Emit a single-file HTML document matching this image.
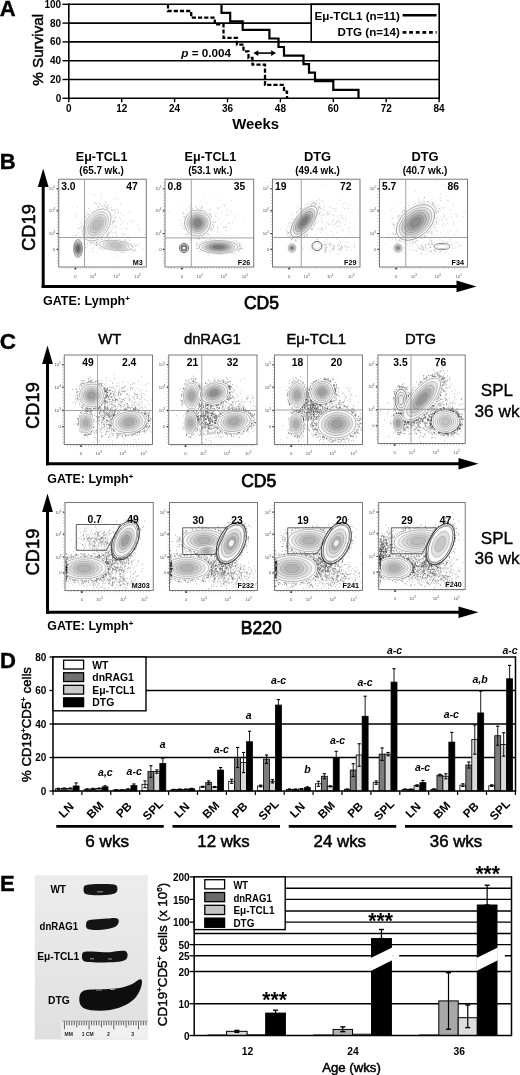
<!DOCTYPE html>
<html><head><meta charset="utf-8"><style>
html,body{margin:0;padding:0;background:#fff;}
body{width:520px;height:1075px;overflow:hidden;}
svg{display:block;font-family:"Liberation Sans", sans-serif;will-change:transform;}
</style></head><body>
<svg width="520" height="1075" viewBox="0 0 520 1075">
<rect width="520" height="1075" fill="#fff"/>
<text x="-0.3" y="16.3" font-size="22" font-weight="bold" text-anchor="start" stroke="#000" stroke-width="0.4">A</text>
<line x1="68.80" y1="98.30" x2="439.20" y2="98.30" stroke="#000" stroke-width="1.6" />
<line x1="62.50" y1="98.30" x2="68.80" y2="98.30" stroke="#000" stroke-width="1.4" />
<text x="61.2" y="101.8" font-size="10" font-weight="bold" text-anchor="end" >0</text>
<line x1="68.80" y1="79.50" x2="439.20" y2="79.50" stroke="#000" stroke-width="1.6" />
<line x1="62.50" y1="79.50" x2="68.80" y2="79.50" stroke="#000" stroke-width="1.4" />
<text x="61.2" y="83.0" font-size="10" font-weight="bold" text-anchor="end" >20</text>
<line x1="68.80" y1="60.70" x2="439.20" y2="60.70" stroke="#000" stroke-width="1.6" />
<line x1="62.50" y1="60.70" x2="68.80" y2="60.70" stroke="#000" stroke-width="1.4" />
<text x="61.2" y="64.2" font-size="10" font-weight="bold" text-anchor="end" >40</text>
<line x1="68.80" y1="41.90" x2="439.20" y2="41.90" stroke="#000" stroke-width="1.6" />
<line x1="62.50" y1="41.90" x2="68.80" y2="41.90" stroke="#000" stroke-width="1.4" />
<text x="61.2" y="45.4" font-size="10" font-weight="bold" text-anchor="end" >60</text>
<line x1="68.80" y1="23.10" x2="439.20" y2="23.10" stroke="#000" stroke-width="1.6" />
<line x1="62.50" y1="23.10" x2="68.80" y2="23.10" stroke="#000" stroke-width="1.4" />
<text x="61.2" y="26.6" font-size="10" font-weight="bold" text-anchor="end" >80</text>
<line x1="68.80" y1="4.30" x2="439.20" y2="4.30" stroke="#000" stroke-width="1.6" />
<line x1="62.50" y1="4.30" x2="68.80" y2="4.30" stroke="#000" stroke-width="1.4" />
<text x="61.2" y="7.8" font-size="10" font-weight="bold" text-anchor="end" >100</text>
<line x1="68.80" y1="3.50" x2="68.80" y2="99.10" stroke="#000" stroke-width="1.6" />
<line x1="439.20" y1="3.50" x2="439.20" y2="99.10" stroke="#000" stroke-width="1.6" />
<line x1="68.80" y1="98.30" x2="68.80" y2="102.30" stroke="#000" stroke-width="1.4" />
<text x="68.8" y="111.8" font-size="10" font-weight="bold" text-anchor="middle" >0</text>
<line x1="121.70" y1="98.30" x2="121.70" y2="102.30" stroke="#000" stroke-width="1.4" />
<text x="121.7" y="111.8" font-size="10" font-weight="bold" text-anchor="middle" >12</text>
<line x1="174.60" y1="98.30" x2="174.60" y2="102.30" stroke="#000" stroke-width="1.4" />
<text x="174.6" y="111.8" font-size="10" font-weight="bold" text-anchor="middle" >24</text>
<line x1="227.50" y1="98.30" x2="227.50" y2="102.30" stroke="#000" stroke-width="1.4" />
<text x="227.5" y="111.8" font-size="10" font-weight="bold" text-anchor="middle" >36</text>
<line x1="280.40" y1="98.30" x2="280.40" y2="102.30" stroke="#000" stroke-width="1.4" />
<text x="280.4" y="111.8" font-size="10" font-weight="bold" text-anchor="middle" >48</text>
<line x1="333.30" y1="98.30" x2="333.30" y2="102.30" stroke="#000" stroke-width="1.4" />
<text x="333.3" y="111.8" font-size="10" font-weight="bold" text-anchor="middle" >60</text>
<line x1="386.20" y1="98.30" x2="386.20" y2="102.30" stroke="#000" stroke-width="1.4" />
<text x="386.2" y="111.8" font-size="10" font-weight="bold" text-anchor="middle" >72</text>
<line x1="439.10" y1="98.30" x2="439.10" y2="102.30" stroke="#000" stroke-width="1.4" />
<text x="439.1" y="111.8" font-size="10" font-weight="bold" text-anchor="middle" >84</text>
<text x="255.7" y="128.8" font-size="15" font-weight="bold" text-anchor="middle" textLength="46.9" lengthAdjust="spacingAndGlyphs" >Weeks</text>
<text transform="translate(42.8,49.8) rotate(-90)" font-size="15.5" text-anchor="middle" textLength="72" lengthAdjust="spacingAndGlyphs" stroke="#000" stroke-width="0.45">% Survival</text>
<rect x="311.2" y="4.3" width="128" height="37.60" fill="#fff" stroke="#000" stroke-width="1.6"/>
<text x="399.8" y="20.0" font-size="11.6" font-weight="bold" text-anchor="end" textLength="85.3" lengthAdjust="spacingAndGlyphs" >E&#956;-TCL1 (n=11)</text>
<text x="399.8" y="36.3" font-size="11.6" font-weight="bold" text-anchor="end" textLength="62.2" lengthAdjust="spacingAndGlyphs" >DTG (n=14)</text>
<line x1="402.60" y1="15.20" x2="436.60" y2="15.20" stroke="#000" stroke-width="2.6" />
<line x1="402.60" y1="32.40" x2="436.60" y2="32.40" stroke="#000" stroke-width="2.6" stroke-dasharray="3.8 2.8"/>
<path d="M221.5,4.3 L221.5,12.8 L230.2,12.8 L230.2,21.4 L242.7,21.4 L242.7,29.9 L269.4,29.9 L269.4,38.5 L278.5,38.5 L278.5,47.0 L284.0,47.0 L284.0,55.6 L303.5,55.6 L303.5,64.1 L309.0,64.1 L309.0,72.7 L315.0,72.7 L315.0,81.2 L333.3,81.2 L333.3,89.8 L358.5,89.8 L358.5,98.3" fill="none" stroke="#000" stroke-width="2.2"/>
<path d="M168.0,4.3 L168.0,11.0 L191.2,11.0 L191.2,17.7 L214.8,17.7 L214.8,24.4 L223.5,24.4 L223.5,37.9 L237.0,37.9 L237.0,44.6 L243.5,44.6 L243.5,51.3 L248.5,51.3 L248.5,58.0 L252.5,58.0 L252.5,64.7 L265.0,64.7 L265.0,84.9 L284.0,84.9 L284.0,91.6 L287.0,91.6 L287.0,98.3" fill="none" stroke="#000" stroke-width="2.3" stroke-dasharray="4.2 2"/>
<text x="181.3" y="57" font-size="11.8" font-weight="bold" textLength="49.7" lengthAdjust="spacingAndGlyphs"><tspan font-style="italic">p</tspan> = 0.004</text>
<line x1="256.00" y1="53.10" x2="273.50" y2="53.10" stroke="#000" stroke-width="1.6" />
<path d="M253.3,53.1 l5,-2.8 v5.6z M276.1,53.1 l-5,-2.8 v5.6z" fill="#000"/>
<text x="-0.3" y="168.6" font-size="22" font-weight="bold" text-anchor="start" stroke="#000" stroke-width="0.4">B</text>
<line x1="43.20" y1="287.90" x2="43.20" y2="182.50" stroke="#000" stroke-width="3" />
<line x1="41.70" y1="286.40" x2="460.50" y2="286.40" stroke="#000" stroke-width="3" />
<path d="M43.2,168.5 L37.8,187.0 L48.6,187.0z" fill="#000"/>
<path d="M476.5,286.4 L456.5,280.6 L456.5,292.2z" fill="#000"/>
<text transform="translate(34.6,227.5) rotate(-90)" font-size="18.3" text-anchor="middle" stroke="#000" stroke-width="0.55">CD19</text>
<text x="261.5" y="309.3" font-size="17.5" font-weight="normal" text-anchor="middle" stroke="#000" stroke-width="0.75">CD5</text>
<text x="42.9" y="305.3" font-size="12.6" font-weight="bold" text-anchor="start" textLength="87" lengthAdjust="spacingAndGlyphs" >GATE: Lymph<tspan dy="-4.5" font-size="8">+</tspan></text>
<text x="101.6" y="161.2" font-size="12.9" font-weight="bold" text-anchor="middle" textLength="51.6" lengthAdjust="spacingAndGlyphs" >E&#956;-TCL1</text>
<text x="101.6" y="173.6" font-size="10.3" font-weight="bold" text-anchor="middle" textLength="44.5" lengthAdjust="spacingAndGlyphs" >(65.7 wk.)</text>
<text x="210.4" y="161.2" font-size="12.9" font-weight="bold" text-anchor="middle" textLength="51.6" lengthAdjust="spacingAndGlyphs" >E&#956;-TCL1</text>
<text x="210.4" y="173.6" font-size="10.3" font-weight="bold" text-anchor="middle" textLength="44.5" lengthAdjust="spacingAndGlyphs" >(53.1 wk.)</text>
<text x="317.5" y="161.2" font-size="12.9" font-weight="bold" text-anchor="middle" >DTG</text>
<text x="317.5" y="173.6" font-size="10.3" font-weight="bold" text-anchor="middle" textLength="44.5" lengthAdjust="spacingAndGlyphs" >(49.4 wk.)</text>
<text x="425.0" y="161.2" font-size="12.9" font-weight="bold" text-anchor="middle" >DTG</text>
<text x="425.0" y="173.6" font-size="10.3" font-weight="bold" text-anchor="middle" textLength="44.5" lengthAdjust="spacingAndGlyphs" >(40.7 wk.)</text>
<rect x="58.75" y="179.20" width="87.50" height="87.80" fill="none" stroke="#6a6a6a" stroke-width="0.9"/>
<line x1="57.55" y1="182.20" x2="57.55" y2="265.00" stroke="#999" stroke-width="1.2" stroke-dasharray="0.6 2.4"/>
<line x1="61.75" y1="268.20" x2="144.25" y2="268.20" stroke="#999" stroke-width="1.2" stroke-dasharray="0.6 2.4"/>
<text x="55.2" y="190.4" font-size="4.2" fill="#555" text-anchor="end">10<tspan dy="-2" font-size="3">5</tspan></text>
<rect x="56.5" y="188.3" width="1.6" height="1.2" fill="#333"/>
<text x="55.2" y="212.3" font-size="4.2" fill="#555" text-anchor="end">10<tspan dy="-2" font-size="3">4</tspan></text>
<rect x="56.5" y="210.2" width="1.6" height="1.2" fill="#333"/>
<text x="55.2" y="235.1" font-size="4.2" fill="#555" text-anchor="end">10<tspan dy="-2" font-size="3">3</tspan></text>
<rect x="56.5" y="233.0" width="1.6" height="1.2" fill="#333"/>
<text x="55.2" y="250.9" font-size="4.2" fill="#555" text-anchor="end">0</text>
<rect x="56.5" y="248.8" width="1.6" height="1.2" fill="#333"/>
<text x="75.4" y="277.5" font-size="4.2" fill="#555" text-anchor="middle">0</text>
<text x="92.9" y="277.5" font-size="4.2" fill="#555" text-anchor="middle">10<tspan dy="-2" font-size="3">3</tspan></text>
<text x="116.5" y="277.5" font-size="4.2" fill="#555" text-anchor="middle">10<tspan dy="-2" font-size="3">4</tspan></text>
<text x="137.5" y="277.5" font-size="4.2" fill="#555" text-anchor="middle">10<tspan dy="-2" font-size="3">5</tspan></text>
<rect x="74.6" y="267.8" width="1.6" height="1.6" fill="#222"/>
<clipPath id="cp1"><rect x="59.25" y="179.70" width="86.50" height="86.80"/></clipPath><g clip-path="url(#cp1)">
<path d="M84.4 230.9h0.8M119.9 219.3h0.8M82.7 225.1h0.8M111.6 240.3h0.8M84.5 209.2h0.8M115.3 232.2h0.8M128.5 238.8h0.8M102.4 222.4h0.8M91.4 211.2h0.8M105.5 227.9h0.8M98.5 225.2h0.8M108.4 235.0h0.8M121.5 228.7h0.8M75.4 235.1h0.8M81.3 223.8h0.8M80.4 226.0h0.8M91.5 228.8h0.8M117.5 208.8h0.8M99.4 234.6h0.8M102.5 230.8h0.8M105.7 212.9h0.8M113.0 215.4h0.8M133.9 219.4h0.8M115.0 226.0h0.8M119.2 218.2h0.8M120.0 224.4h0.8M124.2 234.1h0.8M106.3 215.9h0.8M116.3 232.1h0.8M130.3 221.1h0.8M112.9 232.6h0.8M108.5 228.7h0.8M106.9 218.2h0.8M87.8 220.8h0.8M113.5 245.6h0.8M119.6 239.7h0.8M116.4 235.1h0.8M106.9 236.0h0.8M132.4 221.7h0.8M92.9 251.5h0.8M107.9 238.6h0.8M118.0 211.2h0.8M142.9 249.1h0.8M106.8 235.8h0.8M106.0 214.5h0.8M102.2 230.9h0.8M121.9 235.2h0.8M105.0 243.6h0.8M91.8 236.3h0.8M121.8 222.2h0.8M75.4 214.2h0.8M107.8 232.9h0.8M128.8 212.9h0.8M104.0 234.4h0.8M101.5 195.2h0.8M116.9 256.1h0.8M120.1 214.1h0.8M97.4 228.9h0.8M143.8 234.0h0.8M105.8 246.2h0.8M102.7 250.2h0.8M93.0 219.8h0.8M115.5 244.5h0.8M114.5 229.9h0.8M74.9 216.7h0.8M94.2 219.1h0.8M113.4 221.6h0.8M116.6 227.1h0.8M98.7 227.5h0.8M110.9 237.2h0.8M96.4 223.0h0.8M82.2 246.8h0.8M127.2 223.7h0.8M96.3 209.9h0.8M106.7 228.7h0.8M138.9 229.2h0.8M91.6 194.2h0.8M126.6 228.5h0.8M78.3 228.3h0.8M121.9 233.4h0.8M101.2 198.2h0.8M102.0 205.8h0.8M113.5 198.2h0.8M89.5 241.9h0.8M130.3 210.6h0.8M79.5 237.4h0.8M117.6 213.2h0.8M92.9 217.0h0.8M85.0 217.2h0.8M124.0 235.0h0.8M136.9 224.9h0.8M101.8 213.2h0.8M102.0 208.9h0.8M75.6 235.1h0.8M127.0 236.9h0.8M125.3 229.3h0.8M92.5 227.1h0.8M98.0 211.6h0.8M76.9 206.7h0.8M103.9 228.0h0.8M96.4 244.6h0.8M106.9 233.6h0.8M123.5 215.3h0.8M72.5 235.8h0.8M93.0 243.0h0.8M109.4 239.1h0.8M116.2 199.0h0.8M115.5 217.2h0.8M91.9 220.3h0.8M116.3 237.5h0.8M120.2 204.4h0.8M94.6 195.1h0.8M102.4 233.8h0.8M91.8 229.2h0.8M107.7 239.1h0.8M90.9 215.2h0.8M91.8 248.8h0.8" stroke="#888" stroke-opacity="0.6" stroke-width="0.8" fill="none"/>
<path d="M108.3 230.3h0.7M104.4 234.6h0.7M115.2 217.2h0.7M92.6 211.7h0.7M83.8 236.5h0.7M95.3 241.0h0.7M80.6 222.0h0.7M86.9 241.1h0.7M94.4 244.8h0.7M83.7 223.5h0.7M98.3 206.6h0.7M112.3 228.3h0.7M103.1 207.7h0.7M90.6 244.6h0.7M108.4 234.9h0.7M91.5 242.0h0.7M83.4 241.1h0.7M86.9 214.4h0.7M96.7 210.2h0.7M111.9 210.0h0.7M115.9 221.2h0.7M107.6 205.5h0.7M95.6 244.4h0.7M111.6 222.5h0.7M77.8 232.7h0.7M111.8 210.7h0.7M112.9 226.5h0.7M89.2 242.1h0.7M106.5 207.5h0.7M107.4 205.1h0.7M85.5 248.1h0.7M111.3 230.9h0.7M89.9 214.8h0.7M112.8 222.3h0.7M111.6 217.1h0.7M83.6 224.1h0.7M91.1 213.9h0.7M106.1 236.2h0.7M114.3 209.9h0.7M91.6 243.4h0.7M83.0 234.6h0.7M94.0 242.5h0.7M88.2 216.4h0.7M105.4 202.8h0.7M115.3 226.9h0.7M99.8 238.5h0.7M87.1 243.2h0.7M106.2 209.1h0.7M99.6 203.5h0.7M91.8 212.8h0.7M80.2 239.3h0.7M114.3 220.9h0.7M87.1 245.9h0.7M86.0 212.5h0.7M92.8 211.6h0.7M85.6 216.5h0.7M95.3 203.3h0.7M87.9 216.2h0.7M82.2 228.5h0.7M84.6 217.8h0.7M104.6 205.2h0.7M82.3 227.1h0.7M110.5 227.7h0.7M85.2 220.7h0.7M95.9 245.3h0.7M112.7 221.2h0.7M85.6 220.4h0.7M97.0 208.4h0.7M113.2 224.0h0.7M106.8 235.8h0.7M90.3 241.8h0.7M79.5 238.5h0.7M82.1 233.1h0.7M106.7 208.6h0.7M96.5 242.3h0.7M90.2 241.2h0.7M88.4 214.1h0.7M82.6 227.1h0.7M89.1 215.1h0.7M98.3 207.9h0.7M99.5 203.5h0.7M96.4 209.4h0.7M111.4 217.3h0.7M114.4 210.1h0.7M111.6 221.7h0.7M112.2 223.8h0.7M85.3 247.4h0.7M95.6 240.5h0.7M87.1 240.5h0.7M99.1 241.0h0.7M114.9 212.5h0.7M96.2 242.7h0.7M83.2 228.1h0.7M89.8 241.6h0.7M105.0 201.6h0.7M97.3 243.8h0.7M87.8 217.8h0.7M104.2 205.0h0.7M90.4 242.5h0.7M104.0 235.3h0.7M89.9 211.2h0.7M94.4 241.1h0.7M90.7 242.9h0.7M110.7 232.8h0.7M110.8 224.3h0.7M109.6 226.9h0.7M85.2 222.0h0.7M83.6 221.0h0.7M86.6 215.1h0.7M106.5 233.7h0.7M104.5 207.8h0.7M83.8 222.7h0.7M107.7 208.2h0.7M92.6 242.2h0.7M84.8 214.0h0.7M110.3 212.6h0.7M105.6 206.1h0.7M80.5 228.5h0.7M94.5 203.1h0.7M110.1 213.2h0.7M83.2 243.4h0.7M110.9 209.3h0.7M114.9 210.2h0.7M114.3 218.4h0.7M103.7 208.3h0.7M78.8 228.7h0.7M107.0 206.8h0.7M84.9 221.1h0.7M107.2 233.9h0.7M97.7 206.6h0.7M85.2 244.7h0.7M81.9 235.0h0.7M101.5 205.4h0.7M81.7 229.8h0.7M108.3 232.9h0.7M110.7 207.3h0.7M110.5 231.0h0.7M107.0 209.2h0.7M85.7 240.2h0.7M90.2 241.7h0.7M81.3 231.4h0.7M111.8 222.0h0.7M88.2 208.5h0.7M92.6 212.6h0.7M109.0 232.6h0.7M101.6 241.2h0.7M95.2 211.1h0.7M110.7 224.7h0.7M92.9 242.9h0.7M87.1 218.7h0.7M96.2 203.9h0.7M81.5 226.5h0.7M88.3 214.6h0.7M83.5 239.3h0.7M100.7 206.7h0.7M105.6 208.2h0.7M82.5 239.1h0.7M103.4 235.4h0.7M93.6 241.0h0.7M113.5 220.7h0.7" stroke="#777" stroke-opacity="0.7" stroke-width="0.7" fill="none"/>
<path d="M116.6 237.0h0.7M135.8 245.5h0.7M134.2 250.1h0.7M96.7 244.3h0.7M133.0 246.4h0.7M136.6 245.1h0.7M112.0 236.8h0.7M124.4 241.2h0.7M99.4 239.9h0.7M95.8 245.1h0.7M121.6 252.3h0.7M128.8 250.7h0.7M97.8 245.6h0.7M113.8 251.5h0.7M96.1 240.0h0.7M96.0 242.2h0.7M139.5 247.9h0.7M116.8 251.2h0.7M132.7 251.7h0.7M101.2 239.4h0.7M104.3 248.4h0.7M94.9 240.5h0.7M98.2 240.1h0.7M123.5 252.4h0.7M115.4 253.2h0.7M129.5 243.2h0.7M135.3 249.0h0.7M99.6 246.2h0.7M101.4 239.6h0.7M133.8 250.0h0.7M132.2 250.2h0.7M101.8 239.3h0.7M101.7 248.2h0.7M105.9 248.7h0.7M116.0 240.2h0.7M129.0 250.6h0.7M124.7 240.3h0.7M120.4 252.3h0.7M100.4 246.2h0.7M98.7 249.0h0.7M104.8 239.3h0.7M99.8 242.3h0.7M116.1 239.3h0.7M102.6 248.2h0.7M130.5 250.1h0.7M131.4 249.8h0.7M94.8 240.6h0.7M110.2 249.9h0.7M119.7 240.2h0.7M106.9 239.9h0.7M132.4 250.0h0.7M108.6 238.2h0.7M111.4 250.7h0.7M113.6 239.4h0.7M100.9 248.7h0.7M96.9 240.8h0.7M138.7 244.2h0.7M96.9 245.8h0.7M122.5 241.1h0.7M99.2 247.3h0.7M134.1 245.1h0.7M103.4 248.5h0.7M102.5 248.5h0.7M100.3 247.7h0.7M123.4 253.0h0.7M96.9 242.0h0.7M126.5 241.7h0.7M117.6 240.3h0.7M128.9 243.4h0.7M98.4 243.1h0.7M90.3 240.6h0.7M104.1 239.1h0.7M123.9 240.2h0.7M121.1 240.5h0.7M135.4 251.0h0.7M132.7 243.7h0.7M131.6 249.9h0.7M116.1 240.0h0.7M106.3 240.4h0.7M118.5 239.9h0.7M98.9 243.0h0.7M104.4 249.6h0.7M135.0 246.4h0.7M95.5 241.9h0.7M113.1 239.5h0.7M93.6 247.3h0.7M126.3 241.0h0.7M125.0 239.7h0.7M129.3 240.5h0.7M101.5 238.5h0.7" stroke="#777" stroke-opacity="0.7" stroke-width="0.7" fill="none"/>
<ellipse cx="116.0" cy="245.5" rx="17.60" ry="5.60" transform="rotate(6 116.0 245.5)" fill="#fff" stroke="#fff" stroke-width="1.4"/>
<ellipse cx="116.0" cy="245.5" rx="17.00" ry="5.00" transform="rotate(6 116.0 245.5)" fill="#fafafa" stroke="#999" stroke-width="0.65"/>
<ellipse cx="116.0" cy="245.5" rx="13.39" ry="3.94" transform="rotate(6 116.0 245.5)" fill="#e9e9e9" stroke="#999" stroke-width="0.42"/>
<ellipse cx="116.0" cy="245.5" rx="9.77" ry="2.88" transform="rotate(6 116.0 245.5)" fill="#d7d7d7" stroke="#999" stroke-width="0.42"/>
<ellipse cx="116.0" cy="245.5" rx="6.16" ry="1.81" transform="rotate(6 116.0 245.5)" fill="#c6c6c6" stroke="#999" stroke-width="0.42"/>
<ellipse cx="97.0" cy="225.0" rx="12.10" ry="18.60" transform="rotate(35 97.0 225.0)" fill="#fff" stroke="#fff" stroke-width="1.4"/>
<ellipse cx="97.0" cy="225.0" rx="11.50" ry="18.00" transform="rotate(35 97.0 225.0)" fill="#fafafa" stroke="#999" stroke-width="0.65"/>
<ellipse cx="97.0" cy="225.0" rx="9.54" ry="14.94" transform="rotate(35 97.0 225.0)" fill="#ebebeb" stroke="#999" stroke-width="0.42"/>
<ellipse cx="97.0" cy="225.0" rx="7.59" ry="11.88" transform="rotate(35 97.0 225.0)" fill="#dbdbdb" stroke="#999" stroke-width="0.42"/>
<ellipse cx="97.0" cy="225.0" rx="5.63" ry="8.82" transform="rotate(35 97.0 225.0)" fill="#cccccc" stroke="#999" stroke-width="0.42"/>
<ellipse cx="97.0" cy="225.0" rx="3.68" ry="5.76" transform="rotate(35 97.0 225.0)" fill="#bcbcbc" stroke="#999" stroke-width="0.42"/>
<ellipse cx="78.0" cy="248.5" rx="5.00" ry="9.60" transform="rotate(0 78.0 248.5)" fill="#fff" stroke="#fff" stroke-width="1.4"/>
<ellipse cx="78.0" cy="248.5" rx="4.40" ry="9.00" transform="rotate(0 78.0 248.5)" fill="#fafafa" stroke="#555" stroke-width="0.65"/>
<ellipse cx="78.0" cy="248.5" rx="3.65" ry="7.47" transform="rotate(0 78.0 248.5)" fill="#d5d5d5" stroke="#555" stroke-width="0.42"/>
<ellipse cx="78.0" cy="248.5" rx="2.90" ry="5.94" transform="rotate(0 78.0 248.5)" fill="#b0b0b0" stroke="#555" stroke-width="0.42"/>
<ellipse cx="78.0" cy="248.5" rx="2.16" ry="4.41" transform="rotate(0 78.0 248.5)" fill="#8b8b8b" stroke="#555" stroke-width="0.42"/>
<ellipse cx="78.0" cy="248.5" rx="1.41" ry="2.88" transform="rotate(0 78.0 248.5)" fill="#666666" stroke="#555" stroke-width="0.42"/>
</g>
<line x1="84.50" y1="179.20" x2="84.50" y2="267.00" stroke="#8a8a8a" stroke-width="0.8" />
<line x1="58.75" y1="237.50" x2="146.25" y2="237.50" stroke="#8a8a8a" stroke-width="0.8" />
<text x="61.2" y="189.5" font-size="10.3" font-weight="bold" text-anchor="start" >3.0</text>
<text x="137.8" y="189.5" font-size="10.3" font-weight="bold" text-anchor="end" >47</text>
<text x="142.8" y="264.5" font-size="7.2" font-weight="bold" text-anchor="end" >M3</text>
<rect x="165.00" y="179.20" width="88.75" height="87.80" fill="none" stroke="#6a6a6a" stroke-width="0.9"/>
<line x1="163.80" y1="182.20" x2="163.80" y2="265.00" stroke="#999" stroke-width="1.2" stroke-dasharray="0.6 2.4"/>
<line x1="168.00" y1="268.20" x2="251.75" y2="268.20" stroke="#999" stroke-width="1.2" stroke-dasharray="0.6 2.4"/>
<text x="161.5" y="190.4" font-size="4.2" fill="#555" text-anchor="end">10<tspan dy="-2" font-size="3">5</tspan></text>
<rect x="162.8" y="188.3" width="1.6" height="1.2" fill="#333"/>
<text x="161.5" y="212.3" font-size="4.2" fill="#555" text-anchor="end">10<tspan dy="-2" font-size="3">4</tspan></text>
<rect x="162.8" y="210.2" width="1.6" height="1.2" fill="#333"/>
<text x="161.5" y="235.1" font-size="4.2" fill="#555" text-anchor="end">10<tspan dy="-2" font-size="3">3</tspan></text>
<rect x="162.8" y="233.0" width="1.6" height="1.2" fill="#333"/>
<text x="161.5" y="250.9" font-size="4.2" fill="#555" text-anchor="end">0</text>
<rect x="162.8" y="248.8" width="1.6" height="1.2" fill="#333"/>
<text x="181.9" y="277.5" font-size="4.2" fill="#555" text-anchor="middle">0</text>
<text x="199.6" y="277.5" font-size="4.2" fill="#555" text-anchor="middle">10<tspan dy="-2" font-size="3">3</tspan></text>
<text x="223.6" y="277.5" font-size="4.2" fill="#555" text-anchor="middle">10<tspan dy="-2" font-size="3">4</tspan></text>
<text x="244.9" y="277.5" font-size="4.2" fill="#555" text-anchor="middle">10<tspan dy="-2" font-size="3">5</tspan></text>
<rect x="181.1" y="267.8" width="1.6" height="1.6" fill="#222"/>
<clipPath id="cp2"><rect x="165.50" y="179.70" width="87.75" height="86.80"/></clipPath><g clip-path="url(#cp2)">
<path d="M184.0 218.7h0.8M218.1 208.1h0.8M203.1 225.8h0.8M204.3 228.0h0.8M217.4 236.1h0.8M199.6 257.7h0.8M226.4 226.4h0.8M231.5 235.4h0.8M213.8 213.3h0.8M230.4 227.9h0.8M177.9 206.5h0.8M220.4 223.5h0.8M217.0 231.0h0.8M214.6 244.2h0.8M201.4 216.4h0.8M217.8 232.4h0.8M226.2 242.8h0.8M203.4 238.3h0.8M220.4 207.4h0.8M209.5 251.2h0.8M226.1 215.4h0.8M168.8 211.7h0.8M199.4 223.1h0.8M217.6 208.9h0.8M190.6 219.1h0.8M203.6 264.1h0.8M204.7 213.4h0.8M232.3 223.1h0.8M189.8 240.1h0.8M206.4 203.4h0.8M217.8 228.8h0.8M205.9 231.8h0.8M226.8 209.6h0.8M175.0 188.5h0.8M209.7 239.2h0.8M230.0 241.5h0.8M245.4 222.2h0.8M231.0 200.6h0.8M224.4 227.5h0.8M210.3 215.8h0.8M191.9 224.0h0.8M235.0 216.9h0.8M221.6 212.7h0.8M216.6 207.9h0.8M218.8 218.9h0.8M217.7 213.5h0.8M190.8 217.4h0.8M230.7 244.1h0.8M206.2 233.2h0.8M225.7 227.5h0.8M184.1 226.5h0.8M194.5 238.5h0.8M226.2 230.6h0.8M166.4 230.7h0.8M224.6 204.1h0.8M229.5 223.1h0.8M208.7 212.0h0.8M193.7 215.9h0.8M215.7 212.9h0.8M200.9 214.3h0.8M196.0 234.3h0.8M207.1 234.1h0.8M191.2 235.0h0.8M211.5 231.3h0.8M210.1 209.6h0.8M233.8 215.9h0.8M209.4 209.6h0.8M215.7 216.5h0.8M217.1 226.8h0.8M199.6 202.3h0.8M219.8 234.8h0.8M224.5 206.0h0.8M222.9 227.4h0.8M217.1 228.0h0.8M206.2 225.0h0.8M228.7 214.9h0.8M186.1 220.5h0.8M215.5 196.2h0.8M199.8 230.3h0.8M209.3 223.3h0.8M189.3 234.7h0.8M243.6 219.2h0.8M198.8 205.8h0.8M228.0 223.5h0.8M197.7 239.0h0.8M225.8 230.4h0.8M180.3 220.5h0.8M223.3 204.9h0.8M228.7 242.0h0.8M230.6 211.9h0.8M199.3 235.2h0.8M229.9 239.2h0.8M233.6 220.6h0.8M204.6 196.0h0.8M226.1 253.9h0.8M203.7 215.3h0.8M223.7 227.2h0.8" stroke="#999" stroke-opacity="0.6" stroke-width="0.8" fill="none"/>
<path d="M185.4 216.7h0.7M211.0 216.5h0.7M188.4 233.9h0.7M210.6 220.8h0.7M207.6 234.6h0.7M183.9 217.5h0.7M185.0 218.0h0.7M215.6 222.1h0.7M203.2 210.3h0.7M203.7 210.8h0.7M194.0 237.0h0.7M184.9 216.7h0.7M204.4 210.6h0.7M211.4 230.2h0.7M213.1 226.2h0.7M215.4 215.9h0.7M189.7 211.1h0.7M196.2 206.8h0.7M185.3 234.2h0.7M212.7 224.6h0.7M202.0 236.6h0.7M187.5 231.7h0.7M184.5 216.9h0.7M196.2 238.5h0.7M184.2 216.9h0.7M213.0 226.8h0.7M189.6 208.4h0.7M183.2 212.6h0.7M182.0 226.0h0.7M192.0 209.3h0.7M198.2 210.0h0.7M213.2 222.5h0.7M205.1 210.7h0.7M183.9 229.0h0.7M183.4 216.8h0.7M183.1 220.7h0.7M184.1 229.1h0.7M210.8 227.8h0.7M195.0 207.1h0.7M185.0 214.2h0.7M197.7 208.9h0.7M211.9 229.8h0.7M208.6 234.0h0.7M186.4 231.4h0.7M210.7 227.5h0.7M198.6 238.7h0.7M192.5 236.5h0.7M210.3 228.9h0.7M211.4 214.3h0.7M206.7 212.8h0.7M185.6 229.4h0.7M197.2 208.4h0.7M184.8 217.3h0.7M201.1 209.9h0.7M210.7 236.0h0.7M211.8 223.1h0.7M198.0 236.6h0.7M211.3 228.7h0.7M208.5 214.5h0.7M188.1 234.9h0.7M185.8 216.1h0.7M208.1 215.2h0.7M190.9 240.2h0.7M210.4 221.1h0.7M184.2 225.3h0.7M210.7 216.0h0.7M209.1 214.2h0.7M187.0 236.7h0.7M182.5 225.6h0.7M214.7 222.5h0.7M201.7 236.4h0.7M207.8 213.3h0.7M212.7 227.9h0.7M191.6 237.1h0.7M210.1 213.9h0.7M207.9 234.8h0.7M192.4 208.5h0.7M209.8 229.7h0.7M199.9 237.1h0.7M202.9 238.5h0.7M203.1 235.1h0.7M201.6 207.1h0.7M186.7 234.2h0.7M183.0 213.8h0.7M199.4 237.6h0.7M188.5 207.3h0.7M195.2 236.5h0.7M211.2 221.5h0.7M182.8 228.8h0.7M210.5 226.8h0.7M186.7 215.2h0.7M202.3 209.1h0.7M209.3 230.2h0.7M197.9 239.8h0.7M194.9 237.2h0.7M208.2 214.9h0.7M213.0 221.8h0.7M197.6 209.5h0.7M185.9 233.3h0.7M203.5 235.8h0.7M184.0 218.1h0.7M189.5 210.6h0.7M200.7 207.6h0.7M205.0 212.0h0.7M190.0 205.9h0.7M203.8 235.2h0.7M200.2 208.6h0.7M198.9 238.7h0.7M184.8 228.0h0.7M201.9 206.5h0.7M198.8 237.6h0.7M186.0 216.7h0.7M181.4 223.1h0.7M194.5 209.6h0.7M184.9 216.8h0.7M205.6 234.5h0.7M212.9 224.7h0.7M185.3 227.7h0.7M196.4 236.2h0.7M209.1 215.4h0.7" stroke="#777" stroke-opacity="0.7" stroke-width="0.7" fill="none"/>
<path d="M196.3 243.6h0.7M220.1 253.9h0.7M230.5 252.3h0.7M210.5 253.2h0.7M202.7 242.0h0.7M201.6 243.5h0.7M235.7 250.6h0.7M217.9 254.0h0.7M230.0 253.0h0.7M224.1 239.0h0.7M238.8 249.7h0.7M222.9 253.8h0.7M240.9 245.6h0.7M219.9 240.2h0.7M239.9 246.4h0.7M217.8 239.7h0.7M237.8 248.6h0.7M234.6 253.6h0.7M202.5 251.2h0.7M238.4 250.5h0.7M242.4 248.7h0.7M216.5 240.5h0.7M221.0 253.5h0.7M219.7 254.7h0.7M197.1 248.8h0.7M207.8 252.9h0.7M238.5 246.2h0.7M202.1 250.8h0.7M205.5 241.1h0.7M211.5 240.6h0.7M234.7 240.8h0.7M196.3 248.8h0.7M202.0 251.4h0.7M222.8 239.8h0.7M222.9 253.7h0.7M198.5 244.9h0.7M228.8 252.7h0.7M197.5 248.4h0.7M208.3 255.8h0.7M208.8 240.2h0.7M231.7 241.9h0.7M238.5 250.3h0.7M210.9 240.5h0.7M239.6 247.8h0.7M226.7 253.0h0.7M238.4 243.5h0.7M214.2 240.5h0.7M231.2 253.1h0.7M239.4 244.1h0.7M214.6 239.3h0.7M236.9 242.9h0.7M203.7 251.4h0.7M237.1 250.6h0.7M221.3 240.0h0.7M196.4 246.1h0.7M220.0 253.8h0.7M239.6 248.8h0.7M240.7 248.5h0.7M209.8 254.0h0.7M232.4 252.3h0.7M213.2 240.6h0.7M206.3 240.0h0.7M230.6 252.4h0.7M213.5 239.9h0.7M198.7 251.5h0.7M222.0 254.7h0.7M213.1 253.6h0.7M239.0 248.8h0.7M240.3 248.1h0.7M226.5 240.1h0.7M239.1 245.9h0.7M239.2 243.2h0.7M223.0 253.9h0.7M241.1 244.8h0.7M232.0 242.1h0.7M238.5 251.2h0.7M200.3 250.0h0.7M203.5 251.5h0.7M208.2 253.4h0.7M229.1 252.5h0.7M201.1 251.1h0.7M208.5 241.3h0.7M219.9 254.2h0.7M200.0 250.3h0.7M232.2 253.3h0.7M197.9 244.6h0.7M211.6 239.9h0.7M205.4 252.0h0.7M237.2 249.6h0.7M198.5 247.2h0.7M199.6 243.2h0.7M218.1 253.7h0.7M241.3 248.1h0.7M196.0 243.7h0.7M217.0 253.8h0.7M197.8 248.4h0.7M201.9 242.1h0.7M200.5 243.9h0.7M237.3 244.6h0.7M201.4 241.6h0.7M200.3 250.8h0.7M228.4 240.9h0.7M236.1 241.5h0.7M241.7 248.9h0.7M233.0 252.5h0.7M206.0 252.0h0.7M238.9 246.0h0.7M221.3 254.0h0.7M210.2 241.1h0.7M199.6 245.2h0.7M203.0 251.1h0.7M205.1 240.8h0.7M197.3 244.8h0.7M229.3 240.6h0.7M239.0 245.6h0.7M235.0 242.2h0.7M210.6 253.3h0.7M209.2 239.7h0.7M238.3 245.5h0.7M203.3 242.1h0.7" stroke="#777" stroke-opacity="0.7" stroke-width="0.7" fill="none"/>
<ellipse cx="218.5" cy="247.0" rx="20.10" ry="7.10" transform="rotate(0 218.5 247.0)" fill="#fff" stroke="#fff" stroke-width="1.4"/>
<ellipse cx="218.5" cy="247.0" rx="19.50" ry="6.50" transform="rotate(0 218.5 247.0)" fill="#fafafa" stroke="#888" stroke-width="0.65"/>
<ellipse cx="218.5" cy="247.0" rx="16.18" ry="5.39" transform="rotate(0 218.5 247.0)" fill="#dadada" stroke="#888" stroke-width="0.42"/>
<ellipse cx="218.5" cy="247.0" rx="12.87" ry="4.29" transform="rotate(0 218.5 247.0)" fill="#bababa" stroke="#888" stroke-width="0.42"/>
<ellipse cx="218.5" cy="247.0" rx="9.55" ry="3.19" transform="rotate(0 218.5 247.0)" fill="#999999" stroke="#888" stroke-width="0.42"/>
<ellipse cx="218.5" cy="247.0" rx="6.24" ry="2.08" transform="rotate(0 218.5 247.0)" fill="#797979" stroke="#888" stroke-width="0.42"/>
<ellipse cx="197.5" cy="223.0" rx="13.60" ry="13.60" transform="rotate(0 197.5 223.0)" fill="#fff" stroke="#fff" stroke-width="1.4"/>
<ellipse cx="197.5" cy="223.0" rx="13.00" ry="13.00" transform="rotate(0 197.5 223.0)" fill="#fafafa" stroke="#888" stroke-width="0.65"/>
<ellipse cx="197.5" cy="223.0" rx="10.79" ry="10.79" transform="rotate(0 197.5 223.0)" fill="#dcdcdc" stroke="#888" stroke-width="0.42"/>
<ellipse cx="197.5" cy="223.0" rx="8.58" ry="8.58" transform="rotate(0 197.5 223.0)" fill="#bebebe" stroke="#888" stroke-width="0.42"/>
<ellipse cx="197.5" cy="223.0" rx="6.37" ry="6.37" transform="rotate(0 197.5 223.0)" fill="#a1a1a1" stroke="#888" stroke-width="0.42"/>
<ellipse cx="197.5" cy="223.0" rx="4.16" ry="4.16" transform="rotate(0 197.5 223.0)" fill="#838383" stroke="#888" stroke-width="0.42"/>
<ellipse cx="184.0" cy="248.0" rx="5.20" ry="5.20" transform="rotate(0 184.0 248.0)" fill="#fff" stroke="#fff" stroke-width="1.4"/>
<ellipse cx="184.0" cy="248.0" rx="4.60" ry="4.60" transform="rotate(0 184.0 248.0)" fill="#fafafa" stroke="#222" stroke-width="0.65"/>
<ellipse cx="184.0" cy="248.0" rx="3.30" ry="3.30" transform="rotate(0 184.0 248.0)" fill="#a2a2a2" stroke="#222" stroke-width="0.42"/>
<ellipse cx="184.0" cy="248.0" rx="1.99" ry="1.99" transform="rotate(0 184.0 248.0)" fill="#494949" stroke="#222" stroke-width="0.42"/>
<ellipse cx="184.0" cy="248.0" rx="1.60" ry="1.60" transform="rotate(0 184.0 248.0)" fill="#fff"/>
</g>
<line x1="191.30" y1="179.20" x2="191.30" y2="267.00" stroke="#8a8a8a" stroke-width="0.8" />
<line x1="165.00" y1="237.90" x2="253.75" y2="237.90" stroke="#8a8a8a" stroke-width="0.8" />
<text x="167.5" y="189.5" font-size="10.3" font-weight="bold" text-anchor="start" >0.8</text>
<text x="245.2" y="189.5" font-size="10.3" font-weight="bold" text-anchor="end" >35</text>
<text x="250.2" y="264.5" font-size="7.2" font-weight="bold" text-anchor="end" >F26</text>
<rect x="272.50" y="179.20" width="87.50" height="87.80" fill="none" stroke="#6a6a6a" stroke-width="0.9"/>
<line x1="271.30" y1="182.20" x2="271.30" y2="265.00" stroke="#999" stroke-width="1.2" stroke-dasharray="0.6 2.4"/>
<line x1="275.50" y1="268.20" x2="358.00" y2="268.20" stroke="#999" stroke-width="1.2" stroke-dasharray="0.6 2.4"/>
<text x="269.0" y="190.4" font-size="4.2" fill="#555" text-anchor="end">10<tspan dy="-2" font-size="3">5</tspan></text>
<rect x="270.3" y="188.3" width="1.6" height="1.2" fill="#333"/>
<text x="269.0" y="212.3" font-size="4.2" fill="#555" text-anchor="end">10<tspan dy="-2" font-size="3">4</tspan></text>
<rect x="270.3" y="210.2" width="1.6" height="1.2" fill="#333"/>
<text x="269.0" y="235.1" font-size="4.2" fill="#555" text-anchor="end">10<tspan dy="-2" font-size="3">3</tspan></text>
<rect x="270.3" y="233.0" width="1.6" height="1.2" fill="#333"/>
<text x="269.0" y="250.9" font-size="4.2" fill="#555" text-anchor="end">0</text>
<rect x="270.3" y="248.8" width="1.6" height="1.2" fill="#333"/>
<text x="289.1" y="277.5" font-size="4.2" fill="#555" text-anchor="middle">0</text>
<text x="306.6" y="277.5" font-size="4.2" fill="#555" text-anchor="middle">10<tspan dy="-2" font-size="3">3</tspan></text>
<text x="330.2" y="277.5" font-size="4.2" fill="#555" text-anchor="middle">10<tspan dy="-2" font-size="3">4</tspan></text>
<text x="351.2" y="277.5" font-size="4.2" fill="#555" text-anchor="middle">10<tspan dy="-2" font-size="3">5</tspan></text>
<rect x="288.3" y="267.8" width="1.6" height="1.6" fill="#222"/>
<clipPath id="cp3"><rect x="273.00" y="179.70" width="86.50" height="86.80"/></clipPath><g clip-path="url(#cp3)">
<path d="M309.4 222.9h0.8M321.0 229.2h0.8M329.9 207.2h0.8M331.0 231.1h0.8M325.5 228.7h0.8M321.7 221.5h0.8M335.6 223.8h0.8M350.0 233.2h0.8M343.3 230.6h0.8M332.5 208.4h0.8M346.8 242.5h0.8M333.6 219.1h0.8M329.5 236.3h0.8M334.6 210.5h0.8M327.4 213.1h0.8M327.0 211.6h0.8M316.4 239.5h0.8M346.5 203.2h0.8M314.8 216.8h0.8M324.0 205.8h0.8M344.0 203.2h0.8M341.0 230.3h0.8M324.4 214.4h0.8M331.1 223.8h0.8M297.3 207.4h0.8M338.4 220.8h0.8M323.6 210.4h0.8M319.1 213.1h0.8M354.1 227.7h0.8M333.5 224.4h0.8M324.2 241.0h0.8M338.1 221.8h0.8M328.2 224.4h0.8M312.3 218.4h0.8M320.4 229.4h0.8M339.5 200.2h0.8M326.6 233.7h0.8M309.9 208.2h0.8M345.8 220.6h0.8M323.1 207.8h0.8M332.8 215.6h0.8M333.5 227.1h0.8M341.1 218.3h0.8M321.9 222.4h0.8M328.6 224.1h0.8M321.8 219.3h0.8M321.0 215.2h0.8M332.6 235.6h0.8M321.7 228.9h0.8M335.5 223.4h0.8M340.8 215.6h0.8M338.9 225.6h0.8M275.5 226.3h0.8M339.5 245.0h0.8M313.5 223.2h0.8M335.6 210.7h0.8M348.9 227.4h0.8M317.7 208.0h0.8M323.6 250.0h0.8M301.6 229.9h0.8M328.4 214.6h0.8M339.6 223.2h0.8M334.6 225.2h0.8M313.1 237.6h0.8M322.9 235.4h0.8M341.0 222.5h0.8M332.3 221.5h0.8M301.3 218.3h0.8M336.9 203.1h0.8M306.7 234.8h0.8M342.8 203.9h0.8M337.3 221.5h0.8M345.4 218.3h0.8M326.6 213.2h0.8M332.9 220.6h0.8M319.8 218.0h0.8M318.3 229.4h0.8M313.9 203.7h0.8M314.9 234.9h0.8M322.1 229.7h0.8M341.7 216.1h0.8M342.0 228.0h0.8M329.4 213.7h0.8M329.1 206.9h0.8M325.8 215.2h0.8M337.0 226.1h0.8M320.0 232.3h0.8M348.9 222.8h0.8M318.4 228.0h0.8M291.6 215.2h0.8M339.3 245.7h0.8M318.5 240.1h0.8M292.9 235.1h0.8M333.1 234.1h0.8M327.3 214.8h0.8M326.5 239.9h0.8M343.4 218.6h0.8M336.1 232.3h0.8M339.0 221.6h0.8M319.7 213.2h0.8M323.2 215.5h0.8M305.1 205.3h0.8M344.0 208.7h0.8M309.3 221.5h0.8M353.0 237.0h0.8M323.5 209.7h0.8M321.5 211.2h0.8M321.3 227.8h0.8M313.2 212.7h0.8M325.9 221.7h0.8M317.9 212.6h0.8M312.1 213.1h0.8M338.4 219.1h0.8M280.7 229.4h0.8M329.0 211.6h0.8M326.0 185.9h0.8M303.7 235.9h0.8M318.3 222.5h0.8M342.4 207.3h0.8M357.8 213.4h0.8M335.7 208.3h0.8M335.9 221.8h0.8M347.3 208.2h0.8M329.9 243.8h0.8M311.0 226.2h0.8M337.0 216.1h0.8M325.7 238.9h0.8M348.2 228.8h0.8M334.3 208.4h0.8M331.5 243.5h0.8M346.8 205.7h0.8M296.9 214.1h0.8M332.7 215.4h0.8M325.1 226.1h0.8M344.3 224.5h0.8M350.0 204.9h0.8M337.5 227.1h0.8M306.2 237.0h0.8M304.4 204.7h0.8M336.1 238.3h0.8M348.4 208.4h0.8M337.8 238.9h0.8M327.4 222.9h0.8M322.6 230.8h0.8M321.1 214.9h0.8" stroke="#999" stroke-opacity="0.6" stroke-width="0.8" fill="none"/>
<path d="M315.3 244.7h0.8M332.7 248.2h0.8M325.3 244.4h0.8M334.1 247.9h0.8M345.4 245.8h0.8M325.0 248.3h0.8M348.4 246.9h0.8M329.0 244.6h0.8M325.5 249.4h0.8M340.3 249.8h0.8M310.2 249.1h0.8M318.9 248.5h0.8M301.4 246.8h0.8M319.3 250.2h0.8M331.5 250.3h0.8M324.7 252.0h0.8M324.6 251.8h0.8M324.1 244.5h0.8M340.9 246.0h0.8M329.3 243.6h0.8M325.9 247.3h0.8M321.5 248.0h0.8M302.2 249.3h0.8M325.1 250.7h0.8M325.8 245.3h0.8M324.6 247.7h0.8M337.2 245.8h0.8M320.4 248.1h0.8M340.0 242.6h0.8M317.3 245.3h0.8M350.7 250.1h0.8M339.7 248.3h0.8M316.4 249.8h0.8M324.6 245.0h0.8M353.5 243.3h0.8M346.8 247.5h0.8M318.8 247.5h0.8M319.8 247.5h0.8M322.2 244.0h0.8M342.0 246.9h0.8M338.2 243.8h0.8M317.4 238.7h0.8M342.2 248.1h0.8M315.7 249.1h0.8M337.2 254.4h0.8M332.9 249.3h0.8M337.5 249.0h0.8M329.7 246.0h0.8M338.7 250.1h0.8M315.9 244.1h0.8M329.5 251.6h0.8M327.5 242.7h0.8M339.9 248.9h0.8M353.7 247.5h0.8M354.0 245.2h0.8M341.0 247.4h0.8M315.6 246.3h0.8M346.2 249.8h0.8M325.5 249.8h0.8M341.0 249.3h0.8M333.5 247.8h0.8M320.0 246.8h0.8M331.6 245.1h0.8M326.6 247.4h0.8M332.7 249.7h0.8M317.6 246.0h0.8M333.3 246.1h0.8M334.1 245.8h0.8M344.4 246.4h0.8" stroke="#777" stroke-opacity="0.7" stroke-width="0.8" fill="none"/>
<path d="M296.5 241.1h0.7M316.1 202.1h0.7M297.0 238.4h0.7M302.6 210.6h0.7M296.0 217.6h0.7M290.1 236.3h0.7M318.0 206.3h0.7M314.8 204.5h0.7M291.2 226.7h0.7M297.2 237.5h0.7M317.3 211.1h0.7M311.3 204.7h0.7M304.6 236.4h0.7M308.3 206.8h0.7M314.4 202.7h0.7M310.1 205.1h0.7M298.7 237.7h0.7M312.0 229.4h0.7M300.7 238.0h0.7M301.8 236.0h0.7M296.1 237.9h0.7M304.1 209.3h0.7M320.3 207.1h0.7M298.5 237.0h0.7M313.9 224.6h0.7M305.9 233.2h0.7M292.9 237.1h0.7M289.6 241.4h0.7M320.8 201.1h0.7M319.0 203.0h0.7M288.4 232.5h0.7M290.2 230.8h0.7M300.9 236.4h0.7M287.4 233.5h0.7M306.0 234.7h0.7M297.6 215.9h0.7M318.6 207.9h0.7M309.6 229.1h0.7M299.7 209.1h0.7M297.6 239.1h0.7M308.1 230.2h0.7M315.5 205.3h0.7M303.7 208.8h0.7M302.5 208.9h0.7M300.0 212.6h0.7M298.0 214.7h0.7M319.2 206.9h0.7M312.6 203.4h0.7M285.8 229.4h0.7M297.1 215.7h0.7M286.5 235.1h0.7M297.3 236.9h0.7M288.2 223.7h0.7M317.8 210.4h0.7M298.3 211.0h0.7M300.0 237.3h0.7M294.6 238.4h0.7M305.3 232.9h0.7M295.5 217.4h0.7M303.9 209.1h0.7M291.4 224.6h0.7M317.3 214.1h0.7M306.5 234.3h0.7M311.4 205.0h0.7M315.2 223.4h0.7M304.4 207.8h0.7M318.9 213.7h0.7M318.5 206.1h0.7M294.8 240.3h0.7M312.9 202.9h0.7M292.1 237.4h0.7M298.6 212.3h0.7M317.2 213.2h0.7M289.2 232.5h0.7M314.4 222.2h0.7M302.6 235.5h0.7M288.2 232.7h0.7M290.5 232.4h0.7M304.7 207.1h0.7M291.4 239.7h0.7M316.0 204.2h0.7M314.0 226.2h0.7M310.1 228.0h0.7M311.8 228.9h0.7M318.3 209.1h0.7M293.5 219.1h0.7M294.9 239.9h0.7M316.0 203.7h0.7M311.3 203.0h0.7M312.5 225.2h0.7M296.6 215.2h0.7M305.2 207.5h0.7M317.6 207.3h0.7M287.9 236.6h0.7M304.2 236.7h0.7M296.1 212.3h0.7M300.9 208.7h0.7M314.6 224.2h0.7M316.6 222.0h0.7M317.6 214.1h0.7M296.3 212.5h0.7M312.5 202.9h0.7M290.2 222.3h0.7M291.9 218.4h0.7M308.3 232.0h0.7M311.0 229.7h0.7M312.4 227.9h0.7M310.6 227.2h0.7M307.4 230.5h0.7M292.2 238.1h0.7M309.2 229.0h0.7M290.4 238.0h0.7M307.9 204.6h0.7M306.2 204.1h0.7M286.9 231.9h0.7M290.3 235.8h0.7M288.7 225.9h0.7M311.0 228.7h0.7M319.2 207.4h0.7M299.8 212.4h0.7M313.3 225.9h0.7M295.4 218.0h0.7M314.5 202.0h0.7M302.8 234.4h0.7M312.7 225.4h0.7M312.4 205.6h0.7M287.5 226.6h0.7M319.6 211.3h0.7M285.1 237.7h0.7M306.9 235.9h0.7M307.9 203.8h0.7M318.6 209.2h0.7M322.8 201.3h0.7M290.7 222.7h0.7M305.8 207.7h0.7M320.3 208.6h0.7M290.4 236.3h0.7M302.0 237.5h0.7M291.5 237.6h0.7M295.5 241.3h0.7M291.1 239.5h0.7M289.5 234.6h0.7M315.1 204.7h0.7M306.9 231.4h0.7M303.9 235.1h0.7M318.9 199.4h0.7M315.8 200.6h0.7M313.2 203.3h0.7M319.4 204.0h0.7M293.2 222.4h0.7M286.4 231.9h0.7M321.2 208.8h0.7M291.3 236.0h0.7M317.2 213.6h0.7M307.0 207.2h0.7M316.6 208.1h0.7M303.6 208.8h0.7M287.8 234.0h0.7M297.8 215.6h0.7M317.2 210.3h0.7M299.4 209.1h0.7M297.8 237.4h0.7M303.9 233.7h0.7M298.6 214.3h0.7M311.0 229.2h0.7M303.9 234.9h0.7M291.3 223.7h0.7M308.0 206.6h0.7M316.1 219.4h0.7M292.3 238.5h0.7" stroke="#777" stroke-opacity="0.7" stroke-width="0.7" fill="none"/>
<ellipse cx="304.0" cy="221.5" rx="19.10" ry="9.10" transform="rotate(-52 304.0 221.5)" fill="#fff" stroke="#fff" stroke-width="1.4"/>
<ellipse cx="304.0" cy="221.5" rx="18.50" ry="8.50" transform="rotate(-52 304.0 221.5)" fill="#fafafa" stroke="#777" stroke-width="0.65"/>
<ellipse cx="304.0" cy="221.5" rx="15.35" ry="7.05" transform="rotate(-52 304.0 221.5)" fill="#dadada" stroke="#777" stroke-width="0.42"/>
<ellipse cx="304.0" cy="221.5" rx="12.21" ry="5.61" transform="rotate(-52 304.0 221.5)" fill="#bababa" stroke="#777" stroke-width="0.42"/>
<ellipse cx="304.0" cy="221.5" rx="9.06" ry="4.17" transform="rotate(-52 304.0 221.5)" fill="#999999" stroke="#777" stroke-width="0.42"/>
<ellipse cx="304.0" cy="221.5" rx="5.92" ry="2.72" transform="rotate(-52 304.0 221.5)" fill="#797979" stroke="#777" stroke-width="0.42"/>
<ellipse cx="292.0" cy="248.0" rx="4.40" ry="4.80" transform="rotate(0 292.0 248.0)" fill="#fff" stroke="#fff" stroke-width="1.4"/>
<ellipse cx="292.0" cy="248.0" rx="3.80" ry="4.20" transform="rotate(0 292.0 248.0)" fill="#fafafa" stroke="#888" stroke-width="0.65"/>
<ellipse cx="292.0" cy="248.0" rx="2.72" ry="3.01" transform="rotate(0 292.0 248.0)" fill="#bababa" stroke="#888" stroke-width="0.42"/>
<ellipse cx="292.0" cy="248.0" rx="1.65" ry="1.82" transform="rotate(0 292.0 248.0)" fill="#797979" stroke="#888" stroke-width="0.42"/>
<ellipse cx="317.0" cy="246.0" rx="5.60" ry="5.20" transform="rotate(0 317.0 246.0)" fill="#fff" stroke="#fff" stroke-width="1.4"/>
<ellipse cx="317.0" cy="246.0" rx="5.00" ry="4.60" transform="rotate(0 317.0 246.0)" fill="#fafafa" stroke="#222" stroke-width="0.65"/>
<ellipse cx="317.0" cy="246.0" rx="2.88" ry="2.64" transform="rotate(0 317.0 246.0)" fill="#535353" stroke="#222" stroke-width="0.42"/>
<ellipse cx="317.0" cy="246.0" rx="3.20" ry="3.00" transform="rotate(0 317.0 246.0)" fill="#fff"/>
</g>
<line x1="301.25" y1="179.20" x2="301.25" y2="267.00" stroke="#8a8a8a" stroke-width="0.8" />
<line x1="272.50" y1="237.50" x2="360.00" y2="237.50" stroke="#8a8a8a" stroke-width="0.8" />
<text x="275.0" y="189.5" font-size="10.3" font-weight="bold" text-anchor="start" >19</text>
<text x="351.5" y="189.5" font-size="10.3" font-weight="bold" text-anchor="end" >72</text>
<text x="356.5" y="264.5" font-size="7.2" font-weight="bold" text-anchor="end" >F29</text>
<rect x="379.50" y="179.20" width="88.00" height="87.80" fill="none" stroke="#6a6a6a" stroke-width="0.9"/>
<line x1="378.30" y1="182.20" x2="378.30" y2="265.00" stroke="#999" stroke-width="1.2" stroke-dasharray="0.6 2.4"/>
<line x1="382.50" y1="268.20" x2="465.50" y2="268.20" stroke="#999" stroke-width="1.2" stroke-dasharray="0.6 2.4"/>
<text x="376.0" y="190.4" font-size="4.2" fill="#555" text-anchor="end">10<tspan dy="-2" font-size="3">5</tspan></text>
<rect x="377.3" y="188.3" width="1.6" height="1.2" fill="#333"/>
<text x="376.0" y="212.3" font-size="4.2" fill="#555" text-anchor="end">10<tspan dy="-2" font-size="3">4</tspan></text>
<rect x="377.3" y="210.2" width="1.6" height="1.2" fill="#333"/>
<text x="376.0" y="235.1" font-size="4.2" fill="#555" text-anchor="end">10<tspan dy="-2" font-size="3">3</tspan></text>
<rect x="377.3" y="233.0" width="1.6" height="1.2" fill="#333"/>
<text x="376.0" y="250.9" font-size="4.2" fill="#555" text-anchor="end">0</text>
<rect x="377.3" y="248.8" width="1.6" height="1.2" fill="#333"/>
<text x="396.2" y="277.5" font-size="4.2" fill="#555" text-anchor="middle">0</text>
<text x="413.8" y="277.5" font-size="4.2" fill="#555" text-anchor="middle">10<tspan dy="-2" font-size="3">3</tspan></text>
<text x="437.6" y="277.5" font-size="4.2" fill="#555" text-anchor="middle">10<tspan dy="-2" font-size="3">4</tspan></text>
<text x="458.7" y="277.5" font-size="4.2" fill="#555" text-anchor="middle">10<tspan dy="-2" font-size="3">5</tspan></text>
<rect x="395.4" y="267.8" width="1.6" height="1.6" fill="#222"/>
<clipPath id="cp4"><rect x="380.00" y="179.70" width="87.00" height="86.80"/></clipPath><g clip-path="url(#cp4)">
<path d="M435.4 209.7h0.8M433.9 242.4h0.8M430.6 239.0h0.8M430.9 250.6h0.8M437.2 231.3h0.8M426.9 233.9h0.8M428.0 201.3h0.8M437.6 205.1h0.8M458.9 233.3h0.8M432.4 231.8h0.8M385.2 243.7h0.8M420.4 231.5h0.8M424.6 226.9h0.8M439.7 198.3h0.8M415.3 243.0h0.8M421.2 229.9h0.8M407.3 209.3h0.8M399.1 225.9h0.8M453.1 223.4h0.8M427.2 225.5h0.8M440.6 218.0h0.8M442.2 249.6h0.8M409.3 249.1h0.8M449.9 239.2h0.8M443.1 218.9h0.8M449.8 237.9h0.8M453.4 206.8h0.8M450.8 217.2h0.8M425.7 227.1h0.8M425.9 254.8h0.8M442.4 225.9h0.8M428.7 225.6h0.8M428.0 230.3h0.8M447.8 233.9h0.8M409.4 217.5h0.8M433.7 204.9h0.8M439.0 220.1h0.8M433.2 227.5h0.8M420.9 244.0h0.8M450.9 214.4h0.8M440.6 232.6h0.8M418.3 217.1h0.8M444.8 185.8h0.8M408.3 226.8h0.8M443.4 209.1h0.8M447.7 253.3h0.8M436.0 221.6h0.8M433.5 207.9h0.8M442.2 224.7h0.8M445.7 242.2h0.8M432.9 224.7h0.8M438.1 246.6h0.8M405.8 222.1h0.8M420.8 223.9h0.8M447.3 223.1h0.8M445.5 224.8h0.8M419.3 212.9h0.8M407.2 225.3h0.8M425.1 234.0h0.8M449.7 209.7h0.8M412.5 230.7h0.8M416.3 225.1h0.8M443.2 216.7h0.8M464.4 211.2h0.8M439.9 216.4h0.8M429.3 230.3h0.8M429.8 211.9h0.8M422.9 217.9h0.8M445.9 218.3h0.8M454.5 234.2h0.8M418.8 236.7h0.8M391.3 222.6h0.8M414.5 220.8h0.8M453.1 222.2h0.8M429.2 240.2h0.8M418.4 210.5h0.8M449.8 230.8h0.8M406.4 224.3h0.8M446.3 219.9h0.8M424.9 224.1h0.8M436.1 212.3h0.8M447.3 200.0h0.8M430.9 252.2h0.8M413.0 221.6h0.8M391.1 210.5h0.8M411.4 223.0h0.8M423.3 248.0h0.8M415.5 221.8h0.8M436.1 231.2h0.8M448.4 200.2h0.8M419.2 199.0h0.8M424.2 197.2h0.8M435.5 213.7h0.8M438.1 211.1h0.8M433.5 253.4h0.8M453.3 224.4h0.8M414.4 242.7h0.8M401.6 202.3h0.8M455.6 213.7h0.8M456.5 230.2h0.8M442.7 213.3h0.8M442.9 241.8h0.8M434.7 181.5h0.8M425.3 216.9h0.8M431.1 217.2h0.8M452.8 204.3h0.8M440.1 194.2h0.8M392.9 207.9h0.8M418.6 209.5h0.8M419.4 230.7h0.8M442.6 223.2h0.8M435.7 212.3h0.8M414.3 202.1h0.8M424.6 206.2h0.8M426.2 232.2h0.8M442.0 240.7h0.8M415.2 191.2h0.8M412.0 250.0h0.8M444.7 215.9h0.8M455.9 216.2h0.8M462.2 216.4h0.8M424.7 231.8h0.8M411.4 219.7h0.8M412.1 218.5h0.8M431.5 211.4h0.8M439.4 239.5h0.8M432.9 234.5h0.8M437.3 224.0h0.8M418.5 235.5h0.8M456.4 215.7h0.8M416.2 229.3h0.8M433.9 237.8h0.8M440.9 220.2h0.8M407.0 230.7h0.8M433.8 204.2h0.8M405.2 196.4h0.8M443.2 215.9h0.8M420.5 220.4h0.8M432.6 217.2h0.8M445.4 236.4h0.8M427.9 244.1h0.8M429.7 209.9h0.8M434.8 201.9h0.8" stroke="#999" stroke-opacity="0.6" stroke-width="0.8" fill="none"/>
<path d="M432.1 244.3h0.8M430.4 247.5h0.8M404.1 248.0h0.8M439.4 246.5h0.8M445.3 247.9h0.8M431.2 244.5h0.8M445.5 248.9h0.8M416.8 245.2h0.8M420.6 249.1h0.8M428.5 243.9h0.8M455.6 248.1h0.8M439.0 247.6h0.8M433.6 247.1h0.8M447.6 248.1h0.8M430.0 247.2h0.8M460.3 245.6h0.8M418.8 247.3h0.8M421.1 253.6h0.8M444.1 248.5h0.8M440.7 251.9h0.8M422.7 246.9h0.8M414.2 250.1h0.8M434.9 251.4h0.8M432.3 244.4h0.8M426.7 249.0h0.8M425.2 247.6h0.8M426.5 245.2h0.8M428.6 251.1h0.8M421.9 247.8h0.8M446.4 245.1h0.8M416.2 250.8h0.8M458.6 246.4h0.8M420.2 249.2h0.8M435.4 244.9h0.8M430.8 241.0h0.8M425.2 243.9h0.8M418.6 248.4h0.8M439.4 251.2h0.8M400.7 245.3h0.8M424.8 250.3h0.8M449.4 247.3h0.8M437.0 245.1h0.8M429.1 245.8h0.8M402.8 251.7h0.8M445.4 252.2h0.8M452.0 248.2h0.8M446.7 242.7h0.8M422.5 249.1h0.8M430.8 242.9h0.8M435.6 243.7h0.8M435.8 250.9h0.8M420.9 245.8h0.8M443.0 246.9h0.8M438.2 244.8h0.8M431.3 240.9h0.8M433.4 250.2h0.8M421.0 246.5h0.8M445.1 250.0h0.8M451.0 244.7h0.8M430.3 251.4h0.8M429.6 247.7h0.8M424.6 245.3h0.8M396.7 245.6h0.8M406.8 244.4h0.8M422.8 250.4h0.8M445.8 248.0h0.8M428.9 243.4h0.8M442.0 244.8h0.8M434.2 249.3h0.8M433.2 246.9h0.8M422.6 249.6h0.8M442.7 248.7h0.8M457.1 242.8h0.8M436.0 248.6h0.8M440.1 247.7h0.8M441.8 243.1h0.8M434.6 249.9h0.8M435.0 246.4h0.8M446.8 242.5h0.8M440.9 250.8h0.8" stroke="#777" stroke-opacity="0.7" stroke-width="0.8" fill="none"/>
<path d="M399.0 215.6h0.7M431.5 232.7h0.7M399.2 239.4h0.7M413.3 204.5h0.7M388.6 234.1h0.7M431.1 233.5h0.7M428.1 231.3h0.7M430.9 205.2h0.7M413.6 242.1h0.7M415.4 205.3h0.7M425.9 204.0h0.7M411.9 241.3h0.7M401.2 215.5h0.7M422.6 198.6h0.7M427.9 231.8h0.7M402.2 214.0h0.7M434.7 211.9h0.7M417.2 204.8h0.7M395.5 234.0h0.7M434.9 211.4h0.7M411.8 243.7h0.7M419.7 204.8h0.7M435.1 213.3h0.7M401.2 216.9h0.7M431.7 225.9h0.7M397.6 215.7h0.7M416.3 240.7h0.7M395.9 231.8h0.7M411.9 241.2h0.7M420.2 238.0h0.7M424.5 236.0h0.7M396.2 228.6h0.7M424.3 238.1h0.7M397.3 242.1h0.7M395.5 237.7h0.7M404.0 207.6h0.7M394.4 225.6h0.7M394.7 239.9h0.7M404.2 243.1h0.7M398.7 240.6h0.7M391.6 238.2h0.7M423.5 203.6h0.7M428.9 232.0h0.7M434.2 210.5h0.7M411.3 206.6h0.7M431.4 227.9h0.7M421.0 202.6h0.7M397.7 216.4h0.7M404.3 210.5h0.7M395.7 232.9h0.7M424.2 197.8h0.7M416.4 205.7h0.7M434.8 214.6h0.7M387.9 238.4h0.7M395.6 237.3h0.7M391.9 239.7h0.7M440.0 200.3h0.7M437.6 205.9h0.7M436.2 222.7h0.7M437.3 217.9h0.7M393.1 233.1h0.7M407.3 209.9h0.7M394.6 229.1h0.7M400.3 239.6h0.7M424.4 203.7h0.7M401.1 241.3h0.7M394.6 234.5h0.7M393.8 224.5h0.7M434.1 209.0h0.7M431.3 231.7h0.7M434.8 214.5h0.7M431.7 203.4h0.7M392.6 233.7h0.7M424.3 236.1h0.7M413.8 206.3h0.7M440.1 210.2h0.7M434.4 210.6h0.7M430.4 229.1h0.7M435.7 209.4h0.7M431.9 203.2h0.7M416.3 238.6h0.7M435.5 228.1h0.7M392.0 224.2h0.7M439.4 208.8h0.7M391.8 233.6h0.7M426.2 235.9h0.7M402.0 214.5h0.7M433.1 203.4h0.7M426.3 233.0h0.7M393.6 218.2h0.7M435.5 213.4h0.7M420.6 238.1h0.7M417.8 203.1h0.7M391.8 218.7h0.7M393.5 225.0h0.7M395.9 239.9h0.7M437.8 211.5h0.7M397.1 234.4h0.7M443.8 207.1h0.7M409.9 241.6h0.7M415.2 241.0h0.7M427.3 201.5h0.7M434.0 227.0h0.7M408.2 210.4h0.7M396.3 231.3h0.7M402.6 213.2h0.7M435.2 214.9h0.7M430.6 227.4h0.7M398.8 240.7h0.7M404.1 210.0h0.7M407.6 210.7h0.7M415.1 205.6h0.7M433.3 222.6h0.7M434.5 210.0h0.7M421.6 203.9h0.7M435.2 211.5h0.7M418.4 200.2h0.7M438.4 208.6h0.7M434.7 218.6h0.7M436.3 218.2h0.7M430.2 228.8h0.7M433.0 225.1h0.7M395.7 234.7h0.7M395.1 231.5h0.7M395.5 238.2h0.7M436.5 210.0h0.7M395.9 226.2h0.7M435.5 206.9h0.7M423.6 202.1h0.7M395.1 234.4h0.7M429.3 203.4h0.7M400.7 215.0h0.7M409.7 241.9h0.7M441.1 207.4h0.7M421.1 237.1h0.7M408.8 205.1h0.7M400.3 216.1h0.7M407.5 241.2h0.7M418.5 205.3h0.7M432.4 205.8h0.7M404.4 211.5h0.7M394.3 227.6h0.7M432.1 203.0h0.7M423.8 202.3h0.7M434.6 206.3h0.7M432.8 202.5h0.7M436.3 222.1h0.7M435.9 220.6h0.7M408.6 206.2h0.7M421.8 236.9h0.7M416.2 239.8h0.7M401.5 240.6h0.7M419.5 202.9h0.7M411.0 240.1h0.7M399.4 216.7h0.7M433.9 230.0h0.7M396.5 232.1h0.7M432.5 208.3h0.7M433.6 207.5h0.7M433.9 205.9h0.7M393.1 223.8h0.7M427.5 232.6h0.7M398.8 238.7h0.7M431.6 199.2h0.7M404.2 241.4h0.7M417.6 240.4h0.7M403.0 209.9h0.7M433.7 223.1h0.7M409.5 207.5h0.7M396.5 225.9h0.7M435.0 224.5h0.7M431.2 226.7h0.7M401.9 211.4h0.7M432.0 204.6h0.7M435.2 212.8h0.7M401.1 239.4h0.7M415.0 205.1h0.7M419.6 201.8h0.7M409.3 243.5h0.7M436.6 208.2h0.7M427.8 232.2h0.7M434.9 213.5h0.7M394.1 236.2h0.7M415.0 203.8h0.7M413.2 242.6h0.7M402.3 212.2h0.7M423.6 200.8h0.7M420.0 203.8h0.7M397.7 218.6h0.7M409.0 209.4h0.7M397.0 224.1h0.7M400.1 238.2h0.7M424.4 236.4h0.7M395.9 237.6h0.7M437.6 211.6h0.7M397.6 217.9h0.7M432.4 207.2h0.7M399.8 241.4h0.7M397.3 237.1h0.7M427.8 202.0h0.7" stroke="#777" stroke-opacity="0.7" stroke-width="0.7" fill="none"/>
<ellipse cx="415.5" cy="222.5" rx="22.60" ry="14.60" transform="rotate(-40 415.5 222.5)" fill="#fff" stroke="#fff" stroke-width="1.4"/>
<ellipse cx="415.5" cy="222.5" rx="22.00" ry="14.00" transform="rotate(-40 415.5 222.5)" fill="#fafafa" stroke="#777" stroke-width="0.65"/>
<ellipse cx="415.5" cy="222.5" rx="18.88" ry="12.02" transform="rotate(-40 415.5 222.5)" fill="#e4e4e4" stroke="#777" stroke-width="0.42"/>
<ellipse cx="415.5" cy="222.5" rx="15.77" ry="10.03" transform="rotate(-40 415.5 222.5)" fill="#cecece" stroke="#777" stroke-width="0.42"/>
<ellipse cx="415.5" cy="222.5" rx="12.65" ry="8.05" transform="rotate(-40 415.5 222.5)" fill="#b8b8b8" stroke="#777" stroke-width="0.42"/>
<ellipse cx="415.5" cy="222.5" rx="9.53" ry="6.07" transform="rotate(-40 415.5 222.5)" fill="#a2a2a2" stroke="#777" stroke-width="0.42"/>
<ellipse cx="415.5" cy="222.5" rx="6.42" ry="4.08" transform="rotate(-40 415.5 222.5)" fill="#8c8c8c" stroke="#777" stroke-width="0.42"/>
<ellipse cx="398.0" cy="248.0" rx="4.80" ry="4.80" transform="rotate(0 398.0 248.0)" fill="#fff" stroke="#fff" stroke-width="1.4"/>
<ellipse cx="398.0" cy="248.0" rx="4.20" ry="4.20" transform="rotate(0 398.0 248.0)" fill="#fafafa" stroke="#888" stroke-width="0.65"/>
<ellipse cx="398.0" cy="248.0" rx="3.01" ry="3.01" transform="rotate(0 398.0 248.0)" fill="#bebebe" stroke="#888" stroke-width="0.42"/>
<ellipse cx="398.0" cy="248.0" rx="1.82" ry="1.82" transform="rotate(0 398.0 248.0)" fill="#838383" stroke="#888" stroke-width="0.42"/>
<ellipse cx="442.0" cy="246.5" rx="8.60" ry="3.80" transform="rotate(0 442.0 246.5)" fill="#fff" stroke="#fff" stroke-width="1.4"/>
<ellipse cx="442.0" cy="246.5" rx="8.00" ry="3.20" transform="rotate(0 442.0 246.5)" fill="#fafafa" stroke="#555" stroke-width="0.65"/>
<ellipse cx="442.0" cy="246.5" rx="4.60" ry="1.84" transform="rotate(0 442.0 246.5)" fill="#9f9f9f" stroke="#555" stroke-width="0.42"/>
<ellipse cx="442.0" cy="246.5" rx="5.00" ry="1.80" transform="rotate(0 442.0 246.5)" fill="#fff"/>
</g>
<line x1="405.75" y1="179.20" x2="405.75" y2="267.00" stroke="#8a8a8a" stroke-width="0.8" />
<line x1="379.50" y1="237.50" x2="467.50" y2="237.50" stroke="#8a8a8a" stroke-width="0.8" />
<text x="382.0" y="189.5" font-size="10.3" font-weight="bold" text-anchor="start" >5.7</text>
<text x="459.0" y="189.5" font-size="10.3" font-weight="bold" text-anchor="end" >86</text>
<text x="464.0" y="264.5" font-size="7.2" font-weight="bold" text-anchor="end" >F34</text>
<text x="-0.2" y="349.0" font-size="22.5" font-weight="bold" text-anchor="start" stroke="#000" stroke-width="0.4">C</text>
<line x1="47.50" y1="465.30" x2="47.50" y2="359.50" stroke="#000" stroke-width="3" />
<line x1="46.00" y1="463.80" x2="462.50" y2="463.80" stroke="#000" stroke-width="3" />
<path d="M47.5,345.5 L42.1,364.0 L52.9,364.0z" fill="#000"/>
<path d="M478.5,463.8 L458.5,458.0 L458.5,469.6z" fill="#000"/>
<line x1="47.50" y1="613.70" x2="47.50" y2="507.50" stroke="#000" stroke-width="3" />
<line x1="46.00" y1="612.20" x2="462.50" y2="612.20" stroke="#000" stroke-width="3" />
<path d="M47.5,493.5 L42.1,512.0 L52.9,512.0z" fill="#000"/>
<path d="M478.5,612.2 L458.5,606.4 L458.5,618.0z" fill="#000"/>
<text transform="translate(38.6,405.5) rotate(-90)" font-size="18.3" text-anchor="middle" stroke="#000" stroke-width="0.55">CD19</text>
<text transform="translate(38.6,552) rotate(-90)" font-size="18.3" text-anchor="middle" stroke="#000" stroke-width="0.55">CD19</text>
<text x="258.7" y="487.3" font-size="17.5" font-weight="normal" text-anchor="middle" stroke="#000" stroke-width="0.75">CD5</text>
<text x="261.2" y="634.3" font-size="17.5" font-weight="normal" text-anchor="middle" stroke="#000" stroke-width="0.75">B220</text>
<text x="47.3" y="483.4" font-size="12.6" font-weight="bold" text-anchor="start" textLength="86" lengthAdjust="spacingAndGlyphs" >GATE: Lymph<tspan dy="-4.5" font-size="8">+</tspan></text>
<text x="47.3" y="630.3" font-size="12.6" font-weight="bold" text-anchor="start" textLength="86" lengthAdjust="spacingAndGlyphs" >GATE: Lymph<tspan dy="-4.5" font-size="8">+</tspan></text>
<text x="480.8" y="395.8" font-size="17" font-weight="normal" text-anchor="start" textLength="32.2" lengthAdjust="spacingAndGlyphs" stroke="#000" stroke-width="0.35">SPL</text>
<text x="474.4" y="416.5" font-size="17.3" font-weight="normal" text-anchor="start" stroke="#000" stroke-width="0.35">36 wk</text>
<text x="480.8" y="543.6" font-size="17" font-weight="normal" text-anchor="start" textLength="32.2" lengthAdjust="spacingAndGlyphs" stroke="#000" stroke-width="0.35">SPL</text>
<text x="474.4" y="564.3" font-size="17.3" font-weight="normal" text-anchor="start" stroke="#000" stroke-width="0.35">36 wk</text>
<text x="109.7" y="344.0" font-size="14.8" font-weight="normal" text-anchor="middle" stroke="#000" stroke-width="0.45">WT</text>
<text x="212.3" y="344.0" font-size="14.8" font-weight="normal" text-anchor="middle" stroke="#000" stroke-width="0.45">dnRAG1</text>
<text x="316.2" y="344.0" font-size="14.8" font-weight="normal" text-anchor="middle" stroke="#000" stroke-width="0.45">E&#956;-TCL1</text>
<text x="420.5" y="344.0" font-size="14.8" font-weight="normal" text-anchor="middle" stroke="#000" stroke-width="0.45">DTG</text>
<rect x="64.25" y="355.00" width="88.25" height="89.50" fill="none" stroke="#6a6a6a" stroke-width="0.9"/>
<line x1="63.05" y1="358.00" x2="63.05" y2="442.50" stroke="#999" stroke-width="1.2" stroke-dasharray="0.6 2.4"/>
<line x1="67.25" y1="445.70" x2="150.50" y2="445.70" stroke="#999" stroke-width="1.2" stroke-dasharray="0.6 2.4"/>
<text x="60.8" y="366.3" font-size="4.2" fill="#555" text-anchor="end">10<tspan dy="-2" font-size="3">5</tspan></text>
<rect x="62.0" y="364.2" width="1.6" height="1.2" fill="#333"/>
<text x="60.8" y="388.7" font-size="4.2" fill="#555" text-anchor="end">10<tspan dy="-2" font-size="3">4</tspan></text>
<rect x="62.0" y="386.6" width="1.6" height="1.2" fill="#333"/>
<text x="60.8" y="412.0" font-size="4.2" fill="#555" text-anchor="end">10<tspan dy="-2" font-size="3">3</tspan></text>
<rect x="62.0" y="409.9" width="1.6" height="1.2" fill="#333"/>
<text x="60.8" y="428.1" font-size="4.2" fill="#555" text-anchor="end">0</text>
<rect x="62.0" y="426.0" width="1.6" height="1.2" fill="#333"/>
<text x="81.0" y="455.0" font-size="4.2" fill="#555" text-anchor="middle">0</text>
<text x="98.7" y="455.0" font-size="4.2" fill="#555" text-anchor="middle">10<tspan dy="-2" font-size="3">3</tspan></text>
<text x="122.5" y="455.0" font-size="4.2" fill="#555" text-anchor="middle">10<tspan dy="-2" font-size="3">4</tspan></text>
<text x="143.7" y="455.0" font-size="4.2" fill="#555" text-anchor="middle">10<tspan dy="-2" font-size="3">5</tspan></text>
<rect x="80.2" y="445.3" width="1.6" height="1.6" fill="#222"/>
<clipPath id="cp5"><rect x="64.75" y="355.50" width="87.25" height="88.50"/></clipPath><g clip-path="url(#cp5)">
<path d="M99.0 413.2h0.7M99.5 413.4h0.7M108.2 412.0h0.7M103.7 414.9h0.7M104.2 405.8h0.7M110.3 422.1h0.7M96.5 399.8h0.7M100.5 415.4h0.7M96.1 430.5h0.7M106.2 413.8h0.7M112.1 402.9h0.7M108.6 416.8h0.7M115.0 399.3h0.7M115.6 419.1h0.7M107.7 424.7h0.7M104.2 409.6h0.7M111.8 407.7h0.7M113.5 428.4h0.7M107.5 414.1h0.7M101.4 401.0h0.7M116.0 399.6h0.7M106.6 415.5h0.7M99.7 403.8h0.7M101.1 437.4h0.7M108.6 428.6h0.7M120.2 424.1h0.7M115.2 406.7h0.7M101.2 429.4h0.7M116.2 399.8h0.7M114.0 415.6h0.7M111.6 423.6h0.7M119.3 404.6h0.7M106.1 427.2h0.7M104.3 418.6h0.7M105.5 391.8h0.7M102.2 422.7h0.7M102.3 393.7h0.7M102.6 413.4h0.7M109.5 416.1h0.7M109.8 399.5h0.7M101.9 403.0h0.7M103.0 417.5h0.7M115.4 409.4h0.7M113.5 425.5h0.7M98.1 402.5h0.7M107.2 395.7h0.7M119.2 389.8h0.7M97.6 421.6h0.7M100.9 420.8h0.7M99.3 424.9h0.7M102.1 420.9h0.7M113.2 394.3h0.7M100.0 391.3h0.7M98.4 423.3h0.7M106.0 422.4h0.7M116.1 424.7h0.7M111.2 407.2h0.7M103.5 416.1h0.7M112.3 425.3h0.7M108.3 408.8h0.7M105.7 432.2h0.7M108.2 436.3h0.7M101.2 422.9h0.7M107.7 421.5h0.7M101.0 416.4h0.7M105.8 409.1h0.7M97.9 395.5h0.7M103.9 418.9h0.7M108.0 415.3h0.7M108.5 396.3h0.7M113.7 413.3h0.7M101.0 405.9h0.7M113.1 414.7h0.7M94.6 437.6h0.7M95.9 432.9h0.7M112.2 400.4h0.7M114.9 427.5h0.7M113.5 420.2h0.7M108.5 415.0h0.7M102.5 415.7h0.7M115.2 411.2h0.7M120.0 393.9h0.7M106.5 394.7h0.7M94.0 415.5h0.7M104.0 405.8h0.7M98.9 409.7h0.7M95.0 410.2h0.7M102.6 397.5h0.7M109.2 390.3h0.7M109.3 415.7h0.7M110.0 414.1h0.7M111.8 409.4h0.7M98.7 417.0h0.7M100.8 408.2h0.7M107.1 401.4h0.7M113.1 394.1h0.7M114.8 412.1h0.7M118.1 425.8h0.7M111.0 416.0h0.7M107.1 396.1h0.7M102.4 401.3h0.7M101.3 411.0h0.7M100.8 414.2h0.7M104.5 406.9h0.7M109.0 418.1h0.7M97.0 408.7h0.7M126.7 412.7h0.7M109.5 401.9h0.7M113.1 430.9h0.7M110.3 410.9h0.7M106.5 389.9h0.7M110.4 408.8h0.7M109.1 416.9h0.7M107.8 437.6h0.7M112.7 404.7h0.7M110.5 420.0h0.7M106.6 429.3h0.7M103.7 391.6h0.7M98.9 417.1h0.7M99.4 414.3h0.7M95.8 417.1h0.7M104.5 401.6h0.7M102.4 409.3h0.7M112.6 415.3h0.7M104.9 414.4h0.7M112.5 418.1h0.7M118.5 403.9h0.7M112.0 414.0h0.7M101.9 419.6h0.7M112.1 424.2h0.7M109.6 402.0h0.7M107.5 417.1h0.7M117.9 413.9h0.7M107.4 431.1h0.7M106.7 407.2h0.7M108.3 421.7h0.7M107.4 392.5h0.7M103.5 424.4h0.7M101.1 422.7h0.7M107.5 403.0h0.7M111.8 387.0h0.7M91.7 394.0h0.7M110.0 409.2h0.7M110.7 411.6h0.7M107.2 406.3h0.7M103.5 424.3h0.7M111.6 396.6h0.7M110.3 436.6h0.7M111.5 401.3h0.7M111.5 415.1h0.7M104.1 424.1h0.7M114.8 406.3h0.7M107.1 407.8h0.7M106.3 431.4h0.7M103.3 419.3h0.7M108.1 413.5h0.7M98.5 419.9h0.7M98.7 421.1h0.7M105.7 414.1h0.7M103.1 402.3h0.7M99.2 412.6h0.7M105.7 415.9h0.7M104.3 421.7h0.7M107.3 413.9h0.7M104.6 412.3h0.7M110.8 404.2h0.7M98.0 417.1h0.7M109.2 412.8h0.7M108.0 397.1h0.7M99.6 412.5h0.7M106.1 397.8h0.7M109.5 390.0h0.7M114.8 400.1h0.7M102.4 400.1h0.7M97.0 408.7h0.7M93.2 408.5h0.7M107.4 408.9h0.7M106.1 395.4h0.7M93.5 396.8h0.7M113.6 416.2h0.7M93.9 432.6h0.7M110.6 425.3h0.7M113.2 427.8h0.7M94.6 413.3h0.7M100.9 435.3h0.7M111.0 412.4h0.7M104.5 387.5h0.7M107.0 402.5h0.7M115.6 421.2h0.7M105.7 407.8h0.7M113.9 406.1h0.7M113.8 414.9h0.7M104.3 416.8h0.7M118.3 393.5h0.7M111.4 421.2h0.7M104.5 429.7h0.7M110.9 418.9h0.7M99.3 419.3h0.7M97.3 418.4h0.7M121.1 401.8h0.7M117.0 399.6h0.7M106.7 420.9h0.7M96.3 416.3h0.7M100.9 405.1h0.7M112.0 411.5h0.7M109.0 412.6h0.7M108.9 430.8h0.7M107.1 409.1h0.7M106.4 420.9h0.7M109.4 387.1h0.7M105.7 417.6h0.7M124.3 405.4h0.7M104.4 398.7h0.7M105.8 391.5h0.7M100.4 411.4h0.7M95.8 409.2h0.7M101.5 427.3h0.7M117.2 437.4h0.7M107.2 420.3h0.7M122.6 404.7h0.7M118.0 401.6h0.7M113.5 393.9h0.7M103.5 410.1h0.7M104.5 389.3h0.7M107.1 409.0h0.7M116.5 419.3h0.7M91.2 413.9h0.7M113.6 411.2h0.7M101.3 396.2h0.7M103.7 401.2h0.7M104.3 408.5h0.7M115.1 400.7h0.7M108.5 399.4h0.7M108.1 424.6h0.7M102.3 398.3h0.7M106.5 412.7h0.7M101.8 417.4h0.7M106.7 420.4h0.7M96.7 421.3h0.7M115.0 402.6h0.7M120.0 415.1h0.7M97.2 399.7h0.7M101.1 404.6h0.7M104.6 415.9h0.7M104.8 408.6h0.7M99.5 388.0h0.7M101.3 397.7h0.7M112.3 383.6h0.7M114.1 378.3h0.7M104.8 412.5h0.7M98.5 400.7h0.7M112.3 399.5h0.7M105.6 412.9h0.7M110.8 397.3h0.7M115.4 410.5h0.7M113.2 395.5h0.7M113.8 411.2h0.7M111.6 404.7h0.7M112.2 412.8h0.7M93.0 442.1h0.7M101.6 417.9h0.7M104.8 406.9h0.7M103.6 423.3h0.7M112.7 423.4h0.7M94.8 422.1h0.7M95.7 439.9h0.7M108.9 425.9h0.7M106.2 414.0h0.7M101.3 436.2h0.7M103.9 425.4h0.7M100.6 410.6h0.7M103.5 411.0h0.7M102.7 420.0h0.7M110.8 393.1h0.7M103.1 396.6h0.7M113.7 397.3h0.7M109.5 414.2h0.7M105.8 389.0h0.7M118.1 410.6h0.7M111.0 425.0h0.7M99.2 400.5h0.7M118.2 435.6h0.7M100.5 411.4h0.7M112.9 410.6h0.7M115.4 419.6h0.7M105.7 420.4h0.7M102.9 427.5h0.7M101.6 428.1h0.7M123.8 391.4h0.7M118.1 394.6h0.7M105.7 434.4h0.7M113.8 420.5h0.7M108.8 414.5h0.7M109.5 410.0h0.7M104.2 397.6h0.7M118.4 412.2h0.7M119.6 421.3h0.7M109.4 399.2h0.7M104.4 412.9h0.7M105.4 408.8h0.7M90.3 407.5h0.7M104.5 406.6h0.7M104.0 393.6h0.7M100.3 430.1h0.7M99.6 406.1h0.7M100.5 410.4h0.7M102.6 436.5h0.7M99.0 428.7h0.7M103.0 417.8h0.7M124.0 412.3h0.7M106.2 378.0h0.7M103.9 409.7h0.7M107.2 415.3h0.7M98.6 401.1h0.7M111.6 409.2h0.7M106.5 420.4h0.7M107.0 414.3h0.7M98.7 412.5h0.7M94.4 433.7h0.7M100.9 432.7h0.7M102.8 410.9h0.7M115.4 415.0h0.7M107.6 409.3h0.7M104.5 403.7h0.7M100.9 391.0h0.7M105.3 403.1h0.7M116.2 438.1h0.7M119.7 398.3h0.7M103.8 411.0h0.7M95.6 431.3h0.7M111.3 416.1h0.7M119.9 418.5h0.7M104.2 416.0h0.7M103.1 418.4h0.7M97.2 418.8h0.7M104.3 407.5h0.7M103.7 411.1h0.7M94.1 419.8h0.7M105.0 434.2h0.7M106.3 424.0h0.7M106.2 411.0h0.7M97.8 407.0h0.7M102.3 383.5h0.7M104.3 404.0h0.7M108.5 425.1h0.7M104.3 426.9h0.7M115.1 421.9h0.7M104.1 413.9h0.7M117.9 431.3h0.7M114.4 391.9h0.7M90.5 434.1h0.7M111.4 428.9h0.7M110.5 409.1h0.7M109.6 412.2h0.7M116.9 422.9h0.7M99.7 403.6h0.7M113.6 423.3h0.7M108.4 416.9h0.7M97.6 402.4h0.7M110.1 390.7h0.7M109.9 419.8h0.7M111.0 423.0h0.7M119.9 416.3h0.7M100.7 392.2h0.7" stroke="#1a1a1a" stroke-opacity="0.68" stroke-width="0.7" fill="none"/>
<path d="M87.0 399.4h0.7M134.3 383.4h0.7M123.6 392.1h0.7M117.1 400.5h0.7M121.5 387.8h0.7M132.4 397.4h0.7M92.7 405.6h0.7M144.7 395.1h0.7M145.2 384.3h0.7M117.2 410.3h0.7M140.8 403.3h0.7M137.0 394.9h0.7M131.9 407.3h0.7M135.3 402.0h0.7M133.7 402.5h0.7M130.2 384.6h0.7M130.0 390.1h0.7M115.3 399.1h0.7M124.7 386.7h0.7M113.0 400.8h0.7M114.8 398.8h0.7M124.4 400.5h0.7M112.7 400.2h0.7M129.6 387.1h0.7M132.8 389.5h0.7M126.5 404.1h0.7M130.6 387.9h0.7M107.1 387.9h0.7M129.6 399.8h0.7M93.7 405.2h0.7M138.8 393.8h0.7M119.7 400.8h0.7M105.7 394.7h0.7M129.3 395.4h0.7M120.8 399.5h0.7M146.8 400.9h0.7M126.0 394.2h0.7M139.6 399.1h0.7M120.5 410.4h0.7M141.2 390.1h0.7M116.2 410.1h0.7M113.8 412.7h0.7M118.5 416.1h0.7M106.2 380.9h0.7M98.9 416.4h0.7M109.9 394.6h0.7M112.2 391.8h0.7M123.2 399.7h0.7M111.4 393.7h0.7M141.0 407.2h0.7M135.8 409.7h0.7M117.9 406.5h0.7M145.7 391.0h0.7M141.3 376.3h0.7M92.1 385.2h0.7M105.8 389.7h0.7M113.4 405.9h0.7M109.8 395.1h0.7M101.2 384.0h0.7M118.0 391.7h0.7M134.1 399.5h0.7M93.4 405.0h0.7M102.7 394.8h0.7M105.0 391.0h0.7M111.6 387.7h0.7M109.6 395.9h0.7M131.5 404.8h0.7M147.5 383.7h0.7M114.7 409.3h0.7M103.6 396.9h0.7M131.5 412.3h0.7M129.3 401.3h0.7M118.2 404.0h0.7M122.1 401.4h0.7M110.9 397.2h0.7M107.3 388.5h0.7M107.8 390.7h0.7M110.4 393.1h0.7M97.7 401.1h0.7M125.3 412.3h0.7M85.0 385.5h0.7M105.9 390.4h0.7M121.4 390.6h0.7M108.9 404.9h0.7M117.7 383.7h0.7M134.7 418.5h0.7M137.4 396.8h0.7M140.9 397.6h0.7M115.2 400.5h0.7M139.9 399.3h0.7M115.9 385.8h0.7M123.3 388.6h0.7M119.0 385.8h0.7M107.4 389.5h0.7M110.4 388.0h0.7M138.9 405.3h0.7M115.4 388.9h0.7M136.9 396.1h0.7M129.0 407.3h0.7M114.3 402.2h0.7M127.2 394.4h0.7M117.8 392.7h0.7M69.5 394.7h0.7M145.2 407.4h0.7M133.7 392.7h0.7M109.2 390.4h0.7M127.3 405.2h0.7M91.8 404.6h0.7M134.1 405.4h0.7M101.3 400.0h0.7M125.3 386.3h0.7M103.4 418.1h0.7M110.3 393.8h0.7M91.2 392.7h0.7M140.8 401.7h0.7M107.7 398.6h0.7M125.9 403.5h0.7M105.5 401.6h0.7M110.4 393.7h0.7M107.6 391.0h0.7M127.7 382.4h0.7M123.3 422.6h0.7M107.0 395.7h0.7M119.3 412.2h0.7M99.0 403.3h0.7M118.9 415.8h0.7M117.3 416.1h0.7M105.9 401.4h0.7M103.9 392.9h0.7M101.6 394.6h0.7M143.5 393.4h0.7M124.9 398.3h0.7M125.0 391.4h0.7M129.2 399.0h0.7M91.1 398.5h0.7M128.9 398.7h0.7M125.0 398.2h0.7M113.1 407.6h0.7M141.3 395.5h0.7M132.3 388.5h0.7M139.0 390.8h0.7M120.9 406.7h0.7M112.8 398.6h0.7M135.3 393.3h0.7M125.4 408.0h0.7M124.1 391.2h0.7M114.4 395.9h0.7M120.5 403.8h0.7M97.1 397.5h0.7M123.3 411.6h0.7M98.6 390.3h0.7M133.5 397.8h0.7M136.5 397.8h0.7M110.6 397.7h0.7M138.6 404.6h0.7M123.2 399.4h0.7M136.2 403.7h0.7M123.9 404.6h0.7M121.7 388.3h0.7M133.6 408.8h0.7M140.9 397.6h0.7M102.5 401.8h0.7M111.6 381.6h0.7M122.5 391.4h0.7M121.3 393.9h0.7M132.4 405.7h0.7M127.7 408.6h0.7M112.4 419.1h0.7M94.8 404.7h0.7M135.5 394.6h0.7M122.0 387.6h0.7M113.8 400.7h0.7M101.6 380.9h0.7M115.0 390.7h0.7M106.1 396.7h0.7M100.0 407.8h0.7M137.2 398.4h0.7M111.6 397.6h0.7M118.7 391.2h0.7M110.7 401.9h0.7M107.0 392.5h0.7M113.6 389.3h0.7M124.0 386.9h0.7M133.8 404.4h0.7M119.8 405.6h0.7M136.2 394.7h0.7M119.4 392.8h0.7M114.8 394.7h0.7M121.4 402.6h0.7M134.0 396.1h0.7M144.3 399.2h0.7M117.6 395.7h0.7M120.6 394.7h0.7M122.8 413.5h0.7M121.2 391.5h0.7M93.1 397.2h0.7M105.4 391.3h0.7M122.2 401.1h0.7M127.0 408.1h0.7M106.3 392.3h0.7M107.3 389.3h0.7M110.6 390.7h0.7M130.1 388.7h0.7M132.1 384.3h0.7M113.0 387.4h0.7M120.1 402.2h0.7M114.0 392.2h0.7M105.6 390.6h0.7M107.6 392.1h0.7M120.8 405.6h0.7M109.8 380.3h0.7M114.5 405.1h0.7M105.0 401.1h0.7M103.0 386.8h0.7M123.0 381.7h0.7M113.8 374.2h0.7M104.5 401.1h0.7M112.4 391.6h0.7M127.5 389.8h0.7M103.0 394.2h0.7M118.6 399.0h0.7M117.0 408.1h0.7M127.8 396.5h0.7M123.1 391.0h0.7M150.7 400.2h0.7M131.5 401.2h0.7M140.8 393.0h0.7M132.7 382.8h0.7M127.7 407.6h0.7M132.1 402.9h0.7M92.4 398.4h0.7M114.6 410.9h0.7M127.3 403.4h0.7M138.5 402.3h0.7M99.7 390.7h0.7M89.1 408.2h0.7M116.7 386.5h0.7M126.6 394.0h0.7M115.0 409.0h0.7M89.6 384.9h0.7M118.0 395.5h0.7M135.8 394.5h0.7M127.0 412.7h0.7M99.6 385.3h0.7M109.1 395.8h0.7M103.5 399.9h0.7M108.2 407.5h0.7M126.8 403.5h0.7M122.6 399.4h0.7M95.8 395.7h0.7M93.5 409.1h0.7M102.9 389.7h0.7M112.8 416.8h0.7M103.3 412.2h0.7M121.4 420.2h0.7M116.2 392.8h0.7M119.0 392.8h0.7M109.0 403.8h0.7M112.8 405.3h0.7M128.1 405.7h0.7M142.3 406.9h0.7M105.6 409.3h0.7M83.4 408.7h0.7M137.1 388.3h0.7M138.0 381.2h0.7M134.0 394.1h0.7M115.3 396.1h0.7M111.2 404.0h0.7M118.7 397.2h0.7M120.2 394.5h0.7M104.7 402.8h0.7M131.6 387.3h0.7M133.3 408.7h0.7M121.9 410.4h0.7M87.9 409.6h0.7" stroke="#1a1a1a" stroke-opacity="0.5599999999999999" stroke-width="0.7" fill="none"/>
<path d="M112.9 428.3h0.7M119.4 432.9h0.7M98.9 420.8h0.7M135.6 423.1h0.7M112.7 443.3h0.7M97.4 425.6h0.7M124.0 419.9h0.7M139.9 427.5h0.7M123.8 432.8h0.7M125.7 431.2h0.7M128.6 417.3h0.7M137.6 428.4h0.7M111.2 425.6h0.7M133.2 409.9h0.7M108.8 423.2h0.7M99.2 440.6h0.7M144.7 433.5h0.7M116.8 423.1h0.7M96.8 419.2h0.7M109.7 416.2h0.7M141.5 441.4h0.7M99.8 431.8h0.7M144.1 427.8h0.7M111.7 426.4h0.7M132.8 409.5h0.7M123.0 437.6h0.7M135.1 425.1h0.7M146.1 413.7h0.7M151.2 419.1h0.7M124.1 419.4h0.7M102.7 432.0h0.7M103.5 435.2h0.7M111.9 440.8h0.7M134.0 439.6h0.7M106.0 431.9h0.7M142.0 428.3h0.7M125.4 417.3h0.7M102.9 411.5h0.7M134.9 391.1h0.7M112.7 433.5h0.7M128.1 422.0h0.7M112.4 427.0h0.7M97.6 417.6h0.7M143.3 413.2h0.7M125.1 420.1h0.7M103.2 399.7h0.7M110.6 415.0h0.7M107.4 424.1h0.7M133.7 432.8h0.7M134.7 410.0h0.7M142.1 408.5h0.7M137.9 439.1h0.7M116.3 426.9h0.7M126.6 433.3h0.7M130.9 428.3h0.7M109.9 409.7h0.7M108.4 431.7h0.7M95.6 429.6h0.7M127.0 413.9h0.7M127.7 407.4h0.7M107.5 412.2h0.7M145.0 430.6h0.7M127.0 418.7h0.7M148.1 428.2h0.7M144.9 410.4h0.7M129.0 430.3h0.7M148.0 403.6h0.7M123.9 416.6h0.7M128.0 423.2h0.7M136.2 435.1h0.7M133.2 424.1h0.7M145.3 442.9h0.7M129.2 414.8h0.7M120.3 422.8h0.7M126.2 406.2h0.7M144.5 405.9h0.7M73.2 424.4h0.7M106.9 428.4h0.7M105.1 407.6h0.7M87.5 408.8h0.7M141.3 416.7h0.7M91.0 402.5h0.7M98.0 417.5h0.7M128.7 417.1h0.7M117.3 412.9h0.7M131.4 435.2h0.7M106.8 441.1h0.7M111.3 421.3h0.7M128.9 400.3h0.7M129.6 420.4h0.7M123.7 439.2h0.7M129.0 427.1h0.7M121.9 426.3h0.7M108.2 415.1h0.7M151.2 432.1h0.7M111.1 423.4h0.7M130.0 432.5h0.7M109.0 426.3h0.7M102.3 415.0h0.7M123.5 442.5h0.7M135.6 441.7h0.7" stroke="#1a1a1a" stroke-opacity="0.48" stroke-width="0.7" fill="none"/>
<path d="M125.9 411.0h0.7M145.5 412.7h0.7M146.0 418.6h0.7M128.7 434.7h0.7M115.3 415.6h0.7M144.8 426.3h0.7M114.2 412.2h0.7M134.7 408.0h0.7M111.0 422.2h0.7M147.5 423.4h0.7M144.2 427.5h0.7M147.6 420.0h0.7M149.5 417.4h0.7M109.8 428.6h0.7M148.2 416.8h0.7M116.7 414.2h0.7M148.2 421.2h0.7M119.7 412.8h0.7M145.3 425.2h0.7M131.6 410.9h0.7M147.2 414.8h0.7M145.5 426.2h0.7M130.9 407.3h0.7M116.8 415.7h0.7M112.6 419.8h0.7M145.6 425.4h0.7M112.8 429.2h0.7M128.4 410.7h0.7M143.7 414.6h0.7M134.6 434.1h0.7M114.7 431.3h0.7M118.8 433.9h0.7M116.0 433.5h0.7M114.5 417.5h0.7M114.1 429.4h0.7M117.9 434.4h0.7M136.6 432.2h0.7M109.5 428.2h0.7M144.8 424.4h0.7M143.9 430.2h0.7M134.3 431.7h0.7M112.2 418.4h0.7M150.0 423.6h0.7M137.6 410.7h0.7M126.1 433.1h0.7M111.6 413.7h0.7M134.6 434.5h0.7M113.1 431.1h0.7M146.2 416.8h0.7M137.6 431.8h0.7M114.6 413.8h0.7M141.0 429.1h0.7M132.3 435.2h0.7M147.8 421.5h0.7M135.1 407.1h0.7M138.3 412.0h0.7M112.3 417.0h0.7M113.2 415.8h0.7M132.7 434.1h0.7M131.8 432.9h0.7M113.5 418.8h0.7M149.6 426.7h0.7M144.4 431.6h0.7M144.9 417.5h0.7M117.7 430.8h0.7M119.3 431.7h0.7M131.3 433.1h0.7M149.3 420.6h0.7M132.6 432.9h0.7M145.6 413.9h0.7M133.5 409.6h0.7M120.2 431.7h0.7M117.1 435.4h0.7M126.3 410.9h0.7M114.0 429.8h0.7M142.7 427.2h0.7M110.0 424.9h0.7M135.3 407.3h0.7M124.0 409.3h0.7M121.7 412.9h0.7M147.1 412.5h0.7M112.5 417.5h0.7M108.9 422.1h0.7M144.4 415.8h0.7M110.4 424.5h0.7M123.8 433.2h0.7M150.3 419.2h0.7M135.5 433.0h0.7M119.5 412.3h0.7M109.2 427.3h0.7M148.3 417.1h0.7M146.8 426.6h0.7M112.9 416.0h0.7M101.8 425.2h0.7M139.6 412.7h0.7M112.8 429.0h0.7M134.4 408.3h0.7M147.6 419.2h0.7M132.5 432.7h0.7M135.3 410.1h0.7M111.7 425.5h0.7M141.2 413.2h0.7M144.3 411.4h0.7M149.5 411.9h0.7M125.4 435.9h0.7M115.7 416.9h0.7M123.9 434.5h0.7M143.7 413.1h0.7M116.1 416.0h0.7M122.9 406.6h0.7M127.2 433.8h0.7M129.6 433.4h0.7M112.8 419.5h0.7M145.4 425.8h0.7M120.9 413.0h0.7M110.9 423.5h0.7M147.8 417.8h0.7M134.7 409.3h0.7M149.7 421.1h0.7M125.4 409.1h0.7M117.1 437.1h0.7M145.1 423.8h0.7M149.1 426.2h0.7M144.4 432.0h0.7M139.3 434.1h0.7M111.9 419.9h0.7M117.6 413.4h0.7M113.5 418.5h0.7M124.6 411.3h0.7M123.6 433.0h0.7M114.8 429.8h0.7M146.0 424.9h0.7M114.5 413.1h0.7M143.8 414.3h0.7M143.4 428.7h0.7M138.3 410.8h0.7M109.6 416.3h0.7M149.2 415.3h0.7M141.7 429.0h0.7M112.7 420.2h0.7M133.4 432.5h0.7M148.6 419.9h0.7M141.9 412.5h0.7M110.6 423.1h0.7M145.6 423.6h0.7M146.6 429.1h0.7M113.7 415.5h0.7M146.2 426.6h0.7M126.7 435.4h0.7M117.6 414.1h0.7M144.5 414.6h0.7M135.5 433.1h0.7M126.0 410.8h0.7M137.0 431.9h0.7M113.7 429.8h0.7M135.0 409.4h0.7M110.9 426.7h0.7M115.0 430.2h0.7M124.1 410.0h0.7M130.3 433.7h0.7M126.1 433.5h0.7M111.9 418.9h0.7M145.4 422.4h0.7M138.6 431.9h0.7M137.3 410.1h0.7M146.2 430.8h0.7M137.3 431.6h0.7M137.6 409.4h0.7M136.2 411.6h0.7M145.9 421.5h0.7M121.6 432.3h0.7M120.5 431.9h0.7M142.7 428.5h0.7M122.9 433.5h0.7M138.3 430.7h0.7M113.1 428.5h0.7M133.5 432.0h0.7M120.3 405.5h0.7M125.1 408.1h0.7M117.0 415.6h0.7M111.8 421.3h0.7M104.6 426.8h0.7M137.5 405.3h0.7M131.9 435.4h0.7M145.7 422.2h0.7M136.8 435.0h0.7M126.3 410.7h0.7M114.1 410.4h0.7M125.3 433.4h0.7M130.0 408.8h0.7M111.6 422.6h0.7M144.1 414.1h0.7M139.3 410.5h0.7M138.7 431.2h0.7M147.6 423.0h0.7M109.4 434.5h0.7M134.4 411.5h0.7M110.4 426.2h0.7M129.9 410.7h0.7M125.4 434.7h0.7M111.9 418.7h0.7M144.0 429.0h0.7M126.6 409.7h0.7M114.0 430.9h0.7M127.5 411.5h0.7M147.6 425.7h0.7M139.1 431.3h0.7M134.6 410.6h0.7M141.0 412.6h0.7M148.1 416.0h0.7M123.2 409.2h0.7M111.2 419.5h0.7M134.9 410.3h0.7M131.0 410.5h0.7M113.2 419.6h0.7M123.0 412.5h0.7M141.4 413.4h0.7M130.8 410.9h0.7M111.6 429.2h0.7M135.3 408.4h0.7M122.1 410.7h0.7M108.8 428.0h0.7M141.2 412.6h0.7M137.0 432.4h0.7M111.0 424.6h0.7M127.5 406.5h0.7M137.9 412.1h0.7M145.5 418.0h0.7M148.7 427.0h0.7M114.8 430.4h0.7M141.6 414.0h0.7M118.6 431.1h0.7M111.3 421.8h0.7M119.7 435.1h0.7M113.4 429.2h0.7M142.5 431.8h0.7M114.2 416.5h0.7M109.0 425.2h0.7M141.9 414.3h0.7M145.6 423.5h0.7M121.8 436.5h0.7M121.1 433.9h0.7M128.5 410.7h0.7M148.0 427.3h0.7M120.2 433.1h0.7M124.8 410.1h0.7M146.3 427.5h0.7M122.1 435.3h0.7M111.7 427.1h0.7M128.1 433.8h0.7M135.3 432.5h0.7M144.5 426.9h0.7M149.2 425.5h0.7M130.0 408.0h0.7M110.0 417.3h0.7M128.4 435.8h0.7M112.3 435.3h0.7M116.5 414.8h0.7M116.1 415.7h0.7M121.9 433.1h0.7M133.2 434.2h0.7M113.8 414.6h0.7M144.0 413.4h0.7M143.1 426.2h0.7M116.8 433.1h0.7M133.0 410.0h0.7M138.9 432.6h0.7M125.1 436.0h0.7M124.6 409.3h0.7M148.4 421.6h0.7M117.7 433.5h0.7M127.5 432.9h0.7M150.0 419.0h0.7M110.0 426.0h0.7M114.6 415.6h0.7M125.9 433.8h0.7M132.9 432.3h0.7M143.3 427.7h0.7M106.3 424.5h0.7M119.5 413.9h0.7M126.5 411.0h0.7M149.6 420.6h0.7M110.9 423.1h0.7M142.1 427.6h0.7M119.8 433.4h0.7M144.5 424.9h0.7M149.6 430.9h0.7M144.9 413.2h0.7M142.4 429.2h0.7M143.5 431.4h0.7M149.3 412.2h0.7M138.1 410.6h0.7M148.2 413.8h0.7M145.9 411.1h0.7M131.5 410.6h0.7M121.2 410.4h0.7M145.0 414.6h0.7M110.0 418.9h0.7M139.6 412.5h0.7M120.6 407.7h0.7M128.1 410.9h0.7M133.6 433.2h0.7M149.2 413.5h0.7M148.3 420.3h0.7M123.1 432.9h0.7M117.3 413.5h0.7M133.2 408.4h0.7M147.5 429.1h0.7M125.9 436.0h0.7M125.7 409.5h0.7M148.3 418.6h0.7M126.0 409.8h0.7M136.3 408.2h0.7M138.1 411.9h0.7M136.0 411.5h0.7M123.0 412.2h0.7M135.1 409.9h0.7M127.9 407.3h0.7M140.4 431.2h0.7M112.9 414.9h0.7M140.3 430.5h0.7M136.5 411.0h0.7M147.6 415.0h0.7M109.2 420.8h0.7M145.2 413.2h0.7M132.4 432.9h0.7M138.8 410.1h0.7M144.6 410.6h0.7M144.7 416.4h0.7M122.1 434.3h0.7M146.5 424.3h0.7M139.4 408.0h0.7M145.5 422.1h0.7M139.2 430.1h0.7M147.9 421.1h0.7M138.3 410.7h0.7M138.4 412.3h0.7M116.7 435.0h0.7M129.2 410.9h0.7M112.1 426.5h0.7M111.4 430.7h0.7M121.2 412.5h0.7M111.4 433.1h0.7M120.4 413.1h0.7M136.9 432.0h0.7M146.2 416.0h0.7M112.8 434.0h0.7M119.9 409.3h0.7M118.9 431.3h0.7M148.1 415.4h0.7M109.1 424.7h0.7M113.6 414.5h0.7M139.2 432.1h0.7M119.9 412.7h0.7M130.1 410.8h0.7M130.0 434.6h0.7" stroke="#1a1a1a" stroke-opacity="0.7" stroke-width="0.7" fill="none"/>
<path d="M93.2 420.0h0.7M91.9 420.8h0.7M87.4 411.6h0.7M91.0 431.6h0.7M81.0 431.6h0.7M79.6 426.4h0.7M78.4 424.6h0.7M89.1 432.0h0.7M88.9 433.0h0.7M79.7 429.7h0.7M78.3 423.5h0.7M80.1 416.5h0.7M92.7 426.5h0.7M80.8 418.0h0.7M79.9 425.4h0.7M85.5 407.3h0.7M81.1 415.5h0.7M85.3 413.0h0.7M88.4 434.5h0.7M85.3 434.9h0.7M92.1 411.1h0.7M92.9 424.6h0.7M79.4 425.5h0.7M81.5 412.9h0.7M79.8 416.4h0.7M81.5 430.9h0.7M86.0 411.4h0.7M91.6 418.0h0.7M87.1 435.3h0.7M91.7 417.0h0.7M90.1 414.1h0.7M78.4 422.1h0.7M84.3 433.8h0.7M89.6 412.6h0.7M78.1 418.4h0.7M80.0 420.2h0.7M78.9 415.3h0.7M89.7 412.3h0.7M89.3 434.4h0.7M81.4 432.2h0.7M85.7 410.0h0.7M79.0 422.7h0.7M80.3 412.7h0.7M78.7 424.5h0.7M81.1 430.0h0.7M92.5 430.4h0.7M79.7 422.4h0.7M89.9 434.4h0.7M84.2 432.6h0.7M79.5 418.3h0.7M90.7 413.9h0.7M86.5 410.6h0.7M80.0 431.2h0.7M87.8 434.0h0.7M86.2 409.0h0.7M92.7 427.8h0.7M91.3 417.8h0.7M81.0 415.5h0.7M82.1 432.3h0.7M78.6 420.1h0.7M78.4 420.0h0.7M87.1 412.9h0.7M84.8 412.1h0.7M77.8 425.6h0.7M81.9 414.8h0.7M79.9 426.1h0.7M83.3 413.4h0.7M83.7 438.1h0.7M76.6 423.9h0.7M89.8 432.2h0.7M85.9 434.4h0.7M82.2 432.6h0.7M90.9 431.9h0.7M80.1 417.7h0.7M86.2 434.0h0.7M84.0 413.2h0.7M92.5 427.8h0.7M91.9 419.8h0.7M80.3 426.8h0.7M86.6 433.4h0.7M92.2 422.1h0.7M85.6 433.4h0.7M81.3 432.2h0.7M83.9 432.8h0.7M79.3 424.8h0.7M79.9 421.8h0.7M79.0 416.9h0.7M79.3 426.4h0.7M87.5 433.7h0.7M83.9 432.8h0.7M80.1 428.6h0.7M90.2 414.7h0.7M83.5 435.2h0.7M90.5 431.0h0.7M79.5 428.0h0.7M85.1 411.1h0.7M90.0 414.3h0.7M80.0 425.7h0.7M81.9 411.1h0.7M77.7 423.5h0.7M90.9 414.2h0.7M83.8 412.7h0.7M90.5 410.8h0.7M86.4 412.9h0.7M80.5 428.5h0.7M91.7 431.2h0.7M92.1 415.6h0.7M86.8 436.8h0.7M87.3 410.7h0.7M83.9 433.0h0.7M78.8 422.6h0.7M79.5 427.8h0.7M86.4 412.0h0.7M88.2 433.9h0.7M86.5 434.0h0.7M78.8 422.7h0.7M86.7 411.4h0.7M84.3 432.8h0.7M78.2 421.5h0.7M91.9 425.4h0.7M80.1 416.4h0.7M92.7 422.3h0.7M83.5 433.2h0.7M86.4 433.1h0.7M85.5 412.9h0.7M91.4 414.9h0.7M89.2 431.9h0.7M78.5 420.4h0.7M87.8 411.7h0.7M80.2 412.4h0.7M83.5 412.5h0.7M80.1 418.9h0.7M92.7 418.8h0.7M83.8 432.5h0.7M85.8 433.4h0.7M91.2 432.8h0.7M84.2 412.8h0.7M92.3 424.3h0.7M80.2 415.8h0.7M78.9 422.5h0.7M78.8 431.0h0.7M80.1 416.1h0.7M85.8 408.5h0.7M86.8 412.1h0.7M79.7 422.4h0.7M93.0 421.5h0.7M81.2 413.5h0.7M80.0 427.9h0.7M80.6 416.6h0.7M77.3 424.6h0.7M88.9 413.9h0.7M77.6 418.8h0.7M77.5 418.8h0.7M79.3 418.4h0.7M79.2 420.5h0.7M85.1 434.7h0.7M80.3 426.4h0.7M81.7 431.1h0.7M92.2 424.8h0.7M91.4 416.9h0.7M83.5 432.5h0.7M84.0 435.3h0.7M84.9 411.5h0.7M94.5 426.8h0.7M93.0 427.3h0.7M85.4 435.2h0.7M81.6 413.9h0.7M84.9 434.9h0.7" stroke="#1a1a1a" stroke-opacity="0.7" stroke-width="0.7" fill="none"/>
<path d="M76.9 391.9h0.7M90.9 410.9h0.7M76.2 388.6h0.7M77.4 397.2h0.7M101.0 385.1h0.7M80.5 402.6h0.7M106.1 392.7h0.7M93.8 382.7h0.7M78.9 386.2h0.7M90.6 407.4h0.7M79.8 406.3h0.7M97.0 385.0h0.7M90.1 379.9h0.7M101.5 403.1h0.7M85.8 406.8h0.7M100.6 387.1h0.7M95.3 383.5h0.7M90.0 382.7h0.7M82.8 383.6h0.7M96.2 406.7h0.7M99.3 386.3h0.7M81.9 402.6h0.7M108.0 396.5h0.7M88.5 381.3h0.7M105.4 395.7h0.7M84.0 385.6h0.7M92.6 382.9h0.7M91.8 407.4h0.7M89.8 382.3h0.7M104.1 390.0h0.7M79.6 402.9h0.7M82.7 407.3h0.7M95.3 381.3h0.7M98.7 382.1h0.7M97.9 408.2h0.7M100.7 404.1h0.7M103.4 388.5h0.7M105.5 400.8h0.7M106.7 390.8h0.7M100.0 404.3h0.7M83.7 383.3h0.7M94.0 407.3h0.7M99.6 406.5h0.7M91.2 381.2h0.7M90.5 381.4h0.7M87.0 408.1h0.7M82.4 382.7h0.7M87.9 408.4h0.7M82.2 403.7h0.7M94.2 407.1h0.7M105.7 396.9h0.7M101.2 387.0h0.7M104.2 398.8h0.7M97.3 385.3h0.7M83.9 404.5h0.7M81.9 407.3h0.7M106.1 396.9h0.7M88.7 381.5h0.7M103.6 395.0h0.7M82.4 408.7h0.7M79.1 394.3h0.7M104.1 388.3h0.7M91.3 411.9h0.7M77.5 399.7h0.7M97.0 382.8h0.7M89.2 383.7h0.7M80.7 380.7h0.7M106.9 405.1h0.7M99.0 385.6h0.7M75.6 398.0h0.7M91.4 380.4h0.7M100.2 386.1h0.7M81.2 401.9h0.7M75.4 395.3h0.7M93.2 382.8h0.7M79.5 393.8h0.7M91.8 382.6h0.7M98.9 383.5h0.7M105.1 396.6h0.7M82.5 405.6h0.7M87.1 382.8h0.7M98.7 405.8h0.7M75.2 404.0h0.7M88.0 379.1h0.7M86.8 382.6h0.7M100.7 409.6h0.7M99.0 404.8h0.7M79.2 393.8h0.7M79.0 403.9h0.7M93.6 408.6h0.7M105.6 401.3h0.7M79.2 398.0h0.7M79.0 388.8h0.7M97.7 384.6h0.7M88.4 407.2h0.7M104.0 390.6h0.7M101.0 385.7h0.7M82.5 404.9h0.7M104.4 384.2h0.7M101.1 383.8h0.7M84.4 381.0h0.7M99.6 409.0h0.7M90.7 383.6h0.7M84.6 385.4h0.7M91.1 408.2h0.7M85.0 384.6h0.7M78.5 400.7h0.7M86.9 406.8h0.7M93.5 383.4h0.7M100.7 410.5h0.7M94.8 408.2h0.7M95.2 408.1h0.7M91.7 380.9h0.7M99.6 404.1h0.7M86.5 406.8h0.7M105.3 390.2h0.7M89.8 377.1h0.7M91.2 410.3h0.7M97.2 408.8h0.7M89.0 380.9h0.7M79.1 395.0h0.7M105.1 391.1h0.7M90.7 383.0h0.7M104.7 388.4h0.7M77.0 398.2h0.7M103.8 391.8h0.7M85.2 408.9h0.7M79.8 391.9h0.7M98.7 385.2h0.7M87.8 383.2h0.7M78.6 393.5h0.7M102.2 388.9h0.7M104.0 394.7h0.7M104.9 402.8h0.7M86.1 406.3h0.7M82.3 404.3h0.7M82.9 404.7h0.7M99.9 404.4h0.7M104.7 391.5h0.7M79.5 399.3h0.7M82.6 405.4h0.7M91.1 383.9h0.7M106.7 389.0h0.7M98.2 380.7h0.7M75.9 391.9h0.7M83.1 404.4h0.7M106.3 402.9h0.7M85.4 384.0h0.7M103.5 398.4h0.7M78.9 394.1h0.7M97.0 406.3h0.7M81.1 386.7h0.7M88.0 382.2h0.7M104.6 400.5h0.7M104.3 398.5h0.7M97.2 406.4h0.7M87.2 409.3h0.7M81.2 407.5h0.7M79.2 397.0h0.7M77.9 395.4h0.7M108.9 399.9h0.7M80.0 390.6h0.7M87.0 408.3h0.7M77.2 395.7h0.7M82.8 385.8h0.7M108.7 393.1h0.7M104.6 392.4h0.7M96.3 381.2h0.7M96.2 407.8h0.7M76.1 401.8h0.7M103.4 397.0h0.7M89.6 408.2h0.7M103.7 389.2h0.7M89.8 411.3h0.7M95.4 382.1h0.7M85.7 383.0h0.7M88.9 383.3h0.7M99.4 408.6h0.7M91.9 407.3h0.7M79.9 402.2h0.7M101.6 403.9h0.7M83.3 404.9h0.7M106.3 393.6h0.7M104.3 398.0h0.7M90.3 409.7h0.7M99.6 406.8h0.7M98.0 408.1h0.7M82.6 383.4h0.7M88.1 407.4h0.7M78.2 391.6h0.7M79.7 390.2h0.7M82.3 386.5h0.7M89.1 407.6h0.7M102.4 402.9h0.7M104.2 401.2h0.7M105.9 397.2h0.7M83.3 405.5h0.7M98.1 384.3h0.7M106.9 396.0h0.7M96.2 406.6h0.7M104.8 394.5h0.7M91.9 383.6h0.7M105.4 397.9h0.7M80.8 383.4h0.7M107.9 397.8h0.7M99.5 384.5h0.7M89.5 411.1h0.7M102.5 403.9h0.7M102.3 386.4h0.7M94.6 406.8h0.7M94.7 407.4h0.7M103.2 393.0h0.7M94.7 407.6h0.7M103.9 388.7h0.7M76.2 389.6h0.7M80.3 391.1h0.7M78.0 399.6h0.7M80.3 384.3h0.7M76.9 398.7h0.7M90.8 383.8h0.7M98.9 407.3h0.7M90.7 409.7h0.7M107.3 395.1h0.7M89.1 384.0h0.7M89.8 407.6h0.7M74.9 399.7h0.7M79.5 390.5h0.7M104.6 399.2h0.7M98.0 409.2h0.7M99.3 386.0h0.7M90.0 408.2h0.7M98.9 407.3h0.7M90.6 410.8h0.7M101.2 402.7h0.7M98.5 408.4h0.7M97.1 406.3h0.7M81.8 380.7h0.7M105.6 391.5h0.7M81.3 385.4h0.7M89.7 408.5h0.7M88.7 410.2h0.7M83.8 384.5h0.7M89.5 407.8h0.7M72.4 389.2h0.7M87.5 384.5h0.7M87.9 378.3h0.7M77.4 394.7h0.7M105.2 397.6h0.7M94.5 406.9h0.7M95.2 407.7h0.7M84.1 406.4h0.7M80.8 401.4h0.7M76.6 392.5h0.7M103.2 400.8h0.7M84.7 409.4h0.7M72.9 402.8h0.7M87.5 407.4h0.7M98.8 406.9h0.7M86.3 406.8h0.7M93.3 409.1h0.7M103.7 398.4h0.7M89.7 409.0h0.7M100.3 383.6h0.7M103.0 400.6h0.7M97.7 385.6h0.7M88.6 407.1h0.7M98.4 384.3h0.7M103.7 394.4h0.7M94.7 408.3h0.7M107.1 394.3h0.7M88.2 383.9h0.7M94.2 406.8h0.7M84.7 384.6h0.7M85.5 385.2h0.7M83.5 380.5h0.7M86.4 407.0h0.7M82.4 404.3h0.7M80.8 385.1h0.7M103.7 399.9h0.7M97.3 384.3h0.7" stroke="#1a1a1a" stroke-opacity="0.7" stroke-width="0.7" fill="none"/>
<ellipse cx="129.0" cy="422.0" rx="17.10" ry="11.10" transform="rotate(-8 129.0 422.0)" fill="#fff" stroke="#fff" stroke-width="1.4"/>
<ellipse cx="129.0" cy="422.0" rx="16.50" ry="10.50" transform="rotate(-8 129.0 422.0)" fill="#fafafa" stroke="#8a8a8a" stroke-width="0.65"/>
<ellipse cx="129.0" cy="422.0" rx="13.69" ry="8.71" transform="rotate(-8 129.0 422.0)" fill="#e6e6e6" stroke="#8a8a8a" stroke-width="0.42"/>
<ellipse cx="129.0" cy="422.0" rx="10.89" ry="6.93" transform="rotate(-8 129.0 422.0)" fill="#d1d1d1" stroke="#8a8a8a" stroke-width="0.42"/>
<ellipse cx="129.0" cy="422.0" rx="8.08" ry="5.14" transform="rotate(-8 129.0 422.0)" fill="#bdbdbd" stroke="#8a8a8a" stroke-width="0.42"/>
<ellipse cx="129.0" cy="422.0" rx="5.28" ry="3.36" transform="rotate(-8 129.0 422.0)" fill="#a9a9a9" stroke="#8a8a8a" stroke-width="0.42"/>
<ellipse cx="86.0" cy="423.0" rx="6.60" ry="10.60" transform="rotate(0 86.0 423.0)" fill="#fff" stroke="#fff" stroke-width="1.4"/>
<ellipse cx="86.0" cy="423.0" rx="6.00" ry="10.00" transform="rotate(0 86.0 423.0)" fill="#fafafa" stroke="#8a8a8a" stroke-width="0.65"/>
<ellipse cx="86.0" cy="423.0" rx="4.98" ry="8.30" transform="rotate(0 86.0 423.0)" fill="#e8e8e8" stroke="#8a8a8a" stroke-width="0.42"/>
<ellipse cx="86.0" cy="423.0" rx="3.96" ry="6.60" transform="rotate(0 86.0 423.0)" fill="#d6d6d6" stroke="#8a8a8a" stroke-width="0.42"/>
<ellipse cx="86.0" cy="423.0" rx="2.94" ry="4.90" transform="rotate(0 86.0 423.0)" fill="#c4c4c4" stroke="#8a8a8a" stroke-width="0.42"/>
<ellipse cx="86.0" cy="423.0" rx="1.92" ry="3.20" transform="rotate(0 86.0 423.0)" fill="#b2b2b2" stroke="#8a8a8a" stroke-width="0.42"/>
<ellipse cx="91.5" cy="395.5" rx="12.60" ry="12.10" transform="rotate(0 91.5 395.5)" fill="#fff" stroke="#fff" stroke-width="1.4"/>
<ellipse cx="91.5" cy="395.5" rx="12.00" ry="11.50" transform="rotate(0 91.5 395.5)" fill="#fafafa" stroke="#8a8a8a" stroke-width="0.65"/>
<ellipse cx="91.5" cy="395.5" rx="9.96" ry="9.54" transform="rotate(0 91.5 395.5)" fill="#e3e3e3" stroke="#8a8a8a" stroke-width="0.42"/>
<ellipse cx="91.5" cy="395.5" rx="7.92" ry="7.59" transform="rotate(0 91.5 395.5)" fill="#cdcdcd" stroke="#8a8a8a" stroke-width="0.42"/>
<ellipse cx="91.5" cy="395.5" rx="5.88" ry="5.63" transform="rotate(0 91.5 395.5)" fill="#b6b6b6" stroke="#8a8a8a" stroke-width="0.42"/>
<ellipse cx="91.5" cy="395.5" rx="3.84" ry="3.68" transform="rotate(0 91.5 395.5)" fill="#9f9f9f" stroke="#8a8a8a" stroke-width="0.42"/>
</g>
<line x1="97.50" y1="355.00" x2="97.50" y2="444.50" stroke="#8a8a8a" stroke-width="0.8" />
<line x1="64.25" y1="410.50" x2="152.50" y2="410.50" stroke="#8a8a8a" stroke-width="0.8" />
<text x="88.1" y="366.0" font-size="10.3" font-weight="bold" text-anchor="middle" >49</text>
<text x="129.2" y="366.0" font-size="10.3" font-weight="bold" text-anchor="middle" >2.4</text>
<rect x="168.75" y="355.00" width="88.25" height="89.50" fill="none" stroke="#6a6a6a" stroke-width="0.9"/>
<line x1="167.55" y1="358.00" x2="167.55" y2="442.50" stroke="#999" stroke-width="1.2" stroke-dasharray="0.6 2.4"/>
<line x1="171.75" y1="445.70" x2="255.00" y2="445.70" stroke="#999" stroke-width="1.2" stroke-dasharray="0.6 2.4"/>
<text x="165.2" y="366.3" font-size="4.2" fill="#555" text-anchor="end">10<tspan dy="-2" font-size="3">5</tspan></text>
<rect x="166.6" y="364.2" width="1.6" height="1.2" fill="#333"/>
<text x="165.2" y="388.7" font-size="4.2" fill="#555" text-anchor="end">10<tspan dy="-2" font-size="3">4</tspan></text>
<rect x="166.6" y="386.6" width="1.6" height="1.2" fill="#333"/>
<text x="165.2" y="412.0" font-size="4.2" fill="#555" text-anchor="end">10<tspan dy="-2" font-size="3">3</tspan></text>
<rect x="166.6" y="409.9" width="1.6" height="1.2" fill="#333"/>
<text x="165.2" y="428.1" font-size="4.2" fill="#555" text-anchor="end">0</text>
<rect x="166.6" y="426.0" width="1.6" height="1.2" fill="#333"/>
<text x="185.5" y="455.0" font-size="4.2" fill="#555" text-anchor="middle">0</text>
<text x="203.2" y="455.0" font-size="4.2" fill="#555" text-anchor="middle">10<tspan dy="-2" font-size="3">3</tspan></text>
<text x="227.0" y="455.0" font-size="4.2" fill="#555" text-anchor="middle">10<tspan dy="-2" font-size="3">4</tspan></text>
<text x="248.2" y="455.0" font-size="4.2" fill="#555" text-anchor="middle">10<tspan dy="-2" font-size="3">5</tspan></text>
<rect x="184.7" y="445.3" width="1.6" height="1.6" fill="#222"/>
<clipPath id="cp6"><rect x="169.25" y="355.50" width="87.25" height="88.50"/></clipPath><g clip-path="url(#cp6)">
<path d="M207.5 405.1h0.7M194.3 398.5h0.7M211.3 405.5h0.7M205.3 419.1h0.7M208.5 418.0h0.7M215.1 421.2h0.7M213.6 417.5h0.7M206.3 419.7h0.7M209.5 425.2h0.7M202.8 423.8h0.7M225.4 394.2h0.7M210.6 417.2h0.7M204.6 412.9h0.7M198.0 420.5h0.7M201.1 432.5h0.7M208.4 433.9h0.7M207.0 405.4h0.7M209.2 420.1h0.7M212.1 396.7h0.7M206.7 431.3h0.7M206.7 399.9h0.7M209.1 422.6h0.7M215.9 423.3h0.7M199.2 428.8h0.7M211.1 429.0h0.7M204.9 427.6h0.7M191.5 406.1h0.7M210.4 432.7h0.7M210.2 419.7h0.7M205.0 414.5h0.7M213.9 402.1h0.7M208.1 431.8h0.7M194.5 398.0h0.7M199.3 418.2h0.7M210.0 413.1h0.7M211.7 413.6h0.7M194.9 427.4h0.7M206.2 412.3h0.7M194.7 395.4h0.7M198.8 424.7h0.7M199.8 406.1h0.7M200.7 423.6h0.7M210.3 429.3h0.7M200.1 431.9h0.7M217.4 422.2h0.7M213.5 433.3h0.7M208.9 410.4h0.7M209.9 421.6h0.7M211.1 442.1h0.7M206.5 416.1h0.7M214.9 418.6h0.7M197.5 421.2h0.7M213.2 403.6h0.7M218.2 435.7h0.7M198.4 420.6h0.7M209.0 423.4h0.7M208.2 424.7h0.7M200.8 416.1h0.7M205.6 422.3h0.7M220.0 426.3h0.7M198.9 421.7h0.7M219.7 436.9h0.7M218.2 419.3h0.7M211.6 420.0h0.7M198.3 418.9h0.7M203.4 406.8h0.7M205.2 414.8h0.7M204.5 424.9h0.7M198.8 419.1h0.7M208.9 421.0h0.7M208.2 419.1h0.7M195.1 399.5h0.7M202.1 414.7h0.7M199.7 411.3h0.7M203.4 433.9h0.7M205.5 425.7h0.7M211.0 419.9h0.7M213.1 413.2h0.7M204.9 407.6h0.7M205.4 426.4h0.7M200.0 417.6h0.7M204.4 417.8h0.7M203.4 420.9h0.7M197.5 419.5h0.7M218.0 408.3h0.7M212.0 411.9h0.7M202.2 434.8h0.7M211.0 424.0h0.7M217.9 424.2h0.7M205.5 397.5h0.7M211.2 433.8h0.7M203.1 407.3h0.7M194.1 423.7h0.7M189.3 421.7h0.7M212.0 414.1h0.7M198.8 415.7h0.7M217.2 407.7h0.7M200.6 423.0h0.7M201.8 430.1h0.7M201.0 407.2h0.7M195.6 416.2h0.7M214.0 418.4h0.7M202.1 404.4h0.7M208.0 412.1h0.7M222.5 407.4h0.7M196.6 406.5h0.7M207.5 423.5h0.7M207.8 428.9h0.7M211.1 412.8h0.7M218.1 411.1h0.7M207.6 418.6h0.7M214.2 417.9h0.7M208.5 400.4h0.7M205.6 419.5h0.7M216.8 402.5h0.7M197.7 425.8h0.7M222.5 419.5h0.7M191.2 402.0h0.7M203.5 410.1h0.7M209.6 427.8h0.7M211.7 409.6h0.7M201.2 416.5h0.7M209.1 423.3h0.7M203.4 427.6h0.7M211.2 415.4h0.7M207.6 432.7h0.7M210.7 415.5h0.7M203.8 426.9h0.7M208.9 419.5h0.7M201.0 415.8h0.7M207.3 434.2h0.7M197.0 419.3h0.7M199.6 405.7h0.7M222.3 406.6h0.7M214.8 427.6h0.7M209.5 418.7h0.7M205.9 422.7h0.7M208.9 423.4h0.7M210.7 403.4h0.7M197.2 417.9h0.7M205.9 406.0h0.7M212.9 422.7h0.7M208.3 427.7h0.7M210.6 417.2h0.7M201.9 428.7h0.7M202.8 411.5h0.7M199.5 424.5h0.7M208.0 416.8h0.7M212.9 410.7h0.7M212.0 413.5h0.7M205.1 416.4h0.7M207.7 430.8h0.7M201.9 427.5h0.7M214.9 416.8h0.7M201.6 407.9h0.7M204.9 419.4h0.7M199.5 422.2h0.7M208.0 427.2h0.7M220.9 427.4h0.7M200.3 417.0h0.7M197.1 414.4h0.7M196.2 428.5h0.7M190.8 423.6h0.7M207.1 404.2h0.7M211.7 430.0h0.7M218.7 415.9h0.7M211.5 420.0h0.7M216.4 418.2h0.7M214.1 409.0h0.7M201.5 408.4h0.7M204.9 406.8h0.7M207.2 413.0h0.7M196.3 420.3h0.7M214.2 422.8h0.7M208.6 416.0h0.7M204.9 403.7h0.7M220.0 403.0h0.7M199.9 408.8h0.7M198.6 419.5h0.7M200.9 413.1h0.7M208.6 407.2h0.7M198.3 422.3h0.7M202.6 401.4h0.7M210.4 405.0h0.7M206.0 418.2h0.7M208.1 420.6h0.7M203.2 417.8h0.7M194.4 420.5h0.7M192.8 424.7h0.7M200.9 426.0h0.7M205.7 422.7h0.7M202.8 415.8h0.7M209.5 424.0h0.7M203.3 393.2h0.7M207.1 424.5h0.7M215.1 415.7h0.7M213.6 385.6h0.7M203.2 412.3h0.7M220.7 415.8h0.7M224.4 418.4h0.7M203.0 412.7h0.7M200.1 419.2h0.7M207.1 409.0h0.7M218.6 427.7h0.7M203.9 422.9h0.7M204.8 413.5h0.7M200.0 412.0h0.7M218.6 433.5h0.7M205.2 415.1h0.7M214.1 410.4h0.7M211.3 404.1h0.7M208.9 424.9h0.7M212.0 432.5h0.7M214.6 414.2h0.7M196.3 396.7h0.7M198.5 416.7h0.7M209.3 422.1h0.7M207.0 416.3h0.7M208.7 428.5h0.7M206.6 426.8h0.7M216.3 420.1h0.7M211.2 421.4h0.7M214.7 426.3h0.7M207.8 429.2h0.7M214.9 420.4h0.7M197.6 434.4h0.7M208.0 425.1h0.7M207.7 415.7h0.7M197.9 418.6h0.7M204.9 423.3h0.7M204.3 418.0h0.7M211.7 418.4h0.7M202.1 422.8h0.7M204.2 409.0h0.7M198.8 410.4h0.7M202.0 397.8h0.7M196.0 412.8h0.7M203.4 416.8h0.7M210.3 408.5h0.7M217.2 421.6h0.7M189.0 417.8h0.7M199.1 423.1h0.7M218.7 405.4h0.7M207.0 408.3h0.7M195.6 424.1h0.7M212.2 412.0h0.7M203.4 407.0h0.7M201.4 416.0h0.7M204.9 424.8h0.7M207.6 417.8h0.7M206.9 424.0h0.7M210.2 405.7h0.7M204.8 422.0h0.7M200.6 404.8h0.7M199.0 406.9h0.7M204.6 416.7h0.7M210.0 400.5h0.7M209.4 425.7h0.7M225.1 415.5h0.7M211.5 402.2h0.7M213.9 433.3h0.7M208.1 412.6h0.7M216.9 409.3h0.7M218.9 408.3h0.7M209.6 421.0h0.7M207.5 412.8h0.7M198.9 431.0h0.7M209.4 410.0h0.7M196.8 425.2h0.7M215.8 417.7h0.7M203.0 423.5h0.7M209.7 429.4h0.7M205.1 411.7h0.7M205.6 405.8h0.7M198.3 413.2h0.7M205.0 418.8h0.7M196.0 414.9h0.7M220.3 402.3h0.7M203.5 413.7h0.7M210.6 410.8h0.7M222.4 413.1h0.7M207.9 419.6h0.7M216.0 422.1h0.7M196.2 418.6h0.7M201.7 428.8h0.7M209.9 421.4h0.7M205.5 411.5h0.7M213.6 426.5h0.7M222.3 415.8h0.7M214.2 408.4h0.7M210.1 418.3h0.7M198.5 412.5h0.7M206.9 416.1h0.7M204.1 415.5h0.7M206.1 414.1h0.7M194.0 419.3h0.7M218.4 416.5h0.7M207.2 410.6h0.7M200.4 409.4h0.7M196.6 418.4h0.7M199.6 421.0h0.7M206.8 405.1h0.7M221.8 414.8h0.7M207.1 413.9h0.7M197.8 417.8h0.7M209.8 398.9h0.7M206.3 419.2h0.7M219.1 400.1h0.7M201.0 428.4h0.7M200.8 423.8h0.7M199.0 407.5h0.7M211.4 413.0h0.7M198.3 418.4h0.7M214.4 417.0h0.7M222.0 406.3h0.7M217.8 420.8h0.7M212.3 424.8h0.7M204.1 415.3h0.7M196.5 411.5h0.7M201.0 427.1h0.7M202.8 421.1h0.7M205.5 439.4h0.7M200.3 409.5h0.7M210.5 401.9h0.7M206.3 408.9h0.7M200.0 416.0h0.7M220.6 426.1h0.7M211.9 422.2h0.7M209.6 411.8h0.7M207.2 417.0h0.7M210.5 425.9h0.7M197.8 406.0h0.7M216.3 407.9h0.7M213.5 420.9h0.7M205.1 419.6h0.7M212.3 416.5h0.7M217.5 418.0h0.7M215.3 420.5h0.7M207.6 425.0h0.7M205.0 412.0h0.7M205.5 418.8h0.7M203.4 424.9h0.7M208.4 420.7h0.7M203.6 420.1h0.7M211.0 415.3h0.7M204.3 420.4h0.7M207.7 412.6h0.7M212.0 422.0h0.7M219.3 407.5h0.7M197.0 420.5h0.7M219.6 426.6h0.7M206.1 411.2h0.7M208.2 413.5h0.7M200.3 418.8h0.7M201.2 415.2h0.7M200.8 416.1h0.7M209.4 418.4h0.7M207.8 408.5h0.7M195.8 417.0h0.7M205.8 423.8h0.7M196.2 426.2h0.7M205.1 408.1h0.7M201.8 413.7h0.7M215.5 413.9h0.7M208.2 409.8h0.7M196.3 411.3h0.7M194.4 414.9h0.7M204.3 433.6h0.7M202.5 427.9h0.7M210.4 425.2h0.7M207.3 416.5h0.7M209.3 428.4h0.7M200.2 406.5h0.7M201.7 404.8h0.7M202.8 414.9h0.7M200.5 416.0h0.7M214.3 418.4h0.7M213.7 416.4h0.7M206.6 405.5h0.7M214.6 420.6h0.7M216.2 417.0h0.7M201.5 436.7h0.7M198.1 399.7h0.7M211.4 408.3h0.7M197.6 420.2h0.7M200.2 434.0h0.7M220.7 437.5h0.7M202.0 426.2h0.7M201.3 413.1h0.7M204.2 416.1h0.7M208.3 414.9h0.7M215.7 405.3h0.7M208.7 403.4h0.7M209.5 428.7h0.7M216.7 423.6h0.7M207.1 412.0h0.7M203.1 419.4h0.7M200.6 405.9h0.7M215.0 422.6h0.7M209.2 414.1h0.7M210.7 414.1h0.7M208.9 418.4h0.7M206.2 412.1h0.7M210.8 410.6h0.7M217.2 426.2h0.7M204.3 422.2h0.7M211.9 418.2h0.7M198.0 420.5h0.7M203.5 416.2h0.7M220.6 418.3h0.7M196.0 424.6h0.7M213.4 410.6h0.7M205.7 411.7h0.7M208.0 428.5h0.7M224.6 415.9h0.7M207.1 430.7h0.7M204.4 426.2h0.7M200.2 424.7h0.7M217.6 427.0h0.7M217.3 426.7h0.7M206.3 424.6h0.7M212.3 420.2h0.7M212.4 415.7h0.7M200.3 430.9h0.7M207.5 433.0h0.7M219.5 414.3h0.7M217.8 421.9h0.7M209.0 402.5h0.7M203.1 416.0h0.7M201.9 407.4h0.7M194.1 419.4h0.7M208.8 426.0h0.7M195.9 403.9h0.7M220.6 416.9h0.7M205.4 427.4h0.7M198.3 416.4h0.7M211.9 422.1h0.7M212.2 414.3h0.7M216.7 405.0h0.7M190.5 416.2h0.7M207.0 417.8h0.7M191.4 406.0h0.7M203.5 425.9h0.7M214.4 433.2h0.7M197.4 413.3h0.7M193.7 407.0h0.7M197.2 416.8h0.7M200.0 420.7h0.7M215.9 415.5h0.7M203.0 418.1h0.7M204.7 415.9h0.7M201.3 419.1h0.7M202.1 422.0h0.7M207.2 427.5h0.7M209.9 422.7h0.7M205.4 413.9h0.7M210.1 410.4h0.7M208.8 433.1h0.7M201.2 424.0h0.7M210.4 418.0h0.7M213.5 414.0h0.7M197.4 422.8h0.7M209.4 420.8h0.7M212.4 408.3h0.7M200.1 434.3h0.7M204.0 427.5h0.7M209.0 400.8h0.7M202.2 443.1h0.7M207.4 424.9h0.7M197.0 417.0h0.7M198.4 415.5h0.7M207.0 411.3h0.7M196.4 423.4h0.7M210.1 413.6h0.7M201.2 426.0h0.7M205.1 428.7h0.7M210.7 415.6h0.7M213.1 401.5h0.7M199.5 418.6h0.7M212.5 425.7h0.7M209.8 410.7h0.7M205.6 434.9h0.7M211.0 427.7h0.7M206.9 407.3h0.7M203.5 429.7h0.7M200.6 429.5h0.7M209.6 402.5h0.7M206.5 413.4h0.7M204.7 431.3h0.7M196.3 403.6h0.7M203.7 419.2h0.7M208.0 419.3h0.7M200.0 416.1h0.7M220.9 422.6h0.7M211.9 421.3h0.7M207.6 404.5h0.7M209.5 440.6h0.7M193.7 423.4h0.7M197.1 424.1h0.7M208.3 417.1h0.7M197.5 413.0h0.7M215.3 415.5h0.7M205.7 422.9h0.7M202.0 416.2h0.7M195.5 436.3h0.7M207.9 423.6h0.7M202.0 408.7h0.7M211.2 413.6h0.7M206.4 408.7h0.7M221.7 417.3h0.7M208.3 426.1h0.7M198.2 419.6h0.7M197.0 410.5h0.7M212.0 428.5h0.7M209.2 409.7h0.7M205.3 424.8h0.7M203.2 415.1h0.7M207.4 425.4h0.7M201.7 404.3h0.7M202.2 416.6h0.7M204.5 420.5h0.7M213.8 417.8h0.7M208.8 412.2h0.7M205.4 422.9h0.7M197.9 426.9h0.7M200.1 415.5h0.7M209.9 423.2h0.7" stroke="#1a1a1a" stroke-opacity="0.68" stroke-width="0.7" fill="none"/>
<path d="M231.1 398.4h0.7M230.5 404.6h0.7M231.9 401.6h0.7M222.0 394.7h0.7M214.3 410.2h0.7M253.2 405.6h0.7M232.1 401.9h0.7M224.7 420.9h0.7M232.6 408.7h0.7M244.3 378.3h0.7M239.2 403.6h0.7M231.4 405.0h0.7M239.2 409.4h0.7M252.8 400.3h0.7M235.9 412.2h0.7M222.2 402.4h0.7M238.5 406.1h0.7M228.8 406.4h0.7M215.3 405.7h0.7M205.0 398.3h0.7M203.4 414.8h0.7M240.9 402.1h0.7M199.2 393.4h0.7M215.5 430.3h0.7M209.1 403.9h0.7M241.6 409.1h0.7M224.7 398.9h0.7M243.8 402.3h0.7M207.8 397.6h0.7M221.6 416.9h0.7M227.4 388.5h0.7M224.7 411.5h0.7M216.8 399.1h0.7M212.2 406.0h0.7M230.4 399.0h0.7M231.7 408.5h0.7M220.5 403.3h0.7M238.6 401.4h0.7M207.4 409.0h0.7M228.8 407.6h0.7M232.6 418.0h0.7M210.3 421.6h0.7M236.7 410.3h0.7M217.4 404.3h0.7M228.1 408.0h0.7M206.7 403.5h0.7M202.5 423.0h0.7M220.4 398.1h0.7M222.5 409.4h0.7M243.1 409.7h0.7M205.6 400.6h0.7M233.0 405.0h0.7M241.1 399.3h0.7M225.5 385.8h0.7M228.3 409.5h0.7M232.3 396.5h0.7M229.4 404.0h0.7M216.9 399.2h0.7M232.3 409.7h0.7M225.4 411.3h0.7M223.2 411.0h0.7M203.6 419.3h0.7M243.2 404.9h0.7M211.7 400.3h0.7M218.8 416.5h0.7M222.8 406.2h0.7M238.1 400.7h0.7M220.9 384.1h0.7M241.4 417.2h0.7M232.3 395.8h0.7M236.6 401.5h0.7M191.4 401.1h0.7M201.8 401.1h0.7M213.5 411.5h0.7M208.1 405.3h0.7M227.9 389.7h0.7M230.6 397.8h0.7M215.7 390.9h0.7M229.8 398.4h0.7M227.7 403.5h0.7M249.9 401.6h0.7M230.5 416.2h0.7M223.1 414.6h0.7M236.3 386.7h0.7M250.4 402.5h0.7M213.6 401.4h0.7M232.1 405.9h0.7M234.3 398.9h0.7M223.5 399.8h0.7M219.1 418.3h0.7M232.0 403.4h0.7M234.0 390.1h0.7M227.5 399.2h0.7M216.3 416.0h0.7M232.4 409.3h0.7M221.5 404.7h0.7M229.3 409.2h0.7M231.5 408.1h0.7M219.2 408.3h0.7M235.6 408.3h0.7M225.6 406.0h0.7M228.8 406.6h0.7M229.5 399.4h0.7M222.6 404.9h0.7M214.5 381.9h0.7M228.3 400.3h0.7M232.8 409.1h0.7M234.4 401.5h0.7M231.9 388.6h0.7M237.4 395.8h0.7M218.7 408.1h0.7M220.8 395.5h0.7M225.9 394.7h0.7M240.4 393.8h0.7M228.1 413.3h0.7M233.5 423.9h0.7M243.6 406.7h0.7M212.7 409.3h0.7M246.6 412.1h0.7M237.6 409.4h0.7M227.9 407.3h0.7M235.0 404.0h0.7M247.5 396.2h0.7M247.0 398.8h0.7M215.5 401.1h0.7M218.1 401.5h0.7M238.3 414.7h0.7M240.5 380.2h0.7M246.0 397.3h0.7M235.0 415.0h0.7M244.5 419.2h0.7M230.5 395.3h0.7M217.0 420.9h0.7M224.8 405.4h0.7M222.8 395.8h0.7M250.4 415.9h0.7M232.3 409.7h0.7M219.6 402.8h0.7M222.4 412.5h0.7M246.9 398.9h0.7M206.0 411.0h0.7M255.0 406.6h0.7M233.5 390.0h0.7M227.1 390.9h0.7M238.6 424.1h0.7M232.9 397.6h0.7M221.2 402.8h0.7M231.8 416.6h0.7M231.2 404.9h0.7M215.7 395.6h0.7M232.8 402.8h0.7M227.4 408.2h0.7M251.8 395.7h0.7M239.1 412.3h0.7M222.7 392.4h0.7M212.7 405.2h0.7M231.2 407.1h0.7M239.2 413.0h0.7M248.1 418.6h0.7M229.4 405.4h0.7M217.4 393.4h0.7M229.4 394.2h0.7M248.1 397.2h0.7M252.8 397.5h0.7M227.8 413.5h0.7M235.3 416.3h0.7M218.1 410.5h0.7M224.2 408.2h0.7M211.0 396.3h0.7M225.7 407.8h0.7M215.3 395.7h0.7M204.9 398.9h0.7M252.2 398.5h0.7M203.1 391.6h0.7M214.4 399.8h0.7M233.4 411.6h0.7M222.8 409.3h0.7M228.7 409.7h0.7M244.2 411.0h0.7M206.8 410.4h0.7M225.0 383.5h0.7M235.7 401.7h0.7M212.6 386.8h0.7M236.6 406.4h0.7M238.7 404.7h0.7M230.8 404.7h0.7M251.9 415.2h0.7M221.9 414.5h0.7M220.7 411.3h0.7M208.1 387.9h0.7M243.4 407.7h0.7M224.4 388.6h0.7M222.1 398.8h0.7M240.0 405.1h0.7M202.4 397.0h0.7M214.0 397.6h0.7M212.7 414.0h0.7M245.6 402.1h0.7M219.3 395.3h0.7M229.3 423.6h0.7M243.0 408.3h0.7M246.2 398.6h0.7M222.6 407.9h0.7M213.8 414.7h0.7" stroke="#1a1a1a" stroke-opacity="0.5599999999999999" stroke-width="0.7" fill="none"/>
<path d="M204.5 397.3h0.7M231.4 410.9h0.7M209.6 434.1h0.7M240.5 405.6h0.7M236.1 394.5h0.7M240.4 417.8h0.7M215.7 436.2h0.7M222.6 390.4h0.7M221.3 427.6h0.7M233.5 437.0h0.7M208.5 397.8h0.7M187.0 408.1h0.7M204.1 417.5h0.7M244.7 408.1h0.7M191.9 415.5h0.7M218.5 424.8h0.7M240.1 421.9h0.7M220.4 404.9h0.7M221.5 429.0h0.7M208.6 438.0h0.7M215.3 425.9h0.7M185.5 430.6h0.7M212.9 408.2h0.7M218.7 418.5h0.7M202.2 397.2h0.7M222.4 424.9h0.7M218.4 411.4h0.7M211.1 388.9h0.7M206.1 404.9h0.7M212.4 383.4h0.7M191.5 408.0h0.7M181.6 395.9h0.7M241.2 411.6h0.7M205.8 415.5h0.7M196.2 416.1h0.7M206.1 400.4h0.7M215.6 424.3h0.7M214.9 396.8h0.7M216.5 405.9h0.7M206.6 417.3h0.7M222.8 426.5h0.7M232.0 425.3h0.7M246.3 431.1h0.7M243.2 431.7h0.7M208.2 427.1h0.7M235.6 426.4h0.7M239.0 424.1h0.7M200.9 412.7h0.7M198.3 397.2h0.7M251.5 427.3h0.7M237.8 397.3h0.7M229.6 409.1h0.7M228.2 425.8h0.7M238.6 404.5h0.7M238.2 429.8h0.7M222.1 400.5h0.7M193.3 392.2h0.7M186.8 426.4h0.7M186.4 404.5h0.7M220.8 408.5h0.7M224.0 432.2h0.7M206.3 424.6h0.7M234.5 415.0h0.7M233.4 414.8h0.7M218.8 428.2h0.7M211.6 413.1h0.7M225.6 430.0h0.7M196.7 431.2h0.7M219.4 418.7h0.7M240.6 402.8h0.7M199.8 400.1h0.7M218.6 422.4h0.7M189.3 422.2h0.7M194.4 418.8h0.7M253.5 431.3h0.7M216.2 428.9h0.7M229.8 383.1h0.7M201.7 426.3h0.7M226.1 401.3h0.7M224.2 421.6h0.7M214.3 415.9h0.7M250.1 426.5h0.7M232.0 392.3h0.7M209.5 427.2h0.7M220.5 413.3h0.7M199.4 420.4h0.7M213.9 393.7h0.7M183.5 395.5h0.7M205.0 409.5h0.7M200.8 414.4h0.7M242.3 401.4h0.7M235.9 427.1h0.7M195.9 396.1h0.7M229.4 429.7h0.7M229.7 424.4h0.7M204.1 425.0h0.7M196.8 424.2h0.7M231.9 426.0h0.7M239.9 424.9h0.7M235.2 418.6h0.7M246.4 415.6h0.7M242.8 406.8h0.7M195.7 419.3h0.7M215.2 409.4h0.7M202.3 427.6h0.7M224.3 428.7h0.7M209.2 421.2h0.7M198.7 407.1h0.7M230.7 427.3h0.7M218.5 432.9h0.7M203.0 435.2h0.7M213.9 414.4h0.7M199.4 435.2h0.7M198.9 435.5h0.7M241.5 390.6h0.7M215.2 400.2h0.7M207.4 415.7h0.7M211.2 425.5h0.7M224.3 391.6h0.7M194.2 397.6h0.7M191.7 423.5h0.7M213.1 416.8h0.7M178.5 410.9h0.7M176.2 415.5h0.7M204.6 422.0h0.7M225.3 427.5h0.7M211.8 421.3h0.7M218.6 400.6h0.7M217.0 431.3h0.7M202.5 431.9h0.7M210.2 434.2h0.7M216.5 403.7h0.7M219.2 432.8h0.7M181.7 402.2h0.7M222.7 400.6h0.7M183.3 415.9h0.7M206.9 411.8h0.7" stroke="#1a1a1a" stroke-opacity="0.48" stroke-width="0.7" fill="none"/>
<path d="M220.2 431.9h0.7M236.1 409.1h0.7M219.7 414.3h0.7M251.6 420.2h0.7M226.1 413.4h0.7M228.4 411.0h0.7M254.9 422.6h0.7M240.7 434.4h0.7M219.5 412.6h0.7M216.4 427.2h0.7M218.4 428.5h0.7M236.4 410.6h0.7M217.3 422.5h0.7M237.5 433.6h0.7M234.7 434.1h0.7M213.8 424.3h0.7M220.3 431.5h0.7M224.8 431.0h0.7M238.3 431.1h0.7M214.9 423.3h0.7M214.8 431.1h0.7M224.8 431.6h0.7M213.1 414.8h0.7M219.2 417.6h0.7M249.5 414.7h0.7M240.3 431.4h0.7M240.4 410.2h0.7M243.3 411.0h0.7M250.6 423.3h0.7M239.0 432.8h0.7M250.4 415.5h0.7M247.5 427.9h0.7M210.6 419.7h0.7M226.1 433.6h0.7M227.4 433.9h0.7M217.0 419.8h0.7M247.4 427.4h0.7M241.2 409.1h0.7M249.8 413.6h0.7M224.4 432.5h0.7M219.9 414.3h0.7M235.9 432.7h0.7M247.5 429.8h0.7M249.7 413.0h0.7M250.3 418.1h0.7M250.9 425.1h0.7M249.0 426.1h0.7M222.1 432.0h0.7M241.1 430.4h0.7M251.3 415.8h0.7M253.7 420.5h0.7M217.7 427.7h0.7M217.0 423.8h0.7M209.6 423.2h0.7M214.3 420.8h0.7M243.2 409.6h0.7M247.5 426.8h0.7M215.2 423.3h0.7M234.2 432.8h0.7M221.3 430.4h0.7M219.5 430.0h0.7M212.6 425.1h0.7M238.2 408.8h0.7M243.4 408.5h0.7M215.5 432.6h0.7M238.7 432.7h0.7M216.3 420.5h0.7M245.1 411.6h0.7M229.6 432.5h0.7M251.7 414.9h0.7M245.0 412.7h0.7M220.8 416.3h0.7M216.3 419.3h0.7M214.1 431.6h0.7M216.8 422.0h0.7M212.0 421.6h0.7M246.9 429.0h0.7M246.5 427.9h0.7M228.4 408.9h0.7M217.4 429.3h0.7M216.8 420.3h0.7M247.8 432.0h0.7M249.0 426.7h0.7M237.2 411.2h0.7M225.9 431.6h0.7M232.9 432.4h0.7M224.3 430.7h0.7M231.8 433.2h0.7M229.2 410.3h0.7M221.2 413.7h0.7M252.9 420.4h0.7M236.6 434.6h0.7M253.3 421.9h0.7M216.6 415.9h0.7M216.4 427.7h0.7M213.4 428.6h0.7M249.2 425.8h0.7M233.3 433.9h0.7M220.5 416.8h0.7M220.3 430.7h0.7M248.1 414.6h0.7M251.0 420.2h0.7M231.2 432.6h0.7M218.7 428.7h0.7M216.6 423.3h0.7M237.8 407.8h0.7M250.8 419.1h0.7M238.0 411.4h0.7M214.9 420.5h0.7M232.1 407.4h0.7M235.8 410.8h0.7M219.1 416.5h0.7M239.4 407.0h0.7M243.3 429.4h0.7M253.1 416.1h0.7M228.5 432.2h0.7M227.4 411.0h0.7M247.3 410.3h0.7M219.5 417.7h0.7M244.1 429.7h0.7M248.0 427.6h0.7M245.7 410.2h0.7M241.5 430.2h0.7M250.2 413.7h0.7M217.5 432.8h0.7M216.4 425.3h0.7M250.5 420.4h0.7M215.9 416.9h0.7M233.9 408.1h0.7M223.4 412.9h0.7M218.0 418.4h0.7M224.5 414.0h0.7M253.2 424.1h0.7M223.9 412.7h0.7M228.3 411.9h0.7M237.6 411.3h0.7M218.8 418.4h0.7M254.3 414.6h0.7M217.4 416.3h0.7M226.8 410.7h0.7M250.4 421.9h0.7M254.2 414.3h0.7M219.3 417.8h0.7M235.6 407.0h0.7M217.2 433.6h0.7M218.6 428.4h0.7M248.1 415.0h0.7M243.2 433.1h0.7M230.6 411.9h0.7M217.0 428.1h0.7M242.4 433.7h0.7M219.3 432.2h0.7M216.1 419.2h0.7M250.4 421.2h0.7M245.9 410.7h0.7M220.4 416.4h0.7M229.7 434.5h0.7M252.1 416.5h0.7M217.2 433.0h0.7M246.5 427.4h0.7M243.8 410.9h0.7M234.5 409.5h0.7M220.4 413.8h0.7M250.7 421.0h0.7M251.3 423.4h0.7M213.9 421.8h0.7M245.2 429.2h0.7M243.0 431.5h0.7M214.5 412.2h0.7M219.5 416.2h0.7M248.2 411.7h0.7M251.1 424.0h0.7M238.6 431.9h0.7M244.9 428.3h0.7M253.4 417.7h0.7M227.8 432.0h0.7M234.9 409.3h0.7M252.3 423.3h0.7M231.5 411.6h0.7M226.4 434.1h0.7M246.8 427.1h0.7M236.0 411.2h0.7M216.7 421.3h0.7M216.0 417.7h0.7M254.3 422.6h0.7M248.4 413.1h0.7M230.9 433.0h0.7M233.1 436.0h0.7M220.7 430.0h0.7M251.2 428.4h0.7M218.3 425.9h0.7M238.6 432.9h0.7M215.5 423.2h0.7M240.8 408.2h0.7M237.5 433.1h0.7M251.5 419.8h0.7M244.8 409.5h0.7M216.2 422.4h0.7M216.8 417.6h0.7M218.0 415.7h0.7M242.6 411.8h0.7M217.4 427.7h0.7M251.6 422.4h0.7M245.1 410.0h0.7M213.8 417.0h0.7M250.6 418.2h0.7M245.8 412.6h0.7M226.6 411.8h0.7M230.7 408.5h0.7M220.4 413.7h0.7M241.9 407.4h0.7M244.9 413.0h0.7M237.3 432.0h0.7M243.7 410.8h0.7M241.3 411.3h0.7M241.4 430.8h0.7M217.7 420.7h0.7M252.8 415.8h0.7M248.1 413.8h0.7M235.8 410.2h0.7M210.0 418.3h0.7M242.2 429.9h0.7M253.3 425.5h0.7M251.8 426.6h0.7M208.5 417.2h0.7M250.3 412.3h0.7M243.0 409.9h0.7M228.2 411.7h0.7M244.1 411.1h0.7M243.5 409.3h0.7M233.1 407.3h0.7M246.8 410.9h0.7M242.8 430.8h0.7M253.9 419.0h0.7M231.1 435.9h0.7M210.8 425.6h0.7M214.2 423.0h0.7M250.8 414.2h0.7M228.4 433.8h0.7M213.5 428.1h0.7M219.3 427.9h0.7M225.6 432.4h0.7M237.8 432.5h0.7M241.2 411.1h0.7M232.3 410.7h0.7M216.6 423.1h0.7M231.0 434.7h0.7M221.6 433.4h0.7M226.3 433.3h0.7M224.3 409.8h0.7M226.3 431.9h0.7M250.8 418.4h0.7M229.3 411.0h0.7M237.5 410.8h0.7M252.0 413.9h0.7M244.8 410.7h0.7M220.8 411.1h0.7M244.2 430.9h0.7M250.7 425.0h0.7M245.8 412.0h0.7M253.7 415.2h0.7M240.7 432.7h0.7M214.0 423.4h0.7M247.8 429.1h0.7M211.7 431.9h0.7M219.6 416.2h0.7M226.2 431.7h0.7M211.6 425.4h0.7M215.3 419.2h0.7M217.5 426.0h0.7M241.7 411.7h0.7M216.7 421.4h0.7M239.2 431.7h0.7M217.6 425.1h0.7M219.5 428.1h0.7M255.4 422.7h0.7M230.4 433.3h0.7M249.8 417.2h0.7M222.7 436.1h0.7M215.2 422.7h0.7M239.1 437.5h0.7M241.5 410.8h0.7M227.1 436.1h0.7M229.5 433.9h0.7M253.9 425.2h0.7M221.8 431.8h0.7M239.3 408.3h0.7M246.5 412.1h0.7M215.3 417.2h0.7M235.0 433.2h0.7M239.5 409.5h0.7M227.2 411.3h0.7M254.6 422.5h0.7M249.6 413.6h0.7M251.3 423.9h0.7M216.0 415.2h0.7M217.6 427.2h0.7M244.4 412.6h0.7M247.6 426.2h0.7M255.1 422.8h0.7M234.2 410.0h0.7M214.8 416.1h0.7M234.9 432.7h0.7M238.1 406.5h0.7M249.5 425.4h0.7M218.5 427.0h0.7M231.2 436.1h0.7M231.9 410.9h0.7M237.8 408.9h0.7M219.4 429.1h0.7M230.0 411.9h0.7M243.7 412.3h0.7M225.3 434.2h0.7M216.7 421.6h0.7M250.8 416.5h0.7M236.0 409.0h0.7M248.0 411.9h0.7M223.3 414.6h0.7M243.2 411.5h0.7M246.5 431.0h0.7M229.5 409.3h0.7M215.4 427.2h0.7M250.3 421.6h0.7M247.3 430.5h0.7M227.1 432.4h0.7M232.0 432.3h0.7M214.4 428.3h0.7M250.5 426.3h0.7M222.2 429.5h0.7M228.4 412.5h0.7M229.4 412.3h0.7M229.2 431.9h0.7M227.2 431.8h0.7M244.1 429.5h0.7" stroke="#1a1a1a" stroke-opacity="0.7" stroke-width="0.7" fill="none"/>
<path d="M189.2 409.7h0.7M186.4 431.1h0.7M187.2 433.5h0.7M192.2 411.8h0.7M196.7 416.1h0.7M194.0 413.1h0.7M195.0 430.0h0.7M190.7 412.4h0.7M195.5 415.5h0.7M185.8 414.5h0.7M184.0 420.4h0.7M187.4 432.6h0.7M185.8 416.3h0.7M184.9 420.2h0.7M184.6 425.8h0.7M184.8 426.5h0.7M194.9 430.7h0.7M194.9 414.2h0.7M190.7 433.8h0.7M189.6 411.2h0.7M194.0 412.6h0.7M186.2 413.4h0.7M186.7 432.1h0.7M194.4 415.3h0.7M185.1 428.2h0.7M185.0 422.1h0.7M192.5 433.8h0.7M187.1 431.4h0.7M195.7 428.3h0.7M196.7 428.4h0.7M185.7 412.8h0.7M186.8 433.7h0.7M186.2 413.7h0.7M197.6 421.9h0.7M193.3 434.0h0.7M190.6 437.2h0.7M197.1 427.1h0.7M186.2 416.1h0.7M191.0 410.4h0.7M188.8 409.3h0.7M190.7 433.8h0.7M194.8 412.9h0.7M195.4 413.6h0.7M184.7 423.4h0.7M190.4 408.9h0.7M184.8 421.9h0.7M185.1 418.7h0.7M184.6 422.2h0.7M195.8 419.8h0.7M189.3 436.5h0.7M191.2 411.8h0.7M194.4 431.8h0.7M186.2 434.8h0.7M196.3 418.8h0.7M184.2 418.9h0.7M196.3 418.9h0.7M196.1 428.7h0.7M187.0 414.1h0.7M192.0 434.6h0.7M184.9 421.3h0.7M185.2 428.4h0.7M186.9 413.4h0.7M196.7 417.2h0.7M192.0 433.6h0.7M186.3 430.0h0.7M190.2 437.4h0.7M196.2 421.8h0.7M186.3 413.5h0.7M194.8 431.1h0.7M187.2 412.4h0.7M193.2 412.1h0.7M184.9 418.5h0.7M196.4 421.7h0.7M196.3 425.7h0.7M182.6 427.6h0.7M188.3 411.5h0.7M191.2 434.6h0.7M184.9 427.3h0.7M191.4 409.9h0.7M191.8 433.8h0.7M186.1 415.2h0.7M186.2 434.7h0.7M195.7 415.5h0.7M193.9 431.5h0.7M187.6 410.5h0.7M195.8 426.8h0.7M194.9 429.4h0.7M196.9 416.3h0.7M184.5 428.1h0.7M195.0 414.7h0.7M188.4 437.0h0.7M186.6 430.7h0.7M183.2 429.2h0.7M183.2 422.9h0.7M184.5 425.1h0.7M186.6 433.1h0.7M192.9 434.0h0.7M186.5 413.6h0.7M197.5 429.7h0.7M196.1 423.7h0.7M185.2 426.0h0.7M195.0 415.9h0.7M196.8 420.6h0.7M196.3 420.7h0.7M189.3 433.6h0.7M198.2 423.4h0.7M184.0 424.7h0.7M197.1 429.8h0.7M187.1 411.1h0.7M184.8 424.7h0.7M197.4 416.5h0.7M188.7 412.7h0.7M185.8 431.7h0.7M190.2 411.2h0.7M196.3 421.3h0.7M184.7 419.3h0.7M184.3 420.6h0.7M185.6 430.1h0.7M188.2 411.1h0.7M185.4 415.8h0.7M191.4 435.5h0.7M184.4 420.8h0.7M189.7 410.9h0.7M196.5 420.0h0.7M195.6 416.7h0.7M186.3 435.5h0.7M196.1 426.6h0.7M196.8 417.5h0.7M184.4 428.1h0.7M188.6 412.5h0.7M191.1 434.3h0.7M187.5 412.6h0.7M196.2 423.8h0.7M185.7 430.8h0.7M196.3 420.8h0.7M196.2 420.9h0.7M193.1 410.9h0.7M184.6 425.9h0.7M186.9 414.3h0.7M186.7 432.1h0.7M184.7 422.8h0.7M186.8 414.0h0.7M196.4 421.9h0.7M187.1 433.6h0.7M196.7 422.1h0.7M196.6 429.4h0.7M194.3 430.7h0.7M187.0 412.2h0.7M193.6 433.0h0.7M195.8 431.3h0.7M194.3 430.6h0.7M184.0 419.8h0.7M196.0 419.3h0.7M184.4 420.7h0.7" stroke="#1a1a1a" stroke-opacity="0.7" stroke-width="0.7" fill="none"/>
<path d="M193.2 412.2h0.7M184.6 402.9h0.7M186.5 384.5h0.7M184.0 400.8h0.7M200.8 405.8h0.7M199.5 387.4h0.7M199.5 392.4h0.7M181.1 395.6h0.7M182.1 393.7h0.7M180.5 400.1h0.7M199.1 388.5h0.7M185.7 384.8h0.7M188.9 381.6h0.7M198.5 402.6h0.7M184.5 383.7h0.7M181.3 400.3h0.7M190.1 382.4h0.7M192.2 415.2h0.7M202.1 395.1h0.7M188.7 410.1h0.7M201.0 389.7h0.7M182.2 391.5h0.7M192.3 382.5h0.7M186.5 382.6h0.7M199.2 401.0h0.7M195.6 409.3h0.7M191.3 412.6h0.7M184.2 402.5h0.7M190.9 379.3h0.7M186.8 384.3h0.7M199.3 386.2h0.7M197.0 385.6h0.7M183.2 402.8h0.7M191.2 382.5h0.7M191.4 410.2h0.7M201.2 397.6h0.7M195.3 382.8h0.7M197.9 388.2h0.7M192.9 381.2h0.7M184.5 402.9h0.7M199.6 397.6h0.7M201.0 394.1h0.7M199.4 400.4h0.7M185.1 385.4h0.7M199.6 397.0h0.7M202.6 403.4h0.7M200.3 393.5h0.7M182.4 397.5h0.7M199.7 396.4h0.7M186.7 407.5h0.7M191.5 409.9h0.7M194.8 408.3h0.7M201.0 401.9h0.7M182.1 403.7h0.7M198.9 403.4h0.7M192.9 410.1h0.7M200.2 400.0h0.7M183.1 388.4h0.7M181.2 394.8h0.7M195.0 379.0h0.7M183.3 393.3h0.7M197.5 384.7h0.7M182.0 394.3h0.7M199.3 391.6h0.7M188.4 414.4h0.7M181.2 404.2h0.7M183.6 389.5h0.7M187.5 409.2h0.7M201.3 388.8h0.7M185.3 387.2h0.7M191.8 414.3h0.7M198.0 408.7h0.7M199.3 400.0h0.7M197.5 385.2h0.7M182.1 397.2h0.7M183.8 391.5h0.7M187.6 411.3h0.7M197.2 386.4h0.7M185.8 380.1h0.7M199.8 400.2h0.7M193.4 409.1h0.7M198.5 403.2h0.7M194.7 379.7h0.7M194.9 408.6h0.7M199.4 387.8h0.7M194.3 409.5h0.7M186.8 407.2h0.7M187.6 381.6h0.7M192.5 379.9h0.7M195.6 382.2h0.7M186.2 384.3h0.7M192.2 409.8h0.7M197.9 404.3h0.7M191.1 378.8h0.7M181.6 401.3h0.7M188.0 383.0h0.7M183.0 402.6h0.7M183.1 388.4h0.7M198.1 408.3h0.7M192.1 382.2h0.7M189.1 413.0h0.7M185.2 386.2h0.7M182.7 395.9h0.7M188.0 410.2h0.7M183.3 398.0h0.7M199.7 395.8h0.7M200.0 396.7h0.7M201.2 394.7h0.7M186.9 407.6h0.7M184.6 384.3h0.7M197.4 386.6h0.7M198.6 387.9h0.7M200.4 386.6h0.7M200.1 387.7h0.7M196.6 383.2h0.7M185.8 385.4h0.7M193.1 381.3h0.7M199.0 385.1h0.7M185.5 380.7h0.7M182.3 405.4h0.7M199.0 405.4h0.7M193.9 382.1h0.7M198.0 386.9h0.7M186.7 411.4h0.7M181.0 395.2h0.7M187.6 410.9h0.7M183.9 400.9h0.7M193.6 382.0h0.7M182.9 391.1h0.7M191.9 412.9h0.7M198.6 386.4h0.7M198.7 405.2h0.7M194.1 410.7h0.7M196.9 406.2h0.7M200.1 398.7h0.7M193.2 409.2h0.7M198.4 403.6h0.7M196.3 407.9h0.7M182.9 388.2h0.7M192.7 411.9h0.7M186.6 384.9h0.7M191.3 412.0h0.7M199.4 404.2h0.7M199.5 396.2h0.7M185.0 386.5h0.7M192.7 409.3h0.7M194.2 410.2h0.7M188.2 409.9h0.7M193.4 378.8h0.7M188.4 379.6h0.7M198.6 385.8h0.7M183.9 389.2h0.7M201.8 395.9h0.7M195.7 382.6h0.7M179.7 389.5h0.7M185.7 413.8h0.7M199.3 389.2h0.7M183.5 393.2h0.7M188.9 410.6h0.7M200.8 385.1h0.7M183.1 389.0h0.7M181.8 401.2h0.7M192.9 376.1h0.7M195.2 378.4h0.7M199.0 385.5h0.7M196.4 407.2h0.7M187.7 413.1h0.7M182.3 400.3h0.7M182.7 390.7h0.7M198.7 383.2h0.7M200.9 399.5h0.7M183.6 388.4h0.7M200.0 394.7h0.7M191.8 410.2h0.7M197.2 405.3h0.7M191.5 412.6h0.7M191.9 381.6h0.7M199.4 402.3h0.7M193.1 381.1h0.7M201.6 391.7h0.7M200.2 392.7h0.7M183.5 395.8h0.7" stroke="#1a1a1a" stroke-opacity="0.7" stroke-width="0.7" fill="none"/>
<path d="M199.0 395.9h0.7M215.4 404.2h0.7M229.9 386.8h0.7M210.5 383.5h0.7M209.4 382.7h0.7M210.7 407.1h0.7M218.1 406.0h0.7M215.0 403.1h0.7M225.0 383.7h0.7M204.6 403.1h0.7M223.4 401.0h0.7M229.6 389.5h0.7M200.1 389.8h0.7M210.5 383.2h0.7M199.4 404.7h0.7M198.6 397.1h0.7M226.9 396.5h0.7M223.6 383.0h0.7M218.4 404.4h0.7M208.8 404.2h0.7M214.3 381.2h0.7M210.9 403.5h0.7M231.8 397.8h0.7M225.2 385.0h0.7M197.0 390.5h0.7M224.3 398.8h0.7M194.9 394.9h0.7M195.7 392.1h0.7M217.0 405.8h0.7M206.7 404.7h0.7M210.3 406.6h0.7M200.7 389.7h0.7M230.0 389.6h0.7M223.4 380.8h0.7M204.3 385.7h0.7M207.6 404.5h0.7M227.5 384.4h0.7M216.5 407.3h0.7M197.9 400.9h0.7M199.3 395.5h0.7M228.9 389.7h0.7M199.6 392.4h0.7M227.5 387.9h0.7M230.3 381.5h0.7M224.8 401.6h0.7M225.0 401.1h0.7M227.9 400.1h0.7M211.6 406.3h0.7M213.1 382.2h0.7M207.2 384.0h0.7M213.1 404.5h0.7M230.7 391.3h0.7M226.4 377.8h0.7M229.1 387.9h0.7M227.5 379.3h0.7M232.8 391.9h0.7M205.6 403.7h0.7M206.2 385.3h0.7M217.5 382.0h0.7M209.6 403.4h0.7M221.9 381.1h0.7M227.9 390.2h0.7M221.5 383.3h0.7M199.6 396.8h0.7M205.2 405.4h0.7M225.3 385.5h0.7M201.9 402.2h0.7M229.7 395.5h0.7M203.7 401.9h0.7M219.4 381.6h0.7M200.0 391.9h0.7M220.1 404.6h0.7M214.1 404.4h0.7M211.1 406.2h0.7M225.7 397.8h0.7M228.3 387.4h0.7M208.7 406.2h0.7M218.9 407.9h0.7M223.1 382.5h0.7M198.9 400.7h0.7M198.2 394.2h0.7M203.2 405.5h0.7M205.6 383.7h0.7M198.8 399.4h0.7M199.9 399.4h0.7M215.9 405.6h0.7M205.2 404.0h0.7M209.2 404.0h0.7M201.2 384.8h0.7M228.3 398.5h0.7M215.7 403.4h0.7M204.0 402.8h0.7M212.9 382.3h0.7M207.3 383.5h0.7M222.3 401.4h0.7M217.7 402.7h0.7M217.1 382.2h0.7M224.7 381.7h0.7M227.2 396.8h0.7M228.7 398.9h0.7M200.6 400.4h0.7M214.4 403.7h0.7M216.0 404.8h0.7M199.9 392.2h0.7M209.5 404.1h0.7M196.9 387.6h0.7M219.0 381.9h0.7M223.4 384.1h0.7M223.0 403.6h0.7M228.7 395.8h0.7M199.5 396.2h0.7M201.4 399.5h0.7M227.5 397.1h0.7M199.3 404.1h0.7M197.3 392.9h0.7M229.1 386.6h0.7M217.9 402.6h0.7M224.6 384.9h0.7M230.2 392.9h0.7M199.0 393.8h0.7M216.8 403.8h0.7M217.7 380.2h0.7M228.6 386.8h0.7M210.1 404.1h0.7M229.0 397.9h0.7M227.7 399.5h0.7M227.1 382.4h0.7M202.8 388.3h0.7M211.2 382.9h0.7M197.6 393.6h0.7M202.6 388.3h0.7M222.0 402.1h0.7M201.0 382.3h0.7M229.7 385.3h0.7M232.1 384.4h0.7M215.4 382.1h0.7M229.3 392.6h0.7M226.2 402.5h0.7M227.4 396.8h0.7M228.7 392.4h0.7M207.0 403.9h0.7M222.8 401.6h0.7M201.3 399.3h0.7M200.3 398.1h0.7M225.8 385.9h0.7M200.0 392.2h0.7M222.9 402.8h0.7M228.1 382.0h0.7M228.0 389.0h0.7M209.0 403.2h0.7M203.4 406.0h0.7M197.5 400.3h0.7M230.4 387.5h0.7M227.1 396.2h0.7M228.0 387.3h0.7M207.5 403.5h0.7M229.2 386.8h0.7M200.4 389.3h0.7M200.5 398.6h0.7M199.7 391.8h0.7M226.0 383.3h0.7M203.2 401.2h0.7M199.8 390.0h0.7M230.1 395.2h0.7M228.1 385.8h0.7M230.4 397.7h0.7M227.7 396.4h0.7M220.7 381.1h0.7M228.5 393.2h0.7M201.4 399.9h0.7M224.1 400.4h0.7M213.7 380.8h0.7M215.0 381.1h0.7M216.0 404.0h0.7M205.0 383.5h0.7M228.8 397.6h0.7M218.9 402.1h0.7M223.3 384.2h0.7M219.6 382.0h0.7M205.8 402.7h0.7M207.7 404.4h0.7M226.4 399.3h0.7M229.0 393.3h0.7M221.3 401.4h0.7M202.8 401.6h0.7M199.6 391.3h0.7M199.8 392.4h0.7M195.6 395.1h0.7M221.2 402.9h0.7M226.9 399.3h0.7M198.1 397.4h0.7M223.0 383.5h0.7M204.6 402.4h0.7M202.3 399.9h0.7M223.1 381.6h0.7M228.9 387.9h0.7M231.1 386.5h0.7M217.6 405.1h0.7M199.8 389.5h0.7M221.1 401.1h0.7M229.3 387.9h0.7M217.7 381.0h0.7M205.3 382.7h0.7M220.7 380.1h0.7M208.0 404.9h0.7M219.9 402.6h0.7M223.2 383.6h0.7M198.2 395.2h0.7M223.7 399.2h0.7M228.8 388.7h0.7M226.8 381.9h0.7M197.4 401.6h0.7M201.3 389.7h0.7M228.0 389.7h0.7M210.2 406.9h0.7M221.2 401.8h0.7M227.6 393.9h0.7M220.2 401.3h0.7M227.6 385.3h0.7M222.5 401.0h0.7M202.3 400.0h0.7M199.9 400.2h0.7M201.1 402.7h0.7M228.2 392.1h0.7M228.3 393.1h0.7M198.0 390.1h0.7M226.9 386.7h0.7M202.6 402.3h0.7M228.9 385.4h0.7M210.3 381.8h0.7M211.4 404.8h0.7M201.0 390.2h0.7M214.5 378.7h0.7M218.0 403.9h0.7M214.9 381.6h0.7M194.5 393.7h0.7M211.3 406.0h0.7M212.8 405.7h0.7M229.8 386.7h0.7M195.9 406.5h0.7M199.2 396.1h0.7M233.6 397.4h0.7M223.8 382.0h0.7M206.6 403.5h0.7M227.7 396.3h0.7M205.0 404.4h0.7M220.7 401.4h0.7M225.5 385.0h0.7M226.6 398.7h0.7M228.4 393.2h0.7M227.8 393.8h0.7M217.1 402.8h0.7M209.9 407.9h0.7M198.0 396.5h0.7M223.2 379.9h0.7M218.4 404.5h0.7M205.5 402.5h0.7M197.8 398.0h0.7M227.3 388.4h0.7M213.6 405.5h0.7M208.3 380.3h0.7M229.4 381.8h0.7M228.3 394.1h0.7M210.6 403.9h0.7M211.8 403.5h0.7M221.0 403.4h0.7M200.4 398.1h0.7M230.6 387.0h0.7M229.0 392.7h0.7M220.1 402.2h0.7M227.8 386.6h0.7M230.6 388.4h0.7M229.5 392.1h0.7M216.0 382.3h0.7M217.9 380.1h0.7M200.9 405.0h0.7M200.6 390.4h0.7M195.6 392.5h0.7M208.7 404.3h0.7M228.9 385.9h0.7" stroke="#1a1a1a" stroke-opacity="0.7" stroke-width="0.7" fill="none"/>
<ellipse cx="234.0" cy="421.5" rx="17.10" ry="10.60" transform="rotate(-8 234.0 421.5)" fill="#fff" stroke="#fff" stroke-width="1.4"/>
<ellipse cx="234.0" cy="421.5" rx="16.50" ry="10.00" transform="rotate(-8 234.0 421.5)" fill="#fafafa" stroke="#8a8a8a" stroke-width="0.65"/>
<ellipse cx="234.0" cy="421.5" rx="13.69" ry="8.30" transform="rotate(-8 234.0 421.5)" fill="#e6e6e6" stroke="#8a8a8a" stroke-width="0.42"/>
<ellipse cx="234.0" cy="421.5" rx="10.89" ry="6.60" transform="rotate(-8 234.0 421.5)" fill="#d1d1d1" stroke="#8a8a8a" stroke-width="0.42"/>
<ellipse cx="234.0" cy="421.5" rx="8.08" ry="4.90" transform="rotate(-8 234.0 421.5)" fill="#bdbdbd" stroke="#8a8a8a" stroke-width="0.42"/>
<ellipse cx="234.0" cy="421.5" rx="5.28" ry="3.20" transform="rotate(-8 234.0 421.5)" fill="#a9a9a9" stroke="#8a8a8a" stroke-width="0.42"/>
<ellipse cx="190.5" cy="423.0" rx="6.10" ry="11.10" transform="rotate(0 190.5 423.0)" fill="#fff" stroke="#fff" stroke-width="1.4"/>
<ellipse cx="190.5" cy="423.0" rx="5.50" ry="10.50" transform="rotate(0 190.5 423.0)" fill="#fafafa" stroke="#8a8a8a" stroke-width="0.65"/>
<ellipse cx="190.5" cy="423.0" rx="4.56" ry="8.71" transform="rotate(0 190.5 423.0)" fill="#e8e8e8" stroke="#8a8a8a" stroke-width="0.42"/>
<ellipse cx="190.5" cy="423.0" rx="3.63" ry="6.93" transform="rotate(0 190.5 423.0)" fill="#d6d6d6" stroke="#8a8a8a" stroke-width="0.42"/>
<ellipse cx="190.5" cy="423.0" rx="2.69" ry="5.14" transform="rotate(0 190.5 423.0)" fill="#c4c4c4" stroke="#8a8a8a" stroke-width="0.42"/>
<ellipse cx="190.5" cy="423.0" rx="1.76" ry="3.36" transform="rotate(0 190.5 423.0)" fill="#b2b2b2" stroke="#8a8a8a" stroke-width="0.42"/>
<ellipse cx="191.5" cy="396.0" rx="8.60" ry="13.60" transform="rotate(0 191.5 396.0)" fill="#fff" stroke="#fff" stroke-width="1.4"/>
<ellipse cx="191.5" cy="396.0" rx="8.00" ry="13.00" transform="rotate(0 191.5 396.0)" fill="#fafafa" stroke="#8a8a8a" stroke-width="0.65"/>
<ellipse cx="191.5" cy="396.0" rx="6.64" ry="10.79" transform="rotate(0 191.5 396.0)" fill="#e6e6e6" stroke="#8a8a8a" stroke-width="0.42"/>
<ellipse cx="191.5" cy="396.0" rx="5.28" ry="8.58" transform="rotate(0 191.5 396.0)" fill="#d1d1d1" stroke="#8a8a8a" stroke-width="0.42"/>
<ellipse cx="191.5" cy="396.0" rx="3.92" ry="6.37" transform="rotate(0 191.5 396.0)" fill="#bdbdbd" stroke="#8a8a8a" stroke-width="0.42"/>
<ellipse cx="191.5" cy="396.0" rx="2.56" ry="4.16" transform="rotate(0 191.5 396.0)" fill="#a9a9a9" stroke="#8a8a8a" stroke-width="0.42"/>
<ellipse cx="214.0" cy="393.0" rx="14.60" ry="10.60" transform="rotate(-15 214.0 393.0)" fill="#fff" stroke="#fff" stroke-width="1.4"/>
<ellipse cx="214.0" cy="393.0" rx="14.00" ry="10.00" transform="rotate(-15 214.0 393.0)" fill="#fafafa" stroke="#8a8a8a" stroke-width="0.65"/>
<ellipse cx="214.0" cy="393.0" rx="11.62" ry="8.30" transform="rotate(-15 214.0 393.0)" fill="#dfdfdf" stroke="#8a8a8a" stroke-width="0.42"/>
<ellipse cx="214.0" cy="393.0" rx="9.24" ry="6.60" transform="rotate(-15 214.0 393.0)" fill="#c3c3c3" stroke="#8a8a8a" stroke-width="0.42"/>
<ellipse cx="214.0" cy="393.0" rx="6.86" ry="4.90" transform="rotate(-15 214.0 393.0)" fill="#a8a8a8" stroke="#8a8a8a" stroke-width="0.42"/>
<ellipse cx="214.0" cy="393.0" rx="4.48" ry="3.20" transform="rotate(-15 214.0 393.0)" fill="#8c8c8c" stroke="#8a8a8a" stroke-width="0.42"/>
</g>
<line x1="201.75" y1="355.00" x2="201.75" y2="444.50" stroke="#8a8a8a" stroke-width="0.8" />
<line x1="168.75" y1="410.50" x2="257.00" y2="410.50" stroke="#8a8a8a" stroke-width="0.8" />
<text x="192.5" y="366.0" font-size="10.3" font-weight="bold" text-anchor="middle" >21</text>
<text x="232.5" y="366.0" font-size="10.3" font-weight="bold" text-anchor="middle" >32</text>
<rect x="274.50" y="355.00" width="88.00" height="89.50" fill="none" stroke="#6a6a6a" stroke-width="0.9"/>
<line x1="273.30" y1="358.00" x2="273.30" y2="442.50" stroke="#999" stroke-width="1.2" stroke-dasharray="0.6 2.4"/>
<line x1="277.50" y1="445.70" x2="360.50" y2="445.70" stroke="#999" stroke-width="1.2" stroke-dasharray="0.6 2.4"/>
<text x="271.0" y="366.3" font-size="4.2" fill="#555" text-anchor="end">10<tspan dy="-2" font-size="3">5</tspan></text>
<rect x="272.3" y="364.2" width="1.6" height="1.2" fill="#333"/>
<text x="271.0" y="388.7" font-size="4.2" fill="#555" text-anchor="end">10<tspan dy="-2" font-size="3">4</tspan></text>
<rect x="272.3" y="386.6" width="1.6" height="1.2" fill="#333"/>
<text x="271.0" y="412.0" font-size="4.2" fill="#555" text-anchor="end">10<tspan dy="-2" font-size="3">3</tspan></text>
<rect x="272.3" y="409.9" width="1.6" height="1.2" fill="#333"/>
<text x="271.0" y="428.1" font-size="4.2" fill="#555" text-anchor="end">0</text>
<rect x="272.3" y="426.0" width="1.6" height="1.2" fill="#333"/>
<text x="291.2" y="455.0" font-size="4.2" fill="#555" text-anchor="middle">0</text>
<text x="308.8" y="455.0" font-size="4.2" fill="#555" text-anchor="middle">10<tspan dy="-2" font-size="3">3</tspan></text>
<text x="332.6" y="455.0" font-size="4.2" fill="#555" text-anchor="middle">10<tspan dy="-2" font-size="3">4</tspan></text>
<text x="353.7" y="455.0" font-size="4.2" fill="#555" text-anchor="middle">10<tspan dy="-2" font-size="3">5</tspan></text>
<rect x="290.4" y="445.3" width="1.6" height="1.6" fill="#222"/>
<clipPath id="cp7"><rect x="275.00" y="355.50" width="87.00" height="88.50"/></clipPath><g clip-path="url(#cp7)">
<path d="M324.3 409.2h0.7M309.8 408.4h0.7M289.9 412.3h0.7M299.9 409.2h0.7M303.0 402.8h0.7M305.3 401.4h0.7M295.1 421.0h0.7M302.8 418.5h0.7M315.6 407.8h0.7M310.7 411.0h0.7M313.9 414.1h0.7M308.4 410.2h0.7M317.5 403.4h0.7M298.8 392.1h0.7M307.9 419.0h0.7M324.8 405.3h0.7M311.5 402.9h0.7M311.1 408.9h0.7M316.6 417.5h0.7M313.4 411.2h0.7M316.4 408.8h0.7M319.3 423.5h0.7M316.2 425.5h0.7M306.1 414.9h0.7M312.2 404.1h0.7M312.7 409.2h0.7M313.6 411.8h0.7M315.2 407.8h0.7M310.4 418.6h0.7M319.3 412.0h0.7M298.3 418.6h0.7M314.8 401.1h0.7M296.7 396.6h0.7M299.3 426.2h0.7M307.3 409.2h0.7M315.5 423.5h0.7M311.4 409.9h0.7M317.5 422.2h0.7M312.2 405.7h0.7M303.0 418.1h0.7M303.7 405.6h0.7M295.4 399.8h0.7M314.6 405.5h0.7M315.7 409.2h0.7M306.6 418.6h0.7M311.2 407.7h0.7M320.8 401.9h0.7M302.5 410.7h0.7M310.1 394.0h0.7M308.2 408.3h0.7M304.3 412.3h0.7M295.6 414.3h0.7M317.4 430.4h0.7M301.3 418.9h0.7M304.7 396.2h0.7M310.1 403.3h0.7M306.2 403.0h0.7M313.5 408.9h0.7M313.1 412.5h0.7M313.3 410.9h0.7M301.9 416.4h0.7M307.6 411.0h0.7M311.2 411.6h0.7M305.6 405.2h0.7M303.9 407.7h0.7M315.2 402.5h0.7M312.1 425.7h0.7M300.4 411.0h0.7M312.4 408.3h0.7M306.4 416.9h0.7M309.4 412.5h0.7M302.5 421.3h0.7M323.7 408.0h0.7M313.2 405.7h0.7M318.7 414.3h0.7M311.8 409.6h0.7M303.6 412.4h0.7M312.7 394.3h0.7M311.0 394.1h0.7M320.9 411.6h0.7M313.7 403.7h0.7M322.9 413.8h0.7M311.0 409.0h0.7M304.5 407.2h0.7M308.0 399.9h0.7M317.9 396.6h0.7M313.1 421.6h0.7M312.0 413.6h0.7M307.4 401.3h0.7M322.4 397.6h0.7M313.2 400.7h0.7M314.1 416.1h0.7M318.4 410.6h0.7M310.5 407.7h0.7M310.5 409.8h0.7M316.0 408.7h0.7M308.9 430.6h0.7M302.2 411.5h0.7M327.4 399.0h0.7M320.2 412.3h0.7M317.6 416.4h0.7M300.2 418.7h0.7M308.0 397.2h0.7M313.7 401.4h0.7M309.1 413.1h0.7M300.1 417.4h0.7M315.6 411.4h0.7M316.6 409.6h0.7M320.7 406.6h0.7M311.7 416.6h0.7M313.6 396.8h0.7M308.2 420.5h0.7M306.7 397.3h0.7M313.4 401.8h0.7M319.0 404.7h0.7M293.7 399.5h0.7M302.8 404.2h0.7M312.3 410.9h0.7M316.5 403.1h0.7M306.8 413.6h0.7M313.6 417.7h0.7M299.9 411.9h0.7M313.1 414.8h0.7M308.1 412.4h0.7M298.4 401.3h0.7M318.0 402.6h0.7M312.4 429.6h0.7M299.0 401.3h0.7M311.1 412.8h0.7M311.2 411.6h0.7M301.8 407.5h0.7M316.9 400.7h0.7M308.8 410.0h0.7M316.4 404.3h0.7M319.3 412.8h0.7M312.0 408.2h0.7M305.7 399.7h0.7M315.4 410.0h0.7M315.9 416.8h0.7M304.1 411.2h0.7M305.6 393.8h0.7M316.9 411.1h0.7M310.8 420.9h0.7M302.4 420.4h0.7M306.7 413.3h0.7M310.7 402.8h0.7M300.3 419.4h0.7M307.3 413.6h0.7M307.0 412.2h0.7M308.9 409.5h0.7M315.9 424.8h0.7M303.4 405.1h0.7M312.8 407.2h0.7M309.6 417.0h0.7M310.1 401.1h0.7M316.1 411.7h0.7M313.3 411.6h0.7M297.5 421.1h0.7M305.1 420.3h0.7M301.8 411.0h0.7M312.1 405.0h0.7M313.2 414.9h0.7M306.5 415.8h0.7M310.8 415.9h0.7M304.7 404.9h0.7M307.0 405.9h0.7M307.5 415.0h0.7M312.6 403.7h0.7M308.8 414.4h0.7M304.9 407.2h0.7M307.1 401.8h0.7M303.1 403.5h0.7M314.7 406.9h0.7M312.7 405.4h0.7M300.0 405.5h0.7M315.9 411.0h0.7M306.6 412.9h0.7M310.0 405.6h0.7M306.0 412.8h0.7M307.2 396.6h0.7M312.2 399.4h0.7M298.0 398.0h0.7M295.3 421.0h0.7M308.2 419.0h0.7M312.3 407.4h0.7M299.5 414.9h0.7M308.6 408.9h0.7M300.6 421.8h0.7M304.2 413.0h0.7M310.1 425.0h0.7M321.3 414.3h0.7M308.3 420.1h0.7M316.1 395.9h0.7M310.5 404.5h0.7M319.0 424.1h0.7M304.7 407.2h0.7M304.3 415.1h0.7M316.4 397.1h0.7M299.3 415.8h0.7M311.8 403.2h0.7M313.0 420.2h0.7M320.6 415.1h0.7M305.9 417.7h0.7M313.8 405.7h0.7M320.5 422.8h0.7M325.5 411.4h0.7M308.0 408.6h0.7M311.0 403.0h0.7M300.8 425.7h0.7M315.5 414.3h0.7M317.2 405.5h0.7M308.2 408.8h0.7M319.9 409.5h0.7M312.2 406.7h0.7M313.4 415.6h0.7M310.4 407.0h0.7M323.3 402.2h0.7M305.4 416.7h0.7M303.4 401.9h0.7M313.4 418.5h0.7M326.0 427.4h0.7M313.6 427.2h0.7M302.0 409.0h0.7M300.0 422.7h0.7M306.4 412.2h0.7M307.7 412.4h0.7M308.1 416.5h0.7M317.5 407.3h0.7M310.0 408.1h0.7M304.8 424.6h0.7M296.8 394.4h0.7M298.8 421.2h0.7M314.4 419.7h0.7M302.4 409.1h0.7M324.4 398.8h0.7M296.3 397.9h0.7M308.2 417.9h0.7M316.0 408.9h0.7M312.6 409.7h0.7M307.4 422.3h0.7M311.0 408.7h0.7M310.5 411.9h0.7M313.5 419.9h0.7M310.3 414.5h0.7M308.2 405.6h0.7M323.6 406.7h0.7M322.4 397.5h0.7M322.3 400.6h0.7M309.9 411.2h0.7M310.5 410.4h0.7M305.5 417.6h0.7M308.3 401.2h0.7M316.1 414.7h0.7M305.8 399.0h0.7M317.2 411.5h0.7M309.2 404.5h0.7M302.5 422.6h0.7M313.2 403.9h0.7M314.5 412.9h0.7M311.4 395.2h0.7M313.9 416.4h0.7M302.9 415.0h0.7M308.8 412.2h0.7M303.2 417.2h0.7M310.4 409.7h0.7M312.4 401.3h0.7M313.5 425.5h0.7M314.8 410.2h0.7M304.2 412.3h0.7M310.0 407.8h0.7M306.8 409.5h0.7M314.8 411.0h0.7M312.9 412.8h0.7M293.4 431.6h0.7M315.3 409.2h0.7M310.4 419.0h0.7M314.1 423.9h0.7M300.4 411.7h0.7M305.6 412.6h0.7M312.7 414.1h0.7M303.8 416.6h0.7M317.2 412.0h0.7M311.2 423.7h0.7M316.9 406.4h0.7M318.4 414.5h0.7M303.9 404.9h0.7M297.7 403.4h0.7M310.5 418.5h0.7M309.9 406.7h0.7M308.3 404.9h0.7M307.4 425.9h0.7M311.0 400.8h0.7M309.8 404.4h0.7M302.9 402.8h0.7M322.7 402.6h0.7M304.9 409.1h0.7M317.8 429.6h0.7M314.4 414.4h0.7M307.9 408.9h0.7M319.8 404.4h0.7M314.8 402.3h0.7M309.5 409.0h0.7M316.3 394.3h0.7M299.7 410.5h0.7M311.1 417.3h0.7M300.5 419.1h0.7M314.3 408.6h0.7M319.8 405.5h0.7M317.8 422.3h0.7M309.5 412.3h0.7M307.3 412.4h0.7M313.7 406.5h0.7M310.1 413.6h0.7M301.7 411.1h0.7M311.4 424.1h0.7M313.7 407.7h0.7M309.7 416.0h0.7M303.5 414.7h0.7M304.7 419.2h0.7M317.6 403.6h0.7M315.9 417.4h0.7M302.0 407.6h0.7M309.8 418.8h0.7M305.7 420.6h0.7M317.6 409.3h0.7M308.5 412.7h0.7M313.4 415.2h0.7M300.6 405.6h0.7M300.1 420.9h0.7M316.6 409.2h0.7M314.9 401.1h0.7M310.4 414.9h0.7M299.5 411.1h0.7M302.4 419.0h0.7M309.6 407.3h0.7M303.2 419.3h0.7M311.2 405.6h0.7M306.4 403.5h0.7M318.4 406.7h0.7M322.3 407.3h0.7M304.0 408.3h0.7M309.4 417.0h0.7M327.0 426.7h0.7M314.8 398.4h0.7M320.9 426.7h0.7M300.3 408.6h0.7M313.2 429.5h0.7M317.0 412.1h0.7M294.7 419.6h0.7M301.9 405.5h0.7M300.5 415.5h0.7M324.0 412.7h0.7M316.6 404.5h0.7M301.9 413.3h0.7M298.6 403.0h0.7M311.0 401.8h0.7M313.7 430.5h0.7M316.2 422.7h0.7M304.7 408.7h0.7M310.0 415.0h0.7M302.4 404.3h0.7M317.4 416.2h0.7M322.6 425.0h0.7M313.2 404.8h0.7M305.8 402.2h0.7M316.4 419.5h0.7M320.5 406.2h0.7M319.0 405.7h0.7M310.6 405.5h0.7M313.5 412.1h0.7M310.9 390.9h0.7M313.3 418.9h0.7M316.8 399.6h0.7M296.2 422.1h0.7M310.4 407.1h0.7M302.9 404.1h0.7M302.4 403.9h0.7M313.3 395.0h0.7M322.0 421.6h0.7M298.1 412.1h0.7M311.4 418.4h0.7M288.5 421.7h0.7M320.5 405.2h0.7M307.3 418.7h0.7M312.5 426.0h0.7M301.8 399.0h0.7M308.8 411.0h0.7M306.6 415.8h0.7M305.4 415.3h0.7M302.1 424.9h0.7M316.2 412.0h0.7M304.5 407.3h0.7M303.6 397.6h0.7M303.3 420.9h0.7M307.7 419.1h0.7M311.2 406.0h0.7M302.1 407.1h0.7M310.4 403.6h0.7M305.2 400.5h0.7M319.8 396.5h0.7M313.4 399.7h0.7M307.5 426.4h0.7M304.8 414.1h0.7M302.3 426.2h0.7M319.0 423.7h0.7M304.8 396.2h0.7M301.4 396.7h0.7M318.2 412.5h0.7M308.5 402.7h0.7M313.0 407.6h0.7M306.3 412.4h0.7M302.7 396.9h0.7M317.4 426.0h0.7M296.4 414.9h0.7M299.3 404.7h0.7M307.3 418.5h0.7M297.9 423.2h0.7M309.9 425.1h0.7M303.9 390.5h0.7M315.3 400.5h0.7M327.3 413.3h0.7M317.2 400.5h0.7M309.0 412.0h0.7M297.0 397.6h0.7M311.1 414.7h0.7M306.5 428.0h0.7M320.1 392.6h0.7M305.6 399.5h0.7M302.1 405.6h0.7M296.0 413.1h0.7M318.8 422.3h0.7M297.9 412.5h0.7M313.4 406.0h0.7M322.3 416.1h0.7M319.1 411.1h0.7M314.4 417.2h0.7M302.8 394.6h0.7M310.2 401.0h0.7M316.5 400.3h0.7M313.3 398.3h0.7M323.9 412.2h0.7M301.3 410.0h0.7M310.7 387.6h0.7M301.8 413.1h0.7M303.8 406.7h0.7M320.1 421.1h0.7M311.1 414.0h0.7M321.3 413.5h0.7M299.2 412.0h0.7M301.0 402.8h0.7M310.2 409.5h0.7M309.1 416.9h0.7M308.1 412.1h0.7M315.0 405.5h0.7M308.0 407.3h0.7M301.7 402.5h0.7M313.0 410.9h0.7M299.4 416.5h0.7M315.0 418.5h0.7M318.6 411.2h0.7M314.0 408.3h0.7M302.6 409.2h0.7M313.0 412.4h0.7M305.3 403.7h0.7M305.4 406.3h0.7M307.7 414.8h0.7M308.9 390.1h0.7M315.0 405.8h0.7M323.6 426.5h0.7M316.9 408.0h0.7M309.2 397.0h0.7M320.1 405.8h0.7M317.0 413.5h0.7M323.3 411.8h0.7M310.1 405.6h0.7M298.0 414.1h0.7M304.8 419.0h0.7M318.4 412.6h0.7M326.1 413.6h0.7M315.8 403.4h0.7M314.8 409.4h0.7M320.2 409.6h0.7M294.4 418.2h0.7M318.0 399.2h0.7M309.7 413.7h0.7M315.6 401.7h0.7M304.2 405.6h0.7M306.5 404.7h0.7M311.3 397.7h0.7M312.7 401.3h0.7M306.1 404.2h0.7M315.5 411.5h0.7M306.1 413.3h0.7M302.7 412.0h0.7M311.2 410.5h0.7M300.8 413.3h0.7M313.8 413.5h0.7M306.6 419.2h0.7M322.7 420.9h0.7M311.9 425.2h0.7M304.6 394.5h0.7M303.8 404.0h0.7M305.5 408.8h0.7M312.1 407.3h0.7M302.7 407.1h0.7M313.3 401.2h0.7M299.7 406.0h0.7M307.4 439.7h0.7M311.8 404.7h0.7M307.6 404.3h0.7M315.1 429.5h0.7M313.0 405.0h0.7M311.4 433.8h0.7M303.6 404.3h0.7M306.4 406.2h0.7M293.4 400.7h0.7M307.8 416.9h0.7M302.8 399.9h0.7M307.5 398.0h0.7M296.4 410.3h0.7M312.3 406.1h0.7M312.9 414.6h0.7M315.4 407.8h0.7M313.5 404.9h0.7M311.2 417.6h0.7M322.0 413.8h0.7M306.5 405.1h0.7M301.7 417.0h0.7M318.5 403.3h0.7M306.8 408.6h0.7M299.5 399.0h0.7M313.6 404.0h0.7" stroke="#1a1a1a" stroke-opacity="0.68" stroke-width="0.7" fill="none"/>
<path d="M337.9 408.0h0.7M349.3 399.7h0.7M349.8 401.6h0.7M330.2 415.3h0.7M322.8 395.9h0.7M339.6 402.5h0.7M307.8 415.3h0.7M320.2 411.3h0.7M328.8 398.7h0.7M331.3 394.1h0.7M345.5 397.0h0.7M330.5 424.3h0.7M326.4 405.0h0.7M311.0 417.3h0.7M333.1 406.8h0.7M309.5 401.8h0.7M327.7 401.5h0.7M320.5 387.4h0.7M314.5 422.1h0.7M334.8 411.7h0.7M312.6 415.1h0.7M322.6 402.2h0.7M332.2 403.9h0.7M338.8 396.5h0.7M331.2 395.6h0.7M349.1 414.7h0.7M326.5 403.7h0.7M327.7 408.8h0.7M337.8 408.6h0.7M340.5 407.6h0.7M317.5 409.9h0.7M321.6 396.5h0.7M334.8 403.3h0.7M293.2 411.3h0.7M329.9 408.5h0.7M311.7 403.2h0.7M321.0 404.4h0.7M345.4 397.5h0.7M324.3 401.9h0.7M334.5 392.4h0.7M338.8 400.2h0.7M349.4 414.5h0.7M325.3 399.9h0.7M323.6 399.3h0.7M343.2 420.4h0.7M312.2 398.5h0.7M331.7 406.7h0.7M335.8 394.8h0.7M340.9 402.2h0.7M338.4 403.2h0.7M310.1 412.1h0.7M326.7 400.3h0.7M310.5 401.7h0.7M346.7 414.6h0.7M339.6 400.5h0.7M331.9 406.8h0.7M321.4 402.0h0.7M332.8 397.4h0.7M326.1 396.1h0.7M320.8 400.9h0.7M335.1 409.4h0.7M319.9 405.9h0.7M350.2 387.6h0.7M327.8 393.1h0.7M347.0 408.8h0.7M336.6 407.6h0.7M306.7 414.3h0.7M325.8 403.6h0.7M308.9 405.5h0.7M306.4 392.5h0.7M347.9 389.1h0.7M353.1 405.6h0.7M321.7 421.7h0.7M342.0 411.7h0.7M314.8 402.5h0.7M338.9 404.3h0.7M302.5 406.4h0.7M329.1 402.5h0.7M334.3 400.8h0.7M348.8 391.3h0.7M319.5 409.4h0.7M343.6 417.8h0.7M344.3 395.5h0.7M342.3 402.1h0.7M349.6 412.8h0.7M317.6 402.7h0.7M332.3 395.4h0.7M308.4 401.9h0.7M340.2 416.3h0.7M336.5 406.5h0.7M324.0 415.8h0.7M310.5 409.3h0.7M345.0 416.2h0.7M318.3 397.2h0.7M324.6 411.3h0.7M336.3 404.7h0.7M342.7 404.7h0.7M327.3 418.7h0.7M324.6 407.4h0.7M319.8 408.9h0.7M321.4 410.7h0.7M326.7 404.7h0.7M343.3 402.0h0.7M325.3 411.4h0.7M341.9 408.3h0.7M345.7 387.8h0.7M331.1 414.1h0.7M339.1 414.3h0.7M316.7 409.2h0.7M318.7 392.4h0.7M354.5 410.7h0.7M351.6 399.7h0.7M328.9 399.5h0.7M347.5 400.6h0.7M321.7 401.9h0.7M323.0 399.9h0.7M355.6 396.1h0.7M317.6 394.3h0.7M346.2 397.9h0.7M340.5 416.4h0.7M335.6 419.8h0.7M321.6 424.9h0.7M342.2 393.5h0.7M338.7 402.1h0.7M350.7 394.8h0.7M343.4 393.0h0.7M337.9 391.4h0.7M295.1 408.5h0.7M312.8 414.3h0.7M331.3 399.9h0.7M344.8 420.0h0.7M323.9 399.4h0.7M330.6 395.7h0.7M324.4 396.7h0.7M351.5 396.0h0.7M349.0 413.6h0.7M325.5 404.2h0.7M316.2 417.6h0.7M322.1 406.7h0.7M323.4 405.1h0.7M338.4 408.9h0.7M345.4 405.2h0.7M338.0 392.3h0.7M324.4 390.2h0.7M342.5 404.9h0.7M311.5 400.0h0.7M335.3 416.6h0.7M322.3 407.9h0.7M312.2 424.0h0.7M313.2 411.3h0.7M328.0 398.6h0.7M347.3 421.0h0.7M343.8 405.5h0.7M344.4 400.0h0.7M324.4 395.8h0.7M323.7 402.5h0.7M332.4 398.9h0.7M322.5 383.9h0.7M351.8 412.1h0.7M337.1 406.3h0.7M311.9 394.7h0.7M324.5 400.8h0.7M335.4 400.1h0.7M296.2 410.7h0.7M321.8 408.5h0.7M327.5 410.5h0.7M339.3 400.7h0.7M333.5 405.5h0.7M330.3 394.3h0.7M320.5 404.8h0.7M325.4 388.2h0.7M340.7 404.9h0.7M325.8 397.6h0.7M318.9 405.0h0.7M349.1 414.5h0.7M330.0 405.7h0.7M332.7 411.2h0.7M344.7 411.7h0.7M329.3 413.1h0.7M302.5 396.1h0.7M336.2 411.3h0.7M318.8 412.5h0.7M326.5 403.6h0.7M328.7 401.2h0.7M344.3 401.5h0.7M319.8 411.0h0.7M313.7 404.6h0.7M318.4 403.9h0.7M308.0 401.3h0.7M306.2 406.7h0.7M332.0 396.9h0.7M309.5 398.0h0.7" stroke="#1a1a1a" stroke-opacity="0.5599999999999999" stroke-width="0.7" fill="none"/>
<path d="M301.4 438.2h0.7M331.0 407.5h0.7M331.4 421.8h0.7M295.7 394.8h0.7M304.4 399.4h0.7M303.5 409.4h0.7M323.3 392.0h0.7M352.6 410.6h0.7M299.1 406.0h0.7M299.1 433.3h0.7M301.2 383.0h0.7M303.0 425.0h0.7M296.6 416.4h0.7M341.6 429.4h0.7M296.2 428.4h0.7M317.4 412.4h0.7M353.4 407.2h0.7M329.9 411.5h0.7M304.3 397.6h0.7M326.2 421.1h0.7M348.1 405.6h0.7M340.9 410.6h0.7M294.1 421.0h0.7M333.4 413.6h0.7M339.5 441.7h0.7M345.8 420.8h0.7M302.5 441.4h0.7M323.0 412.0h0.7M296.7 424.8h0.7M350.8 425.3h0.7M300.9 420.5h0.7M310.8 423.9h0.7M349.9 394.0h0.7M322.9 412.4h0.7M322.9 412.8h0.7M300.3 437.2h0.7M312.0 411.7h0.7M337.3 428.4h0.7M336.4 407.8h0.7M312.1 427.6h0.7M305.9 402.9h0.7M299.9 408.8h0.7M291.3 408.8h0.7M308.3 429.8h0.7M298.4 414.7h0.7M309.0 405.5h0.7M297.1 416.2h0.7M329.0 417.6h0.7M292.4 432.8h0.7M318.6 416.0h0.7M291.2 411.9h0.7M350.6 421.5h0.7M339.2 413.5h0.7M300.8 404.0h0.7M314.6 408.4h0.7M328.7 406.1h0.7M335.7 400.3h0.7M287.9 433.7h0.7M299.8 420.6h0.7M328.2 419.6h0.7M339.2 427.1h0.7M318.0 417.5h0.7M342.1 417.6h0.7M334.3 428.0h0.7M306.7 425.3h0.7M333.8 389.2h0.7M313.0 411.6h0.7M327.0 420.0h0.7M294.0 400.6h0.7M315.9 408.1h0.7M313.4 419.6h0.7M317.3 437.6h0.7M323.5 422.7h0.7M303.4 437.0h0.7M338.1 420.0h0.7M314.6 423.6h0.7M338.2 431.6h0.7M306.4 429.9h0.7M317.7 408.0h0.7M312.2 428.5h0.7M350.9 413.1h0.7M308.6 419.2h0.7M310.3 399.4h0.7M340.0 404.0h0.7M311.8 418.5h0.7M313.9 428.2h0.7M298.3 399.3h0.7M322.6 416.2h0.7M297.1 427.9h0.7M322.1 395.0h0.7M322.0 425.0h0.7M330.5 407.5h0.7M314.3 416.2h0.7M326.9 407.1h0.7M315.8 412.7h0.7M315.2 406.6h0.7M324.4 430.9h0.7M342.1 416.3h0.7M324.2 418.2h0.7M324.5 402.7h0.7M287.0 437.8h0.7M334.2 421.6h0.7M341.5 403.0h0.7M358.0 402.4h0.7M318.8 413.6h0.7M353.5 429.6h0.7M304.0 425.1h0.7M315.8 399.2h0.7M309.2 430.3h0.7M280.6 439.2h0.7M330.7 429.9h0.7M283.1 425.9h0.7M302.3 396.4h0.7M303.8 421.9h0.7M338.8 438.1h0.7M330.7 421.2h0.7M312.1 401.8h0.7M326.5 417.1h0.7M319.0 399.7h0.7M303.8 415.9h0.7M311.0 422.3h0.7M343.8 423.1h0.7M325.9 412.8h0.7M293.1 422.5h0.7M318.2 408.3h0.7M304.1 428.5h0.7M328.6 416.6h0.7M332.6 396.4h0.7M316.2 437.0h0.7M311.9 421.5h0.7M313.5 422.8h0.7M300.0 397.6h0.7M334.1 424.6h0.7M335.4 404.7h0.7" stroke="#1a1a1a" stroke-opacity="0.48" stroke-width="0.7" fill="none"/>
<path d="M355.3 411.4h0.7M356.4 418.5h0.7M343.6 437.2h0.7M339.0 407.4h0.7M315.7 435.2h0.7M317.3 423.9h0.7M352.8 412.7h0.7M322.7 434.7h0.7M319.8 413.2h0.7M359.9 423.3h0.7M357.6 427.4h0.7M346.6 439.1h0.7M318.6 417.8h0.7M319.5 430.6h0.7M330.7 437.8h0.7M317.0 428.4h0.7M330.9 438.7h0.7M338.8 403.1h0.7M354.1 432.8h0.7M329.5 437.3h0.7M322.0 413.8h0.7M356.6 422.3h0.7M327.7 437.2h0.7M338.2 438.1h0.7M348.8 434.6h0.7M354.2 433.2h0.7M352.4 415.0h0.7M326.9 408.7h0.7M356.8 418.6h0.7M350.9 440.8h0.7M331.4 404.1h0.7M355.9 420.1h0.7M327.1 411.0h0.7M352.5 412.5h0.7M317.8 407.7h0.7M346.1 436.1h0.7M314.5 434.3h0.7M355.5 427.2h0.7M313.9 429.4h0.7M343.0 439.3h0.7M352.2 433.5h0.7M326.6 411.2h0.7M341.6 438.0h0.7M349.9 435.1h0.7M312.6 436.0h0.7M356.0 432.4h0.7M317.4 423.0h0.7M318.7 436.2h0.7M359.6 415.9h0.7M357.5 424.6h0.7M359.9 413.7h0.7M317.0 432.4h0.7M332.1 441.5h0.7M322.1 433.4h0.7M325.6 436.6h0.7M333.7 439.8h0.7M336.7 441.0h0.7M321.1 414.7h0.7M316.6 434.8h0.7M338.0 439.1h0.7M338.1 441.6h0.7M328.9 441.2h0.7M331.2 439.3h0.7M354.2 415.1h0.7M326.8 408.5h0.7M355.1 416.3h0.7M340.2 407.0h0.7M323.8 414.5h0.7M351.6 413.8h0.7M318.1 433.3h0.7M356.6 420.3h0.7M353.3 411.7h0.7M355.0 433.4h0.7M320.0 439.4h0.7M360.1 419.6h0.7M337.8 439.4h0.7M319.4 433.8h0.7M359.0 423.9h0.7M315.7 425.4h0.7M320.6 414.5h0.7M358.8 426.6h0.7M318.2 419.0h0.7M315.9 428.0h0.7M321.0 411.3h0.7M321.0 416.2h0.7M344.7 439.0h0.7M315.0 416.7h0.7M322.4 434.1h0.7M319.9 433.9h0.7M360.1 423.2h0.7M313.3 426.2h0.7M339.6 406.0h0.7M317.8 419.8h0.7M318.0 431.4h0.7M319.0 416.4h0.7M341.8 409.1h0.7M335.1 438.3h0.7M313.5 425.8h0.7M348.7 409.2h0.7M323.4 436.8h0.7M343.3 402.6h0.7M350.2 435.7h0.7M348.2 410.4h0.7M329.4 409.0h0.7M332.5 407.0h0.7M334.6 406.5h0.7M353.1 409.1h0.7M316.6 419.4h0.7M348.7 439.1h0.7M334.5 438.8h0.7M333.1 440.6h0.7M326.9 437.8h0.7M359.1 426.3h0.7M318.5 415.8h0.7M318.0 412.6h0.7M357.9 429.8h0.7M358.9 421.1h0.7M351.2 411.4h0.7M336.8 409.0h0.7M324.7 412.8h0.7M333.5 410.3h0.7M352.2 414.7h0.7M353.0 435.0h0.7M353.3 440.7h0.7M323.8 437.7h0.7M321.5 414.4h0.7M317.7 429.6h0.7M319.9 433.7h0.7M344.7 441.1h0.7M340.9 441.0h0.7M321.9 437.9h0.7M353.2 436.9h0.7M326.6 436.4h0.7M323.2 439.6h0.7M355.2 427.5h0.7M340.5 408.7h0.7M332.8 408.1h0.7M331.4 442.3h0.7M346.9 436.3h0.7M313.3 431.9h0.7M358.6 420.6h0.7M330.8 437.9h0.7M317.3 429.7h0.7M316.7 431.2h0.7M331.6 440.7h0.7M350.2 436.6h0.7M349.4 410.3h0.7M355.3 415.6h0.7M323.8 436.9h0.7M337.2 439.1h0.7M340.0 439.7h0.7M361.1 429.4h0.7M338.3 438.2h0.7M344.6 406.8h0.7M325.0 412.1h0.7M344.5 406.2h0.7M320.0 436.4h0.7M326.1 438.2h0.7M326.8 407.8h0.7M321.4 412.6h0.7M356.6 424.1h0.7M348.4 410.8h0.7M319.3 418.5h0.7M349.9 435.5h0.7M353.5 413.1h0.7M321.5 416.2h0.7M312.3 425.7h0.7M342.2 409.1h0.7M323.1 436.2h0.7M351.9 413.7h0.7M351.5 411.2h0.7M354.2 431.1h0.7M314.0 423.0h0.7M322.0 437.0h0.7M355.1 432.1h0.7M320.4 417.7h0.7M354.1 433.0h0.7M315.1 424.7h0.7M360.2 419.2h0.7M358.9 420.3h0.7M357.4 432.4h0.7M358.4 416.5h0.7M348.6 435.6h0.7M317.7 418.3h0.7M329.6 438.4h0.7M351.8 412.1h0.7M350.8 436.6h0.7M342.4 439.0h0.7M317.3 423.4h0.7M322.0 406.6h0.7M331.2 437.9h0.7M332.6 441.2h0.7M311.2 419.4h0.7M339.4 407.8h0.7M315.0 412.7h0.7M335.1 439.8h0.7M351.8 408.6h0.7M355.8 413.4h0.7M360.9 427.5h0.7M346.5 437.7h0.7M335.0 407.0h0.7M357.9 416.9h0.7M324.7 407.7h0.7M359.3 418.6h0.7M347.2 406.7h0.7M338.7 439.3h0.7M346.6 438.3h0.7M339.6 408.1h0.7M325.4 412.3h0.7M329.4 439.7h0.7M354.0 409.4h0.7M346.5 406.5h0.7M327.8 440.2h0.7M311.6 416.4h0.7M339.2 405.0h0.7M323.7 414.3h0.7M339.7 442.8h0.7M320.8 416.2h0.7M336.0 407.7h0.7M344.8 409.6h0.7M313.0 417.1h0.7M314.6 429.3h0.7M316.6 416.8h0.7M355.9 436.9h0.7M322.4 411.8h0.7M316.6 418.4h0.7M327.2 408.6h0.7M317.9 436.4h0.7M332.4 410.4h0.7M338.5 408.6h0.7M343.5 409.3h0.7M358.6 427.3h0.7M311.1 426.3h0.7M314.9 427.9h0.7M355.5 415.8h0.7M321.8 434.6h0.7M345.4 409.5h0.7M343.6 438.2h0.7M326.4 410.2h0.7M342.8 437.5h0.7M354.9 434.9h0.7M344.3 406.5h0.7M332.3 409.5h0.7M331.1 410.4h0.7M320.9 413.2h0.7M315.2 434.3h0.7M321.6 415.0h0.7M322.1 415.4h0.7M312.1 422.9h0.7M321.9 433.1h0.7M350.6 434.1h0.7M308.5 429.0h0.7M350.3 410.6h0.7M351.7 409.9h0.7M326.0 438.8h0.7M315.6 429.9h0.7M352.7 436.4h0.7M343.7 439.5h0.7M315.8 423.5h0.7M324.0 438.1h0.7M354.7 414.9h0.7M356.5 423.4h0.7M351.3 436.0h0.7M355.6 415.0h0.7M348.1 440.3h0.7M310.5 427.1h0.7M319.2 441.0h0.7M346.8 407.8h0.7M315.9 434.5h0.7M322.9 443.0h0.7M326.2 439.0h0.7M356.8 429.4h0.7M330.5 437.8h0.7M316.4 419.5h0.7M357.5 433.2h0.7M356.6 429.5h0.7M319.3 418.8h0.7M325.8 409.3h0.7M360.9 423.3h0.7M357.5 420.6h0.7M311.9 423.0h0.7M352.8 409.2h0.7M316.0 424.1h0.7M356.0 431.0h0.7M360.4 429.9h0.7M329.8 409.4h0.7M338.3 409.4h0.7M357.9 425.2h0.7M316.2 425.7h0.7M336.4 405.1h0.7M329.1 437.4h0.7M351.1 409.1h0.7M351.1 413.4h0.7M322.9 408.8h0.7M356.1 424.7h0.7M356.6 424.0h0.7M340.6 439.2h0.7M327.6 406.6h0.7M342.0 438.0h0.7M318.0 423.3h0.7M346.2 407.7h0.7M334.8 440.9h0.7M312.1 420.3h0.7M319.1 418.1h0.7M319.3 431.8h0.7M322.9 435.9h0.7M322.8 435.8h0.7M316.5 429.7h0.7M330.6 439.0h0.7M359.6 424.3h0.7M352.3 436.3h0.7M318.6 428.7h0.7M330.0 442.2h0.7M316.6 429.6h0.7M319.8 418.2h0.7M337.1 438.1h0.7M358.9 433.9h0.7M318.9 416.0h0.7M338.4 404.0h0.7M325.9 408.1h0.7M347.6 410.4h0.7M329.8 409.5h0.7M342.3 438.1h0.7M360.5 419.1h0.7M314.9 428.9h0.7M350.9 413.3h0.7M348.2 441.9h0.7M360.9 417.6h0.7M328.9 438.7h0.7M341.2 440.2h0.7M316.5 430.0h0.7M315.7 419.3h0.7M324.2 436.1h0.7M334.4 441.0h0.7M315.4 434.3h0.7M356.2 422.3h0.7M324.5 437.3h0.7M338.8 409.3h0.7M339.2 407.7h0.7M351.2 432.9h0.7M321.6 433.4h0.7M313.3 434.9h0.7M355.3 414.7h0.7M357.2 431.9h0.7M330.9 403.1h0.7M314.5 408.2h0.7M326.4 411.5h0.7M352.0 432.6h0.7M320.5 431.7h0.7M346.2 411.2h0.7M315.6 432.3h0.7M329.6 402.6h0.7M321.6 434.9h0.7M322.6 436.9h0.7M356.6 430.6h0.7M326.9 438.0h0.7M343.4 407.0h0.7M343.7 442.1h0.7" stroke="#1a1a1a" stroke-opacity="0.7" stroke-width="0.7" fill="none"/>
<path d="M302.9 425.2h0.7M297.2 435.2h0.7M290.9 418.1h0.7M297.1 412.2h0.7M298.2 412.9h0.7M290.8 431.5h0.7M290.0 426.7h0.7M288.9 424.0h0.7M301.4 432.6h0.7M302.1 423.1h0.7M290.6 433.6h0.7M291.5 416.4h0.7M301.0 416.6h0.7M293.2 434.7h0.7M294.9 434.9h0.7M289.3 430.3h0.7M297.9 414.0h0.7M299.7 435.1h0.7M298.6 435.0h0.7M297.5 435.7h0.7M303.1 427.1h0.7M289.7 420.3h0.7M303.0 420.7h0.7M292.3 433.3h0.7M294.6 413.2h0.7M290.5 416.8h0.7M297.9 437.9h0.7M295.1 434.8h0.7M302.5 424.2h0.7M293.3 414.0h0.7M303.2 429.3h0.7M302.8 420.2h0.7M291.9 414.0h0.7M293.7 434.6h0.7M293.2 411.9h0.7M288.7 418.0h0.7M302.1 428.2h0.7M297.7 412.9h0.7M301.9 428.2h0.7M301.3 416.2h0.7M301.5 433.8h0.7M299.6 433.7h0.7M300.9 433.2h0.7M298.9 410.3h0.7M298.8 414.6h0.7M301.6 415.9h0.7M297.0 437.6h0.7M303.0 417.2h0.7M290.8 433.6h0.7M291.7 432.7h0.7M299.3 436.9h0.7M291.7 413.5h0.7M302.4 435.5h0.7M293.8 414.0h0.7M300.7 431.8h0.7M304.0 426.6h0.7M300.6 434.7h0.7M301.7 416.8h0.7M295.2 436.2h0.7M294.4 410.6h0.7M290.9 432.5h0.7M292.7 413.7h0.7M303.2 418.8h0.7M302.4 422.8h0.7M296.2 435.7h0.7M296.9 412.8h0.7M298.5 412.8h0.7M293.5 414.4h0.7M294.7 436.4h0.7M304.1 423.7h0.7M298.0 434.9h0.7M289.8 418.9h0.7M296.8 436.2h0.7M302.7 426.2h0.7M291.0 416.9h0.7M292.7 412.8h0.7M304.1 428.8h0.7M290.3 418.5h0.7M292.1 432.7h0.7M301.2 413.5h0.7M290.2 431.5h0.7M302.3 424.3h0.7M297.4 435.4h0.7M295.1 410.7h0.7M294.5 437.0h0.7M300.3 414.3h0.7M295.8 413.2h0.7M289.7 423.4h0.7M295.7 435.7h0.7M303.1 418.8h0.7M300.1 414.7h0.7M298.8 436.5h0.7M302.4 425.8h0.7M289.5 427.4h0.7M291.2 434.1h0.7M303.3 419.4h0.7M291.9 416.0h0.7M294.7 435.3h0.7M301.7 429.3h0.7M303.4 419.9h0.7M288.6 424.3h0.7M302.4 418.6h0.7M296.8 412.0h0.7M302.1 424.4h0.7M289.0 428.7h0.7M288.3 432.6h0.7M302.9 432.0h0.7M298.2 413.1h0.7M295.5 411.6h0.7M294.0 411.0h0.7M293.6 409.7h0.7M296.9 410.6h0.7M288.5 433.0h0.7M289.4 420.1h0.7M303.0 422.4h0.7M302.6 426.9h0.7M301.8 427.3h0.7M303.0 431.6h0.7M300.6 432.1h0.7M291.3 434.0h0.7M302.4 421.9h0.7M298.5 412.9h0.7M298.0 410.5h0.7M291.8 431.7h0.7M289.4 433.5h0.7M301.9 429.7h0.7M290.3 417.8h0.7M298.7 441.7h0.7M292.3 408.0h0.7M296.2 412.6h0.7M301.1 415.7h0.7M288.1 419.3h0.7M299.6 432.6h0.7M302.7 431.0h0.7M298.4 440.4h0.7M291.9 412.4h0.7M301.3 417.3h0.7M289.8 419.4h0.7M292.7 435.8h0.7M287.8 430.2h0.7M298.7 412.6h0.7M301.9 428.0h0.7M291.7 413.5h0.7M302.1 426.0h0.7M297.2 437.1h0.7M302.0 423.5h0.7M300.9 430.5h0.7M290.1 418.6h0.7M302.2 423.5h0.7M302.2 424.0h0.7M296.0 411.7h0.7M290.0 422.2h0.7M302.4 427.3h0.7M289.4 428.4h0.7" stroke="#1a1a1a" stroke-opacity="0.7" stroke-width="0.7" fill="none"/>
<path d="M292.0 384.2h0.7M300.1 376.7h0.7M303.8 389.2h0.7M286.6 396.0h0.7M301.5 406.5h0.7M306.5 401.3h0.7M291.7 383.4h0.7M289.6 381.0h0.7M290.1 404.2h0.7M304.4 400.8h0.7M288.2 400.4h0.7M298.1 382.4h0.7M296.2 408.5h0.7M288.5 401.3h0.7M306.4 399.4h0.7M303.8 389.8h0.7M305.4 390.5h0.7M304.1 400.0h0.7M296.7 407.6h0.7M288.0 391.6h0.7M303.8 386.9h0.7M287.4 395.1h0.7M304.6 384.5h0.7M290.8 385.3h0.7M299.7 407.1h0.7M292.6 378.3h0.7M292.9 405.5h0.7M305.0 399.1h0.7M288.1 392.3h0.7M305.7 393.0h0.7M300.9 406.7h0.7M289.9 403.2h0.7M305.5 393.3h0.7M298.0 382.4h0.7M303.9 386.8h0.7M296.3 382.2h0.7M302.1 385.5h0.7M304.3 398.6h0.7M306.3 392.2h0.7M289.6 391.8h0.7M299.7 406.9h0.7M289.2 395.0h0.7M300.8 383.9h0.7M305.8 395.2h0.7M291.0 403.0h0.7M302.9 383.9h0.7M304.7 395.3h0.7M302.7 404.1h0.7M298.1 379.7h0.7M287.5 394.7h0.7M305.1 394.3h0.7M288.2 398.8h0.7M306.2 394.5h0.7M296.6 382.0h0.7M306.9 402.4h0.7M306.2 389.7h0.7M288.6 401.6h0.7M289.6 398.7h0.7M296.9 407.6h0.7M301.1 406.0h0.7M291.3 385.6h0.7M297.7 408.0h0.7M291.9 382.7h0.7M289.6 396.9h0.7M293.2 406.3h0.7M296.2 382.3h0.7M292.9 409.4h0.7M300.4 381.7h0.7M305.1 397.9h0.7M289.6 388.1h0.7M299.7 380.5h0.7M304.6 404.9h0.7M304.3 387.0h0.7M293.8 406.7h0.7M289.9 390.4h0.7M289.1 397.4h0.7M305.0 390.1h0.7M288.0 393.9h0.7M302.6 385.4h0.7M301.9 406.9h0.7M305.1 399.2h0.7M296.5 382.1h0.7M290.2 386.8h0.7M286.5 390.5h0.7M294.0 412.1h0.7M297.0 380.5h0.7M298.2 407.6h0.7M295.0 381.7h0.7M290.6 387.8h0.7M290.9 402.8h0.7M289.4 404.2h0.7M289.3 405.2h0.7M289.9 399.9h0.7M294.8 407.7h0.7M293.9 380.2h0.7M293.6 381.1h0.7M296.0 378.2h0.7M292.1 383.0h0.7M298.8 410.4h0.7M289.3 403.6h0.7M298.2 410.0h0.7M288.4 388.3h0.7M306.5 394.8h0.7M295.1 381.7h0.7M302.1 384.9h0.7M292.5 382.1h0.7M294.1 381.9h0.7M288.8 398.7h0.7M290.1 402.4h0.7M302.9 404.5h0.7M305.0 392.9h0.7M302.2 382.0h0.7M299.8 410.5h0.7M288.6 391.7h0.7M302.3 383.1h0.7M295.6 410.7h0.7M290.3 388.8h0.7M295.5 378.2h0.7M289.1 404.2h0.7M289.3 403.3h0.7M291.4 407.8h0.7M305.7 388.7h0.7M303.7 404.6h0.7M299.8 408.0h0.7M298.8 411.5h0.7M305.3 394.1h0.7M304.9 403.7h0.7M304.6 393.1h0.7M304.5 399.5h0.7M301.7 409.6h0.7M292.9 405.5h0.7M290.4 401.3h0.7M289.6 392.3h0.7M287.6 396.8h0.7M306.5 391.5h0.7M303.0 382.6h0.7M306.3 397.6h0.7M296.2 408.6h0.7M288.0 395.0h0.7M296.6 382.1h0.7M304.8 402.6h0.7M289.7 404.9h0.7M292.9 406.2h0.7M288.9 387.2h0.7M288.7 395.6h0.7M291.0 403.7h0.7M304.9 397.7h0.7M287.3 393.4h0.7M290.8 402.4h0.7M293.3 406.8h0.7M305.6 396.3h0.7M287.6 392.8h0.7M306.3 399.5h0.7M306.3 400.6h0.7M304.8 402.1h0.7M302.9 406.1h0.7M291.6 384.4h0.7M287.9 402.7h0.7M304.4 388.9h0.7M288.8 383.4h0.7M293.7 406.8h0.7M293.7 383.3h0.7M304.1 399.4h0.7M301.6 406.4h0.7M304.0 402.7h0.7M287.8 394.5h0.7M289.4 392.4h0.7M296.7 409.8h0.7M304.7 389.9h0.7M288.6 394.1h0.7M297.9 381.1h0.7M293.0 382.5h0.7M301.0 407.9h0.7M302.6 403.9h0.7M296.6 408.2h0.7M292.9 384.4h0.7M290.9 403.2h0.7M304.8 397.5h0.7M287.4 399.8h0.7M305.8 394.1h0.7M298.8 407.9h0.7M296.3 382.4h0.7" stroke="#1a1a1a" stroke-opacity="0.7" stroke-width="0.7" fill="none"/>
<path d="M314.5 384.0h0.7M321.0 380.7h0.7M310.8 383.4h0.7M329.1 404.6h0.7M334.7 391.9h0.7M330.2 399.9h0.7M322.2 380.1h0.7M309.8 393.4h0.7M308.6 389.8h0.7M338.2 394.8h0.7M333.3 393.3h0.7M311.8 398.7h0.7M326.3 402.5h0.7M327.3 402.0h0.7M329.7 383.0h0.7M312.9 382.2h0.7M332.3 401.6h0.7M334.0 393.6h0.7M310.0 396.1h0.7M310.0 388.1h0.7M336.2 384.7h0.7M334.2 389.5h0.7M322.3 381.3h0.7M333.4 401.0h0.7M314.9 381.7h0.7M306.4 391.6h0.7M334.7 387.6h0.7M320.3 378.8h0.7M313.3 385.5h0.7M328.1 380.6h0.7M324.9 403.0h0.7M338.2 388.2h0.7M334.7 389.4h0.7M308.3 394.4h0.7M309.4 396.0h0.7M310.4 391.4h0.7M321.2 381.2h0.7M334.3 394.7h0.7M310.5 395.4h0.7M333.1 385.2h0.7M324.9 379.5h0.7M308.3 401.1h0.7M310.5 394.8h0.7M334.4 386.2h0.7M337.3 387.8h0.7M309.0 390.3h0.7M306.7 402.9h0.7M327.8 402.1h0.7M314.4 400.8h0.7M308.9 389.8h0.7M326.0 401.8h0.7M324.4 378.3h0.7M314.4 401.8h0.7M310.0 400.5h0.7M307.8 395.0h0.7M326.5 380.4h0.7M332.2 396.8h0.7M326.8 380.9h0.7M335.1 391.1h0.7M310.8 401.3h0.7M333.8 397.3h0.7M310.2 389.4h0.7M331.2 401.7h0.7M330.4 381.4h0.7M305.9 395.8h0.7M325.4 405.4h0.7M326.6 381.8h0.7M318.5 381.5h0.7M310.2 389.7h0.7M306.5 388.2h0.7M306.0 399.5h0.7M330.1 400.1h0.7M324.4 404.1h0.7M332.6 387.1h0.7M335.7 395.9h0.7M309.7 390.7h0.7M311.4 404.8h0.7M330.6 401.2h0.7M315.5 383.6h0.7M315.4 403.0h0.7M310.3 392.5h0.7M323.5 403.2h0.7M307.7 391.2h0.7M332.7 385.8h0.7M308.4 389.4h0.7M323.4 404.0h0.7M316.3 380.8h0.7M332.4 387.1h0.7M326.3 403.2h0.7M328.3 382.2h0.7M316.4 403.5h0.7M328.0 400.7h0.7M317.5 404.7h0.7M334.8 392.0h0.7M334.9 388.9h0.7M313.8 383.3h0.7M314.2 381.8h0.7M314.2 383.7h0.7M327.2 402.1h0.7M327.5 378.9h0.7M323.4 403.4h0.7M309.1 390.3h0.7M315.6 382.3h0.7M322.2 403.3h0.7M335.0 393.4h0.7M312.1 384.3h0.7M314.7 382.7h0.7M336.2 385.9h0.7M316.3 403.8h0.7M308.1 396.1h0.7M334.2 389.5h0.7M314.3 383.7h0.7M329.8 401.6h0.7M325.6 379.4h0.7M329.8 380.4h0.7M323.6 380.0h0.7M310.6 387.4h0.7M332.9 400.7h0.7M331.7 378.1h0.7M329.7 401.3h0.7M315.0 403.6h0.7M311.3 400.0h0.7M327.2 380.1h0.7M317.3 407.8h0.7M324.1 402.9h0.7M332.9 387.9h0.7M309.5 397.9h0.7M336.4 384.2h0.7M310.9 388.7h0.7M314.4 405.6h0.7M310.1 386.7h0.7M311.7 384.7h0.7M336.2 387.0h0.7M334.3 388.4h0.7M314.4 384.4h0.7M329.9 401.4h0.7M309.8 388.2h0.7M318.5 381.8h0.7M334.5 389.4h0.7M328.5 380.9h0.7M317.4 382.1h0.7M316.5 380.6h0.7M326.6 403.0h0.7M310.0 398.5h0.7M318.7 404.8h0.7M324.0 380.6h0.7M309.3 393.7h0.7M324.0 379.6h0.7M309.6 400.0h0.7M322.4 402.7h0.7M311.9 383.9h0.7M333.5 391.4h0.7M334.2 392.9h0.7M333.0 388.2h0.7M315.9 404.8h0.7M310.9 389.2h0.7M324.7 379.0h0.7M334.4 390.8h0.7M330.9 400.1h0.7M333.1 386.1h0.7M309.5 388.5h0.7M317.7 403.9h0.7M334.7 390.4h0.7M329.6 401.1h0.7M331.2 398.5h0.7M315.9 380.4h0.7M335.7 388.7h0.7M311.1 389.7h0.7M312.8 404.2h0.7M333.2 379.7h0.7M320.0 402.7h0.7M320.7 405.1h0.7M313.0 402.0h0.7M332.9 385.6h0.7M333.6 388.7h0.7M322.9 381.1h0.7M317.8 381.9h0.7M335.7 398.6h0.7M314.1 383.1h0.7M331.5 397.5h0.7M323.8 378.3h0.7M318.2 379.6h0.7M330.0 381.3h0.7M308.1 394.7h0.7M315.6 404.9h0.7M312.4 385.0h0.7M324.6 379.8h0.7M335.6 390.0h0.7M322.0 403.7h0.7M334.9 395.7h0.7M325.1 402.3h0.7M309.7 389.0h0.7M325.0 380.2h0.7M335.0 389.6h0.7M315.5 383.5h0.7M336.8 395.5h0.7M328.3 378.9h0.7M309.9 399.8h0.7M306.2 396.7h0.7M318.7 403.5h0.7M310.1 385.7h0.7M331.5 385.1h0.7M314.4 384.3h0.7M334.0 393.0h0.7M334.0 390.3h0.7M313.8 400.6h0.7M333.2 388.5h0.7M325.2 402.8h0.7M313.5 384.9h0.7M310.5 388.6h0.7M330.3 382.4h0.7M333.5 384.2h0.7M308.0 396.5h0.7M309.8 390.8h0.7M308.3 392.9h0.7M312.7 383.9h0.7M312.1 399.2h0.7M333.9 385.1h0.7M333.4 389.5h0.7M313.7 383.3h0.7M307.9 399.1h0.7M334.4 385.3h0.7M333.3 393.7h0.7M328.6 402.7h0.7M325.9 379.3h0.7M336.4 398.8h0.7M335.3 391.8h0.7M327.7 381.8h0.7M317.7 403.6h0.7M309.7 396.1h0.7M307.7 387.4h0.7M315.7 381.6h0.7M324.7 402.9h0.7M332.2 379.2h0.7M310.7 392.5h0.7M315.6 402.9h0.7M322.2 404.5h0.7M324.8 403.6h0.7M324.9 402.5h0.7M322.0 380.3h0.7M314.4 384.6h0.7M331.8 401.9h0.7M309.7 388.3h0.7M330.8 400.0h0.7M333.2 394.6h0.7M335.3 382.4h0.7M329.7 400.7h0.7M311.2 388.7h0.7M334.2 385.0h0.7M334.4 397.4h0.7M309.2 392.5h0.7M318.7 380.5h0.7M332.0 397.5h0.7M320.6 381.5h0.7M329.2 381.5h0.7M322.3 402.9h0.7M314.2 403.6h0.7M336.2 394.2h0.7M334.0 388.0h0.7M319.3 404.0h0.7M313.5 384.6h0.7M311.3 386.5h0.7M315.0 401.8h0.7M334.9 390.6h0.7M334.4 388.6h0.7M311.0 396.1h0.7M319.8 404.7h0.7M335.5 390.8h0.7M330.5 381.4h0.7M325.3 408.4h0.7M312.9 402.9h0.7M315.8 380.7h0.7M335.7 394.1h0.7M307.9 393.4h0.7M320.9 405.0h0.7M311.3 400.7h0.7M327.6 378.8h0.7M311.9 387.1h0.7M312.9 381.6h0.7M308.2 392.6h0.7" stroke="#1a1a1a" stroke-opacity="0.7" stroke-width="0.7" fill="none"/>
<ellipse cx="337.0" cy="424.0" rx="19.60" ry="14.60" transform="rotate(-5 337.0 424.0)" fill="#fff" stroke="#fff" stroke-width="1.4"/>
<ellipse cx="337.0" cy="424.0" rx="19.00" ry="14.00" transform="rotate(-5 337.0 424.0)" fill="#fafafa" stroke="#8a8a8a" stroke-width="0.65"/>
<ellipse cx="337.0" cy="424.0" rx="15.77" ry="11.62" transform="rotate(-5 337.0 424.0)" fill="#e3e3e3" stroke="#8a8a8a" stroke-width="0.42"/>
<ellipse cx="337.0" cy="424.0" rx="12.54" ry="9.24" transform="rotate(-5 337.0 424.0)" fill="#cdcdcd" stroke="#8a8a8a" stroke-width="0.42"/>
<ellipse cx="337.0" cy="424.0" rx="9.31" ry="6.86" transform="rotate(-5 337.0 424.0)" fill="#b6b6b6" stroke="#8a8a8a" stroke-width="0.42"/>
<ellipse cx="337.0" cy="424.0" rx="6.08" ry="4.48" transform="rotate(-5 337.0 424.0)" fill="#9f9f9f" stroke="#8a8a8a" stroke-width="0.42"/>
<ellipse cx="296.0" cy="424.0" rx="6.60" ry="11.10" transform="rotate(0 296.0 424.0)" fill="#fff" stroke="#fff" stroke-width="1.4"/>
<ellipse cx="296.0" cy="424.0" rx="6.00" ry="10.50" transform="rotate(0 296.0 424.0)" fill="#fafafa" stroke="#8a8a8a" stroke-width="0.65"/>
<ellipse cx="296.0" cy="424.0" rx="4.98" ry="8.71" transform="rotate(0 296.0 424.0)" fill="#e8e8e8" stroke="#8a8a8a" stroke-width="0.42"/>
<ellipse cx="296.0" cy="424.0" rx="3.96" ry="6.93" transform="rotate(0 296.0 424.0)" fill="#d6d6d6" stroke="#8a8a8a" stroke-width="0.42"/>
<ellipse cx="296.0" cy="424.0" rx="2.94" ry="5.14" transform="rotate(0 296.0 424.0)" fill="#c4c4c4" stroke="#8a8a8a" stroke-width="0.42"/>
<ellipse cx="296.0" cy="424.0" rx="1.92" ry="3.36" transform="rotate(0 296.0 424.0)" fill="#b2b2b2" stroke="#8a8a8a" stroke-width="0.42"/>
<ellipse cx="297.0" cy="395.0" rx="8.10" ry="13.10" transform="rotate(0 297.0 395.0)" fill="#fff" stroke="#fff" stroke-width="1.4"/>
<ellipse cx="297.0" cy="395.0" rx="7.50" ry="12.50" transform="rotate(0 297.0 395.0)" fill="#fafafa" stroke="#8a8a8a" stroke-width="0.65"/>
<ellipse cx="297.0" cy="395.0" rx="6.22" ry="10.38" transform="rotate(0 297.0 395.0)" fill="#e6e6e6" stroke="#8a8a8a" stroke-width="0.42"/>
<ellipse cx="297.0" cy="395.0" rx="4.95" ry="8.25" transform="rotate(0 297.0 395.0)" fill="#d1d1d1" stroke="#8a8a8a" stroke-width="0.42"/>
<ellipse cx="297.0" cy="395.0" rx="3.67" ry="6.12" transform="rotate(0 297.0 395.0)" fill="#bdbdbd" stroke="#8a8a8a" stroke-width="0.42"/>
<ellipse cx="297.0" cy="395.0" rx="2.40" ry="4.00" transform="rotate(0 297.0 395.0)" fill="#a9a9a9" stroke="#8a8a8a" stroke-width="0.42"/>
<ellipse cx="322.0" cy="392.0" rx="12.10" ry="11.10" transform="rotate(-25 322.0 392.0)" fill="#fff" stroke="#fff" stroke-width="1.4"/>
<ellipse cx="322.0" cy="392.0" rx="11.50" ry="10.50" transform="rotate(-25 322.0 392.0)" fill="#fafafa" stroke="#8a8a8a" stroke-width="0.65"/>
<ellipse cx="322.0" cy="392.0" rx="9.54" ry="8.71" transform="rotate(-25 322.0 392.0)" fill="#e3e3e3" stroke="#8a8a8a" stroke-width="0.42"/>
<ellipse cx="322.0" cy="392.0" rx="7.59" ry="6.93" transform="rotate(-25 322.0 392.0)" fill="#cdcdcd" stroke="#8a8a8a" stroke-width="0.42"/>
<ellipse cx="322.0" cy="392.0" rx="5.63" ry="5.14" transform="rotate(-25 322.0 392.0)" fill="#b6b6b6" stroke="#8a8a8a" stroke-width="0.42"/>
<ellipse cx="322.0" cy="392.0" rx="3.68" ry="3.36" transform="rotate(-25 322.0 392.0)" fill="#9f9f9f" stroke="#8a8a8a" stroke-width="0.42"/>
</g>
<line x1="307.50" y1="355.00" x2="307.50" y2="444.50" stroke="#8a8a8a" stroke-width="0.8" />
<line x1="274.50" y1="410.00" x2="362.50" y2="410.00" stroke="#8a8a8a" stroke-width="0.8" />
<text x="297.5" y="366.0" font-size="10.3" font-weight="bold" text-anchor="middle" >18</text>
<text x="336.5" y="366.0" font-size="10.3" font-weight="bold" text-anchor="middle" >20</text>
<rect x="378.00" y="355.00" width="87.20" height="88.50" fill="none" stroke="#6a6a6a" stroke-width="0.9"/>
<line x1="376.80" y1="358.00" x2="376.80" y2="441.50" stroke="#999" stroke-width="1.2" stroke-dasharray="0.6 2.4"/>
<line x1="381.00" y1="444.70" x2="463.20" y2="444.70" stroke="#999" stroke-width="1.2" stroke-dasharray="0.6 2.4"/>
<text x="374.5" y="366.2" font-size="4.2" fill="#555" text-anchor="end">10<tspan dy="-2" font-size="3">5</tspan></text>
<rect x="375.8" y="364.1" width="1.6" height="1.2" fill="#333"/>
<text x="374.5" y="388.4" font-size="4.2" fill="#555" text-anchor="end">10<tspan dy="-2" font-size="3">4</tspan></text>
<rect x="375.8" y="386.3" width="1.6" height="1.2" fill="#333"/>
<text x="374.5" y="411.4" font-size="4.2" fill="#555" text-anchor="end">10<tspan dy="-2" font-size="3">3</tspan></text>
<rect x="375.8" y="409.3" width="1.6" height="1.2" fill="#333"/>
<text x="374.5" y="427.3" font-size="4.2" fill="#555" text-anchor="end">0</text>
<rect x="375.8" y="425.2" width="1.6" height="1.2" fill="#333"/>
<text x="394.6" y="454.0" font-size="4.2" fill="#555" text-anchor="middle">0</text>
<text x="412.0" y="454.0" font-size="4.2" fill="#555" text-anchor="middle">10<tspan dy="-2" font-size="3">3</tspan></text>
<text x="435.6" y="454.0" font-size="4.2" fill="#555" text-anchor="middle">10<tspan dy="-2" font-size="3">4</tspan></text>
<text x="456.5" y="454.0" font-size="4.2" fill="#555" text-anchor="middle">10<tspan dy="-2" font-size="3">5</tspan></text>
<rect x="393.8" y="444.3" width="1.6" height="1.6" fill="#222"/>
<clipPath id="cp8"><rect x="378.50" y="355.50" width="86.20" height="87.50"/></clipPath><g clip-path="url(#cp8)">
<path d="M401.1 421.5h0.7M407.0 422.3h0.7M409.2 433.4h0.7M403.7 421.1h0.7M404.5 431.2h0.7M394.1 415.5h0.7M422.5 414.8h0.7M418.0 413.9h0.7M413.0 421.1h0.7M447.6 422.9h0.7M427.0 412.9h0.7M408.0 419.2h0.7M410.8 433.6h0.7M420.4 433.0h0.7M417.4 429.2h0.7M399.4 434.7h0.7M403.0 420.7h0.7M418.3 417.4h0.7M432.0 410.3h0.7M427.7 404.4h0.7M399.7 425.7h0.7M439.8 409.3h0.7M428.7 415.5h0.7M443.7 422.0h0.7M446.6 415.1h0.7M447.7 413.1h0.7M445.5 425.2h0.7M399.8 428.5h0.7M423.8 426.8h0.7M408.2 415.0h0.7M402.6 433.4h0.7M420.3 396.8h0.7M432.1 420.2h0.7M459.1 416.1h0.7M428.0 415.0h0.7M413.3 425.5h0.7M421.6 397.6h0.7M419.0 426.9h0.7M435.0 427.6h0.7M413.3 407.2h0.7M426.4 408.7h0.7M440.0 416.9h0.7M431.8 421.9h0.7M433.3 422.6h0.7M427.1 420.5h0.7M409.3 403.7h0.7M396.7 429.5h0.7M410.6 422.4h0.7M393.4 415.1h0.7M452.8 437.1h0.7M430.7 421.0h0.7M431.0 438.1h0.7M403.7 419.1h0.7M413.9 391.6h0.7M422.5 428.3h0.7M412.5 408.5h0.7M440.7 413.2h0.7M417.3 414.1h0.7M417.2 420.5h0.7M433.6 422.5h0.7M452.0 408.2h0.7M424.8 416.9h0.7M454.9 403.5h0.7M419.8 427.6h0.7M409.5 419.1h0.7M422.9 422.9h0.7M423.8 408.1h0.7M432.8 396.3h0.7M406.9 410.7h0.7M418.3 420.2h0.7M420.0 421.4h0.7M441.5 424.0h0.7M418.5 400.4h0.7M390.1 423.4h0.7M437.1 417.8h0.7M457.8 421.6h0.7M403.6 423.1h0.7M405.0 430.2h0.7M415.3 414.8h0.7M419.9 432.4h0.7M399.8 430.7h0.7M444.3 426.8h0.7M420.6 427.9h0.7M413.3 411.3h0.7M438.2 404.8h0.7M426.5 413.9h0.7M415.6 418.6h0.7M413.1 430.8h0.7M409.8 408.3h0.7M400.9 419.1h0.7M423.1 418.2h0.7M422.8 408.2h0.7M425.8 426.5h0.7M399.1 416.1h0.7M420.4 415.5h0.7M408.7 412.7h0.7M405.2 433.7h0.7M402.1 408.9h0.7M398.2 420.2h0.7M405.9 424.2h0.7M421.8 422.0h0.7M431.4 418.4h0.7M414.5 419.3h0.7M434.6 410.4h0.7M416.7 433.9h0.7M425.7 430.5h0.7M430.4 402.7h0.7M414.8 406.5h0.7M424.1 417.5h0.7M431.1 420.9h0.7M415.0 429.2h0.7M401.1 402.7h0.7M433.8 422.6h0.7M430.1 410.0h0.7M430.3 424.7h0.7M421.0 418.8h0.7M417.8 422.7h0.7M400.1 431.1h0.7M406.8 408.9h0.7M438.3 417.9h0.7M397.2 420.2h0.7M412.3 422.3h0.7M402.8 417.7h0.7M414.3 433.9h0.7M405.7 428.2h0.7M433.9 422.0h0.7M416.2 423.4h0.7M408.6 428.3h0.7M395.3 431.6h0.7M414.5 413.2h0.7M424.3 434.3h0.7M419.4 437.6h0.7M418.8 422.1h0.7M400.8 418.4h0.7M418.9 413.0h0.7M400.3 413.5h0.7M425.4 425.1h0.7M446.2 399.5h0.7M446.3 427.1h0.7M419.8 430.5h0.7M424.9 403.5h0.7M430.5 405.5h0.7M430.9 406.6h0.7M395.8 427.3h0.7M413.1 412.4h0.7M446.5 418.8h0.7M443.2 416.2h0.7M418.7 399.5h0.7M438.6 414.3h0.7M434.7 412.3h0.7M392.8 421.3h0.7M435.7 397.1h0.7M402.9 430.0h0.7M443.5 414.9h0.7M424.0 423.9h0.7M426.3 407.8h0.7M435.9 434.3h0.7M422.4 419.8h0.7M411.4 423.4h0.7M430.0 413.1h0.7M395.8 405.0h0.7M428.0 419.9h0.7M414.8 398.4h0.7M398.5 433.8h0.7M405.9 409.1h0.7M434.7 430.1h0.7M412.6 419.9h0.7M426.7 422.9h0.7M413.3 418.4h0.7M428.5 432.6h0.7M426.2 401.6h0.7M405.9 409.4h0.7M431.2 432.2h0.7M427.3 406.9h0.7M415.1 417.3h0.7M432.6 420.1h0.7M431.2 414.0h0.7M447.9 406.4h0.7M418.4 428.0h0.7M431.8 407.5h0.7M410.5 414.7h0.7M432.4 426.3h0.7M398.0 415.7h0.7M422.9 427.8h0.7M428.9 430.3h0.7M413.8 411.8h0.7M422.5 420.7h0.7M454.8 418.4h0.7M417.8 408.3h0.7M423.4 413.8h0.7M429.2 416.9h0.7M407.9 409.3h0.7M410.7 417.6h0.7M380.2 411.1h0.7M418.4 405.5h0.7M429.0 414.9h0.7M429.4 420.1h0.7M414.2 429.8h0.7M432.3 406.4h0.7M416.7 405.4h0.7M411.0 416.7h0.7M412.1 415.9h0.7M427.0 428.2h0.7M428.0 426.8h0.7M411.0 414.4h0.7M434.0 412.8h0.7M426.9 419.0h0.7M428.4 428.8h0.7M422.0 413.0h0.7M408.7 434.5h0.7M433.0 406.2h0.7M399.0 395.9h0.7M420.3 412.0h0.7M383.9 419.9h0.7M420.3 435.6h0.7M421.3 404.7h0.7M420.9 418.5h0.7M403.8 405.6h0.7M410.6 417.5h0.7M434.8 410.9h0.7M425.0 433.4h0.7M406.0 407.7h0.7M410.8 422.7h0.7M405.5 427.6h0.7M410.6 411.8h0.7M425.4 425.6h0.7M413.6 416.7h0.7M432.4 434.3h0.7M412.1 425.7h0.7M434.6 423.8h0.7M422.3 420.3h0.7M404.2 416.3h0.7M408.3 413.0h0.7M422.9 436.2h0.7M424.2 414.3h0.7M437.2 409.0h0.7M432.7 410.6h0.7M424.8 436.1h0.7M418.3 411.6h0.7M417.6 423.3h0.7M388.5 436.7h0.7M404.6 422.1h0.7M428.7 410.5h0.7M415.9 428.0h0.7M413.8 424.1h0.7M419.0 417.4h0.7M422.0 420.9h0.7M416.0 427.9h0.7M420.6 419.1h0.7M387.5 402.8h0.7M430.9 424.3h0.7M424.2 429.0h0.7M393.7 416.4h0.7M429.9 425.6h0.7M435.3 425.0h0.7M418.2 430.7h0.7M410.2 414.6h0.7M444.2 415.2h0.7M439.8 410.7h0.7M419.7 426.9h0.7M396.5 417.0h0.7M388.2 411.1h0.7M418.1 417.8h0.7M433.8 408.7h0.7M443.6 414.7h0.7M404.8 421.0h0.7M429.6 425.8h0.7M427.7 410.2h0.7M393.4 433.1h0.7M422.4 421.5h0.7M435.9 426.5h0.7M403.6 402.8h0.7M393.6 404.0h0.7M428.4 418.6h0.7M419.9 409.6h0.7M421.1 414.3h0.7M418.9 423.3h0.7M420.2 423.7h0.7M417.0 430.1h0.7M445.3 415.7h0.7M421.7 416.6h0.7M413.6 428.4h0.7M423.1 395.6h0.7M437.4 424.2h0.7M399.0 419.3h0.7M415.3 420.2h0.7M420.0 441.9h0.7M434.8 437.9h0.7M435.6 415.5h0.7M438.4 433.6h0.7M413.7 422.9h0.7M429.8 424.0h0.7M432.2 401.2h0.7M435.2 428.1h0.7M416.3 433.5h0.7M422.6 437.1h0.7M424.9 423.4h0.7M430.1 422.9h0.7M439.5 412.5h0.7M410.0 411.4h0.7M433.7 414.6h0.7M425.8 414.3h0.7M407.8 413.9h0.7M419.1 413.0h0.7M439.5 424.1h0.7M430.6 420.1h0.7M419.8 402.0h0.7M420.0 411.3h0.7M431.3 417.2h0.7M423.0 403.3h0.7M430.6 421.2h0.7M387.1 413.8h0.7M409.4 421.3h0.7M457.2 412.9h0.7M443.9 427.2h0.7M414.3 407.7h0.7M408.8 421.1h0.7M418.2 424.4h0.7M424.9 418.2h0.7M419.6 422.8h0.7M411.7 418.0h0.7M409.5 421.5h0.7M429.2 426.2h0.7M419.0 410.9h0.7M412.7 423.9h0.7M411.7 420.6h0.7M425.0 426.0h0.7M407.8 431.1h0.7M399.7 428.4h0.7M425.7 429.9h0.7M415.4 421.9h0.7M409.2 414.3h0.7M397.7 420.6h0.7M414.1 429.4h0.7M446.0 408.9h0.7M439.8 422.4h0.7M405.4 403.3h0.7M421.0 414.8h0.7M436.0 413.5h0.7M443.6 405.0h0.7M421.5 421.6h0.7M444.2 426.2h0.7M414.1 423.7h0.7M426.5 422.4h0.7M413.2 413.4h0.7M404.2 407.8h0.7M424.8 424.3h0.7M411.7 426.3h0.7M403.6 413.5h0.7M413.0 408.6h0.7M404.7 421.0h0.7M415.1 418.2h0.7M419.2 410.1h0.7M438.0 415.7h0.7M444.0 440.1h0.7M437.4 413.8h0.7M430.8 411.2h0.7M391.5 416.1h0.7M427.3 418.8h0.7M440.1 425.6h0.7M432.2 437.7h0.7M417.1 424.6h0.7M434.9 415.9h0.7M427.0 430.4h0.7M400.0 421.2h0.7M426.1 427.4h0.7M424.4 422.8h0.7M430.3 433.8h0.7M419.9 421.8h0.7M415.5 426.5h0.7M412.3 404.4h0.7M403.9 414.0h0.7M405.5 414.8h0.7M420.9 420.1h0.7M410.7 430.1h0.7M432.2 420.4h0.7M434.6 417.5h0.7M423.6 429.2h0.7M428.0 419.3h0.7M399.8 415.3h0.7M410.3 424.8h0.7M422.7 421.2h0.7M398.1 422.6h0.7M427.9 431.6h0.7M435.5 399.3h0.7M446.3 437.3h0.7M436.5 421.5h0.7M415.9 408.5h0.7M419.4 430.8h0.7M428.3 420.4h0.7M423.7 410.1h0.7M393.6 422.1h0.7M404.0 418.5h0.7M435.8 413.5h0.7M405.6 419.1h0.7M412.8 416.7h0.7M425.1 417.9h0.7M431.6 433.7h0.7M400.0 392.8h0.7M412.6 401.6h0.7M404.1 429.8h0.7M418.2 418.1h0.7M415.7 427.3h0.7M442.6 404.0h0.7M436.1 417.6h0.7M397.7 407.8h0.7M422.0 421.2h0.7M407.0 426.7h0.7M417.1 422.3h0.7M402.8 417.2h0.7M446.3 404.4h0.7M424.4 417.3h0.7M430.8 424.3h0.7M434.4 420.8h0.7M395.2 430.1h0.7M450.5 410.6h0.7M414.2 422.9h0.7M400.2 419.7h0.7M425.0 418.6h0.7M418.4 427.0h0.7M417.8 430.7h0.7M415.5 411.9h0.7M433.6 425.4h0.7M400.1 408.0h0.7M418.8 425.8h0.7M416.9 415.1h0.7M417.9 430.4h0.7M393.3 414.1h0.7M408.2 422.7h0.7M442.7 430.0h0.7M423.9 416.2h0.7M437.5 415.9h0.7M410.8 424.6h0.7M431.4 427.0h0.7M399.0 415.2h0.7M416.0 420.6h0.7M422.6 407.6h0.7M401.1 408.5h0.7M399.2 434.3h0.7M421.8 400.7h0.7M406.6 419.5h0.7M433.2 432.3h0.7M432.5 409.0h0.7M427.7 408.9h0.7M425.8 417.3h0.7M441.6 412.0h0.7M438.6 425.9h0.7M403.2 405.8h0.7M424.2 422.4h0.7M402.4 422.1h0.7M394.8 431.8h0.7M408.0 422.1h0.7M414.1 425.1h0.7M431.4 403.9h0.7M427.2 419.8h0.7M410.7 425.3h0.7M427.9 427.2h0.7M393.4 421.6h0.7M415.7 418.3h0.7M446.2 423.5h0.7M438.4 412.4h0.7M416.0 411.2h0.7M417.1 416.8h0.7M437.1 412.3h0.7M439.5 413.3h0.7M448.5 414.3h0.7M412.4 421.0h0.7M419.8 412.9h0.7M433.6 424.5h0.7M437.0 406.7h0.7M436.7 401.4h0.7M425.6 414.9h0.7M410.9 422.7h0.7M407.2 413.5h0.7M408.4 428.1h0.7M437.0 418.9h0.7M422.9 413.7h0.7M437.2 426.4h0.7M413.1 409.7h0.7M440.1 408.5h0.7M430.5 429.1h0.7M399.7 422.0h0.7M430.3 428.4h0.7M443.0 412.1h0.7M428.9 423.1h0.7M440.8 422.3h0.7M429.7 408.2h0.7M427.6 419.3h0.7M427.8 407.5h0.7M411.8 420.4h0.7M411.5 428.8h0.7M433.2 416.6h0.7M441.6 423.0h0.7M429.4 422.4h0.7M448.5 412.0h0.7M437.0 424.6h0.7M410.3 425.5h0.7M419.9 412.7h0.7M417.6 420.7h0.7M414.2 411.5h0.7M422.6 418.8h0.7M410.4 411.3h0.7M406.7 413.5h0.7M435.8 423.2h0.7M409.0 418.9h0.7M418.4 421.9h0.7M427.2 402.7h0.7M404.0 421.3h0.7M417.2 426.2h0.7M410.0 401.1h0.7M458.1 434.5h0.7M415.3 432.0h0.7M414.0 411.3h0.7M432.7 399.2h0.7M404.8 406.1h0.7M443.3 407.9h0.7M422.9 419.6h0.7M425.2 421.9h0.7M436.1 422.1h0.7M414.4 420.1h0.7M426.2 423.7h0.7M439.6 416.8h0.7M413.7 398.7h0.7M429.9 416.8h0.7M434.0 409.5h0.7M419.2 412.3h0.7M408.2 407.9h0.7M418.6 412.8h0.7M433.4 423.1h0.7" stroke="#1a1a1a" stroke-opacity="0.68" stroke-width="0.7" fill="none"/>
<path d="M449.6 402.1h0.7M448.5 404.2h0.7M424.6 397.5h0.7M439.8 411.6h0.7M425.4 423.0h0.7M440.7 399.2h0.7M443.2 401.8h0.7M443.4 391.3h0.7M448.1 409.2h0.7M446.3 419.4h0.7M432.6 413.9h0.7M444.9 400.6h0.7M430.5 427.0h0.7M442.3 412.6h0.7M447.1 387.7h0.7M440.6 402.9h0.7M459.2 414.2h0.7M426.7 405.6h0.7M412.2 407.3h0.7M438.3 416.2h0.7M453.9 396.3h0.7M446.4 404.2h0.7M440.2 405.4h0.7M439.4 416.7h0.7M438.0 428.6h0.7M415.7 401.2h0.7M438.4 398.9h0.7M412.8 391.5h0.7M441.7 397.1h0.7M444.7 395.9h0.7M427.4 419.9h0.7M427.1 405.5h0.7M446.6 405.1h0.7M451.8 416.2h0.7M439.3 413.3h0.7M456.5 408.5h0.7M461.7 398.2h0.7M460.9 399.1h0.7M445.4 411.5h0.7M452.9 433.5h0.7M440.3 416.5h0.7M418.2 409.3h0.7M420.8 384.1h0.7M428.2 415.0h0.7M441.1 404.1h0.7M437.5 396.1h0.7M429.6 406.8h0.7M408.0 412.6h0.7M438.0 403.9h0.7M433.4 416.2h0.7M436.2 415.2h0.7M426.0 408.2h0.7M448.9 408.8h0.7M438.1 394.6h0.7M458.9 392.2h0.7M460.6 424.7h0.7M430.2 411.7h0.7M457.1 393.7h0.7M431.8 421.0h0.7M454.3 417.3h0.7M435.9 403.0h0.7M431.8 386.3h0.7M440.4 422.9h0.7M445.5 416.3h0.7M437.7 395.2h0.7M432.1 387.6h0.7M430.4 387.2h0.7M441.7 420.1h0.7M435.7 406.8h0.7M440.2 404.6h0.7M436.7 408.7h0.7M415.4 407.0h0.7M418.0 408.1h0.7M423.4 408.2h0.7M441.9 409.6h0.7M431.7 403.3h0.7M440.6 399.7h0.7M429.5 414.3h0.7M435.7 407.7h0.7M435.4 398.4h0.7M461.3 399.4h0.7M442.4 407.3h0.7M447.4 410.7h0.7M422.9 408.5h0.7M426.8 403.9h0.7M449.5 386.5h0.7M450.1 411.2h0.7M424.4 418.3h0.7M453.7 400.2h0.7M427.3 412.2h0.7M432.2 386.5h0.7M432.4 408.5h0.7M455.7 399.2h0.7M438.5 404.6h0.7M438.7 403.7h0.7M451.4 408.8h0.7M455.3 389.8h0.7M454.0 397.6h0.7M428.9 406.9h0.7M447.0 415.1h0.7M428.0 408.2h0.7M454.1 393.9h0.7M462.4 403.8h0.7M417.7 400.1h0.7M450.5 403.6h0.7M449.9 410.2h0.7M437.6 391.4h0.7M444.9 394.0h0.7M447.7 409.8h0.7M440.2 409.6h0.7M445.1 399.8h0.7M420.1 386.8h0.7M439.6 422.7h0.7M433.3 399.3h0.7M428.7 405.9h0.7M439.1 405.7h0.7M441.4 385.2h0.7M413.2 409.2h0.7M444.4 398.1h0.7M441.9 411.8h0.7M420.3 405.5h0.7M436.2 401.2h0.7M434.3 383.2h0.7M443.4 408.8h0.7M431.2 405.1h0.7M434.0 401.9h0.7M446.8 401.1h0.7M424.0 409.5h0.7M451.3 384.1h0.7M449.4 398.7h0.7M437.2 401.5h0.7M420.8 401.5h0.7M439.5 403.1h0.7M424.9 403.5h0.7M440.2 395.3h0.7M452.6 406.9h0.7M452.2 402.7h0.7M444.0 417.9h0.7M446.1 403.4h0.7M436.7 412.1h0.7M442.0 399.3h0.7M433.5 411.6h0.7M430.2 404.9h0.7M445.1 387.3h0.7M453.1 402.5h0.7M432.5 413.1h0.7M439.5 405.9h0.7M449.4 412.4h0.7M443.4 410.2h0.7M427.6 398.9h0.7M451.7 403.6h0.7M431.7 416.5h0.7M456.2 409.5h0.7M440.2 418.3h0.7M436.5 396.6h0.7M441.9 401.8h0.7M445.1 398.5h0.7M460.6 404.7h0.7M448.8 412.9h0.7M436.8 409.8h0.7M448.8 408.8h0.7M445.9 417.1h0.7M456.0 414.1h0.7M413.1 401.8h0.7M430.4 399.7h0.7M434.9 423.5h0.7M445.7 394.4h0.7M443.8 413.2h0.7M459.2 405.0h0.7M437.7 396.6h0.7M439.6 403.1h0.7M424.1 396.8h0.7M422.5 418.5h0.7M451.9 391.3h0.7M439.3 408.3h0.7M410.7 399.5h0.7M434.6 414.3h0.7M433.7 407.7h0.7M446.3 394.0h0.7M423.2 410.9h0.7M448.2 413.3h0.7M439.4 398.0h0.7M417.6 423.0h0.7M417.6 405.6h0.7M441.8 389.1h0.7M438.6 409.7h0.7M446.1 398.4h0.7M431.9 402.5h0.7M442.7 404.8h0.7M396.7 393.6h0.7M431.7 401.4h0.7M445.5 396.2h0.7M417.4 404.6h0.7M445.1 411.2h0.7M454.6 410.6h0.7M440.9 415.1h0.7M448.8 387.6h0.7M438.8 400.4h0.7M435.2 394.7h0.7M446.7 400.1h0.7M444.8 391.3h0.7M451.8 411.5h0.7M452.9 410.2h0.7M449.7 406.2h0.7" stroke="#1a1a1a" stroke-opacity="0.5599999999999999" stroke-width="0.7" fill="none"/>
<path d="M406.1 422.4h0.7M405.0 399.1h0.7M404.9 414.4h0.7M412.6 415.7h0.7M399.2 406.7h0.7M403.7 433.5h0.7M407.4 409.1h0.7M401.1 422.7h0.7M404.6 416.4h0.7M401.9 412.9h0.7M410.9 426.9h0.7M405.3 406.5h0.7M403.1 397.7h0.7M406.2 400.7h0.7M405.3 408.9h0.7M406.6 423.3h0.7M405.8 417.8h0.7M404.0 395.7h0.7M405.0 423.9h0.7M408.3 412.4h0.7M410.5 400.2h0.7M409.0 415.3h0.7M405.1 416.7h0.7M411.4 403.0h0.7M409.1 416.3h0.7M403.9 411.7h0.7M400.3 411.1h0.7M407.3 418.8h0.7M403.2 425.0h0.7M402.4 412.9h0.7M409.3 405.1h0.7M404.8 420.7h0.7M409.4 420.8h0.7M398.1 426.9h0.7M401.6 422.0h0.7M402.9 415.9h0.7M398.7 431.3h0.7M403.2 430.1h0.7M406.9 419.6h0.7M397.6 405.7h0.7M407.8 414.7h0.7M404.6 429.5h0.7M405.2 408.2h0.7M403.3 403.6h0.7M405.2 416.6h0.7M403.1 410.5h0.7M403.9 414.6h0.7M407.5 411.6h0.7M401.8 404.7h0.7M403.0 407.6h0.7M405.5 405.7h0.7M402.8 427.7h0.7M401.8 398.5h0.7M401.6 410.3h0.7M403.9 418.3h0.7M406.3 416.5h0.7M399.3 426.3h0.7M401.7 408.7h0.7M404.0 417.0h0.7M404.2 399.0h0.7M408.5 401.8h0.7M399.9 411.5h0.7M404.2 412.7h0.7M401.1 406.0h0.7M401.1 408.4h0.7M405.8 419.4h0.7M408.1 421.0h0.7M395.1 405.3h0.7M399.9 415.5h0.7M399.5 415.3h0.7M409.5 406.2h0.7M403.8 422.1h0.7M400.7 407.6h0.7M407.7 408.9h0.7M407.8 400.4h0.7M406.0 416.1h0.7M398.4 406.6h0.7M401.8 417.5h0.7M401.8 412.9h0.7M399.2 429.7h0.7M407.8 416.0h0.7M402.6 413.9h0.7M397.9 412.4h0.7M395.0 404.3h0.7M404.3 429.8h0.7M408.0 421.8h0.7M411.6 413.3h0.7M407.3 408.9h0.7M406.5 413.3h0.7M394.7 410.7h0.7M410.8 402.1h0.7M406.5 427.0h0.7M403.3 415.1h0.7M402.0 403.3h0.7M408.0 411.3h0.7M402.1 420.9h0.7M407.0 419.9h0.7M413.1 409.4h0.7M404.8 406.4h0.7M402.6 420.5h0.7M406.6 414.3h0.7M407.8 406.0h0.7M402.1 415.2h0.7M402.9 383.7h0.7M405.4 421.2h0.7M402.1 394.8h0.7M409.5 414.7h0.7M405.0 414.9h0.7M404.8 405.0h0.7M402.7 417.0h0.7M401.5 408.5h0.7M406.4 410.9h0.7M404.0 406.1h0.7M408.8 406.2h0.7M397.9 398.1h0.7M404.4 410.3h0.7M404.7 415.0h0.7M407.1 427.7h0.7M403.2 407.2h0.7M400.2 424.2h0.7M393.4 410.9h0.7M410.9 397.0h0.7M401.1 413.3h0.7M407.2 421.5h0.7M402.2 415.8h0.7M405.7 410.2h0.7M405.2 407.7h0.7M403.9 413.8h0.7M407.3 407.1h0.7M404.1 414.1h0.7M402.1 414.6h0.7M402.8 417.5h0.7M403.7 416.2h0.7M402.3 409.9h0.7M398.5 395.4h0.7M410.5 427.5h0.7M402.6 419.4h0.7M394.7 416.7h0.7M403.1 401.0h0.7M407.2 422.5h0.7M402.7 414.4h0.7M404.3 399.3h0.7M399.9 392.9h0.7M400.7 407.4h0.7M401.0 403.0h0.7M404.4 413.3h0.7M403.8 410.1h0.7M402.6 404.3h0.7M410.8 410.8h0.7M405.4 421.6h0.7M398.7 409.1h0.7M407.1 409.0h0.7M406.9 420.1h0.7M404.3 424.4h0.7M408.9 411.4h0.7M408.5 422.4h0.7M403.4 399.8h0.7M405.2 419.3h0.7M399.7 399.4h0.7M405.9 419.7h0.7M404.4 412.6h0.7M401.9 408.4h0.7M410.4 394.5h0.7M400.3 420.5h0.7M406.8 412.1h0.7M402.7 415.3h0.7M405.1 411.2h0.7M400.6 408.1h0.7" stroke="#1a1a1a" stroke-opacity="0.68" stroke-width="0.7" fill="none"/>
<path d="M458.3 420.4h0.7M452.2 431.2h0.7M442.6 433.4h0.7M455.3 411.0h0.7M433.1 426.2h0.7M457.8 417.3h0.7M432.0 422.3h0.7M434.5 416.7h0.7M457.6 414.1h0.7M449.4 412.0h0.7M451.2 431.7h0.7M451.1 412.0h0.7M445.2 431.6h0.7M459.6 426.0h0.7M446.4 409.8h0.7M431.6 424.0h0.7M458.2 426.5h0.7M455.6 413.7h0.7M439.0 412.1h0.7M443.5 407.8h0.7M433.7 427.2h0.7M453.8 433.9h0.7M431.1 423.3h0.7M458.8 417.5h0.7M454.4 433.2h0.7M458.4 416.6h0.7M444.4 410.6h0.7M448.8 431.7h0.7M441.4 411.9h0.7M460.7 424.1h0.7M453.9 429.8h0.7M432.8 417.7h0.7M450.7 435.0h0.7M429.2 420.3h0.7M447.9 433.9h0.7M441.1 410.0h0.7M456.2 433.5h0.7M459.7 426.7h0.7M433.4 425.4h0.7M431.8 429.6h0.7M436.9 413.7h0.7M441.9 432.1h0.7M455.3 430.0h0.7M457.3 430.8h0.7M458.7 423.3h0.7M455.7 427.7h0.7M459.5 428.9h0.7M434.1 432.7h0.7M432.3 423.6h0.7M437.4 411.3h0.7M431.6 419.8h0.7M443.9 408.2h0.7M427.9 416.9h0.7M431.3 420.9h0.7M459.4 420.8h0.7M453.5 430.1h0.7M431.6 421.7h0.7M455.4 414.1h0.7M445.9 434.2h0.7M435.3 428.1h0.7M434.9 412.5h0.7M459.1 424.3h0.7M462.1 414.1h0.7M444.9 432.8h0.7M451.8 408.6h0.7M429.7 423.5h0.7M432.0 424.5h0.7M433.9 425.9h0.7M432.2 426.8h0.7M456.8 415.9h0.7M447.4 435.4h0.7M429.4 428.1h0.7M431.6 425.2h0.7M446.5 432.7h0.7M453.5 430.4h0.7M448.7 432.6h0.7M443.9 433.2h0.7M446.4 411.1h0.7M451.8 411.4h0.7M459.8 413.7h0.7M431.6 419.5h0.7M434.2 433.1h0.7M458.6 429.6h0.7M455.6 412.1h0.7M453.0 429.8h0.7M457.8 425.8h0.7M454.5 429.4h0.7M429.8 425.2h0.7M459.2 425.3h0.7M436.3 410.7h0.7M429.8 418.0h0.7M447.4 434.8h0.7M430.8 423.9h0.7M433.5 428.6h0.7M452.4 409.2h0.7M459.8 425.1h0.7M439.9 430.8h0.7M449.7 410.1h0.7M450.7 409.0h0.7M436.2 429.4h0.7M450.8 411.4h0.7M454.4 414.3h0.7M445.8 410.6h0.7M434.8 411.3h0.7M455.9 413.3h0.7M459.2 423.9h0.7M431.2 420.9h0.7M438.3 430.1h0.7M458.8 414.5h0.7M433.7 414.9h0.7M456.8 428.4h0.7M432.7 417.0h0.7M430.9 428.6h0.7M431.5 421.1h0.7M454.2 430.1h0.7M451.6 434.4h0.7M453.3 413.6h0.7M450.1 431.6h0.7M434.4 414.5h0.7M456.8 412.8h0.7M446.3 409.7h0.7M453.4 432.0h0.7M459.3 428.9h0.7M432.5 413.4h0.7M446.0 433.2h0.7M450.6 431.2h0.7M454.8 414.6h0.7M443.6 409.3h0.7M438.3 430.9h0.7M438.0 431.2h0.7M430.8 421.4h0.7M457.2 415.2h0.7M450.3 410.4h0.7M445.0 434.4h0.7M431.8 427.1h0.7M457.5 416.9h0.7M437.9 412.4h0.7M458.3 422.8h0.7M437.0 409.8h0.7M429.8 427.5h0.7M451.2 410.5h0.7M431.3 414.3h0.7M457.3 418.1h0.7M433.6 426.9h0.7M449.1 431.3h0.7M453.3 410.8h0.7M454.3 412.1h0.7M458.0 413.6h0.7M439.8 432.8h0.7M453.4 412.7h0.7M441.5 408.6h0.7M461.1 423.8h0.7M457.3 428.2h0.7M441.7 411.7h0.7M458.4 418.1h0.7M458.2 423.4h0.7M441.4 409.7h0.7M457.1 427.4h0.7M433.5 415.9h0.7M457.4 418.0h0.7M455.0 428.1h0.7M433.9 413.7h0.7M439.0 430.6h0.7M450.1 433.2h0.7M448.5 410.5h0.7M443.3 436.0h0.7M458.3 422.9h0.7M437.7 412.9h0.7M456.9 412.3h0.7M452.4 431.5h0.7M460.5 419.0h0.7M437.8 429.8h0.7M458.7 414.1h0.7M451.8 433.9h0.7M455.8 415.2h0.7M440.9 432.5h0.7M447.5 434.2h0.7M460.0 423.7h0.7M451.5 411.3h0.7M452.9 412.5h0.7M448.1 411.0h0.7M460.3 428.5h0.7M446.0 431.6h0.7M454.7 432.0h0.7M442.3 434.7h0.7M435.4 415.2h0.7M439.3 431.8h0.7M442.9 435.2h0.7M453.2 431.6h0.7M452.9 411.6h0.7M438.3 432.4h0.7M446.1 432.9h0.7M461.4 417.8h0.7M452.1 430.8h0.7M459.0 428.0h0.7M437.2 413.7h0.7M435.5 428.4h0.7M455.6 415.3h0.7M434.8 427.7h0.7M433.1 418.6h0.7M460.2 425.5h0.7M435.5 412.5h0.7M432.4 426.5h0.7M455.5 429.0h0.7M454.5 413.7h0.7M445.8 411.0h0.7M438.9 433.7h0.7M435.9 412.0h0.7M434.6 412.1h0.7M441.0 432.9h0.7M459.5 421.4h0.7M429.9 424.5h0.7M456.2 428.6h0.7M456.4 415.6h0.7M449.5 433.7h0.7M432.3 420.0h0.7M449.8 431.8h0.7M446.5 411.1h0.7M432.2 417.4h0.7M435.8 428.3h0.7M432.4 417.3h0.7M458.3 424.9h0.7M427.7 419.9h0.7M457.8 417.3h0.7M450.8 409.0h0.7M429.7 423.0h0.7M451.3 412.4h0.7M432.5 420.5h0.7M430.0 420.2h0.7M430.6 423.6h0.7M430.8 414.5h0.7M461.2 425.9h0.7M460.7 420.9h0.7M457.9 411.5h0.7M448.6 436.8h0.7M452.2 411.6h0.7M457.6 416.5h0.7M432.8 423.5h0.7M450.0 410.6h0.7M440.9 431.7h0.7M434.2 413.5h0.7M442.0 411.6h0.7M455.3 430.3h0.7M432.4 413.6h0.7M449.8 432.1h0.7M452.6 408.8h0.7M437.9 432.0h0.7M461.5 414.9h0.7M431.7 419.2h0.7M453.0 409.8h0.7M433.6 427.4h0.7M451.1 433.5h0.7M451.7 411.2h0.7M457.5 415.2h0.7M431.8 426.1h0.7M447.0 431.9h0.7M441.0 410.5h0.7M458.7 426.0h0.7M437.2 411.7h0.7M433.4 425.6h0.7M454.1 413.6h0.7M460.0 424.7h0.7M434.6 428.7h0.7M433.6 426.6h0.7M438.4 432.8h0.7M438.6 431.2h0.7M454.5 430.1h0.7M430.2 425.7h0.7M432.8 426.3h0.7M439.3 432.3h0.7M457.4 428.4h0.7M462.2 424.7h0.7M432.8 432.0h0.7M452.9 431.7h0.7M433.0 419.6h0.7M451.9 412.0h0.7M456.7 416.5h0.7M453.1 430.2h0.7M437.1 429.1h0.7M457.9 415.0h0.7M443.6 409.7h0.7M455.8 411.8h0.7M443.9 408.2h0.7M442.1 432.3h0.7M434.2 428.6h0.7M429.3 417.1h0.7M457.4 413.8h0.7M442.3 410.0h0.7M438.0 409.7h0.7M435.8 414.7h0.7M430.2 424.1h0.7M459.1 419.8h0.7M453.3 411.7h0.7M460.7 417.8h0.7M456.9 430.1h0.7M432.1 413.7h0.7M451.3 411.0h0.7M432.1 422.7h0.7M446.3 433.6h0.7M435.1 428.4h0.7M447.7 435.3h0.7M441.1 431.5h0.7M458.5 428.2h0.7M461.9 422.6h0.7M431.4 427.5h0.7M459.7 421.5h0.7M458.8 419.7h0.7M458.7 416.6h0.7M434.9 414.4h0.7M429.7 416.6h0.7M448.1 409.3h0.7M432.3 418.3h0.7M435.4 414.7h0.7M451.6 412.7h0.7M444.0 410.6h0.7M458.0 426.1h0.7M447.0 433.4h0.7M438.5 433.1h0.7M451.0 410.1h0.7M434.8 427.7h0.7M442.9 432.9h0.7M433.0 416.3h0.7M450.9 435.7h0.7M448.9 410.8h0.7M434.5 414.6h0.7M446.8 434.4h0.7M448.8 410.9h0.7M445.9 411.2h0.7M451.6 432.9h0.7M431.7 419.9h0.7M440.8 410.1h0.7M447.7 411.3h0.7M427.0 423.8h0.7M449.2 410.3h0.7M444.9 410.0h0.7M457.9 428.8h0.7M437.5 429.6h0.7M461.7 419.6h0.7M447.9 435.1h0.7M439.4 431.2h0.7M434.2 413.7h0.7M461.7 419.5h0.7M439.5 410.8h0.7M452.0 430.3h0.7M454.9 432.7h0.7M435.7 414.9h0.7M458.3 420.5h0.7M435.7 428.3h0.7M444.4 408.0h0.7M459.4 416.6h0.7M456.8 427.0h0.7M462.3 419.3h0.7M443.0 407.4h0.7M438.1 412.9h0.7M444.3 434.3h0.7M458.0 419.3h0.7M456.7 427.7h0.7M441.0 406.4h0.7M458.6 427.6h0.7M431.0 418.5h0.7M457.8 416.4h0.7M434.8 411.8h0.7M440.8 408.5h0.7M436.4 413.7h0.7M453.0 430.1h0.7M441.7 431.8h0.7M457.0 410.1h0.7M448.4 411.6h0.7M459.8 424.9h0.7M435.6 409.0h0.7M431.6 426.5h0.7M454.2 414.3h0.7M440.0 430.5h0.7M460.8 416.7h0.7M441.7 411.8h0.7M444.6 432.8h0.7M431.7 425.8h0.7M452.0 410.6h0.7M457.4 427.4h0.7M455.4 427.6h0.7M458.9 428.7h0.7M454.6 430.5h0.7M433.5 417.5h0.7M453.6 413.6h0.7M439.1 430.6h0.7M453.9 430.3h0.7M434.1 416.7h0.7M458.8 422.5h0.7M440.2 409.2h0.7M433.0 413.2h0.7M450.7 430.9h0.7M444.3 432.8h0.7M438.7 412.5h0.7M451.2 412.5h0.7M432.9 426.5h0.7M427.6 420.3h0.7M449.6 431.1h0.7M459.9 424.8h0.7M434.7 434.2h0.7M444.5 410.8h0.7M442.8 433.2h0.7M431.5 417.3h0.7M457.3 414.1h0.7M444.8 408.6h0.7M447.3 431.5h0.7M454.8 430.0h0.7M435.6 415.2h0.7M430.2 430.7h0.7M457.4 429.1h0.7M449.5 431.1h0.7M457.4 414.3h0.7M446.1 432.8h0.7M439.5 432.7h0.7M443.2 408.9h0.7M455.7 411.2h0.7M458.2 420.2h0.7M434.6 432.7h0.7M445.2 433.4h0.7M445.3 433.1h0.7M449.2 411.5h0.7M451.4 432.0h0.7M443.7 409.2h0.7M440.1 432.7h0.7M449.9 407.7h0.7M433.9 417.8h0.7M450.1 410.6h0.7M457.1 427.5h0.7M443.1 433.4h0.7M446.5 408.7h0.7M445.4 433.2h0.7M444.1 433.2h0.7M449.1 431.1h0.7M431.6 425.0h0.7M429.9 421.9h0.7M431.6 422.7h0.7M433.1 418.4h0.7M453.6 411.5h0.7M446.6 432.9h0.7M458.2 425.8h0.7M453.9 432.5h0.7M442.5 431.3h0.7M460.9 416.7h0.7M436.1 412.4h0.7M431.2 417.8h0.7M456.0 429.7h0.7M454.9 412.9h0.7M454.3 432.7h0.7M437.8 432.9h0.7M432.9 421.5h0.7M434.0 429.1h0.7M446.4 411.3h0.7M433.0 415.1h0.7M442.5 410.5h0.7M433.2 429.3h0.7M458.1 419.0h0.7M453.0 410.0h0.7M459.4 429.8h0.7M458.4 427.1h0.7M431.9 415.9h0.7M450.0 411.1h0.7M450.5 431.8h0.7M432.2 425.5h0.7M448.8 432.7h0.7M428.6 421.0h0.7M452.7 430.2h0.7M455.9 411.8h0.7M430.0 424.3h0.7M431.4 419.2h0.7M449.7 409.8h0.7M462.0 425.2h0.7M442.1 410.7h0.7M430.9 418.2h0.7M431.7 419.8h0.7M429.6 416.2h0.7M461.5 417.6h0.7M459.0 428.6h0.7M462.8 419.6h0.7M433.1 416.5h0.7M460.7 431.2h0.7M459.7 424.5h0.7M432.7 427.1h0.7M458.1 423.0h0.7M432.8 427.3h0.7M434.7 426.6h0.7M434.6 415.5h0.7M446.9 432.0h0.7M446.7 411.3h0.7M460.6 419.0h0.7M435.7 414.0h0.7M446.6 431.7h0.7M457.4 416.8h0.7M448.7 432.7h0.7M438.2 410.8h0.7M444.4 432.3h0.7M443.3 431.6h0.7M451.4 412.2h0.7M432.0 428.1h0.7M444.0 435.5h0.7M440.1 434.9h0.7M447.7 407.5h0.7M457.5 416.2h0.7M437.8 411.8h0.7M432.8 426.7h0.7M447.9 433.8h0.7M430.9 416.4h0.7M459.1 419.4h0.7M445.6 410.6h0.7M457.5 426.4h0.7M439.6 432.5h0.7M449.1 411.8h0.7M447.9 433.8h0.7M459.9 416.1h0.7M460.6 419.0h0.7M457.6 415.3h0.7M447.5 411.2h0.7M435.9 428.5h0.7M438.2 432.8h0.7M431.5 420.3h0.7M456.2 428.0h0.7M460.0 422.4h0.7M430.4 419.8h0.7M434.4 413.8h0.7M445.0 432.4h0.7M431.4 420.5h0.7M452.8 435.4h0.7M437.4 429.9h0.7M446.3 432.8h0.7M428.5 420.9h0.7M441.1 433.2h0.7M453.3 431.6h0.7M431.7 423.8h0.7M447.3 433.4h0.7M446.6 409.8h0.7M453.0 430.2h0.7M458.4 422.9h0.7M442.4 431.3h0.7M434.0 427.9h0.7M452.5 412.8h0.7M442.9 411.1h0.7M453.3 412.5h0.7M441.8 411.7h0.7M458.4 415.8h0.7M458.2 415.2h0.7M447.8 409.2h0.7M440.1 409.8h0.7M445.8 410.7h0.7M433.9 429.5h0.7M435.7 430.9h0.7M456.8 429.2h0.7M443.4 431.8h0.7M457.1 427.7h0.7M439.1 410.6h0.7M452.7 411.4h0.7M458.6 423.1h0.7M446.7 432.5h0.7M452.1 407.4h0.7M452.0 433.6h0.7M451.4 432.1h0.7M456.7 432.0h0.7M437.0 413.6h0.7M458.4 418.1h0.7M456.3 412.2h0.7M456.5 427.3h0.7M435.6 429.3h0.7M431.7 415.1h0.7M453.6 411.7h0.7M436.2 431.1h0.7M458.4 423.1h0.7M460.1 428.2h0.7M442.8 435.3h0.7M459.9 416.9h0.7M447.2 410.2h0.7M462.9 418.9h0.7M445.2 431.5h0.7M456.7 426.8h0.7M436.5 411.3h0.7M440.6 411.6h0.7M441.0 430.9h0.7M452.9 431.2h0.7M444.9 432.0h0.7M440.9 434.4h0.7M440.6 411.1h0.7M444.8 432.4h0.7M451.8 412.5h0.7M457.4 427.0h0.7M432.8 415.2h0.7M456.8 430.5h0.7" stroke="#1a1a1a" stroke-opacity="0.7" stroke-width="0.7" fill="none"/>
<path d="M395.5 430.6h0.7M403.5 426.1h0.7M394.4 417.1h0.7M394.1 416.3h0.7M397.2 433.2h0.7M400.2 430.4h0.7M396.9 431.7h0.7M397.1 432.3h0.7M395.1 430.1h0.7M402.9 425.7h0.7M401.6 417.7h0.7M393.0 420.5h0.7M402.9 422.8h0.7M398.0 413.7h0.7M400.7 416.4h0.7M402.4 427.6h0.7M400.8 432.9h0.7M393.8 417.8h0.7M395.7 413.2h0.7M398.4 414.1h0.7M400.1 414.6h0.7M393.0 419.4h0.7M401.7 428.7h0.7M396.1 412.7h0.7M403.9 428.9h0.7M393.5 421.5h0.7M395.9 412.8h0.7M393.7 416.0h0.7M399.4 431.7h0.7M403.2 420.3h0.7M398.0 431.8h0.7M403.0 426.9h0.7M394.4 418.1h0.7M402.7 422.3h0.7M394.9 417.1h0.7M398.7 431.2h0.7M395.6 414.8h0.7M399.6 414.8h0.7M401.2 416.6h0.7M402.5 415.1h0.7M394.3 417.6h0.7M399.6 431.6h0.7M393.2 422.7h0.7M399.4 431.9h0.7M393.3 423.8h0.7M393.3 420.9h0.7M393.0 415.7h0.7M402.7 418.7h0.7M394.0 427.5h0.7M393.2 423.1h0.7M401.7 429.2h0.7M392.7 422.0h0.7M394.3 418.0h0.7M399.7 432.4h0.7M393.4 417.9h0.7M394.7 430.3h0.7M395.2 416.3h0.7M393.4 420.5h0.7M395.9 413.0h0.7M397.0 434.4h0.7M393.5 419.4h0.7M398.4 431.7h0.7M404.5 425.3h0.7M401.2 415.3h0.7M396.1 430.3h0.7M393.0 419.7h0.7M393.2 426.3h0.7M401.9 418.0h0.7M402.0 418.1h0.7M394.4 414.6h0.7M402.8 426.4h0.7M393.7 419.7h0.7M400.9 413.3h0.7M396.2 413.8h0.7M403.8 424.5h0.7M398.5 431.9h0.7M398.8 434.3h0.7M401.8 428.5h0.7M403.3 422.1h0.7M395.7 413.5h0.7M393.8 417.1h0.7M399.6 415.0h0.7M396.0 431.3h0.7M395.9 415.1h0.7M399.8 413.2h0.7M392.4 423.1h0.7M395.6 430.8h0.7M402.6 420.7h0.7M397.8 414.0h0.7M403.7 424.7h0.7M401.6 427.8h0.7M402.8 426.2h0.7M392.8 419.3h0.7M398.3 414.9h0.7M400.9 429.1h0.7M402.4 425.3h0.7M403.4 428.1h0.7M400.0 433.2h0.7M403.6 424.1h0.7M399.1 415.1h0.7M393.9 419.1h0.7M395.8 414.6h0.7M392.6 427.8h0.7M391.0 424.0h0.7M403.8 418.7h0.7M401.5 430.9h0.7M401.4 429.7h0.7M404.2 428.4h0.7M401.6 418.1h0.7M400.4 413.7h0.7M393.6 420.1h0.7M398.9 414.9h0.7M394.0 419.3h0.7M393.5 425.6h0.7M401.7 428.3h0.7M402.3 425.5h0.7M396.9 413.5h0.7M401.1 429.7h0.7M396.7 430.9h0.7M398.3 432.4h0.7M402.0 419.1h0.7M400.4 432.0h0.7M399.6 432.1h0.7M399.7 413.9h0.7M402.9 424.1h0.7" stroke="#1a1a1a" stroke-opacity="0.7" stroke-width="0.7" fill="none"/>
<path d="M408.2 395.3h0.7M406.2 394.0h0.7M395.6 407.2h0.7M394.2 391.8h0.7M395.8 391.6h0.7M406.1 389.3h0.7M395.1 408.8h0.7M394.2 403.7h0.7M407.3 400.0h0.7M401.0 413.2h0.7M394.2 403.8h0.7M394.4 401.0h0.7M407.1 389.6h0.7M407.0 403.2h0.7M404.1 409.8h0.7M394.6 394.5h0.7M394.0 400.2h0.7M407.4 394.4h0.7M407.6 404.2h0.7M398.5 411.3h0.7M403.0 389.0h0.7M401.9 386.8h0.7M395.1 409.9h0.7M407.5 401.2h0.7M407.5 392.3h0.7M398.5 414.9h0.7M395.0 405.1h0.7M396.6 391.8h0.7M401.0 417.0h0.7M404.0 411.9h0.7M403.2 389.5h0.7M405.7 387.2h0.7M395.8 405.8h0.7M404.8 390.5h0.7M410.4 394.7h0.7M396.0 406.8h0.7M407.2 395.8h0.7M401.4 388.9h0.7M398.4 412.8h0.7M407.3 398.1h0.7M394.8 389.9h0.7M405.2 390.3h0.7M394.8 400.9h0.7M401.5 415.2h0.7M399.2 411.3h0.7M395.8 406.1h0.7M394.6 400.5h0.7M394.8 394.8h0.7M397.4 410.4h0.7M399.2 386.3h0.7M404.9 387.7h0.7M394.1 402.2h0.7M402.4 411.5h0.7M399.6 413.2h0.7M403.3 386.5h0.7M402.4 388.0h0.7M405.7 409.7h0.7M399.0 389.6h0.7M394.9 395.0h0.7M398.4 385.6h0.7M395.8 405.6h0.7M408.9 410.3h0.7M397.9 385.8h0.7M408.7 393.2h0.7M406.6 407.5h0.7M393.2 398.0h0.7M399.7 387.0h0.7M402.8 414.4h0.7M407.6 401.1h0.7M394.1 394.2h0.7M396.7 391.0h0.7M408.8 392.3h0.7M401.2 388.6h0.7M395.1 394.1h0.7M401.9 388.8h0.7M409.1 404.8h0.7M406.4 406.2h0.7M400.9 413.6h0.7M394.3 406.9h0.7M393.6 391.9h0.7M397.4 391.1h0.7M408.0 403.2h0.7M405.8 410.7h0.7M396.5 407.5h0.7M399.6 412.8h0.7M402.0 412.0h0.7M402.3 414.7h0.7M403.4 411.0h0.7M405.2 390.2h0.7M408.4 397.3h0.7M402.8 387.3h0.7M397.6 389.5h0.7M405.8 407.4h0.7M395.1 404.6h0.7M393.4 397.7h0.7M398.7 413.7h0.7M394.2 396.8h0.7M407.6 395.2h0.7M407.6 398.7h0.7M404.3 387.9h0.7M402.3 388.2h0.7M394.1 403.0h0.7M406.4 407.7h0.7M394.7 393.5h0.7M394.2 405.7h0.7M394.9 393.8h0.7M401.3 387.6h0.7M406.6 406.0h0.7M408.2 396.0h0.7M392.9 399.6h0.7M402.2 411.5h0.7M395.5 406.1h0.7M404.9 390.8h0.7M393.8 398.6h0.7M397.6 389.9h0.7M394.9 397.2h0.7M393.6 397.5h0.7M393.4 408.1h0.7M407.6 396.5h0.7M406.1 388.8h0.7M398.8 387.5h0.7M402.4 389.2h0.7M407.8 399.4h0.7M393.7 401.5h0.7M395.5 391.6h0.7M394.6 394.2h0.7M405.5 392.7h0.7M401.9 413.1h0.7M397.4 386.8h0.7M394.4 393.0h0.7M402.1 384.5h0.7M399.4 388.1h0.7M402.0 411.8h0.7M395.2 395.1h0.7M394.3 398.3h0.7M396.2 391.8h0.7M394.6 403.0h0.7M404.8 388.9h0.7M396.7 408.3h0.7M409.6 394.9h0.7M395.4 392.6h0.7M400.1 386.5h0.7M407.7 395.1h0.7M401.4 386.8h0.7M407.1 406.8h0.7M404.4 409.8h0.7M393.9 405.8h0.7M402.4 388.6h0.7M401.0 387.2h0.7M396.2 389.7h0.7M399.4 389.3h0.7M405.7 391.3h0.7M394.1 408.8h0.7M395.5 410.9h0.7M393.7 401.9h0.7M395.1 395.5h0.7M401.4 386.1h0.7M399.3 386.7h0.7M406.9 387.7h0.7M404.0 412.5h0.7M398.1 413.8h0.7M405.8 392.9h0.7M394.3 394.5h0.7M402.5 412.2h0.7M395.0 402.4h0.7M395.1 406.3h0.7M395.1 403.8h0.7M404.0 388.2h0.7" stroke="#1a1a1a" stroke-opacity="0.7" stroke-width="0.7" fill="none"/>
<path d="M438.7 374.4h0.7M397.9 407.4h0.7M407.9 420.0h0.7M401.9 415.2h0.7M444.0 391.2h0.7M431.2 408.7h0.7M402.6 405.7h0.7M417.7 425.7h0.7M410.3 394.7h0.7M425.2 412.5h0.7M418.9 417.1h0.7M410.7 421.0h0.7M439.7 391.8h0.7M410.6 394.6h0.7M435.2 376.9h0.7M425.3 378.7h0.7M407.5 398.5h0.7M428.9 407.8h0.7M403.5 405.8h0.7M412.8 393.4h0.7M400.1 424.4h0.7M435.7 400.6h0.7M425.4 416.4h0.7M413.4 387.4h0.7M439.9 375.9h0.7M441.0 379.9h0.7M420.0 385.9h0.7M446.4 381.5h0.7M407.4 399.9h0.7M416.4 419.2h0.7M401.3 417.2h0.7M423.6 415.3h0.7M407.1 421.9h0.7M442.6 379.3h0.7M437.8 365.8h0.7M437.4 372.2h0.7M442.7 378.0h0.7M441.4 387.7h0.7M429.3 407.9h0.7M441.0 379.7h0.7M404.9 419.6h0.7M443.5 382.7h0.7M399.4 418.5h0.7M408.1 400.2h0.7M406.3 420.4h0.7M411.3 395.0h0.7M420.3 419.2h0.7M402.1 410.9h0.7M401.9 425.4h0.7M405.2 422.8h0.7M436.5 397.8h0.7M406.2 424.3h0.7M427.0 410.1h0.7M434.3 401.0h0.7M406.0 398.8h0.7M439.7 395.1h0.7M442.5 382.6h0.7M440.7 385.9h0.7M444.5 381.7h0.7M413.6 422.3h0.7M404.7 406.3h0.7M441.6 377.8h0.7M439.7 392.2h0.7M415.7 419.6h0.7M437.9 397.5h0.7M439.2 391.7h0.7M409.6 421.1h0.7M417.9 419.4h0.7M410.9 420.5h0.7M412.0 390.4h0.7M439.6 392.8h0.7M439.0 377.1h0.7M426.5 377.1h0.7M439.7 377.3h0.7M433.5 409.1h0.7M428.6 379.8h0.7M405.5 402.7h0.7M398.5 413.3h0.7M440.4 376.4h0.7M439.0 391.5h0.7M443.0 385.1h0.7M411.0 426.2h0.7M415.8 420.5h0.7M408.9 420.2h0.7M418.1 384.7h0.7M421.0 384.1h0.7M403.0 418.6h0.7M440.1 395.5h0.7M405.7 403.0h0.7M400.7 411.0h0.7M402.4 413.1h0.7M431.1 410.9h0.7M441.1 385.8h0.7M436.8 372.2h0.7M440.5 381.7h0.7M402.6 408.8h0.7M403.6 404.2h0.7M403.1 414.2h0.7M402.6 409.0h0.7M403.1 408.3h0.7M437.9 396.3h0.7M432.6 405.8h0.7M400.5 415.2h0.7M411.7 389.4h0.7M425.9 378.4h0.7M441.1 388.4h0.7M414.3 391.8h0.7M443.0 379.2h0.7M406.5 427.6h0.7M428.0 375.1h0.7M423.6 414.4h0.7M408.6 423.7h0.7M438.2 393.4h0.7M439.0 377.6h0.7M430.8 375.6h0.7M433.1 376.9h0.7M400.1 416.4h0.7M443.7 378.4h0.7M400.0 422.0h0.7M402.9 415.4h0.7M416.5 419.9h0.7M423.5 375.6h0.7M404.4 425.1h0.7M407.9 424.3h0.7M408.1 399.4h0.7M433.3 405.6h0.7M446.8 380.9h0.7M444.2 382.6h0.7M438.6 377.9h0.7M434.1 405.9h0.7M445.2 365.8h0.7M400.6 412.4h0.7M403.3 405.6h0.7M432.9 376.4h0.7M404.0 408.3h0.7M418.0 419.4h0.7M431.2 407.8h0.7M439.4 375.7h0.7M422.3 383.3h0.7M428.3 409.7h0.7M429.6 408.5h0.7M430.4 407.3h0.7M436.8 374.1h0.7M436.4 373.8h0.7M403.6 405.4h0.7M412.8 420.6h0.7M441.1 392.4h0.7M433.1 402.9h0.7M440.1 395.5h0.7M428.4 409.8h0.7M401.4 416.0h0.7M444.5 378.0h0.7M440.5 386.8h0.7M401.8 413.5h0.7M407.7 396.4h0.7M421.4 381.8h0.7M444.2 384.2h0.7M428.7 379.0h0.7M419.7 418.4h0.7M424.5 412.7h0.7M419.0 421.3h0.7M402.1 417.1h0.7M434.2 371.9h0.7M432.4 376.5h0.7M405.0 403.3h0.7M438.1 394.4h0.7M400.4 421.9h0.7M424.0 378.6h0.7M433.4 370.0h0.7M408.8 394.2h0.7M441.4 389.1h0.7M441.4 385.8h0.7M412.2 419.8h0.7M442.7 376.4h0.7M401.3 424.7h0.7M442.4 377.2h0.7M441.2 367.9h0.7M405.9 404.2h0.7M408.3 422.6h0.7M430.5 406.2h0.7M437.3 396.7h0.7M408.6 398.6h0.7M415.1 418.7h0.7M397.1 423.6h0.7M406.9 402.0h0.7M432.8 405.5h0.7M412.6 419.5h0.7M433.9 375.8h0.7M441.7 381.4h0.7M418.7 384.0h0.7M414.2 419.4h0.7M445.5 382.7h0.7M412.8 422.5h0.7M409.8 424.7h0.7M434.0 376.2h0.7M434.9 373.7h0.7M421.1 415.0h0.7M443.0 389.9h0.7M400.6 422.8h0.7M428.3 375.6h0.7M439.8 378.7h0.7M414.1 391.0h0.7M405.8 404.9h0.7M439.5 379.4h0.7M442.1 378.5h0.7M416.9 418.6h0.7M399.7 410.0h0.7M411.6 419.7h0.7M422.5 419.5h0.7M445.8 378.2h0.7M404.6 401.3h0.7M434.6 373.8h0.7M413.9 421.5h0.7M428.6 412.1h0.7M405.0 405.8h0.7M428.3 409.4h0.7M403.9 408.0h0.7M438.0 393.6h0.7M439.7 371.5h0.7M439.9 371.4h0.7M436.6 378.0h0.7M404.4 395.7h0.7M401.7 411.0h0.7M403.1 420.9h0.7M402.7 422.7h0.7M408.8 397.3h0.7M438.6 376.0h0.7M449.5 379.3h0.7M402.5 405.5h0.7M406.6 426.5h0.7M408.3 422.7h0.7M403.1 420.6h0.7M401.9 417.4h0.7M447.2 375.9h0.7M432.2 405.7h0.7M403.4 422.1h0.7M420.1 382.9h0.7M401.7 402.7h0.7M403.6 417.6h0.7M443.0 390.4h0.7M400.7 421.1h0.7M440.9 382.6h0.7M409.4 397.2h0.7M440.6 380.1h0.7M413.9 389.9h0.7M425.9 379.4h0.7M406.1 420.5h0.7M431.8 403.6h0.7M413.8 423.0h0.7M409.7 394.9h0.7M433.6 406.4h0.7M404.0 402.8h0.7M426.8 379.9h0.7M407.9 398.4h0.7M437.0 366.4h0.7M424.1 415.4h0.7M432.4 403.6h0.7M422.2 383.0h0.7M416.0 382.0h0.7M425.8 380.6h0.7M403.7 408.9h0.7M412.9 392.9h0.7M402.7 413.4h0.7M419.8 382.2h0.7M404.3 406.6h0.7M404.3 424.5h0.7M423.6 414.9h0.7M411.1 392.2h0.7M446.0 388.2h0.7M436.5 377.7h0.7M432.0 374.2h0.7M437.3 375.8h0.7M425.5 417.3h0.7M440.1 394.3h0.7M410.6 423.9h0.7M407.2 397.6h0.7M418.2 425.3h0.7M445.3 380.5h0.7M411.9 393.5h0.7M408.2 421.4h0.7M446.0 385.1h0.7M404.6 422.9h0.7M416.3 388.0h0.7M447.2 380.2h0.7M438.4 400.8h0.7M442.3 378.8h0.7M409.1 423.6h0.7M426.6 376.4h0.7M407.1 420.2h0.7M422.0 384.2h0.7M443.6 375.3h0.7M397.3 428.6h0.7M436.6 398.5h0.7M444.2 378.2h0.7M445.5 384.1h0.7M427.1 409.9h0.7M402.1 408.4h0.7M403.3 421.2h0.7M440.4 399.5h0.7M435.6 376.3h0.7M422.1 413.7h0.7M407.9 424.8h0.7M399.9 416.4h0.7M416.8 419.0h0.7M400.3 411.3h0.7M408.5 396.7h0.7M403.6 416.5h0.7M431.2 377.4h0.7M434.0 404.0h0.7M440.5 390.2h0.7M402.2 426.3h0.7M404.0 400.2h0.7M426.0 378.0h0.7M419.6 418.4h0.7M419.2 417.9h0.7M426.4 377.6h0.7M395.1 424.4h0.7M402.4 409.6h0.7M399.6 422.6h0.7M445.6 391.9h0.7M418.9 420.8h0.7M397.5 417.5h0.7M436.8 404.9h0.7M399.5 408.2h0.7M438.8 393.6h0.7M443.4 381.1h0.7M415.1 390.6h0.7M402.8 398.3h0.7M404.4 401.9h0.7M423.5 379.8h0.7M397.9 425.5h0.7M402.6 406.8h0.7M413.0 419.8h0.7M418.8 385.6h0.7M396.3 423.4h0.7M398.4 419.4h0.7M449.3 378.1h0.7M410.9 393.2h0.7M415.9 389.1h0.7M447.4 370.8h0.7M423.0 417.5h0.7M406.2 424.4h0.7M420.8 418.0h0.7M420.5 420.2h0.7M438.4 397.7h0.7M439.4 394.7h0.7M442.1 385.2h0.7M440.3 379.6h0.7M414.8 421.5h0.7M421.8 383.9h0.7M400.5 419.9h0.7M390.4 421.7h0.7M441.5 376.3h0.7M416.0 420.9h0.7M400.7 419.0h0.7M415.8 418.7h0.7M430.2 375.7h0.7M420.2 382.6h0.7M437.7 374.7h0.7M418.6 416.7h0.7M427.3 409.0h0.7M416.9 420.7h0.7M392.9 419.8h0.7M440.6 381.6h0.7M431.8 405.6h0.7M442.6 389.7h0.7M442.6 385.0h0.7M405.7 401.4h0.7M434.5 377.0h0.7M426.3 413.1h0.7M440.6 390.7h0.7M409.8 424.2h0.7M422.1 384.2h0.7M419.0 385.0h0.7M441.5 370.4h0.7M402.0 417.7h0.7M426.6 412.9h0.7M444.2 373.1h0.7M409.3 420.3h0.7M432.5 376.4h0.7M429.5 379.2h0.7M397.7 417.2h0.7M402.2 402.2h0.7M401.8 411.1h0.7M415.0 387.9h0.7M432.1 374.6h0.7M422.6 383.5h0.7M408.4 422.4h0.7M406.4 398.9h0.7M442.6 385.4h0.7M434.8 403.8h0.7M407.0 423.6h0.7M411.0 392.6h0.7M438.3 373.1h0.7M420.7 414.9h0.7M413.0 422.5h0.7M423.8 378.8h0.7M392.7 421.1h0.7M402.0 427.4h0.7M443.6 382.7h0.7M436.7 399.3h0.7M437.3 396.3h0.7M413.3 419.6h0.7M419.6 381.3h0.7M434.2 377.0h0.7M428.9 378.0h0.7M414.0 420.4h0.7M433.5 375.8h0.7M401.8 417.0h0.7M399.3 414.1h0.7M435.2 376.6h0.7M444.2 380.8h0.7M411.5 425.1h0.7M436.8 399.3h0.7M407.1 421.8h0.7M440.6 387.0h0.7M411.3 420.4h0.7M416.3 422.7h0.7M411.4 422.5h0.7M431.8 375.5h0.7M412.0 421.0h0.7M402.6 420.6h0.7M421.8 382.0h0.7M423.0 376.0h0.7M404.9 422.2h0.7M440.9 384.0h0.7M400.0 418.3h0.7M422.0 382.2h0.7M406.3 401.1h0.7M416.1 388.5h0.7M396.4 426.4h0.7M420.1 385.3h0.7M438.6 375.9h0.7M405.4 422.5h0.7M404.0 421.2h0.7M443.2 370.8h0.7M437.6 374.1h0.7M443.2 377.4h0.7M429.3 378.7h0.7M405.7 405.1h0.7M407.2 420.8h0.7M405.5 401.3h0.7M423.4 378.4h0.7M423.5 412.9h0.7M403.0 416.9h0.7M442.3 379.2h0.7M407.2 395.7h0.7M408.0 426.9h0.7" stroke="#1a1a1a" stroke-opacity="0.7" stroke-width="0.7" fill="none"/>
<ellipse cx="445.5" cy="421.5" rx="13.10" ry="10.60" transform="rotate(0 445.5 421.5)" fill="#fff" stroke="#fff" stroke-width="1.4"/>
<ellipse cx="445.5" cy="421.5" rx="12.50" ry="10.00" transform="rotate(0 445.5 421.5)" fill="#fafafa" stroke="#8a8a8a" stroke-width="0.65"/>
<ellipse cx="445.5" cy="421.5" rx="10.38" ry="8.30" transform="rotate(0 445.5 421.5)" fill="#ededed" stroke="#8a8a8a" stroke-width="0.42"/>
<ellipse cx="445.5" cy="421.5" rx="8.25" ry="6.60" transform="rotate(0 445.5 421.5)" fill="#e0e0e0" stroke="#8a8a8a" stroke-width="0.42"/>
<ellipse cx="445.5" cy="421.5" rx="6.12" ry="4.90" transform="rotate(0 445.5 421.5)" fill="#d3d3d3" stroke="#8a8a8a" stroke-width="0.42"/>
<ellipse cx="445.5" cy="421.5" rx="4.00" ry="3.20" transform="rotate(0 445.5 421.5)" fill="#c6c6c6" stroke="#8a8a8a" stroke-width="0.42"/>
<ellipse cx="398.0" cy="423.0" rx="5.10" ry="8.60" transform="rotate(0 398.0 423.0)" fill="#fff" stroke="#fff" stroke-width="1.4"/>
<ellipse cx="398.0" cy="423.0" rx="4.50" ry="8.00" transform="rotate(0 398.0 423.0)" fill="#fafafa" stroke="#8a8a8a" stroke-width="0.65"/>
<ellipse cx="398.0" cy="423.0" rx="3.73" ry="6.64" transform="rotate(0 398.0 423.0)" fill="#e3e3e3" stroke="#8a8a8a" stroke-width="0.42"/>
<ellipse cx="398.0" cy="423.0" rx="2.97" ry="5.28" transform="rotate(0 398.0 423.0)" fill="#cdcdcd" stroke="#8a8a8a" stroke-width="0.42"/>
<ellipse cx="398.0" cy="423.0" rx="2.21" ry="3.92" transform="rotate(0 398.0 423.0)" fill="#b6b6b6" stroke="#8a8a8a" stroke-width="0.42"/>
<ellipse cx="398.0" cy="423.0" rx="1.44" ry="2.56" transform="rotate(0 398.0 423.0)" fill="#9f9f9f" stroke="#8a8a8a" stroke-width="0.42"/>
<ellipse cx="401.0" cy="400.0" rx="6.60" ry="11.60" transform="rotate(0 401.0 400.0)" fill="#fff" stroke="#fff" stroke-width="1.4"/>
<ellipse cx="401.0" cy="400.0" rx="6.00" ry="11.00" transform="rotate(0 401.0 400.0)" fill="#fafafa" stroke="#333" stroke-width="0.65"/>
<ellipse cx="401.0" cy="400.0" rx="4.30" ry="7.88" transform="rotate(0 401.0 400.0)" fill="#f1f1f1" stroke="#333" stroke-width="0.42"/>
<ellipse cx="401.0" cy="400.0" rx="2.60" ry="4.77" transform="rotate(0 401.0 400.0)" fill="#e8e8e8" stroke="#333" stroke-width="0.42"/>
<ellipse cx="422.0" cy="399.0" rx="11.10" ry="26.60" transform="rotate(40 422.0 399.0)" fill="#fff" stroke="#fff" stroke-width="1.4"/>
<ellipse cx="422.0" cy="399.0" rx="10.50" ry="26.00" transform="rotate(40 422.0 399.0)" fill="#fafafa" stroke="#8a8a8a" stroke-width="0.65"/>
<ellipse cx="422.0" cy="399.0" rx="8.71" ry="21.58" transform="rotate(40 422.0 399.0)" fill="#e1e1e1" stroke="#8a8a8a" stroke-width="0.42"/>
<ellipse cx="422.0" cy="399.0" rx="6.93" ry="17.16" transform="rotate(40 422.0 399.0)" fill="#c8c8c8" stroke="#8a8a8a" stroke-width="0.42"/>
<ellipse cx="422.0" cy="399.0" rx="5.14" ry="12.74" transform="rotate(40 422.0 399.0)" fill="#afafaf" stroke="#8a8a8a" stroke-width="0.42"/>
<ellipse cx="422.0" cy="399.0" rx="3.36" ry="8.32" transform="rotate(40 422.0 399.0)" fill="#969696" stroke="#8a8a8a" stroke-width="0.42"/>
</g>
<line x1="411.00" y1="355.00" x2="411.00" y2="443.50" stroke="#8a8a8a" stroke-width="0.8" />
<line x1="378.00" y1="409.30" x2="465.20" y2="409.30" stroke="#8a8a8a" stroke-width="0.8" />
<text x="400.5" y="366.0" font-size="10.3" font-weight="bold" text-anchor="middle" >3.5</text>
<text x="440.5" y="366.0" font-size="10.3" font-weight="bold" text-anchor="middle" >76</text>
<rect x="65.00" y="502.50" width="88.25" height="88.00" fill="none" stroke="#6a6a6a" stroke-width="0.9"/>
<line x1="63.80" y1="505.50" x2="63.80" y2="588.50" stroke="#999" stroke-width="1.2" stroke-dasharray="0.6 2.4"/>
<line x1="68.00" y1="591.70" x2="151.25" y2="591.70" stroke="#999" stroke-width="1.2" stroke-dasharray="0.6 2.4"/>
<text x="61.5" y="513.7" font-size="4.2" fill="#555" text-anchor="end">10<tspan dy="-2" font-size="3">5</tspan></text>
<rect x="62.8" y="511.6" width="1.6" height="1.2" fill="#333"/>
<text x="61.5" y="535.7" font-size="4.2" fill="#555" text-anchor="end">10<tspan dy="-2" font-size="3">4</tspan></text>
<rect x="62.8" y="533.6" width="1.6" height="1.2" fill="#333"/>
<text x="61.5" y="558.6" font-size="4.2" fill="#555" text-anchor="end">10<tspan dy="-2" font-size="3">3</tspan></text>
<rect x="62.8" y="556.5" width="1.6" height="1.2" fill="#333"/>
<text x="61.5" y="574.4" font-size="4.2" fill="#555" text-anchor="end">0</text>
<rect x="62.8" y="572.3" width="1.6" height="1.2" fill="#333"/>
<text x="81.8" y="601.0" font-size="4.2" fill="#555" text-anchor="middle">0</text>
<text x="99.4" y="601.0" font-size="4.2" fill="#555" text-anchor="middle">10<tspan dy="-2" font-size="3">3</tspan></text>
<text x="123.2" y="601.0" font-size="4.2" fill="#555" text-anchor="middle">10<tspan dy="-2" font-size="3">4</tspan></text>
<text x="144.4" y="601.0" font-size="4.2" fill="#555" text-anchor="middle">10<tspan dy="-2" font-size="3">5</tspan></text>
<rect x="81.0" y="591.3" width="1.6" height="1.6" fill="#222"/>
<clipPath id="cp9"><rect x="65.50" y="503.00" width="87.25" height="87.00"/></clipPath><g clip-path="url(#cp9)">
<path d="M101.6 559.2h0.7M128.2 563.8h0.7M121.5 562.1h0.7M121.4 570.1h0.7M115.2 548.3h0.7M111.1 567.4h0.7M123.0 577.4h0.7M96.4 551.3h0.7M129.8 554.0h0.7M121.3 567.4h0.7M114.1 539.1h0.7M109.1 529.9h0.7M107.0 555.2h0.7M112.1 550.6h0.7M107.2 542.2h0.7M130.1 571.9h0.7M109.5 578.9h0.7M109.7 571.1h0.7M116.9 559.8h0.7M125.7 545.1h0.7M128.0 562.1h0.7M112.4 562.8h0.7M103.3 563.5h0.7M125.8 563.1h0.7M108.2 561.1h0.7M110.6 554.8h0.7M128.1 563.5h0.7M128.3 559.0h0.7M130.3 576.3h0.7M101.2 538.1h0.7M126.9 555.6h0.7M114.1 563.5h0.7M115.3 561.8h0.7M120.4 574.3h0.7M114.5 559.6h0.7M106.6 580.4h0.7M108.4 551.6h0.7M116.7 561.1h0.7M113.9 566.4h0.7M116.0 556.3h0.7M96.5 561.5h0.7M115.3 554.5h0.7M114.7 560.4h0.7M124.2 567.9h0.7M114.8 567.5h0.7M107.6 551.9h0.7M124.0 562.1h0.7M125.6 581.1h0.7M117.3 568.3h0.7M101.3 544.3h0.7M105.9 562.7h0.7M98.7 559.3h0.7M114.5 553.9h0.7M114.9 580.0h0.7M131.3 563.2h0.7M114.1 550.5h0.7M88.2 571.1h0.7M114.6 569.6h0.7M107.5 561.2h0.7M93.7 565.2h0.7M111.1 564.8h0.7M111.4 551.7h0.7M120.9 571.2h0.7M108.6 579.3h0.7M122.3 563.6h0.7M109.8 549.5h0.7M112.3 561.0h0.7M119.0 552.8h0.7M101.3 521.9h0.7M123.0 572.9h0.7M112.5 585.6h0.7M127.2 571.9h0.7M101.8 575.2h0.7M123.3 583.9h0.7M123.3 572.2h0.7M121.2 559.2h0.7M124.4 545.9h0.7M116.6 559.5h0.7M115.5 552.0h0.7M130.8 582.9h0.7M106.5 541.7h0.7M113.0 556.8h0.7M122.3 564.9h0.7M107.0 562.3h0.7M106.7 558.8h0.7M110.8 547.7h0.7M132.7 561.0h0.7M112.3 557.6h0.7M106.5 558.3h0.7M115.2 553.7h0.7M104.1 556.2h0.7M111.7 560.7h0.7M106.5 560.1h0.7M118.5 552.7h0.7M109.9 567.3h0.7M121.1 578.1h0.7M115.3 570.9h0.7M118.3 582.2h0.7M113.7 581.9h0.7M98.4 555.1h0.7M122.6 555.5h0.7M111.8 578.3h0.7M127.9 567.9h0.7M115.4 563.8h0.7M117.8 549.6h0.7M118.1 545.3h0.7M118.6 559.1h0.7M105.2 572.2h0.7M124.4 571.3h0.7M118.9 579.6h0.7M128.6 558.6h0.7M99.1 555.9h0.7M109.7 550.6h0.7M119.3 583.0h0.7M107.3 556.6h0.7M112.3 548.7h0.7M120.9 548.2h0.7M103.9 549.7h0.7M115.4 553.9h0.7M115.6 557.9h0.7M129.8 568.4h0.7M94.4 541.3h0.7M120.1 559.0h0.7M108.3 568.5h0.7M115.2 556.0h0.7M101.3 554.8h0.7M116.7 567.6h0.7M113.5 582.8h0.7M102.0 549.7h0.7M101.8 580.4h0.7M98.3 549.6h0.7M120.1 552.0h0.7M116.6 559.1h0.7M127.6 582.9h0.7M116.7 568.2h0.7M116.0 521.2h0.7M123.1 563.9h0.7M123.8 575.6h0.7M106.3 534.7h0.7M100.6 552.2h0.7M117.1 550.5h0.7M124.7 584.5h0.7M111.8 548.3h0.7M114.0 554.7h0.7M116.3 557.7h0.7M118.2 587.1h0.7M108.7 573.9h0.7M116.9 564.5h0.7M103.4 550.7h0.7M116.3 554.1h0.7M109.8 561.3h0.7M97.8 532.6h0.7M116.0 559.6h0.7M106.4 569.5h0.7M132.2 544.3h0.7M101.0 556.8h0.7M107.6 557.2h0.7M120.0 578.7h0.7M120.7 559.6h0.7M99.1 555.4h0.7M99.8 541.8h0.7M120.1 559.2h0.7M121.4 570.8h0.7M115.7 557.0h0.7M90.6 557.9h0.7M118.1 558.5h0.7M115.9 557.0h0.7M124.9 557.7h0.7M123.5 549.3h0.7M105.2 566.6h0.7M111.7 565.1h0.7M116.1 578.6h0.7M104.2 550.4h0.7M109.3 566.4h0.7M103.5 543.9h0.7M107.4 537.7h0.7M113.3 545.6h0.7M113.5 569.4h0.7M106.9 553.6h0.7M121.1 581.3h0.7M107.0 579.7h0.7M92.2 549.1h0.7M115.7 562.1h0.7M126.0 560.3h0.7M113.5 560.3h0.7M118.4 560.2h0.7M113.5 578.7h0.7M106.0 589.2h0.7M111.6 554.3h0.7M115.9 537.5h0.7M103.2 561.3h0.7M110.3 562.9h0.7M119.5 553.5h0.7M117.8 552.6h0.7M113.9 549.9h0.7M121.2 569.9h0.7M113.1 557.2h0.7M102.6 537.3h0.7M100.9 549.4h0.7M115.0 553.7h0.7M98.0 552.6h0.7M105.6 537.3h0.7M121.9 570.3h0.7M107.0 543.5h0.7M119.0 551.7h0.7M123.8 579.4h0.7M105.0 552.6h0.7M97.1 534.1h0.7M119.5 567.6h0.7M112.8 569.1h0.7M102.4 551.1h0.7M115.2 552.8h0.7M114.1 534.0h0.7M110.2 561.5h0.7M111.9 571.0h0.7M125.2 559.0h0.7M114.6 549.4h0.7M119.1 554.1h0.7M131.3 534.7h0.7M105.9 550.6h0.7M112.9 569.2h0.7M112.2 558.5h0.7M125.4 547.0h0.7M114.1 555.7h0.7M122.7 576.4h0.7M106.2 543.1h0.7M121.1 559.7h0.7M115.1 553.5h0.7M111.1 566.7h0.7M112.5 568.3h0.7M116.2 567.7h0.7M106.4 564.9h0.7M97.3 577.0h0.7M108.6 572.9h0.7M103.6 567.0h0.7M131.1 562.0h0.7M102.2 561.5h0.7M119.6 559.7h0.7M106.5 559.4h0.7M127.3 569.0h0.7M104.6 542.2h0.7M114.4 537.5h0.7M119.1 552.4h0.7M93.1 585.1h0.7M127.4 552.0h0.7M133.5 578.2h0.7M127.7 560.3h0.7M114.0 566.2h0.7M124.5 580.4h0.7M125.3 564.9h0.7M96.6 548.8h0.7M109.5 583.6h0.7M109.5 562.6h0.7M122.3 568.7h0.7M121.1 557.6h0.7M134.0 544.4h0.7M113.2 532.4h0.7M119.1 573.7h0.7M119.3 569.8h0.7M115.0 560.4h0.7M128.5 563.5h0.7M102.2 553.7h0.7M119.8 570.1h0.7M121.5 561.0h0.7M110.4 580.0h0.7M118.0 557.5h0.7M119.4 562.0h0.7M121.0 584.4h0.7M116.3 545.3h0.7M113.2 550.7h0.7M109.0 561.3h0.7M122.5 543.5h0.7M95.4 569.5h0.7M98.1 532.7h0.7M104.7 548.4h0.7M105.8 555.4h0.7M121.7 577.2h0.7M109.5 561.7h0.7M110.8 563.9h0.7M124.2 566.5h0.7M124.5 563.4h0.7M115.0 537.9h0.7M112.4 556.6h0.7M120.1 552.9h0.7M106.2 569.7h0.7M108.2 552.9h0.7M101.3 541.6h0.7M123.8 565.5h0.7M115.3 578.4h0.7M117.0 555.5h0.7M105.1 574.4h0.7M103.9 563.3h0.7M120.4 556.8h0.7M120.1 555.7h0.7M109.9 543.9h0.7M109.9 559.9h0.7M106.5 561.4h0.7M106.0 552.5h0.7M103.1 555.6h0.7M119.6 561.3h0.7M133.8 560.0h0.7M99.8 551.2h0.7M122.1 574.4h0.7M123.4 580.1h0.7M116.4 554.7h0.7M115.9 559.9h0.7M106.8 566.5h0.7M121.9 567.7h0.7M111.6 551.6h0.7M102.7 571.5h0.7M117.6 555.4h0.7M123.4 547.1h0.7M103.4 558.7h0.7M116.6 572.7h0.7M121.2 552.8h0.7M114.1 558.4h0.7M104.2 557.5h0.7M108.1 562.9h0.7M112.9 577.7h0.7M109.3 564.1h0.7M113.1 555.6h0.7M108.7 554.8h0.7M120.0 566.8h0.7M99.9 540.8h0.7M122.0 559.4h0.7M126.8 562.8h0.7M120.2 566.6h0.7M104.6 552.9h0.7M125.7 549.5h0.7M118.1 547.0h0.7M118.1 558.4h0.7M114.2 546.2h0.7M116.1 557.2h0.7M106.5 561.6h0.7M118.2 552.6h0.7M141.4 570.9h0.7M112.2 553.6h0.7M142.0 564.5h0.7M109.6 545.8h0.7M127.2 585.5h0.7M112.7 569.3h0.7M108.2 555.8h0.7M121.6 535.8h0.7M110.3 543.7h0.7M108.8 551.7h0.7M99.3 564.6h0.7M116.6 563.6h0.7M135.9 565.1h0.7M106.7 552.4h0.7M109.7 549.0h0.7M106.7 559.0h0.7M113.2 554.8h0.7M118.8 542.5h0.7M119.3 547.3h0.7M125.5 547.5h0.7M116.2 571.1h0.7M116.3 571.3h0.7M123.8 583.4h0.7M102.1 541.5h0.7M110.1 559.2h0.7M92.7 550.1h0.7M129.3 555.4h0.7M102.2 566.5h0.7M120.6 585.5h0.7M123.3 550.5h0.7M125.7 568.8h0.7M112.1 573.3h0.7M130.7 580.2h0.7M125.6 562.5h0.7M113.6 550.9h0.7M107.1 568.8h0.7M115.0 544.9h0.7M127.9 567.8h0.7M107.8 548.2h0.7M99.3 554.1h0.7M104.0 559.7h0.7M121.0 558.0h0.7M102.7 555.7h0.7M108.1 569.5h0.7M109.4 555.4h0.7M108.6 557.6h0.7M105.4 553.5h0.7M114.7 568.1h0.7M119.6 544.1h0.7M119.7 552.6h0.7M115.7 570.3h0.7M105.3 562.5h0.7M120.4 569.1h0.7M109.6 545.2h0.7M102.8 555.6h0.7M117.2 552.5h0.7M109.5 581.2h0.7M100.2 560.5h0.7M117.3 542.6h0.7M126.9 583.3h0.7M97.9 545.5h0.7M114.2 569.6h0.7M121.8 572.8h0.7M103.4 577.3h0.7M96.8 572.4h0.7M123.4 578.7h0.7M125.0 566.4h0.7M106.3 549.2h0.7M113.7 542.8h0.7M123.3 560.9h0.7M129.4 556.0h0.7M120.1 576.9h0.7M99.4 567.1h0.7M91.5 556.2h0.7M126.3 543.9h0.7M116.6 570.0h0.7M119.1 570.5h0.7M132.4 549.8h0.7M123.2 557.9h0.7M128.3 560.3h0.7M119.2 552.2h0.7M117.5 562.5h0.7M132.9 567.9h0.7M107.7 572.3h0.7M105.0 542.6h0.7M118.6 546.7h0.7M117.8 552.9h0.7M116.3 554.2h0.7M115.6 554.5h0.7M130.0 567.8h0.7M119.8 576.1h0.7M119.3 572.1h0.7M97.9 556.2h0.7M98.0 576.5h0.7M119.2 585.1h0.7M110.8 554.4h0.7M142.3 568.4h0.7M102.7 563.8h0.7M92.9 541.6h0.7M124.2 578.7h0.7M115.2 566.6h0.7M116.7 582.6h0.7M119.9 581.1h0.7M138.1 560.4h0.7M123.4 570.9h0.7M123.5 571.1h0.7M128.7 561.1h0.7M112.6 562.4h0.7M110.9 563.6h0.7M112.7 564.4h0.7M109.5 579.5h0.7M111.3 559.7h0.7M116.5 553.5h0.7M118.0 546.8h0.7M137.5 587.3h0.7M116.7 567.9h0.7M112.6 550.3h0.7M119.9 555.4h0.7M116.6 547.1h0.7M130.3 556.0h0.7M99.7 556.6h0.7M112.1 568.4h0.7M128.2 554.3h0.7M111.0 548.1h0.7M109.3 566.0h0.7M113.2 547.6h0.7M96.5 560.2h0.7M113.7 551.3h0.7M106.4 545.7h0.7M114.8 553.0h0.7M129.8 578.3h0.7M117.5 556.4h0.7M134.1 536.0h0.7M102.8 555.4h0.7M118.1 570.1h0.7M102.1 560.1h0.7M117.9 571.3h0.7M126.2 561.3h0.7M115.4 550.8h0.7M137.7 562.6h0.7M124.5 569.9h0.7M115.6 569.6h0.7M99.5 555.4h0.7M108.6 555.7h0.7M126.2 539.1h0.7M101.2 543.4h0.7M112.1 557.6h0.7M109.6 569.6h0.7M84.2 538.3h0.7M104.1 562.2h0.7M110.3 547.2h0.7M115.6 580.6h0.7M108.6 556.6h0.7M106.7 555.6h0.7M111.6 555.3h0.7M117.9 556.1h0.7M100.6 578.9h0.7M113.6 562.3h0.7M101.0 564.1h0.7M108.2 561.8h0.7M104.0 554.8h0.7M106.8 562.2h0.7M109.6 568.9h0.7M106.1 557.6h0.7M98.1 543.9h0.7M112.8 545.1h0.7M127.4 555.3h0.7M122.3 563.5h0.7M116.7 557.9h0.7M111.9 556.4h0.7M120.8 556.5h0.7M103.2 560.8h0.7M93.7 553.4h0.7M112.3 556.9h0.7M98.5 535.7h0.7M112.2 546.0h0.7M113.2 567.0h0.7M113.4 552.9h0.7M105.6 556.7h0.7M121.6 576.7h0.7M108.1 569.0h0.7M111.6 545.6h0.7M133.0 553.9h0.7M135.0 571.7h0.7M107.0 572.2h0.7M128.4 548.2h0.7M103.4 554.4h0.7M99.9 574.2h0.7M130.9 581.2h0.7M114.6 569.4h0.7M119.2 539.8h0.7M109.6 576.7h0.7M97.5 532.7h0.7M123.0 570.3h0.7M119.4 557.4h0.7M107.6 563.3h0.7M127.7 554.3h0.7M111.9 564.7h0.7M101.6 571.1h0.7M112.2 581.9h0.7M109.8 552.5h0.7M118.2 565.9h0.7M106.7 544.1h0.7M118.1 543.4h0.7M122.7 558.5h0.7M109.4 573.5h0.7M105.5 541.8h0.7M115.5 568.3h0.7M131.3 561.3h0.7M96.4 548.8h0.7M117.2 555.0h0.7M111.0 551.1h0.7M115.6 558.1h0.7M120.5 569.5h0.7M115.2 577.2h0.7M116.8 563.5h0.7M111.1 565.5h0.7M112.3 554.2h0.7M131.0 556.1h0.7M135.7 576.4h0.7M112.4 548.3h0.7M109.3 564.1h0.7M125.4 556.6h0.7M123.6 562.2h0.7M114.2 537.0h0.7M105.7 557.2h0.7M125.6 549.7h0.7M116.8 567.0h0.7M110.5 573.7h0.7M100.8 537.3h0.7M118.9 542.2h0.7M110.5 565.7h0.7M118.8 569.2h0.7M120.2 562.9h0.7M131.5 574.7h0.7M111.0 576.1h0.7M130.4 557.2h0.7M98.2 534.2h0.7M91.8 555.4h0.7M95.5 559.9h0.7M135.5 553.8h0.7M118.4 563.4h0.7M109.8 545.1h0.7M102.6 555.2h0.7M87.3 539.4h0.7M117.4 551.7h0.7M116.5 551.0h0.7M111.9 561.5h0.7M105.2 576.5h0.7M113.6 557.8h0.7M112.1 560.2h0.7M103.9 532.0h0.7M107.9 564.0h0.7M117.6 567.7h0.7M119.6 545.2h0.7M126.1 547.3h0.7M115.3 574.9h0.7M133.8 572.9h0.7M126.0 553.7h0.7M120.0 564.0h0.7M119.4 574.5h0.7M131.5 564.7h0.7M109.8 556.4h0.7M117.5 556.1h0.7M115.8 559.6h0.7M127.3 545.2h0.7M120.2 573.7h0.7M131.1 549.0h0.7M120.2 557.3h0.7M108.8 554.5h0.7M106.3 560.6h0.7M120.4 557.8h0.7M96.5 566.1h0.7M114.0 558.0h0.7M94.8 535.2h0.7M104.6 562.6h0.7M138.3 575.3h0.7M105.5 566.5h0.7M105.9 556.8h0.7M110.7 554.8h0.7M105.4 540.5h0.7M108.2 553.1h0.7M133.3 573.6h0.7M97.4 551.2h0.7M105.7 558.5h0.7M123.6 559.9h0.7M94.9 563.5h0.7M118.6 554.5h0.7M118.5 568.2h0.7M114.8 560.5h0.7M119.5 542.2h0.7M121.2 564.6h0.7M117.2 541.4h0.7M114.6 555.1h0.7" stroke="#1a1a1a" stroke-opacity="0.6400000000000001" stroke-width="0.7" fill="none"/>
<path d="M99.0 538.0h0.7M100.7 537.9h0.7M83.3 533.1h0.7M95.7 540.9h0.7M78.3 549.4h0.7M85.2 531.1h0.7M89.1 543.5h0.7M98.6 543.1h0.7M88.9 545.4h0.7M84.2 531.3h0.7M78.5 538.8h0.7M75.0 542.1h0.7M90.9 535.0h0.7M102.6 544.4h0.7M84.9 544.1h0.7M98.4 539.1h0.7M97.8 535.3h0.7M93.8 545.4h0.7M101.1 546.4h0.7M91.7 537.8h0.7M100.9 539.0h0.7M104.7 538.6h0.7M91.9 546.1h0.7M90.1 539.4h0.7M84.3 547.5h0.7M82.4 535.1h0.7M97.8 546.0h0.7M101.4 530.7h0.7M97.3 536.3h0.7M90.1 544.0h0.7M95.4 539.3h0.7M95.3 533.0h0.7M100.0 540.7h0.7M88.3 545.1h0.7M91.1 530.5h0.7M95.9 538.1h0.7M93.4 540.6h0.7M80.7 536.9h0.7M100.3 545.8h0.7M93.9 545.6h0.7M104.7 539.3h0.7M88.7 540.1h0.7M100.6 540.0h0.7M121.9 545.6h0.7M95.6 536.4h0.7M118.8 539.7h0.7M98.8 530.4h0.7M99.8 531.7h0.7M96.2 528.2h0.7M101.8 538.7h0.7M94.9 542.7h0.7M107.7 542.0h0.7M95.2 527.3h0.7M91.1 538.2h0.7M82.9 549.0h0.7M89.1 534.1h0.7M86.6 534.7h0.7M99.2 536.2h0.7M108.0 531.9h0.7M88.0 538.7h0.7M85.5 543.1h0.7M102.6 533.0h0.7M91.4 541.1h0.7M104.9 523.7h0.7M95.1 543.0h0.7M102.4 542.6h0.7M90.1 532.5h0.7M93.3 547.0h0.7M75.9 533.9h0.7M89.6 543.0h0.7M92.0 533.6h0.7M103.6 535.1h0.7M105.1 550.8h0.7M116.6 546.8h0.7M107.2 550.6h0.7M102.4 545.1h0.7M104.6 534.0h0.7M102.6 533.4h0.7M115.7 539.1h0.7M92.0 548.4h0.7M95.2 525.7h0.7M98.3 534.2h0.7M90.3 547.9h0.7M103.5 535.5h0.7M119.8 546.8h0.7M79.9 543.6h0.7M106.4 544.1h0.7M109.3 533.6h0.7M108.9 543.4h0.7M96.5 546.5h0.7M87.3 539.1h0.7M96.2 540.6h0.7M103.6 531.4h0.7M95.3 546.6h0.7M107.9 552.7h0.7M95.7 531.6h0.7M102.4 537.6h0.7M86.7 538.5h0.7M74.4 547.6h0.7M83.0 535.2h0.7M109.5 530.6h0.7M98.4 547.6h0.7M99.8 538.3h0.7M107.1 539.9h0.7M88.0 537.5h0.7M111.1 533.5h0.7M104.0 535.6h0.7M108.7 535.3h0.7M86.0 536.8h0.7M102.8 540.7h0.7M77.4 537.9h0.7M103.4 535.1h0.7M108.5 543.1h0.7M94.0 540.8h0.7M88.4 541.6h0.7M80.6 528.0h0.7M99.7 539.8h0.7M107.2 543.0h0.7M103.9 531.8h0.7M99.9 538.8h0.7M90.4 545.0h0.7M98.8 540.6h0.7M102.8 533.6h0.7M82.9 535.0h0.7M80.3 532.7h0.7M95.7 549.0h0.7M104.7 537.4h0.7M99.1 542.8h0.7M97.2 534.2h0.7M116.5 554.3h0.7M90.1 538.5h0.7M101.3 542.5h0.7M100.6 533.9h0.7M89.3 538.8h0.7M113.5 527.9h0.7M94.0 545.3h0.7M86.1 528.2h0.7M109.8 534.9h0.7M99.2 539.5h0.7M106.6 532.5h0.7M87.0 538.2h0.7M97.7 542.1h0.7M83.5 549.3h0.7M96.3 540.4h0.7M83.4 538.9h0.7M104.7 546.6h0.7M90.1 524.8h0.7M94.5 538.2h0.7M100.8 538.5h0.7M82.7 540.1h0.7M120.8 539.6h0.7M91.3 538.2h0.7M91.9 543.4h0.7M104.9 541.7h0.7M92.0 548.2h0.7M104.1 544.7h0.7M102.3 541.7h0.7M88.8 537.6h0.7M94.7 539.0h0.7M101.5 538.5h0.7M104.3 544.2h0.7M111.3 538.1h0.7M92.1 538.3h0.7M89.5 547.3h0.7M109.9 538.5h0.7M90.8 544.1h0.7M93.7 546.8h0.7M100.1 542.6h0.7M105.1 534.9h0.7M113.3 538.3h0.7M106.3 544.4h0.7M81.0 539.2h0.7M84.6 533.8h0.7M105.4 538.6h0.7M87.6 539.0h0.7M92.7 544.8h0.7M99.9 542.8h0.7M96.2 531.8h0.7M96.5 540.2h0.7M97.4 538.7h0.7M99.3 545.0h0.7M82.3 544.5h0.7M102.8 540.1h0.7M102.9 538.2h0.7M76.7 544.2h0.7M79.5 529.7h0.7M96.2 538.9h0.7M71.4 539.2h0.7M114.4 536.3h0.7M84.3 539.5h0.7M94.2 549.1h0.7M105.1 538.3h0.7M111.6 552.8h0.7M104.3 546.1h0.7M101.7 537.7h0.7M73.7 551.4h0.7M86.6 530.0h0.7M92.6 542.3h0.7M108.6 540.2h0.7M86.4 526.3h0.7M94.1 546.0h0.7M88.7 549.9h0.7M89.1 544.1h0.7M77.3 550.4h0.7M89.1 541.2h0.7M119.0 538.9h0.7M100.2 535.9h0.7M97.2 534.8h0.7M94.8 542.6h0.7M101.9 536.7h0.7M82.2 544.5h0.7M88.9 536.4h0.7M96.4 538.2h0.7M77.7 542.4h0.7M83.6 536.8h0.7M92.4 544.1h0.7M109.1 550.3h0.7M103.4 542.1h0.7M104.0 534.0h0.7M103.8 546.1h0.7M96.6 545.0h0.7M90.4 539.9h0.7M103.0 537.0h0.7M105.3 555.0h0.7M113.8 547.2h0.7M96.4 531.7h0.7M102.1 538.3h0.7M84.5 528.4h0.7M118.4 548.3h0.7M94.9 538.3h0.7M93.5 541.9h0.7M89.0 542.6h0.7M93.6 534.6h0.7M94.3 545.7h0.7M83.4 541.2h0.7M91.2 530.0h0.7M119.7 542.9h0.7M88.5 538.6h0.7M93.8 538.2h0.7M96.7 535.8h0.7M83.8 528.0h0.7M87.8 535.3h0.7M97.1 539.5h0.7M87.6 541.6h0.7M94.4 540.7h0.7M108.3 533.7h0.7M97.9 539.4h0.7M90.6 538.1h0.7M92.1 537.3h0.7M94.2 543.2h0.7M86.0 536.0h0.7M107.8 544.6h0.7M83.6 530.7h0.7M103.5 547.2h0.7M83.4 535.6h0.7M107.0 539.8h0.7M93.8 545.5h0.7M82.3 544.7h0.7M95.0 533.8h0.7M76.2 540.8h0.7M94.5 538.4h0.7M97.7 536.7h0.7M84.6 538.7h0.7M88.7 537.5h0.7M85.0 545.8h0.7M99.2 532.6h0.7M86.5 541.1h0.7M92.7 545.8h0.7M102.8 539.6h0.7M112.1 544.0h0.7M90.3 541.3h0.7M94.3 533.9h0.7M83.1 546.2h0.7M87.9 540.8h0.7M106.7 535.9h0.7M80.9 539.8h0.7M103.7 543.0h0.7M102.4 518.7h0.7M94.7 548.2h0.7" stroke="#1a1a1a" stroke-opacity="0.48" stroke-width="0.7" fill="none"/>
<path d="M97.3 585.2h0.7M81.7 578.5h0.7M102.8 575.9h0.7M66.0 582.0h0.7M93.1 586.8h0.7M75.5 580.9h0.7M127.4 584.5h0.7M118.1 581.4h0.7M109.8 578.8h0.7M82.8 575.5h0.7M103.5 577.7h0.7M102.0 583.9h0.7M88.0 582.4h0.7M77.9 582.8h0.7M119.7 576.9h0.7M111.0 577.7h0.7M112.8 577.6h0.7M111.9 583.4h0.7M97.2 579.9h0.7M87.1 585.3h0.7M103.5 574.1h0.7M125.8 578.7h0.7M109.8 574.6h0.7M120.3 585.1h0.7M97.9 583.7h0.7M111.9 578.6h0.7M111.1 585.3h0.7M93.2 584.6h0.7M100.2 579.7h0.7M83.4 582.1h0.7M123.3 580.1h0.7M73.3 578.2h0.7M102.0 586.8h0.7M118.9 582.1h0.7M97.8 584.7h0.7M95.9 582.5h0.7M83.2 578.3h0.7M109.5 583.8h0.7M98.5 578.5h0.7M68.4 585.7h0.7M108.9 587.5h0.7M104.7 579.5h0.7M75.0 578.3h0.7M99.6 578.3h0.7M91.8 581.0h0.7M101.6 577.3h0.7M84.4 580.0h0.7M108.9 582.0h0.7M107.5 579.9h0.7M110.0 577.3h0.7M77.9 577.8h0.7M96.4 578.9h0.7M103.7 578.4h0.7M71.5 583.3h0.7M77.5 580.9h0.7M130.5 583.9h0.7M93.6 583.2h0.7M135.2 580.9h0.7M96.3 580.4h0.7M106.0 577.2h0.7M119.1 582.3h0.7M120.2 585.1h0.7M80.9 579.8h0.7M83.1 582.5h0.7M101.4 587.0h0.7M78.1 582.7h0.7M97.8 578.3h0.7M128.2 583.2h0.7M108.3 589.0h0.7M140.6 582.6h0.7M103.2 583.1h0.7M122.7 582.1h0.7M116.9 585.5h0.7M112.6 578.0h0.7M89.6 584.9h0.7M123.7 580.8h0.7M86.5 587.2h0.7M69.0 583.1h0.7M125.2 587.0h0.7M123.5 578.4h0.7M122.5 583.5h0.7M115.0 577.8h0.7M132.5 582.1h0.7M97.7 581.9h0.7M93.2 583.1h0.7M95.1 584.3h0.7M127.1 583.7h0.7M116.0 579.4h0.7M122.6 579.9h0.7M94.0 583.7h0.7M135.4 588.0h0.7M94.7 585.6h0.7M98.7 580.5h0.7M112.0 583.3h0.7M133.6 581.8h0.7M72.4 585.2h0.7M82.6 584.1h0.7M104.4 583.7h0.7M108.2 580.9h0.7M105.1 582.6h0.7M112.0 580.0h0.7M89.0 583.6h0.7M91.9 582.5h0.7M92.0 585.6h0.7M123.3 580.7h0.7M132.9 580.7h0.7M81.3 578.8h0.7M126.6 582.2h0.7M120.1 585.7h0.7M95.1 580.4h0.7M134.6 585.0h0.7M101.1 580.9h0.7M112.5 584.7h0.7M93.3 589.1h0.7M96.6 582.0h0.7M86.3 581.6h0.7M99.3 583.4h0.7M150.3 580.6h0.7M104.1 579.1h0.7M97.4 578.0h0.7M74.8 583.2h0.7M98.3 588.8h0.7M96.5 587.4h0.7M108.6 582.7h0.7M126.4 587.9h0.7M123.9 584.8h0.7M91.2 582.9h0.7M136.5 575.9h0.7M82.5 580.6h0.7M104.3 580.3h0.7M119.7 580.8h0.7M107.9 574.9h0.7M115.0 588.0h0.7M127.4 578.2h0.7M111.8 574.1h0.7M136.7 581.8h0.7M112.1 582.6h0.7M113.4 576.7h0.7M112.5 578.5h0.7M100.2 587.4h0.7M112.0 578.9h0.7M112.4 584.8h0.7M125.3 589.0h0.7M112.4 582.5h0.7M102.9 581.5h0.7M88.2 577.4h0.7M112.7 584.3h0.7M114.2 582.1h0.7M94.2 581.0h0.7M84.3 585.9h0.7M79.1 584.2h0.7M93.4 581.4h0.7M119.0 580.0h0.7M108.8 580.6h0.7M114.9 578.5h0.7M130.9 586.5h0.7M103.6 588.7h0.7M121.9 578.9h0.7M98.1 578.4h0.7M112.4 586.3h0.7M109.7 584.6h0.7M120.0 581.2h0.7M104.2 588.5h0.7M121.7 582.0h0.7M83.5 583.6h0.7M85.7 574.9h0.7M76.2 581.0h0.7M87.1 577.2h0.7M82.1 583.2h0.7M100.5 575.4h0.7M132.5 577.2h0.7M88.0 575.0h0.7M135.1 579.3h0.7M111.5 585.5h0.7M123.2 587.5h0.7M72.6 578.6h0.7M81.8 578.9h0.7M72.1 579.5h0.7M83.9 577.8h0.7M108.3 583.7h0.7M115.7 587.6h0.7M73.6 582.1h0.7M94.9 581.4h0.7M124.7 582.2h0.7M96.3 587.0h0.7M68.5 577.1h0.7M97.0 579.6h0.7M125.2 573.4h0.7M104.2 573.9h0.7M109.8 580.2h0.7M81.1 581.6h0.7M102.8 575.3h0.7M66.6 587.9h0.7M115.9 584.5h0.7M131.2 581.2h0.7M96.3 580.9h0.7M82.2 581.5h0.7" stroke="#1a1a1a" stroke-opacity="0.48" stroke-width="0.7" fill="none"/>
<path d="M101.7 579.4h0.7M102.3 558.9h0.7M94.1 556.3h0.7M85.1 556.0h0.7M107.2 566.5h0.7M65.9 578.5h0.7M78.2 580.9h0.7M94.0 578.5h0.7M93.0 553.9h0.7M106.9 563.8h0.7M88.0 580.4h0.7M95.9 577.7h0.7M93.7 578.1h0.7M106.4 566.5h0.7M105.8 560.2h0.7M88.0 557.8h0.7M106.4 574.7h0.7M74.0 582.4h0.7M80.4 556.5h0.7M95.9 557.4h0.7M90.4 579.3h0.7M106.2 565.4h0.7M105.9 572.1h0.7M106.3 563.6h0.7M89.5 557.0h0.7M72.7 580.6h0.7M84.5 557.7h0.7M100.0 578.5h0.7M65.9 578.7h0.7M67.7 559.1h0.7M76.3 578.3h0.7M82.4 580.5h0.7M80.1 580.0h0.7M104.6 576.3h0.7M103.9 573.4h0.7M105.9 559.1h0.7M73.4 558.3h0.7M75.1 578.8h0.7M109.4 568.1h0.7M111.0 564.8h0.7M97.4 556.9h0.7M69.9 555.7h0.7M70.9 577.1h0.7M92.8 558.7h0.7M67.5 558.0h0.7M69.4 577.2h0.7M115.4 572.8h0.7M94.8 557.1h0.7M75.7 555.4h0.7M102.6 577.3h0.7M94.2 558.8h0.7M91.5 555.4h0.7M102.8 576.9h0.7M104.5 574.4h0.7M74.1 556.1h0.7M105.5 563.6h0.7M75.8 557.6h0.7M91.5 580.4h0.7M67.4 556.9h0.7M86.2 556.3h0.7M104.5 563.7h0.7M109.8 563.3h0.7M72.3 557.0h0.7M103.9 573.3h0.7M73.4 577.6h0.7M106.7 567.0h0.7M69.2 578.9h0.7M67.3 576.7h0.7M86.3 557.6h0.7M106.6 564.8h0.7M105.2 572.2h0.7M95.7 556.5h0.7M97.3 559.7h0.7M80.7 579.4h0.7M101.7 575.4h0.7M89.7 579.6h0.7M70.8 558.2h0.7M97.2 559.0h0.7M102.4 560.7h0.7M70.6 559.0h0.7M108.2 568.4h0.7M93.6 580.8h0.7M109.5 565.9h0.7M90.4 556.2h0.7M104.4 572.7h0.7M95.4 580.5h0.7M68.5 555.1h0.7M105.9 575.4h0.7M80.8 557.5h0.7M83.0 579.2h0.7M66.7 560.2h0.7M75.1 579.9h0.7M108.0 569.4h0.7M82.2 578.8h0.7M95.1 558.1h0.7M100.7 576.5h0.7M98.8 559.5h0.7M95.5 558.7h0.7M100.4 577.4h0.7M74.0 578.8h0.7M100.6 575.4h0.7M95.7 556.8h0.7M65.7 562.3h0.7M94.6 558.4h0.7M84.3 556.8h0.7M84.2 581.4h0.7M67.6 579.6h0.7M105.9 561.7h0.7M105.0 573.3h0.7M74.1 579.0h0.7M83.5 556.7h0.7M71.9 578.9h0.7M103.6 573.9h0.7M94.7 558.6h0.7M81.1 579.6h0.7M85.3 556.7h0.7M72.4 577.3h0.7M71.3 559.2h0.7M84.2 581.3h0.7M102.3 575.4h0.7M88.5 557.2h0.7M87.8 582.0h0.7M97.6 556.3h0.7M87.5 557.8h0.7M85.5 580.0h0.7M103.6 575.0h0.7M76.0 554.4h0.7M94.4 579.0h0.7M100.6 557.1h0.7M90.2 557.4h0.7M105.6 565.3h0.7M79.4 579.2h0.7M103.0 576.1h0.7M111.5 571.8h0.7M72.0 577.4h0.7M107.7 562.7h0.7M70.7 579.1h0.7M77.5 555.0h0.7M108.2 559.3h0.7M65.8 579.3h0.7M112.2 569.0h0.7M101.7 560.3h0.7M98.2 555.0h0.7M97.3 556.6h0.7M96.5 579.5h0.7M102.6 581.2h0.7M110.2 568.2h0.7M102.8 579.1h0.7M79.8 578.7h0.7M81.1 583.9h0.7M97.9 558.2h0.7M109.3 559.7h0.7M98.9 557.3h0.7M91.4 580.1h0.7M81.9 555.2h0.7M107.9 563.9h0.7M66.7 575.1h0.7M65.9 574.3h0.7M92.1 557.6h0.7M67.7 557.5h0.7M105.1 574.6h0.7M97.7 578.8h0.7M71.7 555.8h0.7M69.2 558.7h0.7M97.6 558.1h0.7M103.0 574.8h0.7M75.1 557.7h0.7M73.1 558.8h0.7M80.5 557.3h0.7M69.4 557.1h0.7M114.0 562.9h0.7M95.9 578.2h0.7M81.4 579.2h0.7M105.3 561.6h0.7M69.1 577.6h0.7M101.1 576.1h0.7M108.3 567.2h0.7M105.4 573.0h0.7M98.9 556.1h0.7M91.6 557.5h0.7M84.5 556.4h0.7M66.4 561.8h0.7M73.0 557.0h0.7M108.3 570.3h0.7M85.5 582.3h0.7M85.2 580.8h0.7M111.9 564.4h0.7M103.8 577.6h0.7M74.6 580.6h0.7M75.5 554.1h0.7M100.5 558.6h0.7M107.3 562.7h0.7M89.7 579.8h0.7M93.3 578.5h0.7M106.7 578.0h0.7M70.3 581.0h0.7M112.1 564.0h0.7M81.4 557.4h0.7M68.1 560.7h0.7M86.0 579.2h0.7M102.7 577.3h0.7M82.3 579.5h0.7M107.8 573.2h0.7M73.4 557.0h0.7M97.4 578.2h0.7M90.8 579.2h0.7M70.6 557.0h0.7M83.1 556.7h0.7M95.0 554.2h0.7M66.4 575.5h0.7M83.0 554.1h0.7M89.8 579.2h0.7M70.9 556.3h0.7M89.7 578.6h0.7M85.8 557.0h0.7M67.7 575.7h0.7M84.2 553.9h0.7M97.3 557.1h0.7M98.6 576.3h0.7M66.4 576.6h0.7M106.1 563.8h0.7M105.9 574.2h0.7M104.9 571.7h0.7M66.3 577.1h0.7M105.2 563.0h0.7M99.7 579.6h0.7M105.9 575.0h0.7M96.4 579.1h0.7M67.9 559.3h0.7M65.9 578.2h0.7M70.6 559.7h0.7M86.1 581.1h0.7M87.0 579.9h0.7M110.4 574.8h0.7M71.1 559.3h0.7M81.7 557.7h0.7M85.2 556.6h0.7M104.9 575.0h0.7M77.7 555.5h0.7M80.7 578.8h0.7M107.9 571.9h0.7M67.4 561.4h0.7M73.7 580.1h0.7M108.9 574.6h0.7M67.3 576.2h0.7M71.3 557.6h0.7M108.2 573.3h0.7M80.7 556.4h0.7M73.1 580.7h0.7M106.9 562.3h0.7M84.6 553.7h0.7M81.8 555.1h0.7M108.4 569.3h0.7M106.6 570.2h0.7M96.1 577.7h0.7M65.7 576.1h0.7M102.1 577.6h0.7M95.8 581.6h0.7M91.2 556.8h0.7M89.9 555.9h0.7M102.8 561.9h0.7M108.4 570.8h0.7M108.3 563.3h0.7M105.4 562.9h0.7M106.6 565.8h0.7M112.4 570.4h0.7M99.1 576.8h0.7M72.8 557.7h0.7M84.0 555.8h0.7M77.8 557.4h0.7M106.0 563.2h0.7M70.8 578.5h0.7M88.2 581.1h0.7M92.1 580.7h0.7M88.4 554.7h0.7M75.0 557.7h0.7M81.2 553.5h0.7M105.3 562.1h0.7M99.3 557.6h0.7M67.9 581.4h0.7M85.8 557.7h0.7M75.6 555.0h0.7M111.5 572.4h0.7M96.4 579.9h0.7M82.6 582.8h0.7M80.5 553.7h0.7M81.8 579.7h0.7M68.9 577.0h0.7M108.8 569.1h0.7M93.1 557.6h0.7M74.8 558.0h0.7M97.1 559.0h0.7M108.4 564.2h0.7M78.6 578.9h0.7M100.8 575.5h0.7M76.7 579.4h0.7M92.0 578.2h0.7M103.5 558.4h0.7M87.4 578.7h0.7M84.0 555.5h0.7M99.4 557.4h0.7M69.4 578.3h0.7M74.3 579.2h0.7M97.7 559.4h0.7M71.2 554.6h0.7M96.9 576.9h0.7M99.1 579.9h0.7M98.9 559.4h0.7M87.3 556.1h0.7M87.9 554.7h0.7M109.0 576.2h0.7M106.1 572.9h0.7M81.2 580.2h0.7M91.5 557.9h0.7M70.9 576.8h0.7M75.9 554.3h0.7M102.8 574.0h0.7M102.0 575.3h0.7M107.3 563.3h0.7M98.0 559.4h0.7M76.8 579.9h0.7M75.1 556.5h0.7M105.6 559.7h0.7M96.8 559.7h0.7M84.0 556.3h0.7M94.5 557.9h0.7M100.3 556.6h0.7" stroke="#1a1a1a" stroke-opacity="0.7" stroke-width="0.7" fill="none"/>
<path d="M113.4 559.8h0.7M110.6 544.4h0.7M122.6 523.3h0.7M133.6 525.7h0.7M137.8 543.9h0.7M135.5 544.1h0.7M138.7 536.4h0.7M113.5 550.1h0.7M120.0 528.5h0.7M135.5 547.0h0.7M135.9 544.7h0.7M118.9 558.8h0.7M122.0 558.0h0.7M119.4 559.3h0.7M122.6 556.2h0.7M114.3 542.0h0.7M122.1 524.1h0.7M124.1 559.7h0.7M137.2 525.1h0.7M128.0 558.3h0.7M140.5 529.6h0.7M112.1 560.1h0.7M135.3 523.2h0.7M133.6 523.2h0.7M114.2 554.0h0.7M113.2 548.8h0.7M113.4 549.4h0.7M138.1 522.6h0.7M115.7 537.2h0.7M122.3 556.5h0.7M136.0 543.5h0.7M136.6 523.9h0.7M134.0 547.1h0.7M122.8 557.5h0.7M115.8 533.3h0.7M137.1 533.2h0.7M111.4 542.8h0.7M115.6 534.2h0.7M117.7 534.4h0.7M112.9 547.3h0.7M112.4 549.8h0.7M133.8 548.7h0.7M135.8 528.7h0.7M134.3 523.6h0.7M131.8 518.0h0.7M121.0 529.7h0.7M132.8 547.4h0.7M124.5 525.9h0.7M116.8 533.8h0.7M113.5 557.4h0.7M126.5 557.6h0.7M114.9 552.3h0.7M115.3 562.1h0.7M126.5 524.7h0.7M120.7 562.2h0.7M122.0 556.4h0.7M138.0 526.2h0.7M138.0 528.9h0.7M115.8 559.7h0.7M136.2 528.3h0.7M137.5 529.7h0.7M137.0 533.2h0.7M127.4 524.7h0.7M132.1 549.2h0.7M135.5 545.3h0.7M126.5 555.9h0.7M137.9 534.9h0.7M121.2 557.2h0.7M137.7 529.4h0.7M129.0 520.4h0.7M113.0 542.4h0.7M130.9 555.5h0.7M119.0 531.7h0.7M136.1 547.2h0.7M124.0 557.4h0.7M131.4 550.1h0.7M114.2 551.4h0.7M123.7 557.1h0.7M135.5 527.2h0.7M117.8 534.5h0.7M137.8 533.3h0.7M134.5 549.0h0.7M122.6 527.4h0.7M115.5 537.0h0.7M115.5 536.0h0.7M138.0 527.8h0.7M136.9 525.3h0.7M133.9 525.5h0.7M120.9 528.4h0.7M137.7 532.7h0.7M137.7 538.6h0.7M140.3 529.0h0.7M133.2 522.1h0.7M111.1 539.9h0.7M113.5 548.3h0.7M130.7 551.1h0.7M127.1 557.4h0.7M120.4 528.6h0.7M115.3 554.6h0.7M138.3 528.5h0.7M138.7 527.7h0.7M129.4 554.5h0.7M113.0 553.2h0.7M124.3 525.1h0.7M114.3 541.1h0.7M110.7 554.8h0.7M119.4 558.6h0.7M136.2 539.3h0.7M124.0 562.3h0.7M136.5 541.7h0.7M114.3 555.4h0.7M136.8 534.0h0.7M128.9 522.7h0.7M130.8 520.6h0.7M115.8 535.0h0.7M138.2 535.7h0.7M112.4 552.5h0.7M117.8 526.5h0.7M115.5 532.3h0.7M113.0 552.5h0.7M126.1 521.0h0.7M137.6 528.8h0.7M134.8 520.5h0.7M115.7 533.9h0.7M135.9 516.5h0.7M135.6 544.3h0.7M127.6 522.3h0.7M138.1 530.6h0.7M111.7 541.6h0.7M139.3 536.0h0.7M116.8 535.1h0.7M128.8 556.4h0.7M111.4 546.7h0.7M125.4 559.1h0.7M118.9 556.4h0.7M124.3 557.0h0.7M115.0 538.8h0.7M131.6 554.3h0.7M131.0 521.3h0.7M133.8 522.9h0.7M121.7 557.6h0.7M134.1 524.9h0.7M137.2 529.0h0.7M119.9 558.7h0.7M125.8 522.6h0.7M127.3 558.9h0.7M138.7 533.5h0.7M136.5 526.4h0.7M114.7 538.6h0.7M120.6 559.5h0.7M132.6 519.7h0.7M120.2 529.2h0.7M117.3 531.8h0.7M135.2 526.8h0.7M137.5 537.6h0.7M130.3 551.2h0.7M130.7 523.8h0.7M113.0 546.0h0.7M133.7 548.9h0.7M112.8 531.6h0.7M143.1 526.1h0.7M124.0 526.5h0.7M137.7 538.4h0.7M119.9 558.3h0.7M118.9 559.0h0.7M112.5 553.9h0.7M132.6 551.5h0.7M117.8 559.1h0.7M116.9 533.8h0.7M113.6 542.2h0.7M134.3 522.7h0.7M136.7 540.8h0.7M138.7 538.9h0.7M111.4 546.1h0.7M126.4 557.4h0.7M114.0 550.5h0.7M114.7 539.5h0.7M123.2 559.5h0.7M118.4 530.2h0.7M118.9 527.0h0.7M117.4 559.0h0.7M122.5 557.8h0.7M114.3 550.2h0.7M130.0 554.2h0.7M134.2 522.4h0.7M125.6 557.7h0.7M135.7 528.2h0.7M140.3 538.9h0.7M137.3 535.9h0.7M134.8 549.5h0.7M113.7 544.3h0.7M137.0 526.0h0.7M127.3 558.4h0.7M143.9 520.9h0.7M120.9 562.0h0.7M126.0 558.1h0.7M135.7 542.7h0.7M117.3 533.2h0.7M119.8 558.5h0.7M137.0 532.2h0.7M136.8 533.6h0.7M137.3 531.0h0.7M135.6 523.8h0.7M113.2 547.8h0.7M124.8 525.6h0.7M134.1 549.9h0.7M136.9 528.3h0.7M121.0 557.7h0.7M118.6 531.8h0.7M134.1 545.2h0.7M132.1 524.1h0.7M120.0 559.8h0.7M115.4 559.6h0.7M133.9 544.8h0.7M124.6 520.0h0.7M112.1 551.3h0.7M120.4 561.9h0.7M135.7 542.6h0.7M123.3 558.0h0.7M128.8 553.8h0.7M129.8 520.1h0.7M132.7 524.6h0.7M136.0 545.9h0.7M137.6 536.6h0.7M114.0 557.9h0.7M113.5 563.4h0.7M137.3 542.2h0.7M131.0 550.2h0.7M129.5 552.9h0.7M114.4 538.0h0.7M134.8 547.6h0.7M111.0 554.2h0.7M116.7 533.8h0.7M131.5 549.1h0.7M116.6 560.8h0.7M115.8 560.2h0.7M131.9 519.3h0.7M128.4 522.0h0.7M131.7 556.2h0.7M113.9 547.5h0.7M138.1 537.1h0.7M134.2 552.3h0.7M142.4 527.5h0.7M127.2 524.7h0.7M135.7 540.1h0.7M134.5 549.2h0.7M127.9 553.4h0.7M134.3 521.8h0.7M136.0 523.8h0.7M120.4 556.6h0.7M136.6 525.8h0.7M130.8 524.0h0.7M132.1 549.0h0.7M133.5 548.4h0.7M122.0 562.3h0.7M116.0 554.8h0.7M140.5 531.0h0.7M133.2 519.7h0.7M134.2 526.2h0.7M131.9 521.4h0.7M134.5 548.8h0.7M125.3 522.6h0.7M118.4 557.6h0.7M135.8 527.1h0.7M138.5 528.9h0.7M117.4 532.7h0.7M136.2 523.9h0.7M121.9 557.2h0.7M126.8 525.3h0.7M131.7 548.7h0.7M137.3 535.3h0.7M112.6 550.4h0.7M112.5 558.8h0.7M120.6 558.5h0.7M113.7 553.2h0.7M128.2 521.8h0.7M124.0 524.6h0.7M128.4 523.2h0.7M123.0 556.3h0.7M120.0 528.5h0.7" stroke="#1a1a1a" stroke-opacity="0.7" stroke-width="0.7" fill="none"/>
<ellipse cx="84.0" cy="568.3" rx="22.60" ry="11.10" transform="rotate(0 84.0 568.3)" fill="#fff" stroke="#fff" stroke-width="1.4"/>
<ellipse cx="84.0" cy="568.3" rx="22.00" ry="10.50" transform="rotate(0 84.0 568.3)" fill="#fafafa" stroke="#8a8a8a" stroke-width="0.65"/>
<ellipse cx="84.0" cy="568.3" rx="18.26" ry="8.71" transform="rotate(0 84.0 568.3)" fill="#e8e8e8" stroke="#8a8a8a" stroke-width="0.42"/>
<ellipse cx="84.0" cy="568.3" rx="14.52" ry="6.93" transform="rotate(0 84.0 568.3)" fill="#d6d6d6" stroke="#8a8a8a" stroke-width="0.42"/>
<ellipse cx="84.0" cy="568.3" rx="10.78" ry="5.14" transform="rotate(0 84.0 568.3)" fill="#c4c4c4" stroke="#8a8a8a" stroke-width="0.42"/>
<ellipse cx="84.0" cy="568.3" rx="7.04" ry="3.36" transform="rotate(0 84.0 568.3)" fill="#b2b2b2" stroke="#8a8a8a" stroke-width="0.42"/>
<ellipse cx="125.4" cy="540.5" rx="10.10" ry="17.60" transform="rotate(25 125.4 540.5)" fill="#fff" stroke="#fff" stroke-width="1.4"/>
<ellipse cx="125.4" cy="540.5" rx="9.50" ry="17.00" transform="rotate(25 125.4 540.5)" fill="#fafafa" stroke="#8a8a8a" stroke-width="0.65"/>
<ellipse cx="125.4" cy="540.5" rx="7.48" ry="13.39" transform="rotate(25 125.4 540.5)" fill="#dcdcdc" stroke="#8a8a8a" stroke-width="0.42"/>
<ellipse cx="125.4" cy="540.5" rx="5.46" ry="9.77" transform="rotate(25 125.4 540.5)" fill="#bebebe" stroke="#8a8a8a" stroke-width="0.42"/>
<ellipse cx="125.4" cy="540.5" rx="3.44" ry="6.16" transform="rotate(25 125.4 540.5)" fill="#9f9f9f" stroke="#8a8a8a" stroke-width="0.42"/>
<path d="M67.3 569.0h0.8M66.6 558.9h0.8M66.0 565.2h0.8M65.8 568.6h0.8M67.6 564.7h0.8M64.9 569.7h0.8M66.5 558.0h0.8M66.3 571.9h0.8M65.9 567.5h0.8M66.2 566.9h0.8M65.3 574.6h0.8M66.1 578.4h0.8M65.8 567.9h0.8M65.1 567.8h0.8M65.7 580.0h0.8M65.6 562.4h0.8M65.4 570.0h0.8M65.7 571.0h0.8M65.3 563.7h0.8M66.9 567.3h0.8M67.4 572.5h0.8M66.1 567.3h0.8M67.1 570.2h0.8M65.6 570.4h0.8M66.7 566.9h0.8M65.9 563.6h0.8M65.6 565.5h0.8M66.2 553.9h0.8M66.2 580.8h0.8M65.9 563.0h0.8M66.2 577.7h0.8M64.9 564.9h0.8M65.5 571.6h0.8M66.3 559.7h0.8M66.8 576.3h0.8M66.1 567.8h0.8M65.0 572.0h0.8M65.4 568.8h0.8M65.8 561.2h0.8M64.7 569.4h0.8M66.0 566.8h0.8M65.1 566.9h0.8M65.0 561.3h0.8M66.2 570.0h0.8M65.7 557.6h0.8M64.8 560.9h0.8M64.6 567.7h0.8M65.8 570.4h0.8M65.6 573.5h0.8M65.6 569.9h0.8M65.6 569.6h0.8M66.3 571.3h0.8M65.6 566.2h0.8M66.0 576.4h0.8M65.6 570.0h0.8M64.8 561.4h0.8M64.9 567.3h0.8M66.9 564.7h0.8M65.8 573.3h0.8M65.3 573.7h0.8M66.6 564.0h0.8M65.7 575.5h0.8M65.4 572.6h0.8M66.0 568.9h0.8M65.5 561.7h0.8M67.4 576.4h0.8M66.0 567.7h0.8M66.6 573.7h0.8M65.7 565.9h0.8M65.8 572.4h0.8" stroke="#111" stroke-opacity="0.9" stroke-width="0.8" fill="none"/>
<path d="M76.3,524.5 L120.6,524.5 L106.2,550.3 L76.3,550.3Z" fill="none" stroke="#444" stroke-width="0.85"/>
<ellipse cx="125.4" cy="540.3" rx="12" ry="21" transform="rotate(25 125.4 540.3)" fill="none" stroke="#3a3a3a" stroke-width="0.9"/>
<ellipse cx="125.4" cy="540.3" rx="10.4" ry="19.2" transform="rotate(25 125.4 540.3)" fill="none" stroke="#666" stroke-width="0.55"/>
</g>
<text x="94.6" y="523.0" font-size="10.3" font-weight="bold" text-anchor="middle" >0.7</text>
<text x="133.0" y="523.0" font-size="10.3" font-weight="bold" text-anchor="middle" >49</text>
<text x="149.8" y="588.0" font-size="7.2" font-weight="bold" text-anchor="end" >M303</text>
<rect x="169.50" y="502.50" width="88.00" height="88.00" fill="none" stroke="#6a6a6a" stroke-width="0.9"/>
<line x1="168.30" y1="505.50" x2="168.30" y2="588.50" stroke="#999" stroke-width="1.2" stroke-dasharray="0.6 2.4"/>
<line x1="172.50" y1="591.70" x2="255.50" y2="591.70" stroke="#999" stroke-width="1.2" stroke-dasharray="0.6 2.4"/>
<text x="166.0" y="513.7" font-size="4.2" fill="#555" text-anchor="end">10<tspan dy="-2" font-size="3">5</tspan></text>
<rect x="167.3" y="511.6" width="1.6" height="1.2" fill="#333"/>
<text x="166.0" y="535.7" font-size="4.2" fill="#555" text-anchor="end">10<tspan dy="-2" font-size="3">4</tspan></text>
<rect x="167.3" y="533.6" width="1.6" height="1.2" fill="#333"/>
<text x="166.0" y="558.6" font-size="4.2" fill="#555" text-anchor="end">10<tspan dy="-2" font-size="3">3</tspan></text>
<rect x="167.3" y="556.5" width="1.6" height="1.2" fill="#333"/>
<text x="166.0" y="574.4" font-size="4.2" fill="#555" text-anchor="end">0</text>
<rect x="167.3" y="572.3" width="1.6" height="1.2" fill="#333"/>
<text x="186.2" y="601.0" font-size="4.2" fill="#555" text-anchor="middle">0</text>
<text x="203.8" y="601.0" font-size="4.2" fill="#555" text-anchor="middle">10<tspan dy="-2" font-size="3">3</tspan></text>
<text x="227.6" y="601.0" font-size="4.2" fill="#555" text-anchor="middle">10<tspan dy="-2" font-size="3">4</tspan></text>
<text x="248.7" y="601.0" font-size="4.2" fill="#555" text-anchor="middle">10<tspan dy="-2" font-size="3">5</tspan></text>
<rect x="185.4" y="591.3" width="1.6" height="1.6" fill="#222"/>
<clipPath id="cp10"><rect x="170.00" y="503.00" width="87.00" height="87.00"/></clipPath><g clip-path="url(#cp10)">
<path d="M210.9 567.3h0.7M232.8 562.0h0.7M226.4 544.6h0.7M228.9 564.6h0.7M226.8 567.5h0.7M214.5 564.0h0.7M224.8 575.5h0.7M225.2 564.2h0.7M205.5 559.7h0.7M218.6 543.7h0.7M191.0 580.6h0.7M224.3 571.0h0.7M226.3 567.4h0.7M227.2 574.8h0.7M211.0 571.4h0.7M211.0 585.1h0.7M214.6 562.4h0.7M230.0 561.8h0.7M219.1 562.3h0.7M211.1 574.2h0.7M222.5 558.7h0.7M220.1 564.4h0.7M227.7 581.9h0.7M204.9 573.3h0.7M235.8 563.6h0.7M209.3 570.1h0.7M214.9 556.7h0.7M220.4 557.0h0.7M226.8 561.1h0.7M228.7 553.1h0.7M199.4 565.6h0.7M214.3 573.4h0.7M230.4 567.3h0.7M208.1 551.0h0.7M218.2 574.0h0.7M237.4 561.7h0.7M222.3 552.4h0.7M214.2 572.5h0.7M213.5 549.2h0.7M221.5 578.7h0.7M230.5 573.3h0.7M208.7 581.3h0.7M202.2 580.7h0.7M226.2 562.9h0.7M239.7 554.8h0.7M224.0 581.4h0.7M225.4 564.7h0.7M209.8 554.4h0.7M236.4 581.2h0.7M228.0 535.2h0.7M202.0 575.0h0.7M221.7 565.2h0.7M216.0 562.3h0.7M225.2 563.8h0.7M232.9 570.2h0.7M221.5 554.1h0.7M220.3 561.1h0.7M234.5 555.0h0.7M211.6 571.3h0.7M208.5 555.4h0.7M202.9 564.6h0.7M207.9 563.0h0.7M223.5 571.0h0.7M228.4 573.3h0.7M216.7 553.1h0.7M224.0 556.8h0.7M221.8 558.4h0.7M216.9 573.7h0.7M225.7 568.7h0.7M223.6 555.0h0.7M233.8 557.7h0.7M223.1 552.4h0.7M232.1 564.0h0.7M216.3 555.3h0.7M223.4 553.4h0.7M214.3 578.8h0.7M218.7 565.3h0.7M230.6 573.8h0.7M221.5 566.6h0.7M230.4 571.9h0.7M220.1 567.3h0.7M226.3 588.5h0.7M207.6 572.8h0.7M225.4 549.3h0.7M223.9 556.1h0.7M227.2 580.9h0.7M208.7 588.8h0.7M223.7 579.4h0.7M223.8 555.3h0.7M217.3 544.2h0.7M227.6 560.3h0.7M209.6 564.8h0.7M219.1 552.5h0.7M213.4 581.0h0.7M227.4 557.9h0.7M221.8 574.3h0.7M229.9 566.6h0.7M225.0 570.8h0.7M206.4 570.4h0.7M215.2 565.6h0.7M220.7 564.5h0.7M226.3 560.5h0.7M223.1 557.9h0.7M213.6 579.4h0.7M205.6 568.7h0.7M230.4 568.2h0.7M211.6 575.1h0.7M223.8 549.2h0.7M237.9 544.2h0.7M240.3 567.8h0.7M224.8 569.4h0.7M243.1 581.4h0.7M203.7 578.7h0.7M213.1 564.8h0.7M226.5 545.8h0.7M214.0 561.1h0.7M214.5 565.3h0.7M221.3 564.4h0.7M246.9 552.4h0.7M226.6 544.9h0.7M200.4 550.9h0.7M220.6 560.3h0.7M219.7 560.0h0.7M217.9 554.4h0.7M214.0 575.5h0.7M223.3 565.9h0.7M229.8 565.0h0.7M216.1 586.5h0.7M235.2 565.9h0.7M219.9 562.7h0.7M212.9 562.7h0.7M231.1 567.0h0.7M224.6 575.9h0.7M213.4 547.8h0.7M241.1 556.0h0.7M221.3 558.8h0.7M211.7 551.5h0.7M229.9 575.2h0.7M220.0 563.0h0.7M215.4 543.2h0.7M233.8 560.5h0.7M223.4 581.2h0.7M221.0 560.3h0.7M215.6 559.0h0.7M224.5 573.1h0.7M205.5 564.5h0.7M205.2 568.5h0.7M218.6 578.6h0.7M204.8 535.1h0.7M239.3 571.1h0.7M235.5 551.8h0.7M227.3 578.9h0.7M236.0 565.2h0.7M211.5 555.5h0.7M243.3 569.1h0.7M221.6 571.0h0.7M205.7 574.7h0.7M212.3 549.5h0.7M225.8 551.7h0.7M192.9 575.0h0.7M230.3 559.3h0.7M218.1 545.6h0.7M233.0 578.7h0.7M213.5 570.2h0.7M239.5 557.3h0.7M214.9 579.0h0.7M232.7 569.5h0.7M223.4 545.6h0.7M219.3 560.0h0.7M226.4 548.9h0.7M218.8 562.0h0.7M207.4 575.5h0.7M203.3 550.2h0.7M219.3 553.8h0.7M225.0 580.4h0.7M212.7 560.9h0.7M234.9 566.9h0.7M219.6 572.9h0.7M216.2 557.8h0.7M226.6 557.0h0.7M232.5 582.1h0.7M233.1 578.8h0.7M238.0 577.1h0.7M212.9 570.9h0.7M213.9 577.7h0.7M229.7 576.0h0.7M231.3 576.7h0.7M223.6 574.0h0.7M217.5 558.1h0.7M216.4 555.8h0.7M221.2 585.3h0.7M216.5 559.7h0.7M224.1 577.3h0.7M226.0 561.0h0.7M217.4 547.1h0.7M232.7 575.1h0.7M223.3 553.6h0.7M207.8 572.2h0.7M220.4 573.4h0.7M215.9 569.2h0.7M226.4 568.6h0.7M241.2 575.4h0.7M221.7 574.0h0.7M201.8 567.1h0.7M208.3 550.5h0.7M214.5 581.3h0.7M221.4 551.2h0.7M219.7 554.4h0.7M209.2 563.8h0.7M230.8 562.8h0.7M220.0 569.2h0.7M235.1 562.2h0.7M228.4 578.2h0.7M227.9 557.4h0.7M221.1 578.0h0.7M223.3 551.7h0.7M215.5 577.9h0.7M209.3 551.1h0.7M219.2 562.7h0.7M220.0 568.8h0.7M237.7 546.9h0.7M210.7 548.0h0.7M207.3 557.7h0.7M225.4 573.0h0.7M218.4 553.7h0.7M202.9 553.3h0.7M224.1 570.2h0.7M218.3 549.8h0.7M204.7 557.3h0.7M209.5 573.9h0.7M225.7 576.0h0.7M232.6 573.2h0.7M221.2 566.3h0.7M226.0 582.2h0.7M235.7 560.7h0.7M211.4 566.0h0.7M220.1 570.5h0.7M218.9 568.4h0.7M217.9 558.3h0.7M203.3 567.5h0.7M214.3 545.5h0.7M217.5 565.9h0.7M214.1 557.6h0.7M234.6 559.2h0.7M245.6 572.9h0.7M227.6 555.2h0.7M215.5 571.0h0.7M209.0 570.8h0.7M228.2 551.4h0.7M214.4 548.8h0.7M228.0 562.5h0.7M224.2 572.4h0.7M209.5 564.8h0.7M211.1 570.3h0.7M219.9 562.3h0.7M232.6 573.0h0.7M214.7 544.4h0.7M208.2 577.4h0.7M217.4 553.6h0.7M222.1 554.6h0.7M224.4 562.3h0.7M217.8 560.4h0.7M223.1 573.6h0.7M226.8 573.7h0.7M213.8 580.9h0.7M208.7 588.8h0.7M220.3 552.8h0.7M225.4 571.9h0.7M222.8 556.0h0.7M214.9 573.0h0.7M222.8 579.0h0.7M240.5 569.4h0.7M220.3 563.8h0.7M225.8 568.4h0.7M209.2 568.1h0.7M219.9 557.7h0.7M227.9 573.7h0.7M220.9 568.1h0.7M227.7 564.2h0.7M228.8 561.1h0.7M224.6 578.2h0.7M225.9 555.3h0.7M222.4 562.3h0.7M224.3 572.4h0.7M213.7 586.3h0.7M218.7 556.6h0.7M214.5 577.3h0.7M227.0 553.2h0.7M211.4 586.9h0.7M228.4 571.9h0.7M200.3 555.4h0.7M216.5 576.6h0.7M215.8 565.6h0.7M222.5 576.9h0.7M206.5 567.1h0.7M217.1 576.2h0.7M233.4 561.0h0.7M215.7 568.2h0.7M216.5 571.4h0.7M210.8 556.3h0.7M231.0 567.9h0.7M210.9 574.0h0.7M231.5 564.8h0.7M224.6 563.4h0.7M226.2 585.6h0.7M242.4 572.7h0.7M196.1 555.6h0.7M218.9 566.2h0.7M227.5 565.5h0.7M204.9 571.2h0.7M224.9 549.5h0.7M221.9 557.4h0.7M224.6 571.7h0.7M225.0 563.3h0.7M202.4 580.4h0.7M208.7 572.8h0.7M222.2 555.4h0.7M222.2 571.1h0.7M224.4 582.6h0.7M226.2 559.8h0.7M224.0 544.6h0.7M212.9 585.0h0.7M215.4 570.6h0.7M207.7 561.2h0.7M226.4 567.9h0.7M225.1 560.6h0.7M216.2 558.6h0.7M219.6 564.2h0.7M218.8 557.5h0.7M221.3 574.9h0.7M230.4 571.4h0.7M204.2 549.8h0.7M213.5 574.2h0.7M216.9 556.5h0.7M216.9 567.0h0.7M207.1 572.1h0.7M211.2 556.0h0.7M227.6 572.8h0.7M211.7 574.4h0.7M197.3 556.7h0.7M212.7 564.2h0.7M243.4 566.3h0.7M216.2 563.7h0.7M187.9 557.1h0.7M238.9 576.9h0.7M239.3 578.1h0.7M199.6 566.7h0.7M232.3 579.4h0.7M222.5 551.2h0.7M235.8 565.0h0.7M221.3 557.6h0.7M217.8 575.7h0.7M207.0 566.1h0.7M218.9 555.1h0.7M219.4 571.4h0.7M211.3 566.0h0.7M240.1 569.5h0.7M214.0 579.0h0.7M224.7 553.0h0.7M212.1 570.3h0.7M220.0 553.1h0.7M211.7 580.8h0.7M222.1 569.9h0.7M218.0 548.0h0.7M222.4 548.1h0.7M208.9 560.3h0.7M230.0 560.7h0.7M208.1 562.8h0.7M220.3 567.9h0.7M224.7 566.8h0.7M208.5 568.7h0.7M224.8 554.9h0.7M222.7 572.1h0.7M201.3 574.0h0.7M222.8 548.1h0.7M226.3 562.6h0.7M225.3 565.5h0.7M224.1 574.8h0.7M225.0 567.1h0.7M223.7 559.9h0.7M223.4 573.2h0.7M210.7 574.4h0.7M217.1 541.9h0.7M198.3 564.0h0.7M220.0 574.4h0.7M231.0 582.5h0.7M213.5 576.1h0.7M237.6 571.1h0.7M217.2 557.5h0.7M235.6 550.8h0.7M218.8 564.4h0.7M217.2 566.8h0.7M221.0 562.8h0.7M221.1 552.9h0.7M234.1 559.1h0.7M240.7 552.7h0.7M240.5 566.0h0.7M224.0 560.1h0.7M227.5 559.3h0.7M226.5 554.7h0.7M224.5 568.3h0.7M224.4 562.7h0.7M223.4 558.3h0.7M222.1 571.2h0.7M204.6 570.0h0.7M226.3 566.6h0.7M219.5 549.3h0.7M217.3 582.7h0.7M231.9 561.2h0.7M229.2 572.8h0.7M234.0 573.1h0.7M207.2 562.4h0.7M229.2 539.4h0.7M225.1 565.1h0.7M213.3 540.2h0.7M212.5 568.2h0.7M209.3 540.5h0.7M238.3 567.7h0.7M234.6 571.9h0.7M211.1 562.3h0.7M218.8 571.7h0.7M212.4 571.8h0.7M220.4 563.3h0.7M225.8 544.5h0.7M219.1 568.5h0.7M225.0 565.4h0.7M223.8 561.9h0.7M215.6 568.5h0.7M201.4 569.7h0.7M219.4 575.3h0.7M223.8 565.8h0.7M222.0 563.2h0.7M215.0 561.0h0.7M223.2 574.7h0.7M211.9 570.1h0.7M233.8 566.1h0.7M195.3 563.2h0.7M237.6 563.8h0.7M203.3 557.5h0.7M211.7 561.1h0.7M227.2 569.9h0.7M236.2 555.0h0.7M207.7 577.7h0.7M221.1 575.3h0.7M228.5 563.1h0.7M211.2 572.6h0.7M231.9 564.1h0.7M211.3 573.5h0.7M226.2 563.5h0.7M214.5 556.2h0.7M221.4 568.7h0.7M222.3 568.6h0.7M207.4 563.2h0.7M232.4 550.2h0.7M222.8 580.4h0.7M214.9 575.3h0.7M187.7 566.2h0.7M222.7 584.3h0.7M193.5 551.7h0.7M217.7 551.4h0.7M213.9 566.7h0.7M221.3 555.7h0.7M235.3 562.6h0.7M211.4 574.8h0.7M239.1 571.5h0.7M213.1 564.0h0.7M215.8 561.0h0.7M221.7 568.5h0.7M225.9 561.8h0.7M200.3 561.3h0.7M223.6 574.8h0.7M222.5 570.3h0.7M229.1 565.1h0.7M190.5 563.6h0.7M198.6 564.6h0.7M228.3 573.9h0.7M227.8 565.5h0.7M205.6 574.8h0.7M216.7 574.1h0.7M222.2 566.6h0.7M235.3 566.5h0.7M221.5 548.1h0.7M212.0 570.8h0.7M236.4 555.6h0.7M215.2 554.1h0.7M218.0 557.5h0.7M205.0 571.7h0.7M222.6 572.2h0.7M231.6 572.4h0.7M227.5 555.4h0.7M229.8 566.7h0.7M222.9 557.5h0.7M224.6 564.9h0.7M212.0 567.9h0.7M215.5 555.9h0.7M215.1 565.2h0.7M211.6 569.8h0.7M218.5 562.3h0.7M222.6 577.4h0.7M218.9 560.9h0.7M205.5 568.5h0.7M218.6 577.4h0.7M217.8 572.5h0.7M212.1 577.1h0.7M230.1 560.8h0.7M220.3 569.7h0.7M211.7 569.0h0.7M220.6 586.4h0.7M213.1 551.7h0.7M213.2 563.9h0.7M217.8 580.3h0.7M218.7 564.8h0.7M213.3 566.3h0.7M196.3 583.8h0.7M205.6 561.2h0.7M232.1 577.3h0.7M214.4 562.0h0.7M221.6 573.1h0.7M221.9 575.6h0.7M214.5 571.9h0.7M219.1 576.3h0.7M205.4 552.6h0.7M222.5 560.3h0.7M223.6 572.3h0.7M223.2 553.8h0.7M207.6 563.5h0.7M190.4 548.8h0.7M232.0 555.1h0.7M224.1 554.1h0.7M229.0 566.9h0.7M243.9 565.4h0.7M208.5 568.1h0.7M224.3 572.2h0.7M222.8 554.4h0.7M219.5 552.6h0.7M200.4 558.2h0.7M214.5 562.2h0.7M221.6 560.1h0.7M214.6 556.0h0.7M233.7 560.2h0.7M217.6 551.5h0.7M208.7 567.9h0.7M218.7 566.3h0.7M227.7 568.5h0.7M228.4 568.7h0.7M231.8 577.9h0.7M226.6 561.9h0.7M215.1 566.0h0.7M213.2 576.2h0.7M228.3 578.3h0.7M234.1 572.2h0.7M227.6 546.3h0.7M216.2 565.1h0.7M233.5 573.3h0.7M220.9 559.1h0.7M219.5 569.6h0.7M255.7 584.0h0.7M210.6 563.0h0.7M200.8 576.6h0.7M208.2 564.6h0.7M218.3 559.3h0.7M232.8 556.6h0.7M221.9 572.2h0.7M235.3 571.3h0.7M202.8 564.7h0.7M200.7 561.9h0.7M211.4 545.9h0.7M213.5 561.6h0.7M224.0 558.0h0.7M210.9 562.9h0.7M235.0 578.4h0.7M212.8 582.5h0.7M221.2 573.6h0.7M215.2 578.3h0.7M221.1 565.5h0.7M220.4 553.3h0.7M213.5 551.8h0.7M220.6 548.7h0.7M220.7 583.6h0.7M212.8 554.0h0.7M216.1 571.3h0.7M217.2 572.3h0.7M213.9 562.2h0.7M221.2 547.5h0.7M219.2 552.2h0.7M218.6 558.9h0.7M208.0 548.2h0.7M240.1 568.7h0.7M228.5 557.7h0.7M221.1 576.4h0.7M208.0 575.5h0.7M216.9 571.0h0.7M231.7 572.4h0.7M209.9 562.2h0.7M222.5 556.7h0.7M220.7 561.1h0.7M237.8 541.0h0.7M223.5 583.7h0.7M229.9 560.0h0.7M213.5 571.9h0.7M222.0 553.0h0.7M228.8 564.7h0.7M223.1 583.6h0.7M217.4 559.4h0.7M219.3 574.1h0.7M223.1 566.6h0.7M195.6 577.7h0.7M217.8 560.3h0.7M222.8 558.1h0.7M235.0 557.3h0.7M231.6 560.5h0.7M215.2 574.2h0.7M223.1 566.6h0.7M219.7 581.6h0.7M210.5 548.2h0.7M233.1 566.8h0.7M200.0 567.4h0.7M211.0 564.4h0.7M217.3 557.6h0.7M205.7 555.2h0.7M222.5 570.2h0.7M229.4 566.6h0.7M221.8 564.8h0.7" stroke="#1a1a1a" stroke-opacity="0.6400000000000001" stroke-width="0.7" fill="none"/>
<path d="M240.7 579.1h0.7M243.2 587.2h0.7M248.2 577.4h0.7M230.3 567.2h0.7M244.1 572.6h0.7M233.1 586.7h0.7M222.9 565.6h0.7M234.5 579.6h0.7M252.7 578.5h0.7M231.2 574.4h0.7M255.3 572.1h0.7M219.9 581.8h0.7M218.6 574.3h0.7M247.1 572.1h0.7M232.2 566.4h0.7M235.9 587.0h0.7M250.9 571.4h0.7M235.5 583.1h0.7M241.9 580.4h0.7M231.7 577.7h0.7M242.3 585.3h0.7M241.1 572.9h0.7M227.3 567.1h0.7M248.7 567.9h0.7M249.4 573.8h0.7M238.7 578.3h0.7M236.2 569.6h0.7M241.0 576.7h0.7M233.0 574.5h0.7M240.4 573.0h0.7M231.4 573.3h0.7M227.2 573.7h0.7M219.1 579.0h0.7M229.5 569.1h0.7M241.3 573.7h0.7M222.8 573.0h0.7M227.8 570.9h0.7M238.3 573.7h0.7M254.1 565.8h0.7M221.3 572.4h0.7M241.6 569.8h0.7M240.0 584.6h0.7M220.5 576.1h0.7M230.0 569.5h0.7M239.0 585.3h0.7M222.8 574.0h0.7M224.5 584.7h0.7M227.7 567.6h0.7M222.9 576.7h0.7M229.4 582.8h0.7M246.6 574.8h0.7M224.8 582.5h0.7M249.0 581.4h0.7M225.9 581.8h0.7M228.3 565.3h0.7M232.0 579.2h0.7M239.9 564.5h0.7M235.4 574.2h0.7M239.2 571.5h0.7M252.8 580.4h0.7M252.0 585.5h0.7M255.8 583.1h0.7M236.8 574.7h0.7M222.7 582.2h0.7M225.9 575.3h0.7M236.6 587.0h0.7M225.5 568.3h0.7M246.4 572.2h0.7M225.8 570.6h0.7M230.2 570.9h0.7M233.0 577.1h0.7M242.0 571.4h0.7M241.2 576.9h0.7M236.8 576.3h0.7M226.6 573.7h0.7M246.1 582.9h0.7M247.5 574.3h0.7M237.4 570.1h0.7M237.2 575.3h0.7M244.1 570.9h0.7M217.1 582.0h0.7M223.7 586.8h0.7M236.5 568.4h0.7M228.9 579.8h0.7M248.2 563.1h0.7M243.9 569.2h0.7M229.3 576.7h0.7M249.0 567.4h0.7M214.9 571.2h0.7M234.8 583.9h0.7M249.2 574.7h0.7M240.8 575.7h0.7M246.9 573.4h0.7M230.9 578.2h0.7M247.8 577.6h0.7M246.7 579.3h0.7M224.1 578.1h0.7M226.2 581.8h0.7M222.3 568.8h0.7M246.2 572.6h0.7M213.2 579.4h0.7M236.3 581.2h0.7M244.7 566.7h0.7M254.6 578.0h0.7M249.8 573.6h0.7M237.0 579.8h0.7M239.0 569.2h0.7M251.0 570.4h0.7M241.8 585.3h0.7M222.7 575.2h0.7M246.6 576.5h0.7M234.4 573.3h0.7M231.7 573.5h0.7M237.2 577.9h0.7M234.1 562.5h0.7M228.9 575.3h0.7M235.6 570.8h0.7M240.5 568.0h0.7M240.2 574.3h0.7M237.2 579.2h0.7M239.5 572.4h0.7M225.5 570.8h0.7M222.6 575.1h0.7M240.2 573.2h0.7M230.8 569.9h0.7M244.7 576.7h0.7M250.1 569.3h0.7M233.7 568.7h0.7M223.8 573.6h0.7M247.9 569.6h0.7M226.9 566.3h0.7M249.1 577.0h0.7M240.9 567.0h0.7M226.5 568.5h0.7M246.7 580.2h0.7M235.0 584.4h0.7M236.4 567.9h0.7M246.5 572.3h0.7M232.7 584.6h0.7M232.8 577.3h0.7M236.4 583.0h0.7M244.0 576.9h0.7M238.9 574.4h0.7M255.1 569.7h0.7M251.8 585.7h0.7M221.0 569.4h0.7M254.7 585.2h0.7M220.4 577.1h0.7M225.3 578.1h0.7M244.7 571.2h0.7M241.2 572.6h0.7M239.2 577.8h0.7M231.3 576.0h0.7M217.5 573.6h0.7M231.7 575.3h0.7M228.2 583.6h0.7M232.2 579.2h0.7M244.0 577.1h0.7M218.4 578.5h0.7M243.1 567.8h0.7M233.8 578.3h0.7M228.8 583.0h0.7M228.1 570.0h0.7M232.6 580.1h0.7M250.5 581.3h0.7M224.6 571.5h0.7M243.9 575.4h0.7M253.1 584.1h0.7M242.4 579.2h0.7M236.0 584.9h0.7M228.2 564.0h0.7M243.1 586.5h0.7M236.7 581.9h0.7M244.9 587.0h0.7M236.2 574.4h0.7M240.6 578.8h0.7M231.3 575.9h0.7M236.7 583.5h0.7M252.0 572.8h0.7M240.7 576.0h0.7M228.0 579.7h0.7M240.4 580.5h0.7M228.8 574.8h0.7M221.7 570.1h0.7M237.2 589.1h0.7M253.1 574.5h0.7M237.2 566.9h0.7M232.8 576.9h0.7M231.7 578.4h0.7M246.3 578.4h0.7M224.0 573.0h0.7M237.0 580.2h0.7M219.5 569.7h0.7" stroke="#1a1a1a" stroke-opacity="0.48" stroke-width="0.7" fill="none"/>
<path d="M200.7 581.0h0.7M203.5 581.3h0.7M213.3 575.6h0.7M201.6 558.5h0.7M196.5 578.6h0.7M210.2 569.6h0.7M202.2 579.4h0.7M184.4 578.8h0.7M185.3 557.0h0.7M205.0 575.4h0.7M174.8 578.1h0.7M206.6 563.1h0.7M200.9 559.6h0.7M191.2 557.0h0.7M175.2 577.8h0.7M173.1 558.5h0.7M216.0 568.8h0.7M180.8 581.2h0.7M210.2 556.6h0.7M180.1 556.3h0.7M202.6 559.9h0.7M187.9 580.8h0.7M202.5 576.7h0.7M202.9 581.4h0.7M207.9 561.9h0.7M177.8 581.6h0.7M211.0 569.9h0.7M207.8 562.9h0.7M184.3 580.0h0.7M185.7 556.9h0.7M190.5 555.7h0.7M206.2 559.8h0.7M187.3 582.2h0.7M193.3 556.4h0.7M212.5 566.0h0.7M199.1 557.8h0.7M211.4 568.3h0.7M211.2 572.6h0.7M192.7 557.2h0.7M179.4 555.3h0.7M202.3 575.8h0.7M202.9 580.6h0.7M184.3 555.1h0.7M201.8 576.0h0.7M205.8 558.1h0.7M175.9 558.8h0.7M208.6 571.9h0.7M211.5 573.0h0.7M181.1 554.7h0.7M211.8 564.2h0.7M198.0 556.2h0.7M206.8 577.6h0.7M179.1 579.7h0.7M191.7 557.0h0.7M182.5 557.6h0.7M207.4 573.6h0.7M211.8 565.3h0.7M211.5 558.2h0.7M177.2 578.6h0.7M175.2 557.2h0.7M209.0 559.2h0.7M206.8 562.6h0.7M212.6 565.4h0.7M170.4 559.4h0.7M185.5 552.2h0.7M181.3 556.8h0.7M191.1 579.6h0.7M215.8 569.2h0.7M214.7 568.8h0.7M202.8 578.0h0.7M184.4 579.6h0.7M185.1 580.5h0.7M211.0 571.0h0.7M204.2 559.5h0.7M173.9 553.6h0.7M174.4 576.7h0.7M198.1 558.2h0.7M185.2 579.2h0.7M194.7 558.2h0.7M170.6 556.8h0.7M219.8 561.6h0.7M207.4 576.0h0.7M205.9 560.3h0.7M215.2 569.4h0.7M203.9 575.8h0.7M203.1 556.3h0.7M218.6 567.3h0.7M183.5 554.7h0.7M211.4 566.7h0.7M183.3 580.0h0.7M210.2 561.8h0.7M184.9 581.6h0.7M206.9 573.3h0.7M180.4 555.3h0.7M196.5 578.5h0.7M172.6 577.7h0.7M203.9 559.9h0.7M191.4 578.6h0.7M200.7 557.2h0.7M192.4 578.9h0.7M210.5 567.8h0.7M200.3 576.6h0.7M205.4 561.6h0.7M212.3 563.5h0.7M198.8 555.7h0.7M194.2 552.6h0.7M213.6 571.2h0.7M194.0 578.7h0.7M200.3 559.5h0.7M210.7 575.1h0.7M204.8 558.2h0.7M215.5 565.1h0.7M173.9 556.8h0.7M179.6 582.4h0.7M170.2 576.5h0.7M203.0 575.6h0.7M190.3 557.0h0.7M209.5 565.9h0.7M178.3 577.8h0.7M200.8 559.3h0.7M170.3 560.1h0.7M192.7 580.0h0.7M213.5 573.4h0.7M176.3 553.9h0.7M170.7 559.7h0.7M205.7 554.9h0.7M201.8 560.1h0.7M215.7 571.9h0.7M209.0 563.3h0.7M179.4 578.9h0.7M178.8 555.5h0.7M209.1 565.3h0.7M179.6 558.1h0.7M217.9 564.6h0.7M209.7 571.9h0.7M206.4 562.4h0.7M194.4 557.1h0.7M177.0 558.3h0.7M205.3 561.4h0.7M207.9 561.5h0.7M176.8 555.0h0.7M207.4 561.6h0.7M212.5 573.7h0.7M210.0 562.6h0.7M186.7 579.3h0.7M206.3 577.7h0.7M208.7 574.9h0.7M197.4 558.7h0.7M200.8 576.4h0.7M216.1 566.0h0.7M186.0 579.1h0.7M189.7 557.1h0.7M184.4 555.3h0.7M201.7 556.0h0.7M185.7 555.9h0.7M207.5 572.1h0.7M209.3 570.9h0.7M215.3 574.7h0.7M198.5 555.7h0.7M190.3 556.5h0.7M182.0 579.1h0.7M198.9 558.4h0.7M208.7 576.2h0.7M177.5 577.8h0.7M179.3 581.7h0.7M199.2 558.2h0.7M199.3 577.2h0.7M173.8 559.2h0.7M207.5 574.2h0.7M171.9 556.0h0.7M211.6 559.3h0.7M194.3 557.3h0.7M170.1 559.5h0.7M183.3 556.4h0.7M202.8 576.4h0.7M198.7 556.6h0.7M174.8 555.7h0.7M177.4 558.1h0.7M174.1 558.6h0.7M207.8 577.0h0.7M179.0 558.0h0.7M196.6 579.0h0.7M206.0 557.3h0.7M193.9 578.4h0.7M177.9 581.3h0.7M198.5 558.2h0.7M209.8 570.6h0.7M213.0 568.1h0.7M183.6 578.8h0.7M204.5 579.2h0.7M178.4 556.7h0.7M210.4 576.9h0.7M204.9 575.5h0.7M203.7 560.0h0.7M179.9 578.6h0.7M201.1 558.2h0.7M195.0 554.0h0.7M183.1 557.5h0.7M192.0 579.3h0.7M174.0 555.8h0.7M201.4 559.1h0.7M172.0 577.1h0.7M209.5 579.0h0.7M176.2 558.3h0.7M190.4 580.2h0.7M200.9 556.9h0.7M180.4 553.7h0.7M188.1 579.2h0.7M212.7 560.6h0.7M186.7 555.6h0.7M191.4 554.3h0.7M210.4 563.6h0.7M189.2 578.8h0.7M212.9 562.7h0.7M219.1 569.3h0.7M214.0 569.6h0.7M198.3 579.4h0.7M218.0 564.1h0.7M199.4 576.8h0.7M182.1 557.5h0.7M208.2 574.4h0.7M209.6 570.6h0.7M190.2 581.9h0.7M176.1 558.3h0.7M200.7 556.2h0.7M208.1 572.6h0.7M184.2 555.9h0.7M214.4 566.6h0.7M184.1 557.5h0.7M189.2 579.4h0.7M197.7 557.7h0.7M189.6 557.0h0.7M213.8 576.2h0.7M176.3 577.4h0.7M178.3 581.3h0.7M193.8 579.5h0.7M210.6 567.3h0.7M210.5 576.9h0.7M207.7 562.7h0.7M211.5 566.1h0.7M178.9 578.8h0.7M181.3 556.6h0.7M180.2 578.8h0.7M205.3 581.5h0.7M199.2 558.5h0.7M196.0 558.3h0.7M173.8 558.6h0.7M180.1 556.4h0.7M177.7 557.3h0.7M191.3 556.2h0.7M187.1 582.3h0.7M175.1 580.3h0.7M176.9 553.4h0.7M173.8 579.1h0.7M217.2 571.4h0.7M173.1 577.0h0.7M194.4 578.8h0.7M208.8 560.1h0.7M220.2 568.5h0.7M174.3 559.2h0.7M177.4 579.1h0.7M195.0 581.2h0.7M198.4 557.1h0.7M197.5 578.0h0.7M196.9 578.7h0.7M212.4 573.3h0.7M207.9 561.7h0.7M191.7 579.3h0.7M204.3 574.7h0.7M216.6 571.9h0.7M206.4 577.3h0.7M209.0 571.4h0.7M210.9 567.6h0.7M187.2 556.3h0.7M215.3 566.0h0.7M177.4 554.9h0.7M215.4 569.0h0.7M174.6 578.3h0.7M205.3 560.1h0.7M217.9 560.3h0.7M209.7 569.4h0.7M171.1 558.3h0.7M193.1 553.9h0.7M176.4 578.0h0.7M188.0 579.7h0.7M184.5 580.3h0.7M175.8 577.2h0.7M213.8 567.1h0.7M192.1 580.9h0.7M180.3 557.2h0.7M172.2 559.5h0.7M203.7 577.0h0.7M207.4 558.7h0.7M196.1 558.2h0.7M212.8 567.7h0.7" stroke="#1a1a1a" stroke-opacity="0.7" stroke-width="0.7" fill="none"/>
<path d="M199.8 530.1h0.7M182.7 541.1h0.7M214.6 550.4h0.7M209.6 551.4h0.7M190.2 549.2h0.7M202.0 528.4h0.7M201.8 526.4h0.7M181.5 546.3h0.7M214.6 550.7h0.7M208.7 528.2h0.7M221.7 533.8h0.7M205.0 551.3h0.7M214.0 530.9h0.7M182.5 533.4h0.7M225.3 545.6h0.7M204.3 529.5h0.7M217.2 526.8h0.7M179.2 546.6h0.7M216.9 532.0h0.7M184.8 533.2h0.7M208.1 551.1h0.7M182.3 540.9h0.7M217.9 548.5h0.7M178.6 544.5h0.7M218.2 530.5h0.7M192.0 550.1h0.7M194.4 553.0h0.7M178.5 539.9h0.7M202.0 552.3h0.7M195.4 553.5h0.7M181.6 534.6h0.7M209.5 529.9h0.7M190.0 550.9h0.7M225.4 545.0h0.7M227.3 535.9h0.7M210.6 550.6h0.7M211.6 551.9h0.7M214.4 552.8h0.7M221.2 552.2h0.7M193.6 551.3h0.7M174.9 535.1h0.7M186.7 547.0h0.7M219.4 549.1h0.7M183.7 546.9h0.7M201.8 553.1h0.7M185.7 551.0h0.7M189.6 550.7h0.7M217.7 529.7h0.7M196.2 553.4h0.7M177.5 540.3h0.7M186.0 532.9h0.7M187.6 551.4h0.7M204.2 551.5h0.7M185.4 530.2h0.7M228.8 533.7h0.7M221.8 534.0h0.7M196.4 553.7h0.7M224.6 536.2h0.7M186.4 546.5h0.7M204.5 527.8h0.7M199.1 550.9h0.7M208.1 551.5h0.7M218.3 527.4h0.7M178.6 537.8h0.7M220.4 530.2h0.7M227.4 545.9h0.7M218.2 530.5h0.7M194.3 551.2h0.7M203.5 552.5h0.7M225.4 541.9h0.7M225.9 537.4h0.7M220.1 550.2h0.7M184.8 547.5h0.7M182.0 545.1h0.7M226.7 541.4h0.7M186.7 532.3h0.7M201.8 553.6h0.7M190.5 531.5h0.7M220.7 531.2h0.7M206.5 529.3h0.7M227.6 539.9h0.7M216.2 549.2h0.7M198.5 551.1h0.7M171.8 541.5h0.7M193.6 551.3h0.7M189.3 549.5h0.7M189.1 550.8h0.7M227.4 538.7h0.7M193.1 550.6h0.7M230.2 541.4h0.7M224.9 543.8h0.7M222.0 547.3h0.7M223.3 536.2h0.7M213.6 528.5h0.7M208.4 528.9h0.7M176.3 550.4h0.7M183.3 534.5h0.7M186.1 530.9h0.7M230.3 540.7h0.7M227.7 541.0h0.7M222.9 545.3h0.7M226.1 538.9h0.7M225.6 536.0h0.7M206.6 529.6h0.7M184.8 534.6h0.7M200.2 529.8h0.7M185.7 548.5h0.7M181.1 541.2h0.7M190.7 549.0h0.7M176.8 546.5h0.7M186.8 533.6h0.7M188.7 549.1h0.7M214.3 549.9h0.7M220.1 531.7h0.7M227.5 533.5h0.7M215.1 529.4h0.7M225.1 537.4h0.7M225.6 543.2h0.7M223.8 548.0h0.7M191.3 532.1h0.7M179.4 538.6h0.7M229.9 543.4h0.7M177.6 539.8h0.7M223.5 546.7h0.7M218.9 530.8h0.7M223.4 532.4h0.7M183.3 543.7h0.7M186.4 531.3h0.7M199.4 529.8h0.7M191.1 551.1h0.7M189.3 549.5h0.7M206.4 554.1h0.7M190.5 552.9h0.7M189.1 532.6h0.7M197.4 552.1h0.7M214.3 530.5h0.7M184.6 533.0h0.7M176.7 536.9h0.7M211.7 528.2h0.7M219.4 550.8h0.7M198.0 527.3h0.7M190.5 552.1h0.7M199.6 529.6h0.7M192.2 531.0h0.7M205.5 527.1h0.7M185.8 546.0h0.7M225.1 544.1h0.7M183.0 545.2h0.7M202.3 528.5h0.7M195.9 529.5h0.7M190.3 550.2h0.7M184.4 548.9h0.7M187.2 549.0h0.7M182.4 547.0h0.7M179.5 541.6h0.7M224.9 534.3h0.7M182.2 538.1h0.7M180.3 538.2h0.7M215.4 555.2h0.7M198.7 526.7h0.7M204.1 556.2h0.7M196.4 529.4h0.7M182.1 539.0h0.7M196.9 530.6h0.7M215.1 529.3h0.7M217.7 552.9h0.7M206.5 529.1h0.7M197.0 553.6h0.7M209.6 552.1h0.7M188.3 533.3h0.7M222.2 534.0h0.7M202.2 529.4h0.7M202.4 529.4h0.7M221.1 534.1h0.7M235.5 544.4h0.7M179.4 539.6h0.7M205.6 552.0h0.7M221.4 531.7h0.7M187.2 548.0h0.7M229.8 532.6h0.7M179.8 536.9h0.7M206.9 554.1h0.7M200.6 552.4h0.7M181.1 544.6h0.7M181.6 544.7h0.7M183.5 531.5h0.7M209.2 552.8h0.7M185.5 533.0h0.7M202.5 529.4h0.7M224.7 548.7h0.7M215.7 551.4h0.7M222.0 549.6h0.7M180.4 540.2h0.7M177.8 541.6h0.7M192.2 529.1h0.7M192.2 529.8h0.7M208.3 553.6h0.7M179.3 544.2h0.7M195.3 528.9h0.7M175.9 541.8h0.7M211.1 555.4h0.7M212.0 551.9h0.7M219.0 548.1h0.7M221.9 546.6h0.7M181.9 542.2h0.7M212.1 552.0h0.7M189.0 549.7h0.7M184.2 547.6h0.7M210.3 552.9h0.7M210.1 550.9h0.7M226.7 538.2h0.7M206.5 529.7h0.7M225.3 532.1h0.7M200.8 552.7h0.7M223.2 532.7h0.7M186.2 546.3h0.7M222.3 533.9h0.7M182.6 536.9h0.7M183.1 545.9h0.7M210.7 530.1h0.7M224.8 538.9h0.7M203.7 551.5h0.7M188.7 549.8h0.7M223.9 547.2h0.7" stroke="#1a1a1a" stroke-opacity="0.7" stroke-width="0.7" fill="none"/>
<path d="M212.0 553.2h0.7M216.5 551.2h0.7M207.6 555.2h0.7M216.8 550.5h0.7M208.2 546.8h0.7M204.4 555.3h0.7M213.3 552.3h0.7M196.6 551.5h0.7M204.8 546.7h0.7M211.3 546.6h0.7M202.3 546.7h0.7M198.1 548.8h0.7M210.7 547.0h0.7M206.1 545.8h0.7M217.4 549.4h0.7M206.3 546.4h0.7M213.1 552.6h0.7M214.2 548.5h0.7M196.7 552.6h0.7M207.8 555.4h0.7M215.9 547.9h0.7M212.4 554.1h0.7M201.4 554.9h0.7M213.0 547.3h0.7M204.7 555.6h0.7M215.3 550.5h0.7M214.9 549.2h0.7M203.2 555.3h0.7M202.2 555.7h0.7M204.8 555.4h0.7M209.7 554.8h0.7M197.4 550.3h0.7M216.7 550.0h0.7M197.5 554.9h0.7M202.3 555.2h0.7M199.1 554.6h0.7M202.8 555.5h0.7M206.6 546.9h0.7M199.1 554.8h0.7M201.1 548.3h0.7M198.2 549.7h0.7M198.1 549.9h0.7M198.4 554.8h0.7M213.7 548.2h0.7M206.5 545.7h0.7M211.2 554.3h0.7M198.7 549.6h0.7M209.7 545.6h0.7M198.1 554.5h0.7M209.7 554.9h0.7M203.9 555.8h0.7M197.4 551.4h0.7M201.1 548.6h0.7M197.8 554.1h0.7M198.8 554.9h0.7M213.1 553.7h0.7M205.0 556.3h0.7M207.0 556.0h0.7M213.3 553.1h0.7M198.2 552.2h0.7M213.4 547.8h0.7M207.1 546.4h0.7M215.2 545.3h0.7M196.9 552.1h0.7M217.3 549.2h0.7M199.7 548.8h0.7M216.0 550.8h0.7M207.3 546.8h0.7M197.6 553.2h0.7M205.4 546.7h0.7M214.4 550.0h0.7M213.3 552.4h0.7M197.2 553.1h0.7M198.0 550.0h0.7M209.5 554.6h0.7M196.8 554.9h0.7M210.5 553.9h0.7M214.2 548.9h0.7M197.6 551.1h0.7M217.1 551.4h0.7M205.0 547.0h0.7M201.9 555.3h0.7M216.5 550.8h0.7M214.5 551.4h0.7" stroke="#1a1a1a" stroke-opacity="0.7" stroke-width="0.7" fill="none"/>
<path d="M229.3 562.9h0.7M222.2 534.7h0.7M219.3 544.1h0.7M248.1 538.9h0.7M227.2 526.5h0.7M245.4 544.7h0.7M246.0 531.5h0.7M228.1 562.4h0.7M244.6 536.0h0.7M220.0 559.8h0.7M246.2 528.7h0.7M215.9 550.7h0.7M220.8 534.3h0.7M241.0 551.8h0.7M218.6 557.4h0.7M228.8 528.0h0.7M244.4 524.1h0.7M243.9 526.3h0.7M233.0 521.5h0.7M245.0 532.1h0.7M218.7 534.6h0.7M235.4 519.3h0.7M233.5 523.9h0.7M247.0 538.7h0.7M219.2 539.7h0.7M216.5 543.5h0.7M244.2 528.9h0.7M224.6 525.2h0.7M245.6 534.9h0.7M236.3 560.6h0.7M229.5 522.6h0.7M230.0 562.2h0.7M235.6 522.5h0.7M220.0 533.0h0.7M217.4 560.3h0.7M225.1 527.2h0.7M228.5 523.1h0.7M238.9 523.7h0.7M213.0 546.2h0.7M238.4 555.6h0.7M215.1 560.5h0.7M232.2 562.1h0.7M222.1 567.2h0.7M216.4 553.6h0.7M247.9 541.7h0.7M221.1 538.3h0.7M234.4 560.4h0.7M243.2 525.2h0.7M244.6 539.9h0.7M245.8 528.7h0.7M215.2 565.2h0.7M246.0 529.8h0.7M239.7 553.3h0.7M217.8 544.8h0.7M222.4 562.5h0.7M214.9 554.0h0.7M217.4 555.7h0.7M223.0 561.9h0.7M247.8 539.7h0.7M224.6 564.1h0.7M241.8 522.3h0.7M224.4 529.3h0.7M220.3 533.6h0.7M227.3 562.9h0.7M243.6 530.5h0.7M244.5 534.4h0.7M227.5 526.4h0.7M248.2 538.2h0.7M239.4 553.9h0.7M244.0 529.5h0.7M239.4 552.5h0.7M245.0 535.3h0.7M233.6 523.7h0.7M225.0 529.0h0.7M222.6 562.0h0.7M220.6 568.1h0.7M243.5 527.7h0.7M240.8 522.9h0.7M221.6 561.1h0.7M242.3 527.5h0.7M222.8 532.6h0.7M235.6 557.4h0.7M217.7 542.8h0.7M244.0 525.8h0.7M213.6 549.0h0.7M246.3 536.6h0.7M248.2 525.2h0.7M236.7 555.3h0.7M242.0 550.7h0.7M249.8 526.4h0.7M221.3 560.6h0.7M221.1 560.4h0.7M246.5 537.0h0.7M222.9 533.4h0.7M231.3 564.3h0.7M240.6 523.8h0.7M243.8 547.5h0.7M221.3 537.0h0.7M246.2 526.6h0.7M221.2 538.0h0.7M225.8 531.1h0.7M223.4 563.6h0.7M235.1 523.0h0.7M233.4 559.8h0.7M244.9 529.9h0.7M231.7 519.6h0.7M245.8 543.2h0.7M244.8 531.7h0.7M222.1 532.8h0.7M244.2 541.7h0.7M236.8 523.3h0.7M218.3 538.9h0.7M241.1 550.6h0.7M217.8 545.3h0.7M231.9 562.8h0.7M238.1 559.4h0.7M232.0 562.9h0.7M241.1 551.7h0.7M217.8 538.0h0.7M244.7 544.3h0.7M220.7 560.2h0.7M218.6 546.9h0.7M245.5 549.2h0.7M241.9 548.5h0.7M236.7 521.2h0.7M242.6 550.7h0.7M215.6 545.6h0.7M220.4 537.2h0.7M214.4 554.1h0.7M221.5 536.8h0.7M219.4 562.2h0.7M247.3 532.1h0.7M225.7 527.1h0.7M223.5 561.8h0.7M223.1 534.4h0.7M245.1 536.6h0.7M244.8 541.2h0.7M216.9 544.6h0.7M221.1 562.6h0.7M233.9 563.4h0.7M244.7 530.6h0.7M241.5 547.8h0.7M231.1 565.5h0.7M224.6 567.8h0.7M242.5 552.8h0.7M217.3 545.2h0.7M238.3 524.2h0.7M239.6 520.5h0.7M216.7 546.2h0.7M219.9 534.9h0.7M246.5 545.4h0.7M224.5 531.0h0.7M224.5 563.0h0.7M241.6 524.6h0.7M245.2 536.7h0.7M239.0 552.6h0.7M242.7 545.2h0.7M246.3 546.4h0.7M222.4 564.7h0.7M232.6 565.3h0.7M220.7 572.5h0.7M245.8 540.6h0.7M221.2 564.6h0.7M239.3 524.6h0.7M228.4 528.2h0.7M234.7 558.5h0.7M223.8 533.4h0.7M223.2 562.6h0.7M218.8 542.7h0.7M218.0 552.5h0.7M244.2 547.3h0.7M235.7 524.2h0.7M219.3 540.9h0.7M240.9 555.0h0.7M245.1 527.0h0.7M218.1 552.2h0.7M214.3 558.9h0.7M227.7 522.5h0.7M244.5 534.2h0.7M240.4 522.4h0.7M247.9 536.8h0.7M236.4 524.3h0.7M222.3 566.3h0.7M222.0 537.1h0.7M216.0 559.0h0.7M244.0 524.1h0.7M232.6 523.1h0.7M229.2 527.8h0.7M241.7 525.4h0.7M218.6 542.7h0.7M243.5 527.4h0.7M233.1 524.5h0.7M248.0 537.0h0.7M235.5 557.8h0.7M242.4 525.6h0.7M229.8 564.3h0.7" stroke="#1a1a1a" stroke-opacity="0.7" stroke-width="0.7" fill="none"/>
<ellipse cx="187.0" cy="568.0" rx="22.60" ry="11.10" transform="rotate(0 187.0 568.0)" fill="#fff" stroke="#fff" stroke-width="1.4"/>
<ellipse cx="187.0" cy="568.0" rx="22.00" ry="10.50" transform="rotate(0 187.0 568.0)" fill="#fafafa" stroke="#8a8a8a" stroke-width="0.65"/>
<ellipse cx="187.0" cy="568.0" rx="18.26" ry="8.71" transform="rotate(0 187.0 568.0)" fill="#e8e8e8" stroke="#8a8a8a" stroke-width="0.42"/>
<ellipse cx="187.0" cy="568.0" rx="14.52" ry="6.93" transform="rotate(0 187.0 568.0)" fill="#d6d6d6" stroke="#8a8a8a" stroke-width="0.42"/>
<ellipse cx="187.0" cy="568.0" rx="10.78" ry="5.14" transform="rotate(0 187.0 568.0)" fill="#c4c4c4" stroke="#8a8a8a" stroke-width="0.42"/>
<ellipse cx="187.0" cy="568.0" rx="7.04" ry="3.36" transform="rotate(0 187.0 568.0)" fill="#b2b2b2" stroke="#8a8a8a" stroke-width="0.42"/>
<ellipse cx="204.0" cy="540.5" rx="21.60" ry="11.10" transform="rotate(0 204.0 540.5)" fill="#fff" stroke="#fff" stroke-width="1.4"/>
<ellipse cx="204.0" cy="540.5" rx="21.00" ry="10.50" transform="rotate(0 204.0 540.5)" fill="#fafafa" stroke="#8a8a8a" stroke-width="0.65"/>
<ellipse cx="204.0" cy="540.5" rx="17.43" ry="8.71" transform="rotate(0 204.0 540.5)" fill="#e8e8e8" stroke="#8a8a8a" stroke-width="0.42"/>
<ellipse cx="204.0" cy="540.5" rx="13.86" ry="6.93" transform="rotate(0 204.0 540.5)" fill="#d6d6d6" stroke="#8a8a8a" stroke-width="0.42"/>
<ellipse cx="204.0" cy="540.5" rx="10.29" ry="5.14" transform="rotate(0 204.0 540.5)" fill="#c4c4c4" stroke="#8a8a8a" stroke-width="0.42"/>
<ellipse cx="204.0" cy="540.5" rx="6.72" ry="3.36" transform="rotate(0 204.0 540.5)" fill="#b2b2b2" stroke="#8a8a8a" stroke-width="0.42"/>
<ellipse cx="206.3" cy="551.0" rx="8.60" ry="4.60" transform="rotate(-10 206.3 551.0)" fill="#fff" stroke="#fff" stroke-width="1.4"/>
<ellipse cx="206.3" cy="551.0" rx="8.00" ry="4.00" transform="rotate(-10 206.3 551.0)" fill="#fafafa" stroke="#8a8a8a" stroke-width="0.65"/>
<ellipse cx="206.3" cy="551.0" rx="6.64" ry="3.32" transform="rotate(-10 206.3 551.0)" fill="#e8e8e8" stroke="#8a8a8a" stroke-width="0.42"/>
<ellipse cx="206.3" cy="551.0" rx="5.28" ry="2.64" transform="rotate(-10 206.3 551.0)" fill="#d6d6d6" stroke="#8a8a8a" stroke-width="0.42"/>
<ellipse cx="206.3" cy="551.0" rx="3.92" ry="1.96" transform="rotate(-10 206.3 551.0)" fill="#c4c4c4" stroke="#8a8a8a" stroke-width="0.42"/>
<ellipse cx="206.3" cy="551.0" rx="2.56" ry="1.28" transform="rotate(-10 206.3 551.0)" fill="#b2b2b2" stroke="#8a8a8a" stroke-width="0.42"/>
<ellipse cx="231.3" cy="543.2" rx="11.60" ry="20.10" transform="rotate(25 231.3 543.2)" fill="#fff" stroke="#fff" stroke-width="1.4"/>
<ellipse cx="231.3" cy="543.2" rx="11.00" ry="19.50" transform="rotate(25 231.3 543.2)" fill="#fafafa" stroke="#8a8a8a" stroke-width="0.65"/>
<ellipse cx="231.3" cy="543.2" rx="8.66" ry="15.36" transform="rotate(25 231.3 543.2)" fill="#dfdfdf" stroke="#8a8a8a" stroke-width="0.42"/>
<ellipse cx="231.3" cy="543.2" rx="6.32" ry="11.21" transform="rotate(25 231.3 543.2)" fill="#c4c4c4" stroke="#8a8a8a" stroke-width="0.42"/>
<ellipse cx="231.3" cy="543.2" rx="3.99" ry="7.07" transform="rotate(25 231.3 543.2)" fill="#a9a9a9" stroke="#8a8a8a" stroke-width="0.42"/>
<ellipse cx="231.3" cy="543.2" rx="2.20" ry="3.20" transform="rotate(25 231.3 543.2)" fill="#f4f4f4"/>
<path d="M170.7 566.6h0.8M171.3 564.9h0.8M170.6 566.1h0.8M170.2 568.1h0.8M170.7 571.7h0.8M170.2 579.3h0.8M170.8 554.0h0.8M171.2 575.6h0.8M170.4 568.7h0.8M172.3 568.8h0.8M170.8 562.5h0.8M170.2 562.7h0.8M170.1 569.3h0.8M171.0 563.3h0.8M171.6 568.6h0.8M169.2 567.8h0.8M169.8 565.5h0.8M170.0 573.7h0.8M171.8 568.6h0.8M170.8 561.5h0.8M170.6 569.6h0.8M171.4 563.7h0.8M170.5 572.6h0.8M171.2 563.0h0.8M170.6 570.8h0.8M171.3 565.9h0.8M170.2 562.9h0.8M169.8 568.9h0.8M170.4 575.1h0.8M170.3 557.6h0.8M169.8 555.2h0.8M170.2 571.9h0.8M170.3 573.9h0.8M169.0 565.0h0.8M170.3 550.8h0.8M169.4 565.5h0.8M171.1 565.4h0.8M169.5 568.7h0.8M170.4 563.1h0.8M170.3 556.0h0.8M169.6 557.0h0.8M170.8 576.7h0.8M171.0 569.3h0.8M171.5 579.4h0.8M170.3 563.9h0.8M170.9 569.0h0.8M169.5 568.4h0.8M171.0 568.7h0.8M169.7 575.8h0.8M170.6 575.3h0.8M170.5 565.5h0.8M170.2 582.1h0.8M171.4 574.6h0.8M170.7 577.3h0.8M169.6 565.6h0.8M171.0 563.7h0.8M169.7 566.8h0.8M170.4 568.1h0.8M169.9 564.5h0.8M170.5 564.2h0.8M171.1 575.1h0.8M170.7 565.7h0.8M171.0 571.2h0.8M169.4 570.3h0.8M170.6 570.6h0.8M171.3 569.8h0.8M171.4 565.1h0.8M171.3 566.3h0.8M170.8 560.9h0.8M170.4 574.5h0.8" stroke="#111" stroke-opacity="0.9" stroke-width="0.8" fill="none"/>
<path d="M182.7,527.8 L227.5,527.8 L215.0,554.5 L182.7,554.5Z" fill="none" stroke="#444" stroke-width="0.85"/>
<ellipse cx="231.3" cy="543.2" rx="13" ry="22" transform="rotate(25 231.3 543.2)" fill="none" stroke="#3a3a3a" stroke-width="0.9"/>
<ellipse cx="231.3" cy="543.2" rx="11.4" ry="20.2" transform="rotate(25 231.3 543.2)" fill="none" stroke="#666" stroke-width="0.55"/>
</g>
<text x="198.2" y="523.5" font-size="10.3" font-weight="bold" text-anchor="middle" >30</text>
<text x="237.0" y="523.5" font-size="10.3" font-weight="bold" text-anchor="middle" >23</text>
<text x="254.0" y="588.0" font-size="7.2" font-weight="bold" text-anchor="end" >F232</text>
<rect x="274.50" y="502.50" width="88.00" height="88.00" fill="none" stroke="#6a6a6a" stroke-width="0.9"/>
<line x1="273.30" y1="505.50" x2="273.30" y2="588.50" stroke="#999" stroke-width="1.2" stroke-dasharray="0.6 2.4"/>
<line x1="277.50" y1="591.70" x2="360.50" y2="591.70" stroke="#999" stroke-width="1.2" stroke-dasharray="0.6 2.4"/>
<text x="271.0" y="513.7" font-size="4.2" fill="#555" text-anchor="end">10<tspan dy="-2" font-size="3">5</tspan></text>
<rect x="272.3" y="511.6" width="1.6" height="1.2" fill="#333"/>
<text x="271.0" y="535.7" font-size="4.2" fill="#555" text-anchor="end">10<tspan dy="-2" font-size="3">4</tspan></text>
<rect x="272.3" y="533.6" width="1.6" height="1.2" fill="#333"/>
<text x="271.0" y="558.6" font-size="4.2" fill="#555" text-anchor="end">10<tspan dy="-2" font-size="3">3</tspan></text>
<rect x="272.3" y="556.5" width="1.6" height="1.2" fill="#333"/>
<text x="271.0" y="574.4" font-size="4.2" fill="#555" text-anchor="end">0</text>
<rect x="272.3" y="572.3" width="1.6" height="1.2" fill="#333"/>
<text x="291.2" y="601.0" font-size="4.2" fill="#555" text-anchor="middle">0</text>
<text x="308.8" y="601.0" font-size="4.2" fill="#555" text-anchor="middle">10<tspan dy="-2" font-size="3">3</tspan></text>
<text x="332.6" y="601.0" font-size="4.2" fill="#555" text-anchor="middle">10<tspan dy="-2" font-size="3">4</tspan></text>
<text x="353.7" y="601.0" font-size="4.2" fill="#555" text-anchor="middle">10<tspan dy="-2" font-size="3">5</tspan></text>
<rect x="290.4" y="591.3" width="1.6" height="1.6" fill="#222"/>
<clipPath id="cp11"><rect x="275.00" y="503.00" width="87.00" height="87.00"/></clipPath><g clip-path="url(#cp11)">
<path d="M325.9 564.5h0.7M315.4 564.2h0.7M332.2 565.4h0.7M342.6 558.7h0.7M329.7 557.3h0.7M329.9 562.7h0.7M308.0 565.6h0.7M335.8 582.6h0.7M318.4 569.4h0.7M323.5 583.4h0.7M326.8 571.6h0.7M309.5 561.4h0.7M310.4 566.0h0.7M339.1 571.4h0.7M298.7 561.7h0.7M318.6 557.7h0.7M320.8 554.6h0.7M334.1 571.8h0.7M327.7 561.9h0.7M312.1 550.3h0.7M322.5 567.8h0.7M325.0 580.4h0.7M341.3 574.5h0.7M327.5 581.0h0.7M324.5 564.0h0.7M316.3 562.0h0.7M334.6 554.2h0.7M340.3 567.2h0.7M308.2 582.8h0.7M310.8 556.0h0.7M317.0 559.3h0.7M310.1 543.8h0.7M321.9 565.4h0.7M318.1 572.0h0.7M338.8 569.6h0.7M318.0 558.0h0.7M323.9 586.5h0.7M320.1 568.7h0.7M315.6 560.5h0.7M318.1 557.2h0.7M313.8 561.4h0.7M330.0 571.1h0.7M321.3 562.3h0.7M318.1 571.8h0.7M327.5 567.2h0.7M326.8 571.8h0.7M319.2 569.4h0.7M305.2 567.5h0.7M348.4 566.9h0.7M327.5 554.8h0.7M320.4 575.2h0.7M318.7 562.1h0.7M331.1 547.3h0.7M315.6 571.0h0.7M319.1 566.6h0.7M337.7 553.5h0.7M321.4 556.7h0.7M329.3 560.1h0.7M319.8 538.8h0.7M325.4 551.6h0.7M326.8 575.9h0.7M324.2 556.6h0.7M332.3 578.3h0.7M329.2 552.5h0.7M316.6 560.4h0.7M327.5 549.9h0.7M309.8 559.9h0.7M349.0 574.7h0.7M328.0 553.9h0.7M305.3 568.7h0.7M327.1 560.6h0.7M323.2 569.4h0.7M314.1 563.8h0.7M339.1 567.0h0.7M323.7 558.5h0.7M303.5 564.9h0.7M332.6 564.0h0.7M322.8 580.6h0.7M311.7 548.0h0.7M327.6 575.3h0.7M335.5 555.8h0.7M325.2 571.8h0.7M329.5 563.5h0.7M313.1 569.2h0.7M315.0 553.6h0.7M306.4 587.1h0.7M325.6 554.6h0.7M313.6 567.4h0.7M324.9 556.9h0.7M306.8 561.1h0.7M328.5 566.7h0.7M329.7 567.8h0.7M321.2 588.0h0.7M330.2 585.4h0.7M337.5 566.4h0.7M315.7 560.7h0.7M317.2 570.1h0.7M324.3 564.1h0.7M296.5 574.0h0.7M316.0 565.0h0.7M301.9 579.5h0.7M340.1 558.7h0.7M309.2 579.2h0.7M313.8 575.6h0.7M301.7 574.3h0.7M342.0 561.3h0.7M333.9 568.0h0.7M336.7 571.2h0.7M312.9 567.1h0.7M328.1 569.3h0.7M328.4 555.5h0.7M306.1 565.0h0.7M312.1 569.0h0.7M323.5 555.4h0.7M328.9 574.1h0.7M334.5 557.8h0.7M338.2 553.9h0.7M313.2 554.9h0.7M327.4 562.3h0.7M328.8 572.6h0.7M296.9 547.1h0.7M337.7 575.1h0.7M334.7 568.4h0.7M328.7 568.5h0.7M338.4 571.0h0.7M320.5 559.5h0.7M323.3 556.1h0.7M344.6 564.4h0.7M320.8 552.2h0.7M329.3 574.1h0.7M317.7 555.3h0.7M301.2 557.2h0.7M321.6 551.4h0.7M317.4 579.9h0.7M313.3 562.2h0.7M330.4 556.6h0.7M316.5 558.7h0.7M326.3 536.3h0.7M310.6 563.2h0.7M319.3 558.0h0.7M333.5 553.3h0.7M327.3 550.5h0.7M321.2 574.0h0.7M323.0 560.8h0.7M325.3 574.9h0.7M331.1 558.9h0.7M323.2 559.0h0.7M328.2 559.7h0.7M329.4 571.3h0.7M329.4 562.1h0.7M328.2 588.4h0.7M310.2 579.9h0.7M328.2 585.1h0.7M320.7 580.1h0.7M324.9 572.9h0.7M320.2 547.2h0.7M319.4 557.7h0.7M325.1 558.0h0.7M323.9 565.6h0.7M312.9 575.6h0.7M297.0 565.9h0.7M320.9 560.0h0.7M312.2 587.2h0.7M315.7 565.8h0.7M342.2 560.9h0.7M320.0 576.4h0.7M321.3 565.5h0.7M324.8 554.1h0.7M311.7 575.3h0.7M334.5 558.2h0.7M320.2 560.3h0.7M325.4 557.5h0.7M331.4 552.5h0.7M307.7 571.7h0.7M308.8 554.3h0.7M327.5 566.8h0.7M339.3 556.7h0.7M295.1 567.9h0.7M316.6 555.0h0.7M319.2 574.3h0.7M309.4 570.2h0.7M320.6 558.2h0.7M334.3 561.0h0.7M348.5 557.1h0.7M318.2 577.7h0.7M325.1 559.9h0.7M324.0 562.5h0.7M316.5 576.8h0.7M320.4 549.7h0.7M324.2 570.2h0.7M326.6 555.7h0.7M332.6 534.8h0.7M308.0 564.6h0.7M330.9 562.6h0.7M328.1 566.2h0.7M340.3 573.3h0.7M325.3 561.9h0.7M316.9 563.6h0.7M314.2 553.7h0.7M323.3 569.3h0.7M344.8 573.4h0.7M332.0 555.0h0.7M320.4 565.5h0.7M318.5 563.9h0.7M318.2 559.7h0.7M325.2 565.7h0.7M328.9 547.8h0.7M345.0 571.7h0.7M316.1 565.9h0.7M333.0 558.3h0.7M333.1 571.4h0.7M342.7 573.2h0.7M317.6 558.2h0.7M320.1 559.1h0.7M317.3 574.4h0.7M330.1 560.4h0.7M321.2 566.5h0.7M328.0 583.8h0.7M312.0 586.2h0.7M311.8 571.6h0.7M328.6 557.8h0.7M317.5 568.4h0.7M331.9 578.8h0.7M322.0 563.7h0.7M317.0 562.3h0.7M304.8 581.0h0.7M319.8 568.5h0.7M313.0 570.4h0.7M328.7 576.9h0.7M308.2 568.0h0.7M317.3 546.6h0.7M335.3 568.6h0.7M331.1 563.6h0.7M335.4 562.7h0.7M305.1 572.0h0.7M334.3 560.2h0.7M322.6 558.9h0.7M323.0 565.9h0.7M323.3 567.4h0.7M334.0 574.2h0.7M315.9 562.6h0.7M334.1 541.0h0.7M314.1 564.2h0.7M312.6 572.1h0.7M312.3 551.8h0.7M329.5 562.9h0.7M327.0 553.1h0.7M324.5 567.5h0.7M309.9 536.7h0.7M333.4 557.5h0.7M303.3 574.8h0.7M300.9 564.4h0.7M313.6 557.3h0.7M323.5 573.3h0.7M335.2 581.2h0.7M321.5 582.3h0.7M332.0 560.7h0.7M333.7 572.5h0.7M339.4 583.6h0.7M348.4 553.0h0.7M307.2 566.3h0.7M331.6 586.3h0.7M329.7 554.9h0.7M340.6 559.0h0.7M318.6 551.0h0.7M325.2 557.0h0.7M339.3 569.2h0.7M337.3 559.0h0.7M313.9 559.1h0.7M341.2 559.3h0.7M334.7 570.8h0.7M313.3 566.0h0.7M330.2 564.8h0.7M325.1 567.1h0.7M308.3 579.8h0.7M322.1 578.2h0.7M319.5 574.3h0.7M326.1 555.1h0.7M314.5 568.8h0.7M331.0 564.1h0.7M320.7 544.9h0.7M318.8 573.6h0.7M315.2 551.3h0.7M321.6 571.6h0.7M311.8 559.9h0.7M325.0 559.0h0.7M325.5 574.5h0.7M338.0 563.0h0.7M335.2 565.6h0.7M334.1 558.1h0.7M314.0 562.6h0.7M320.3 558.0h0.7M315.3 563.0h0.7M317.7 565.3h0.7M322.0 565.4h0.7M326.7 558.8h0.7M339.4 572.3h0.7M337.4 565.9h0.7M326.4 566.8h0.7M331.0 568.9h0.7M328.5 555.2h0.7M328.8 562.6h0.7M329.4 547.9h0.7M338.9 553.3h0.7M325.6 544.2h0.7M332.2 570.4h0.7M327.8 571.6h0.7M326.2 554.3h0.7M338.8 558.2h0.7M325.7 554.3h0.7M326.6 565.2h0.7M309.6 561.4h0.7M309.7 573.6h0.7M317.6 577.0h0.7M340.5 562.8h0.7M303.2 577.2h0.7M328.6 564.6h0.7M314.7 574.1h0.7M333.0 578.6h0.7M325.1 571.3h0.7M324.8 570.4h0.7M308.9 564.9h0.7M302.3 558.9h0.7M329.1 566.9h0.7M341.1 578.6h0.7M333.6 563.2h0.7M333.3 582.0h0.7M332.0 568.4h0.7M315.3 565.8h0.7M321.8 561.3h0.7M313.6 560.9h0.7M327.1 569.8h0.7M324.4 568.2h0.7M323.3 570.9h0.7M311.0 573.6h0.7M311.9 564.6h0.7M317.1 560.2h0.7M322.9 566.7h0.7M318.3 572.8h0.7M323.2 565.2h0.7M330.0 584.8h0.7M326.8 567.8h0.7M322.2 561.6h0.7M341.1 565.9h0.7M317.3 567.9h0.7M319.6 562.4h0.7M310.3 567.4h0.7M319.6 562.1h0.7M325.6 570.5h0.7M337.4 577.1h0.7M315.7 562.3h0.7M330.8 565.7h0.7M326.5 577.7h0.7M327.4 568.2h0.7M323.0 560.3h0.7M330.1 560.0h0.7M318.7 563.4h0.7M324.8 551.2h0.7M316.8 567.8h0.7M327.2 567.5h0.7M333.8 576.2h0.7M338.0 564.7h0.7M338.8 570.8h0.7M320.0 563.0h0.7M335.5 552.0h0.7M326.4 571.9h0.7M325.7 562.7h0.7M320.5 566.8h0.7M323.1 561.1h0.7M318.3 556.9h0.7M310.8 559.6h0.7M330.3 554.0h0.7M323.2 551.1h0.7M338.5 571.5h0.7M317.4 576.3h0.7M335.9 575.1h0.7M315.9 556.5h0.7M333.4 568.3h0.7M317.3 547.0h0.7M338.9 566.4h0.7M310.9 568.9h0.7M317.1 550.0h0.7M326.7 569.7h0.7M335.2 563.2h0.7M319.9 558.3h0.7M335.0 563.2h0.7M313.7 554.8h0.7M330.3 562.5h0.7M312.5 547.3h0.7M322.3 579.7h0.7M331.3 563.1h0.7M341.1 570.6h0.7M305.3 571.1h0.7M336.1 561.3h0.7M314.2 565.9h0.7M326.4 561.9h0.7M319.7 564.4h0.7M321.3 579.0h0.7M317.0 565.3h0.7M314.1 570.0h0.7M317.7 546.0h0.7M314.3 560.8h0.7M310.6 558.0h0.7M316.3 567.1h0.7M313.6 560.1h0.7M314.3 557.9h0.7M331.5 562.3h0.7M318.5 564.7h0.7M318.5 553.4h0.7M323.6 572.6h0.7M342.1 561.9h0.7M304.8 570.1h0.7M325.6 549.7h0.7M333.6 560.6h0.7M312.3 586.3h0.7M335.4 563.9h0.7M316.1 574.6h0.7M337.4 575.3h0.7M310.4 565.5h0.7M306.4 566.8h0.7M330.2 566.9h0.7M329.1 572.4h0.7M326.6 564.4h0.7M329.2 559.8h0.7M305.4 536.7h0.7M319.1 554.6h0.7M324.6 575.6h0.7M346.5 564.6h0.7M318.2 559.6h0.7M309.3 566.7h0.7M326.8 575.2h0.7M324.6 567.9h0.7M331.6 550.4h0.7M328.4 575.3h0.7M304.2 569.2h0.7M318.9 554.1h0.7M318.9 558.2h0.7M327.6 570.4h0.7M308.6 555.1h0.7M320.7 553.7h0.7M337.6 561.2h0.7M339.2 561.5h0.7M319.9 569.3h0.7M321.7 566.6h0.7M345.7 576.9h0.7M332.4 574.1h0.7M327.9 563.8h0.7M340.6 580.8h0.7M320.7 578.5h0.7M328.7 557.5h0.7M322.3 562.4h0.7M337.2 553.7h0.7M324.4 560.9h0.7M328.0 568.3h0.7M323.7 554.3h0.7M334.8 562.6h0.7M301.3 561.9h0.7M342.7 574.1h0.7M324.0 549.6h0.7M330.0 558.1h0.7M334.2 582.9h0.7M342.2 573.6h0.7M338.9 558.5h0.7M333.7 568.0h0.7M307.2 571.9h0.7M309.7 567.2h0.7M326.4 578.3h0.7M341.7 571.0h0.7M317.6 567.5h0.7M324.6 576.9h0.7M317.8 576.9h0.7M310.5 574.6h0.7M321.0 556.3h0.7M318.0 550.8h0.7M344.0 575.1h0.7M343.8 564.4h0.7M315.1 572.1h0.7M308.3 557.4h0.7M327.7 570.9h0.7M350.4 566.2h0.7M303.6 572.1h0.7M330.8 554.2h0.7M326.3 583.6h0.7M314.3 578.9h0.7M327.9 562.2h0.7M320.5 548.0h0.7M314.8 568.4h0.7M313.0 565.7h0.7M335.1 586.4h0.7M333.4 555.5h0.7M313.4 554.9h0.7M329.5 564.7h0.7M333.7 551.3h0.7M318.1 568.3h0.7M329.2 576.0h0.7M326.3 562.3h0.7M333.4 573.8h0.7M335.7 573.5h0.7M330.0 559.9h0.7M317.5 550.9h0.7M319.3 553.4h0.7M330.7 578.9h0.7M331.2 564.8h0.7M319.3 554.3h0.7M311.4 584.6h0.7M304.9 567.1h0.7M338.0 565.1h0.7M335.9 584.7h0.7M337.0 571.7h0.7M330.3 565.8h0.7M316.9 567.7h0.7M330.9 546.3h0.7M325.3 563.9h0.7M323.8 561.1h0.7M318.9 560.9h0.7M296.8 567.5h0.7M332.6 558.5h0.7M334.7 566.5h0.7M321.6 575.4h0.7M331.9 553.7h0.7M327.4 571.0h0.7M342.0 561.0h0.7M316.2 574.6h0.7M331.8 586.0h0.7M335.1 562.1h0.7M306.6 571.6h0.7M326.7 583.6h0.7M305.4 564.9h0.7M317.8 570.5h0.7M325.1 571.6h0.7M331.3 567.6h0.7M334.6 579.3h0.7M317.5 585.5h0.7M337.1 565.3h0.7M325.9 565.5h0.7M326.0 559.3h0.7M330.4 556.3h0.7M321.6 556.7h0.7M319.7 558.8h0.7M314.7 566.1h0.7M313.1 565.7h0.7M331.9 578.4h0.7M330.1 562.7h0.7M320.9 564.1h0.7M322.3 579.5h0.7M303.2 561.1h0.7M299.6 551.3h0.7M320.9 544.9h0.7M336.0 569.8h0.7M324.1 575.2h0.7M328.1 569.3h0.7M307.5 554.9h0.7M323.2 570.1h0.7M334.1 564.0h0.7M322.0 566.3h0.7M335.1 569.5h0.7M307.7 553.9h0.7M324.0 570.5h0.7M322.6 543.9h0.7M324.9 576.5h0.7M323.0 562.9h0.7M333.6 573.9h0.7M329.6 561.8h0.7M325.8 576.8h0.7M305.8 566.0h0.7M330.0 577.8h0.7M319.0 554.7h0.7M305.9 575.5h0.7M323.5 559.0h0.7M320.4 568.8h0.7M329.7 563.6h0.7M314.7 570.6h0.7M317.3 574.3h0.7M311.1 585.2h0.7M335.3 546.0h0.7M336.3 576.5h0.7M322.7 579.9h0.7M310.0 576.2h0.7M325.7 570.4h0.7M339.5 553.8h0.7M325.8 571.4h0.7M329.9 545.7h0.7M327.4 553.6h0.7M308.4 564.1h0.7M313.0 559.0h0.7M311.6 552.3h0.7M330.7 565.9h0.7M325.4 564.6h0.7M308.8 545.9h0.7M311.3 570.7h0.7M331.4 563.2h0.7M315.8 565.1h0.7M328.6 561.4h0.7M321.4 557.2h0.7M329.2 563.6h0.7M321.4 570.5h0.7M327.1 577.4h0.7M330.7 559.2h0.7M311.3 584.1h0.7M327.1 541.3h0.7M325.7 565.8h0.7M312.6 557.1h0.7M318.4 546.5h0.7M334.5 559.1h0.7M321.2 577.0h0.7M319.6 582.9h0.7M338.0 560.7h0.7M337.2 575.8h0.7M337.0 573.7h0.7M329.6 559.7h0.7M310.0 584.8h0.7M307.3 559.8h0.7M326.5 550.2h0.7M319.1 563.8h0.7M312.5 565.5h0.7M324.6 561.5h0.7M330.5 563.2h0.7M311.1 576.7h0.7M314.1 562.6h0.7M332.3 560.5h0.7M333.8 568.7h0.7M327.3 548.6h0.7M316.8 576.1h0.7M336.0 579.0h0.7" stroke="#1a1a1a" stroke-opacity="0.6400000000000001" stroke-width="0.7" fill="none"/>
<path d="M332.3 577.4h0.7M335.0 572.6h0.7M328.8 570.8h0.7M351.2 570.8h0.7M325.8 580.0h0.7M356.4 571.8h0.7M335.8 578.2h0.7M342.1 577.5h0.7M350.2 573.5h0.7M347.3 574.9h0.7M336.0 579.8h0.7M355.0 571.3h0.7M315.0 584.0h0.7M300.2 573.3h0.7M350.1 573.4h0.7M354.5 580.3h0.7M353.1 574.2h0.7M329.6 570.4h0.7M346.3 574.1h0.7M355.5 567.6h0.7M325.8 575.8h0.7M331.8 582.3h0.7M354.3 570.3h0.7M316.2 589.0h0.7M316.3 577.8h0.7M347.9 567.9h0.7M330.6 564.1h0.7M318.5 583.2h0.7M316.6 570.8h0.7M337.4 575.4h0.7M332.2 582.7h0.7M331.4 573.9h0.7M331.4 577.5h0.7M326.6 576.5h0.7M333.0 571.3h0.7M318.0 565.8h0.7M343.5 583.8h0.7M349.7 577.6h0.7M359.0 572.3h0.7M337.7 576.4h0.7M327.6 572.0h0.7M331.5 583.0h0.7M335.7 577.3h0.7M349.1 565.9h0.7M342.9 582.1h0.7M348.3 584.5h0.7M337.2 581.7h0.7M332.6 568.9h0.7M355.3 579.2h0.7M336.4 588.7h0.7M328.4 578.1h0.7M323.4 571.4h0.7M361.1 563.3h0.7M331.7 578.5h0.7M329.6 584.0h0.7M328.9 567.6h0.7M325.0 574.2h0.7M343.9 579.7h0.7M340.5 573.6h0.7M353.8 574.1h0.7M325.2 576.9h0.7M357.6 583.9h0.7M336.7 571.9h0.7M321.8 583.7h0.7M323.6 566.4h0.7M337.4 572.6h0.7M337.7 581.4h0.7M333.5 579.3h0.7M335.7 564.5h0.7M354.4 577.5h0.7M346.6 583.5h0.7M357.1 570.8h0.7M334.2 582.9h0.7M342.7 578.2h0.7M338.0 576.2h0.7M328.0 578.6h0.7M329.9 583.1h0.7M328.2 579.0h0.7M329.4 578.4h0.7M333.1 579.6h0.7M337.1 577.1h0.7M337.5 580.6h0.7M331.4 573.5h0.7M353.9 584.4h0.7M321.4 570.0h0.7M328.0 570.9h0.7M325.0 569.4h0.7M342.3 567.1h0.7M338.5 576.0h0.7M341.9 580.0h0.7M322.0 584.0h0.7M327.1 578.8h0.7M331.6 581.3h0.7M339.4 575.3h0.7M358.7 574.0h0.7M355.5 575.6h0.7M333.4 570.7h0.7M325.8 578.7h0.7M358.1 573.3h0.7M334.5 583.7h0.7M340.5 584.9h0.7M319.8 581.0h0.7M331.0 576.4h0.7M329.3 580.4h0.7M329.9 580.7h0.7M332.1 580.7h0.7M344.6 575.6h0.7M339.8 579.8h0.7M342.1 581.7h0.7M338.3 581.6h0.7M344.9 576.5h0.7M336.9 577.6h0.7M340.4 579.4h0.7M342.7 578.9h0.7M322.6 576.6h0.7M328.6 585.0h0.7M345.3 578.5h0.7M335.7 571.4h0.7M331.4 574.9h0.7M349.4 562.4h0.7M322.8 570.9h0.7M349.3 574.4h0.7M339.8 580.6h0.7M344.9 579.0h0.7M344.2 576.6h0.7M337.0 580.5h0.7M330.3 584.1h0.7M322.0 577.4h0.7M338.4 572.5h0.7M354.8 583.5h0.7M326.2 580.1h0.7M344.0 578.1h0.7M360.4 553.1h0.7M333.3 580.7h0.7M337.2 577.4h0.7M346.0 578.9h0.7M312.7 569.4h0.7M343.2 570.2h0.7M343.3 577.3h0.7M331.6 572.4h0.7M348.9 570.2h0.7M335.6 578.4h0.7M347.3 568.8h0.7M352.1 583.7h0.7M355.4 579.7h0.7M337.0 579.3h0.7M338.0 566.4h0.7M347.5 574.7h0.7M355.1 580.7h0.7M346.9 574.5h0.7M335.8 579.7h0.7M340.5 567.4h0.7M339.3 586.7h0.7M346.7 578.0h0.7M335.7 572.9h0.7M333.5 570.4h0.7M331.1 580.4h0.7M328.3 570.8h0.7M333.1 584.6h0.7M359.2 573.3h0.7M343.3 574.3h0.7M333.7 575.2h0.7M343.6 581.3h0.7M348.6 578.5h0.7M333.5 569.0h0.7M318.6 572.8h0.7M343.1 581.4h0.7M332.8 576.8h0.7M340.9 576.9h0.7M324.6 584.6h0.7M344.1 576.1h0.7M340.5 580.3h0.7M348.3 579.0h0.7M333.9 570.0h0.7M339.7 570.0h0.7M359.3 576.4h0.7M337.6 575.2h0.7M340.2 583.1h0.7M352.2 568.3h0.7M342.0 586.8h0.7M338.6 582.0h0.7M348.6 574.4h0.7M345.4 576.9h0.7M348.0 564.6h0.7M333.4 580.2h0.7M351.6 579.2h0.7M353.3 581.8h0.7M328.6 567.2h0.7M360.3 582.0h0.7M343.9 581.6h0.7M348.9 578.8h0.7M346.0 573.2h0.7M330.1 569.7h0.7M354.4 572.0h0.7M342.1 573.4h0.7M320.3 572.4h0.7M341.7 581.0h0.7" stroke="#1a1a1a" stroke-opacity="0.48" stroke-width="0.7" fill="none"/>
<path d="M322.4 571.4h0.7M317.3 568.8h0.7M294.7 551.2h0.7M278.0 579.7h0.7M296.3 552.6h0.7M315.2 560.2h0.7M299.6 551.9h0.7M310.9 581.2h0.7M311.3 560.5h0.7M307.1 579.4h0.7M300.1 583.0h0.7M324.6 568.3h0.7M320.1 568.2h0.7M315.2 572.3h0.7M297.1 553.8h0.7M319.6 558.7h0.7M283.4 556.1h0.7M324.0 567.3h0.7M284.3 555.0h0.7M275.3 586.1h0.7M311.4 576.5h0.7M309.5 582.3h0.7M319.9 574.6h0.7M295.3 584.6h0.7M318.5 564.1h0.7M321.4 571.0h0.7M291.0 583.2h0.7M320.1 563.4h0.7M301.1 582.4h0.7M311.8 579.9h0.7M309.0 556.2h0.7M295.3 555.0h0.7M284.3 582.3h0.7M285.4 555.6h0.7M317.9 577.1h0.7M317.5 561.3h0.7M320.3 576.4h0.7M318.3 561.7h0.7M319.7 570.7h0.7M284.4 555.4h0.7M280.1 556.0h0.7M315.9 564.7h0.7M306.7 553.6h0.7M284.7 583.2h0.7M283.6 582.2h0.7M294.8 583.4h0.7M320.4 561.5h0.7M302.8 553.4h0.7M286.0 550.8h0.7M317.9 564.5h0.7M317.0 569.4h0.7M278.7 557.6h0.7M310.2 557.3h0.7M310.8 559.5h0.7M317.2 571.2h0.7M319.0 569.2h0.7M287.2 553.3h0.7M309.8 585.6h0.7M302.3 556.6h0.7M286.1 583.8h0.7M284.2 584.4h0.7M314.5 574.8h0.7M291.5 585.1h0.7M281.9 551.2h0.7M314.9 576.5h0.7M320.8 559.5h0.7M278.0 584.7h0.7M295.6 582.7h0.7M321.7 566.0h0.7M294.0 554.9h0.7M292.5 581.9h0.7M317.6 560.8h0.7M326.0 565.8h0.7M286.9 554.9h0.7M297.7 551.0h0.7M319.6 558.9h0.7M283.2 556.2h0.7M279.6 583.1h0.7M287.6 588.1h0.7M317.4 568.5h0.7M300.9 582.7h0.7M301.1 581.1h0.7M292.1 586.7h0.7M315.9 559.7h0.7M316.1 570.8h0.7M302.1 582.6h0.7M303.9 553.0h0.7M288.4 553.4h0.7M275.6 553.9h0.7M312.4 557.7h0.7M300.5 555.9h0.7M310.1 556.1h0.7M325.0 569.0h0.7M319.5 567.6h0.7M321.4 560.0h0.7M313.3 578.0h0.7M315.3 576.6h0.7M281.6 556.3h0.7M293.1 552.3h0.7M277.5 557.6h0.7M312.4 560.1h0.7M304.1 579.9h0.7M321.9 570.6h0.7M278.9 556.8h0.7M275.5 580.5h0.7M275.8 558.3h0.7M275.7 554.7h0.7M316.9 565.3h0.7M318.0 566.7h0.7M277.5 583.3h0.7M286.4 585.1h0.7M322.2 572.5h0.7M302.1 550.6h0.7M321.9 569.4h0.7M303.2 581.5h0.7M308.0 580.0h0.7M297.0 582.3h0.7M319.6 558.4h0.7M315.4 558.5h0.7M320.0 565.5h0.7M311.6 556.9h0.7M315.4 563.7h0.7M284.0 554.5h0.7M312.9 559.2h0.7M304.2 583.3h0.7M278.0 557.0h0.7M292.5 583.1h0.7M293.3 585.8h0.7M318.8 568.9h0.7M293.3 552.1h0.7M321.1 567.4h0.7M320.7 567.7h0.7M307.1 579.7h0.7M291.1 553.5h0.7M276.8 580.9h0.7M318.1 572.6h0.7M289.9 582.7h0.7M275.5 578.3h0.7M320.0 562.5h0.7M305.4 553.2h0.7M295.1 554.2h0.7M287.5 581.8h0.7M283.9 556.1h0.7M321.5 561.6h0.7M305.9 552.1h0.7M278.5 584.6h0.7M290.9 581.7h0.7M300.7 556.1h0.7M316.0 572.3h0.7M301.1 554.5h0.7M308.9 583.3h0.7M285.2 582.8h0.7M323.7 561.5h0.7M290.1 587.2h0.7M308.6 558.8h0.7M296.4 584.8h0.7M313.4 578.3h0.7M306.1 581.1h0.7M308.7 558.2h0.7M292.4 554.4h0.7M303.6 580.7h0.7M303.0 550.0h0.7M315.9 570.6h0.7M288.1 582.4h0.7M316.8 563.5h0.7M306.3 557.4h0.7M292.9 581.5h0.7M278.7 582.5h0.7M296.2 583.2h0.7M282.0 556.3h0.7M313.2 559.3h0.7M300.3 552.2h0.7M283.6 554.8h0.7M315.5 577.7h0.7M315.0 580.5h0.7M301.7 555.0h0.7M283.6 554.5h0.7M328.9 567.2h0.7M318.4 564.5h0.7M308.7 587.2h0.7M316.9 570.1h0.7M285.0 550.6h0.7M278.7 555.8h0.7M306.3 556.0h0.7M290.8 554.5h0.7M286.2 554.3h0.7M314.8 580.7h0.7M315.9 563.8h0.7M310.5 578.1h0.7M284.2 582.3h0.7M287.2 582.2h0.7M276.6 580.9h0.7M299.2 555.3h0.7M285.9 583.7h0.7M306.7 579.9h0.7M298.6 556.0h0.7M305.7 581.4h0.7M315.3 580.2h0.7M309.3 585.7h0.7M301.7 556.2h0.7M304.5 552.3h0.7M289.9 551.7h0.7M282.1 584.4h0.7M304.7 555.8h0.7M303.6 555.4h0.7M314.4 575.8h0.7M282.3 556.0h0.7M315.5 576.2h0.7M285.1 581.4h0.7M277.8 579.8h0.7M301.9 582.2h0.7M293.5 553.8h0.7M293.0 583.2h0.7M319.5 570.3h0.7M276.5 579.4h0.7M303.8 556.4h0.7M316.7 572.2h0.7M324.0 561.6h0.7M310.4 555.9h0.7M281.2 554.7h0.7M316.4 573.0h0.7M319.5 575.2h0.7M317.2 564.5h0.7M301.1 555.1h0.7M291.6 555.0h0.7M276.7 558.4h0.7M310.6 577.3h0.7M319.9 573.8h0.7M278.6 582.7h0.7M319.4 572.2h0.7M293.7 555.1h0.7M320.8 571.2h0.7M313.8 560.8h0.7M318.6 581.0h0.7M286.4 581.9h0.7M317.2 567.0h0.7M280.5 554.2h0.7M302.9 588.2h0.7M309.2 558.1h0.7M307.7 553.1h0.7M315.9 573.0h0.7M293.5 582.8h0.7M292.6 581.7h0.7M307.2 584.0h0.7M304.6 557.0h0.7M278.9 557.4h0.7M288.6 583.6h0.7M278.6 553.4h0.7M305.6 554.4h0.7M316.3 576.8h0.7M316.9 563.9h0.7M289.5 555.5h0.7M305.8 557.2h0.7M318.9 573.1h0.7M297.8 555.2h0.7M277.8 579.9h0.7M294.4 582.6h0.7M304.8 555.8h0.7M312.6 579.1h0.7M313.6 555.9h0.7M280.3 580.8h0.7M296.4 581.3h0.7M275.8 580.5h0.7M292.1 586.9h0.7M317.9 568.9h0.7M279.7 583.0h0.7M319.3 570.6h0.7M297.1 555.5h0.7M294.7 585.2h0.7M320.1 563.7h0.7M317.2 567.5h0.7M322.6 561.7h0.7M275.2 586.5h0.7M304.5 553.3h0.7M312.8 575.2h0.7M282.1 556.4h0.7M307.7 557.7h0.7M305.7 557.5h0.7M324.2 565.7h0.7M282.7 554.7h0.7M276.3 579.4h0.7M303.7 553.6h0.7M290.1 555.0h0.7M317.5 569.8h0.7M306.4 556.1h0.7M313.6 558.3h0.7M308.0 582.2h0.7M288.0 551.1h0.7M284.7 555.8h0.7M284.4 555.1h0.7M314.9 561.5h0.7M278.6 554.9h0.7M278.7 555.6h0.7M312.0 576.1h0.7M305.3 580.5h0.7M298.5 581.3h0.7M286.2 585.0h0.7M287.6 555.0h0.7M318.6 573.3h0.7M286.6 581.3h0.7M306.8 583.4h0.7M299.7 584.4h0.7M288.3 553.5h0.7M306.7 555.1h0.7M314.5 561.6h0.7M302.9 583.4h0.7M299.6 552.2h0.7M282.9 556.0h0.7M317.4 575.5h0.7M321.0 572.3h0.7M321.2 574.6h0.7" stroke="#1a1a1a" stroke-opacity="0.7" stroke-width="0.7" fill="none"/>
<path d="M314.7 554.0h0.7M333.3 535.0h0.7M286.3 547.2h0.7M322.0 554.1h0.7M294.0 552.4h0.7M313.0 526.0h0.7M327.0 546.4h0.7M317.5 550.9h0.7M321.5 550.0h0.7M328.3 548.7h0.7M315.2 551.2h0.7M331.5 541.8h0.7M318.4 530.2h0.7M326.4 527.3h0.7M299.9 551.3h0.7M310.8 556.8h0.7M317.2 526.6h0.7M291.5 548.8h0.7M314.0 529.2h0.7M291.7 547.4h0.7M315.0 554.1h0.7M315.9 524.8h0.7M330.4 537.6h0.7M330.1 543.7h0.7M327.4 548.7h0.7M289.3 536.6h0.7M296.0 553.2h0.7M294.8 549.7h0.7M309.9 554.1h0.7M326.1 533.5h0.7M298.2 550.1h0.7M311.1 529.1h0.7M322.3 550.9h0.7M336.9 540.9h0.7M312.1 526.6h0.7M282.3 538.1h0.7M312.5 551.5h0.7M282.8 543.7h0.7M333.7 545.2h0.7M312.4 551.7h0.7M308.0 527.7h0.7M305.1 555.0h0.7M286.7 546.5h0.7M315.9 529.5h0.7M302.0 530.0h0.7M316.7 552.4h0.7M284.7 541.4h0.7M313.3 551.5h0.7M321.6 529.3h0.7M324.6 532.9h0.7M287.8 546.0h0.7M282.5 539.7h0.7M316.3 527.6h0.7M330.6 542.1h0.7M324.7 548.8h0.7M331.7 536.2h0.7M339.5 543.4h0.7M287.2 546.6h0.7M285.9 532.7h0.7M312.8 554.9h0.7M327.0 549.0h0.7M287.8 548.4h0.7M323.7 530.7h0.7M312.1 552.4h0.7M313.0 553.4h0.7M317.8 529.8h0.7M321.9 552.3h0.7M318.8 527.4h0.7M303.9 529.6h0.7M301.8 529.5h0.7M334.3 538.4h0.7M291.8 549.2h0.7M328.6 546.7h0.7M317.0 553.5h0.7M301.1 530.2h0.7M318.6 555.0h0.7M332.3 537.4h0.7M328.6 546.3h0.7M291.4 530.7h0.7M286.0 534.0h0.7M292.8 533.3h0.7M299.1 551.3h0.7M333.6 542.7h0.7M316.4 550.8h0.7M287.6 534.0h0.7M334.7 541.2h0.7M291.6 549.3h0.7M323.2 531.4h0.7M330.5 539.4h0.7M313.8 551.4h0.7M316.9 529.9h0.7M318.3 528.7h0.7M328.6 548.8h0.7M324.4 550.9h0.7M285.2 538.7h0.7M322.4 530.9h0.7M307.3 555.7h0.7M320.9 530.9h0.7M289.2 545.2h0.7M310.8 551.7h0.7M291.3 547.6h0.7M327.4 533.4h0.7M291.8 533.7h0.7M288.1 544.4h0.7M295.9 550.6h0.7M323.0 527.8h0.7M286.4 545.2h0.7M320.5 530.1h0.7M315.7 529.6h0.7M297.4 528.2h0.7M325.6 529.9h0.7M335.1 542.1h0.7M286.0 543.5h0.7M282.9 540.5h0.7M329.4 545.6h0.7M299.9 552.0h0.7M332.4 541.5h0.7M305.8 554.7h0.7M291.6 549.8h0.7M336.0 545.5h0.7M336.4 546.5h0.7M291.8 530.3h0.7M322.6 530.3h0.7M282.6 546.4h0.7M299.1 529.8h0.7M284.0 539.6h0.7M292.4 550.7h0.7M331.6 539.8h0.7M303.4 528.7h0.7M307.9 528.6h0.7M286.4 548.2h0.7M337.9 539.5h0.7M281.6 546.8h0.7M288.7 543.7h0.7M333.0 540.1h0.7M302.8 529.4h0.7M333.3 537.5h0.7M282.7 536.9h0.7M290.6 547.9h0.7M292.7 548.8h0.7M293.1 547.8h0.7M280.9 535.7h0.7M289.1 536.2h0.7M337.5 531.2h0.7M289.0 536.8h0.7M330.3 538.7h0.7M312.4 529.3h0.7M296.7 550.2h0.7M329.4 545.8h0.7M292.0 547.1h0.7M312.4 527.6h0.7M320.1 529.4h0.7M290.8 533.1h0.7M298.2 528.1h0.7M285.7 541.7h0.7M291.3 550.5h0.7M290.9 551.0h0.7M327.6 546.4h0.7M321.0 531.1h0.7M312.7 529.2h0.7M328.8 547.8h0.7M286.7 532.8h0.7M294.8 530.2h0.7M302.4 552.4h0.7M299.2 529.7h0.7M324.3 528.5h0.7M339.0 547.3h0.7M324.0 549.5h0.7M332.7 539.9h0.7M329.9 535.6h0.7M332.7 533.5h0.7M290.1 546.2h0.7M287.1 538.2h0.7M291.7 533.9h0.7M320.5 555.0h0.7M287.4 542.3h0.7M316.3 552.9h0.7M284.9 553.4h0.7M305.9 527.7h0.7M317.2 550.7h0.7M307.0 551.7h0.7M331.5 548.4h0.7M288.8 537.4h0.7M297.0 549.9h0.7M288.1 538.5h0.7M323.0 530.2h0.7M329.5 549.1h0.7M328.9 536.1h0.7M291.5 532.9h0.7M304.2 552.4h0.7M302.0 555.9h0.7M286.1 545.1h0.7M289.0 548.1h0.7M330.8 541.9h0.7M309.9 552.1h0.7M323.7 532.5h0.7M334.8 541.4h0.7M290.8 533.3h0.7M280.5 541.8h0.7M320.3 529.0h0.7M314.9 527.9h0.7M309.6 528.4h0.7M284.8 529.9h0.7M284.1 537.5h0.7M295.1 531.1h0.7M295.1 528.4h0.7M282.5 546.3h0.7M324.6 548.0h0.7M315.5 552.6h0.7M285.1 539.4h0.7M332.7 536.2h0.7M305.6 527.7h0.7M290.6 547.8h0.7M297.6 531.2h0.7M313.2 552.4h0.7M304.3 552.9h0.7M286.4 546.2h0.7M282.9 534.5h0.7M288.6 545.6h0.7M330.3 549.1h0.7M292.3 529.4h0.7M285.5 533.1h0.7M321.8 530.0h0.7M317.1 550.9h0.7" stroke="#1a1a1a" stroke-opacity="0.7" stroke-width="0.7" fill="none"/>
<path d="M329.3 528.8h0.7M342.1 561.8h0.7M343.3 522.6h0.7M337.3 526.0h0.7M326.9 569.4h0.7M334.8 523.6h0.7M350.0 538.8h0.7M331.5 564.3h0.7M345.6 522.8h0.7M325.7 566.4h0.7M351.1 543.8h0.7M319.7 544.1h0.7M348.4 542.3h0.7M322.8 556.8h0.7M347.4 546.9h0.7M335.8 563.3h0.7M325.7 563.2h0.7M323.3 556.5h0.7M351.3 536.6h0.7M349.1 548.7h0.7M345.3 525.9h0.7M341.9 557.0h0.7M350.5 526.5h0.7M352.5 531.8h0.7M339.6 558.1h0.7M328.5 562.7h0.7M330.8 565.1h0.7M336.1 560.3h0.7M339.1 558.1h0.7M329.7 532.1h0.7M347.5 520.0h0.7M343.5 523.0h0.7M341.4 569.1h0.7M343.4 525.0h0.7M324.7 564.1h0.7M349.7 546.2h0.7M326.9 536.8h0.7M347.8 545.8h0.7M329.1 530.3h0.7M329.8 530.2h0.7M325.4 560.3h0.7M329.4 563.2h0.7M323.3 563.7h0.7M333.6 524.0h0.7M349.0 546.1h0.7M318.9 550.2h0.7M352.7 526.7h0.7M348.5 544.2h0.7M346.0 549.3h0.7M350.8 533.8h0.7M337.8 524.6h0.7M323.0 554.1h0.7M322.0 550.7h0.7M327.8 534.9h0.7M348.2 549.3h0.7M330.1 530.4h0.7M327.7 571.0h0.7M343.1 554.6h0.7M320.8 543.0h0.7M322.3 538.9h0.7M327.0 535.0h0.7M319.7 545.6h0.7M322.4 560.6h0.7M329.7 562.6h0.7M330.7 565.4h0.7M335.6 526.8h0.7M324.1 544.5h0.7M324.5 531.6h0.7M323.1 559.0h0.7M347.9 547.6h0.7M321.8 561.5h0.7M325.4 534.5h0.7M327.3 531.2h0.7M321.1 547.0h0.7M343.2 523.5h0.7M324.2 563.0h0.7M325.3 565.9h0.7M325.0 537.4h0.7M326.3 565.1h0.7M332.4 569.5h0.7M321.9 561.4h0.7M322.7 548.8h0.7M326.1 563.0h0.7M324.9 535.5h0.7M332.9 529.0h0.7M351.1 540.0h0.7M341.0 522.2h0.7M350.8 540.3h0.7M328.3 524.9h0.7M328.9 566.4h0.7M341.6 523.6h0.7M342.7 555.4h0.7M325.0 536.3h0.7M334.8 562.4h0.7M318.0 560.8h0.7M350.0 534.6h0.7M325.9 565.7h0.7M323.2 556.0h0.7M321.7 545.0h0.7M330.6 563.8h0.7M349.5 544.3h0.7M349.3 537.0h0.7M323.5 529.6h0.7M340.2 525.1h0.7M336.4 564.3h0.7M329.6 528.1h0.7M343.8 522.6h0.7M349.3 535.3h0.7M349.2 548.0h0.7M342.3 556.7h0.7M336.2 526.5h0.7M317.5 552.8h0.7M322.5 555.0h0.7M350.4 531.5h0.7M323.1 545.0h0.7M355.7 529.2h0.7M348.6 529.3h0.7M349.4 542.1h0.7M349.4 538.3h0.7M335.0 525.8h0.7M327.4 533.4h0.7M322.0 550.6h0.7M330.7 566.8h0.7M340.6 519.1h0.7M322.1 560.4h0.7M352.2 540.6h0.7M324.8 541.4h0.7M352.7 543.1h0.7M324.9 559.6h0.7M349.7 537.4h0.7M323.0 559.4h0.7M320.9 555.8h0.7M344.9 523.2h0.7M342.9 559.2h0.7M333.3 526.6h0.7M346.5 520.0h0.7M331.5 529.0h0.7M351.0 541.4h0.7M346.6 551.7h0.7M324.4 536.9h0.7M323.1 550.6h0.7M347.4 551.4h0.7M334.1 561.2h0.7M355.5 537.1h0.7M336.8 563.1h0.7M324.0 544.0h0.7M340.1 559.6h0.7M322.6 541.3h0.7M345.2 523.5h0.7M343.3 554.5h0.7M323.0 552.4h0.7M344.9 553.0h0.7M338.3 524.4h0.7M341.6 523.8h0.7M323.8 539.4h0.7M337.4 524.2h0.7M323.7 543.1h0.7M349.1 532.1h0.7M351.4 532.5h0.7M351.4 547.6h0.7M341.8 524.7h0.7M349.1 527.4h0.7M343.9 555.9h0.7M346.4 551.3h0.7M324.1 539.8h0.7M333.1 562.0h0.7M339.1 558.4h0.7M325.7 566.7h0.7M337.1 521.7h0.7M349.4 547.4h0.7M330.4 527.3h0.7M339.1 519.2h0.7M321.1 559.7h0.7M345.6 549.7h0.7M333.1 528.6h0.7M350.1 538.9h0.7M329.3 561.7h0.7M347.8 547.1h0.7M323.3 554.0h0.7M321.5 550.5h0.7M331.7 529.4h0.7M347.9 549.7h0.7M318.9 567.3h0.7M344.6 552.7h0.7M341.2 557.0h0.7M321.0 541.7h0.7M325.7 539.6h0.7M348.0 519.5h0.7M334.7 565.6h0.7M324.9 568.2h0.7M325.0 566.6h0.7M346.8 526.1h0.7M344.7 553.8h0.7M351.9 540.6h0.7M346.5 549.3h0.7M348.5 527.6h0.7" stroke="#1a1a1a" stroke-opacity="0.7" stroke-width="0.7" fill="none"/>
<ellipse cx="292.0" cy="568.5" rx="24.60" ry="13.60" transform="rotate(0 292.0 568.5)" fill="#fff" stroke="#fff" stroke-width="1.4"/>
<ellipse cx="292.0" cy="568.5" rx="24.00" ry="13.00" transform="rotate(0 292.0 568.5)" fill="#fafafa" stroke="#8a8a8a" stroke-width="0.65"/>
<ellipse cx="292.0" cy="568.5" rx="19.92" ry="10.79" transform="rotate(0 292.0 568.5)" fill="#e8e8e8" stroke="#8a8a8a" stroke-width="0.42"/>
<ellipse cx="292.0" cy="568.5" rx="15.84" ry="8.58" transform="rotate(0 292.0 568.5)" fill="#d6d6d6" stroke="#8a8a8a" stroke-width="0.42"/>
<ellipse cx="292.0" cy="568.5" rx="11.76" ry="6.37" transform="rotate(0 292.0 568.5)" fill="#c4c4c4" stroke="#8a8a8a" stroke-width="0.42"/>
<ellipse cx="292.0" cy="568.5" rx="7.68" ry="4.16" transform="rotate(0 292.0 568.5)" fill="#b2b2b2" stroke="#8a8a8a" stroke-width="0.42"/>
<ellipse cx="309.0" cy="540.5" rx="21.60" ry="11.60" transform="rotate(0 309.0 540.5)" fill="#fff" stroke="#fff" stroke-width="1.4"/>
<ellipse cx="309.0" cy="540.5" rx="21.00" ry="11.00" transform="rotate(0 309.0 540.5)" fill="#fafafa" stroke="#8a8a8a" stroke-width="0.65"/>
<ellipse cx="309.0" cy="540.5" rx="17.43" ry="9.13" transform="rotate(0 309.0 540.5)" fill="#e8e8e8" stroke="#8a8a8a" stroke-width="0.42"/>
<ellipse cx="309.0" cy="540.5" rx="13.86" ry="7.26" transform="rotate(0 309.0 540.5)" fill="#d6d6d6" stroke="#8a8a8a" stroke-width="0.42"/>
<ellipse cx="309.0" cy="540.5" rx="10.29" ry="5.39" transform="rotate(0 309.0 540.5)" fill="#c4c4c4" stroke="#8a8a8a" stroke-width="0.42"/>
<ellipse cx="309.0" cy="540.5" rx="6.72" ry="3.52" transform="rotate(0 309.0 540.5)" fill="#b2b2b2" stroke="#8a8a8a" stroke-width="0.42"/>
<ellipse cx="336.3" cy="543.2" rx="11.60" ry="20.10" transform="rotate(25 336.3 543.2)" fill="#fff" stroke="#fff" stroke-width="1.4"/>
<ellipse cx="336.3" cy="543.2" rx="11.00" ry="19.50" transform="rotate(25 336.3 543.2)" fill="#fafafa" stroke="#8a8a8a" stroke-width="0.65"/>
<ellipse cx="336.3" cy="543.2" rx="8.66" ry="15.36" transform="rotate(25 336.3 543.2)" fill="#e2e2e2" stroke="#8a8a8a" stroke-width="0.42"/>
<ellipse cx="336.3" cy="543.2" rx="6.32" ry="11.21" transform="rotate(25 336.3 543.2)" fill="#cacaca" stroke="#8a8a8a" stroke-width="0.42"/>
<ellipse cx="336.3" cy="543.2" rx="3.99" ry="7.07" transform="rotate(25 336.3 543.2)" fill="#b2b2b2" stroke="#8a8a8a" stroke-width="0.42"/>
<ellipse cx="336.3" cy="543.2" rx="2.00" ry="3.00" transform="rotate(25 336.3 543.2)" fill="#f4f4f4"/>
<path d="M275.1 577.9h0.8M275.9 561.1h0.8M275.3 571.2h0.8M274.7 562.1h0.8M276.5 575.4h0.8M275.9 568.7h0.8M275.6 563.0h0.8M274.2 574.1h0.8M275.6 586.2h0.8M275.9 562.8h0.8M276.3 568.1h0.8M274.6 570.3h0.8M274.6 560.1h0.8M274.2 565.8h0.8M275.4 568.3h0.8M274.4 582.8h0.8M275.0 550.8h0.8M275.1 576.7h0.8M275.2 563.6h0.8M276.4 574.4h0.8M275.8 567.4h0.8M275.2 571.3h0.8M275.5 561.9h0.8M275.8 574.2h0.8M276.1 562.8h0.8M274.9 567.5h0.8M276.2 568.5h0.8M276.6 573.0h0.8M275.3 570.3h0.8M275.9 566.7h0.8M275.7 568.0h0.8M274.6 575.6h0.8M275.3 570.1h0.8M274.7 566.1h0.8M275.4 575.8h0.8M275.0 575.8h0.8M275.7 573.9h0.8M276.1 570.7h0.8M276.0 561.6h0.8M276.6 564.0h0.8M275.9 566.3h0.8M275.6 557.7h0.8M275.4 577.0h0.8M274.9 559.2h0.8M276.7 564.0h0.8M275.5 567.6h0.8M274.5 561.1h0.8M274.3 569.2h0.8M275.5 577.7h0.8M276.5 572.6h0.8M276.0 567.8h0.8M275.8 565.2h0.8M276.5 570.9h0.8M275.9 571.2h0.8M276.3 569.2h0.8M275.0 567.0h0.8M275.5 561.5h0.8M275.5 565.2h0.8M275.7 568.7h0.8M276.1 577.3h0.8M274.5 569.2h0.8M275.5 569.7h0.8M274.6 565.4h0.8M275.8 563.7h0.8M275.1 575.6h0.8M275.9 567.3h0.8M275.2 574.7h0.8M276.1 573.1h0.8M275.3 563.2h0.8M275.5 567.3h0.8M275.0 564.4h0.8M275.7 576.7h0.8M275.0 568.8h0.8M276.6 561.2h0.8M274.2 560.6h0.8M275.0 562.6h0.8M275.8 562.4h0.8M275.6 573.8h0.8M275.0 569.3h0.8M275.2 561.7h0.8" stroke="#111" stroke-opacity="0.9" stroke-width="0.8" fill="none"/>
<path d="M287.7,527.8 L332.5,527.8 L317.0,553.8 L287.7,553.8Z" fill="none" stroke="#444" stroke-width="0.85"/>
<ellipse cx="336.3" cy="543.2" rx="13" ry="22" transform="rotate(25 336.3 543.2)" fill="none" stroke="#3a3a3a" stroke-width="0.9"/>
<ellipse cx="336.3" cy="543.2" rx="11.4" ry="20.2" transform="rotate(25 336.3 543.2)" fill="none" stroke="#666" stroke-width="0.55"/>
</g>
<text x="303.1" y="523.5" font-size="10.3" font-weight="bold" text-anchor="middle" >19</text>
<text x="341.7" y="523.5" font-size="10.3" font-weight="bold" text-anchor="middle" >20</text>
<text x="359.0" y="588.0" font-size="7.2" font-weight="bold" text-anchor="end" >F241</text>
<rect x="378.70" y="502.50" width="86.50" height="87.00" fill="none" stroke="#6a6a6a" stroke-width="0.9"/>
<line x1="377.50" y1="505.50" x2="377.50" y2="587.50" stroke="#999" stroke-width="1.2" stroke-dasharray="0.6 2.4"/>
<line x1="381.70" y1="590.70" x2="463.20" y2="590.70" stroke="#999" stroke-width="1.2" stroke-dasharray="0.6 2.4"/>
<text x="375.2" y="513.6" font-size="4.2" fill="#555" text-anchor="end">10<tspan dy="-2" font-size="3">5</tspan></text>
<rect x="376.5" y="511.5" width="1.6" height="1.2" fill="#333"/>
<text x="375.2" y="535.3" font-size="4.2" fill="#555" text-anchor="end">10<tspan dy="-2" font-size="3">4</tspan></text>
<rect x="376.5" y="533.2" width="1.6" height="1.2" fill="#333"/>
<text x="375.2" y="557.9" font-size="4.2" fill="#555" text-anchor="end">10<tspan dy="-2" font-size="3">3</tspan></text>
<rect x="376.5" y="555.8" width="1.6" height="1.2" fill="#333"/>
<text x="375.2" y="573.6" font-size="4.2" fill="#555" text-anchor="end">0</text>
<rect x="376.5" y="571.5" width="1.6" height="1.2" fill="#333"/>
<text x="395.1" y="600.0" font-size="4.2" fill="#555" text-anchor="middle">0</text>
<text x="412.4" y="600.0" font-size="4.2" fill="#555" text-anchor="middle">10<tspan dy="-2" font-size="3">3</tspan></text>
<text x="435.8" y="600.0" font-size="4.2" fill="#555" text-anchor="middle">10<tspan dy="-2" font-size="3">4</tspan></text>
<text x="456.6" y="600.0" font-size="4.2" fill="#555" text-anchor="middle">10<tspan dy="-2" font-size="3">5</tspan></text>
<rect x="394.3" y="590.3" width="1.6" height="1.6" fill="#222"/>
<clipPath id="cp12"><rect x="379.20" y="503.00" width="85.50" height="86.00"/></clipPath><g clip-path="url(#cp12)">
<path d="M437.0 555.1h0.7M429.8 569.6h0.7M417.7 551.6h0.7M439.5 563.4h0.7M425.7 562.2h0.7M434.3 588.0h0.7M436.6 559.3h0.7M433.6 564.7h0.7M421.9 566.9h0.7M403.1 556.0h0.7M450.8 565.2h0.7M439.2 564.8h0.7M423.9 565.1h0.7M438.0 544.6h0.7M433.9 577.6h0.7M416.3 553.6h0.7M448.4 560.9h0.7M421.4 568.1h0.7M428.7 567.9h0.7M424.4 586.7h0.7M412.7 565.1h0.7M424.1 573.2h0.7M418.4 546.6h0.7M406.5 566.9h0.7M414.3 556.9h0.7M419.9 567.1h0.7M418.2 556.0h0.7M407.9 572.0h0.7M434.2 560.1h0.7M436.5 560.8h0.7M440.7 557.6h0.7M429.0 561.0h0.7M414.6 565.6h0.7M429.5 558.0h0.7M407.7 565.7h0.7M423.0 569.9h0.7M433.9 563.8h0.7M440.7 563.9h0.7M433.1 564.3h0.7M425.7 554.7h0.7M419.6 581.9h0.7M417.0 570.9h0.7M437.0 562.7h0.7M429.8 566.0h0.7M432.9 575.4h0.7M423.3 563.4h0.7M422.6 569.5h0.7M432.5 549.3h0.7M424.9 577.9h0.7M415.6 552.8h0.7M437.3 567.9h0.7M430.8 559.5h0.7M414.4 553.1h0.7M407.9 560.1h0.7M426.2 567.2h0.7M438.3 571.0h0.7M425.8 568.9h0.7M388.9 574.1h0.7M406.1 575.0h0.7M436.9 564.5h0.7M413.4 572.4h0.7M396.1 577.6h0.7M420.8 566.4h0.7M430.5 569.9h0.7M426.9 576.6h0.7M442.1 575.6h0.7M425.2 578.5h0.7M430.7 554.0h0.7M436.9 544.0h0.7M412.3 571.8h0.7M418.1 555.5h0.7M422.1 578.8h0.7M447.9 568.9h0.7M423.6 556.1h0.7M426.7 558.3h0.7M434.1 575.5h0.7M437.1 562.8h0.7M433.2 556.2h0.7M415.1 569.5h0.7M445.2 564.6h0.7M432.6 568.8h0.7M438.8 576.2h0.7M416.9 544.8h0.7M412.5 566.1h0.7M432.4 573.0h0.7M424.9 577.4h0.7M437.9 583.5h0.7M410.2 564.4h0.7M428.3 565.4h0.7M425.8 564.8h0.7M443.6 575.7h0.7M429.1 564.5h0.7M418.4 579.0h0.7M418.0 574.3h0.7M423.8 563.1h0.7M417.4 566.4h0.7M427.6 559.6h0.7M407.7 562.9h0.7M413.3 570.4h0.7M419.7 566.4h0.7M426.9 575.0h0.7M410.5 564.2h0.7M413.5 570.3h0.7M423.8 562.5h0.7M407.0 564.4h0.7M411.5 554.4h0.7M435.3 575.8h0.7M432.4 551.9h0.7M426.8 568.9h0.7M423.0 572.5h0.7M418.4 560.5h0.7M432.3 563.8h0.7M427.0 558.1h0.7M427.5 571.4h0.7M428.7 560.8h0.7M416.3 559.9h0.7M428.3 569.5h0.7M417.2 576.5h0.7M414.7 558.2h0.7M427.1 565.7h0.7M429.5 573.2h0.7M421.4 538.5h0.7M434.3 574.9h0.7M424.4 561.8h0.7M413.8 571.2h0.7M409.6 560.9h0.7M430.0 571.2h0.7M431.8 550.1h0.7M416.1 571.0h0.7M431.8 580.3h0.7M409.8 546.8h0.7M430.5 564.3h0.7M423.1 564.0h0.7M420.9 565.7h0.7M413.4 567.8h0.7M434.8 558.9h0.7M414.7 564.1h0.7M401.3 569.6h0.7M426.9 574.5h0.7M412.3 553.0h0.7M437.2 561.8h0.7M410.7 584.4h0.7M426.2 559.9h0.7M418.3 566.9h0.7M436.7 580.1h0.7M397.1 572.2h0.7M416.4 555.8h0.7M417.7 582.0h0.7M416.6 554.1h0.7M395.5 569.2h0.7M424.2 552.4h0.7M429.0 564.3h0.7M402.5 560.3h0.7M443.1 556.4h0.7M429.2 566.6h0.7M421.8 558.5h0.7M450.9 560.0h0.7M442.6 576.3h0.7M426.3 579.8h0.7M407.4 561.1h0.7M433.0 569.4h0.7M416.1 561.5h0.7M424.5 570.7h0.7M428.1 551.3h0.7M414.7 564.8h0.7M420.4 545.0h0.7M433.7 567.0h0.7M422.8 566.2h0.7M462.7 562.8h0.7M410.2 568.4h0.7M433.8 580.8h0.7M421.6 570.5h0.7M419.9 569.4h0.7M422.6 562.2h0.7M438.4 560.8h0.7M405.9 574.9h0.7M412.2 574.7h0.7M420.0 576.6h0.7M423.6 551.7h0.7M444.5 564.9h0.7M418.7 556.6h0.7M438.2 567.4h0.7M404.5 578.9h0.7M434.1 562.2h0.7M419.6 578.9h0.7M423.1 551.4h0.7M424.6 573.5h0.7M418.3 572.7h0.7M431.2 569.2h0.7M440.4 571.1h0.7M411.2 566.2h0.7M404.7 566.7h0.7M434.6 555.5h0.7M445.2 554.8h0.7M421.7 563.5h0.7M423.2 565.3h0.7M422.3 576.5h0.7M434.0 562.2h0.7M427.8 567.9h0.7M437.7 570.6h0.7M421.8 566.6h0.7M439.1 551.8h0.7M419.1 556.6h0.7M431.1 569.8h0.7M414.8 563.2h0.7M446.8 576.1h0.7M421.1 563.8h0.7M434.8 580.8h0.7M435.3 571.0h0.7M416.6 565.6h0.7M421.2 565.3h0.7M436.2 565.7h0.7M443.9 569.2h0.7M400.9 558.7h0.7M416.5 553.8h0.7M452.8 583.1h0.7M441.6 579.5h0.7M410.9 559.1h0.7M424.1 572.0h0.7M409.8 560.4h0.7M442.4 560.9h0.7M427.1 560.5h0.7M440.8 564.5h0.7M421.1 573.5h0.7M424.7 556.2h0.7M412.7 556.5h0.7M431.7 572.9h0.7M431.9 566.3h0.7M442.6 580.3h0.7M438.2 553.8h0.7M413.8 567.7h0.7M428.1 568.9h0.7M433.0 571.3h0.7M416.8 576.3h0.7M431.4 549.3h0.7M431.7 579.2h0.7M414.5 564.7h0.7M447.9 583.2h0.7M398.9 579.1h0.7M397.2 571.0h0.7M417.4 572.4h0.7M442.5 568.4h0.7M424.7 555.9h0.7M418.1 571.0h0.7M407.4 558.1h0.7M421.8 566.3h0.7M437.5 561.5h0.7M415.3 578.2h0.7M428.5 575.4h0.7M402.9 560.1h0.7M451.8 578.6h0.7M432.6 557.9h0.7M431.1 565.0h0.7M399.1 557.1h0.7M428.3 561.1h0.7M422.7 561.9h0.7M424.8 558.0h0.7M454.8 581.3h0.7M430.6 563.9h0.7M419.7 562.7h0.7M439.6 562.9h0.7M425.5 566.4h0.7M422.7 573.6h0.7M445.3 575.0h0.7M417.4 568.9h0.7M418.7 566.9h0.7M421.1 579.9h0.7M415.1 577.1h0.7M400.8 551.8h0.7M431.9 566.4h0.7M419.1 560.5h0.7M419.5 568.8h0.7M406.3 574.4h0.7M438.7 559.4h0.7M437.3 568.2h0.7M417.7 566.3h0.7M429.9 571.2h0.7M432.0 564.2h0.7M422.9 565.8h0.7M415.9 566.4h0.7M451.5 565.8h0.7M425.8 560.2h0.7M448.9 571.3h0.7M407.6 552.7h0.7M428.0 573.0h0.7M415.2 562.7h0.7M423.6 568.4h0.7M419.2 564.7h0.7M433.0 554.4h0.7M411.3 572.2h0.7M438.2 553.1h0.7M413.7 572.3h0.7M430.8 572.4h0.7M435.1 580.0h0.7M436.9 571.7h0.7M400.2 543.1h0.7M417.8 573.9h0.7M438.3 559.4h0.7M421.5 565.2h0.7M434.4 569.2h0.7M419.5 572.1h0.7M417.9 558.9h0.7M399.9 567.8h0.7M433.4 559.2h0.7M412.3 560.9h0.7M405.1 566.8h0.7M431.7 554.1h0.7M403.9 571.1h0.7M423.1 566.2h0.7M416.1 565.4h0.7M448.9 567.4h0.7M427.6 555.6h0.7M405.4 583.8h0.7M422.1 575.8h0.7M437.9 580.3h0.7M425.1 568.2h0.7M410.6 574.3h0.7M401.8 574.0h0.7M438.8 561.6h0.7M433.1 579.1h0.7M408.3 559.7h0.7M420.4 559.3h0.7M446.0 571.7h0.7M421.6 563.4h0.7M408.0 562.0h0.7M434.5 557.3h0.7M424.4 567.2h0.7M412.2 554.0h0.7M458.2 576.6h0.7M416.0 550.9h0.7M417.0 562.4h0.7M447.8 576.5h0.7M411.9 559.1h0.7M395.5 565.7h0.7M421.9 571.6h0.7M427.1 560.7h0.7M434.9 557.2h0.7M459.1 571.3h0.7M444.0 577.2h0.7M423.6 567.8h0.7M410.1 563.7h0.7M405.0 546.8h0.7M421.9 565.9h0.7M412.8 541.6h0.7M418.8 576.5h0.7M427.8 549.9h0.7M425.3 556.4h0.7M421.5 554.0h0.7M400.2 580.0h0.7M404.6 576.9h0.7M440.7 561.5h0.7M446.7 569.0h0.7M410.8 585.5h0.7M439.6 568.6h0.7M434.4 554.8h0.7M447.2 562.9h0.7M429.6 580.0h0.7M412.0 572.7h0.7M429.7 552.9h0.7M425.5 560.5h0.7M410.9 563.5h0.7M431.6 565.3h0.7M432.9 573.8h0.7M418.5 566.6h0.7M443.1 558.8h0.7M409.7 578.0h0.7M428.9 569.1h0.7M436.2 561.3h0.7M437.7 563.9h0.7M430.6 552.2h0.7M410.5 565.4h0.7M411.6 557.3h0.7M427.4 564.8h0.7M434.7 571.4h0.7M432.9 583.1h0.7M419.5 565.8h0.7M440.5 558.1h0.7M417.5 561.3h0.7M402.5 581.3h0.7M435.4 555.2h0.7M432.1 571.6h0.7M412.3 579.1h0.7M425.1 554.9h0.7M440.4 567.0h0.7M423.5 574.8h0.7M439.6 561.2h0.7M421.3 567.6h0.7M433.8 572.9h0.7M397.4 561.7h0.7M447.2 560.3h0.7M423.7 568.9h0.7M417.3 562.5h0.7M437.5 546.1h0.7M430.3 544.1h0.7M437.3 567.2h0.7M414.9 561.4h0.7M420.5 559.1h0.7M429.7 560.6h0.7M439.8 584.1h0.7M408.8 566.5h0.7M424.4 556.5h0.7M405.1 565.9h0.7M406.9 553.8h0.7M416.6 559.0h0.7M437.2 555.6h0.7M427.3 552.5h0.7M445.9 561.8h0.7M433.2 573.6h0.7M423.5 561.9h0.7M403.8 574.4h0.7M421.5 559.9h0.7M440.1 560.9h0.7M429.0 565.9h0.7M424.6 562.2h0.7M436.4 561.2h0.7M427.3 557.2h0.7M423.0 559.2h0.7M441.2 562.6h0.7M406.9 560.7h0.7M442.5 558.5h0.7M431.2 563.2h0.7M431.4 567.2h0.7M425.4 555.5h0.7M419.1 562.0h0.7M446.3 563.5h0.7M435.8 568.0h0.7M410.3 554.4h0.7M430.1 561.7h0.7M430.0 565.4h0.7M412.2 572.4h0.7M420.2 574.4h0.7M437.4 566.6h0.7M421.2 552.2h0.7M418.5 550.0h0.7M410.4 569.6h0.7M436.7 574.2h0.7M429.4 560.8h0.7M417.9 569.8h0.7M444.5 575.6h0.7M434.4 557.4h0.7M429.2 563.6h0.7M424.3 562.8h0.7M424.7 561.0h0.7M409.7 564.5h0.7M450.7 565.8h0.7M405.8 571.3h0.7M439.4 552.8h0.7M425.7 562.3h0.7M408.5 567.3h0.7M447.2 555.3h0.7M434.7 572.8h0.7M411.9 563.6h0.7M434.8 565.5h0.7M433.5 569.0h0.7M416.5 552.1h0.7M411.4 567.2h0.7M423.7 571.7h0.7M431.4 558.4h0.7M406.4 563.7h0.7M425.4 560.0h0.7M426.8 570.7h0.7M434.9 567.0h0.7M426.5 561.2h0.7M435.6 563.4h0.7M398.7 571.9h0.7M416.8 578.9h0.7M429.2 554.4h0.7M407.0 559.9h0.7M423.9 570.1h0.7M424.4 549.5h0.7M428.2 549.4h0.7M429.8 574.0h0.7M416.1 573.7h0.7M432.2 556.7h0.7M423.2 571.9h0.7M428.2 569.0h0.7M440.1 567.9h0.7M428.5 575.3h0.7M412.8 551.0h0.7M420.4 569.4h0.7M428.1 562.6h0.7M418.5 565.5h0.7M433.1 554.5h0.7M417.8 576.0h0.7M436.9 568.8h0.7M418.0 559.7h0.7M432.3 553.1h0.7M443.8 544.9h0.7M414.3 562.7h0.7M428.5 566.8h0.7M423.2 558.1h0.7M420.5 574.5h0.7M413.4 575.7h0.7M441.4 568.2h0.7M420.1 562.7h0.7M417.3 574.6h0.7M443.7 567.1h0.7M411.9 552.8h0.7M424.2 563.0h0.7M434.0 563.7h0.7M409.9 575.0h0.7M435.5 563.8h0.7M456.0 559.9h0.7M425.5 566.3h0.7M431.5 576.4h0.7M423.3 570.4h0.7M398.0 558.3h0.7M439.6 572.6h0.7M432.5 554.0h0.7M438.3 567.1h0.7M440.1 563.5h0.7M435.9 573.8h0.7M426.8 577.4h0.7M424.3 564.7h0.7M437.0 560.3h0.7M426.8 557.2h0.7M426.9 575.9h0.7M406.6 571.9h0.7M431.1 565.4h0.7M446.2 562.5h0.7M449.7 543.3h0.7M430.4 548.3h0.7M424.7 556.1h0.7M413.7 555.9h0.7M426.8 567.3h0.7M437.3 558.3h0.7M420.1 577.0h0.7M425.0 558.9h0.7M427.1 558.4h0.7M421.0 554.4h0.7M413.0 571.3h0.7M453.8 558.5h0.7M422.5 566.8h0.7M423.6 564.9h0.7M426.7 562.0h0.7M409.7 556.8h0.7M429.7 572.9h0.7M413.3 570.4h0.7M428.4 567.1h0.7M423.9 564.2h0.7M434.4 574.8h0.7M437.9 562.5h0.7M405.6 567.6h0.7M420.5 564.9h0.7M432.6 564.4h0.7M417.3 565.8h0.7M429.8 549.7h0.7M432.6 568.9h0.7M432.4 569.6h0.7M423.1 567.4h0.7M443.2 570.7h0.7M421.7 572.6h0.7M420.1 553.8h0.7M444.6 565.8h0.7M434.5 564.7h0.7M443.4 563.4h0.7M405.9 559.5h0.7M445.5 555.8h0.7M423.9 566.1h0.7M429.6 564.4h0.7M406.7 564.1h0.7M437.0 547.5h0.7M424.9 564.6h0.7M413.7 567.5h0.7M424.7 549.6h0.7M406.6 571.9h0.7M416.7 574.9h0.7M405.2 568.7h0.7M426.8 573.0h0.7M412.9 569.4h0.7M450.6 570.3h0.7M446.0 564.0h0.7M421.3 571.6h0.7M431.0 560.7h0.7M424.8 570.2h0.7M415.1 559.2h0.7M415.7 559.2h0.7M421.2 566.1h0.7M434.3 553.4h0.7M426.5 545.8h0.7M424.2 556.9h0.7M409.8 585.9h0.7M433.7 570.9h0.7M427.9 556.3h0.7M426.9 556.3h0.7M426.9 555.1h0.7M432.9 566.0h0.7M428.1 583.5h0.7M422.0 577.8h0.7M432.5 573.4h0.7M419.0 569.1h0.7M414.0 550.3h0.7M431.4 572.7h0.7M425.3 574.1h0.7M405.1 563.6h0.7M429.0 576.2h0.7M409.6 567.8h0.7M421.9 578.4h0.7M426.6 556.8h0.7M421.5 552.3h0.7M414.7 553.8h0.7M419.5 559.8h0.7M430.2 571.6h0.7M419.6 572.4h0.7M449.5 563.7h0.7M440.0 579.5h0.7M423.7 570.8h0.7M437.6 551.7h0.7M426.5 566.9h0.7M414.2 584.8h0.7M436.6 562.7h0.7M417.5 580.3h0.7M422.4 572.2h0.7M447.0 562.8h0.7M422.7 565.5h0.7M419.1 570.4h0.7M434.0 569.4h0.7M411.0 577.3h0.7M422.5 558.2h0.7M432.2 569.5h0.7M426.5 560.7h0.7M439.5 561.6h0.7M396.7 564.2h0.7M435.7 576.4h0.7M414.5 575.4h0.7M433.5 559.6h0.7M410.8 564.4h0.7M437.5 557.0h0.7M423.0 575.1h0.7M429.3 579.7h0.7M430.9 567.9h0.7M442.3 548.4h0.7M438.9 567.6h0.7M410.1 558.7h0.7M425.5 554.1h0.7M450.0 562.5h0.7M433.6 551.1h0.7M391.0 561.4h0.7M415.1 572.6h0.7M424.1 573.4h0.7M417.2 570.2h0.7M421.5 577.1h0.7M407.2 559.2h0.7M409.9 572.3h0.7M434.7 573.4h0.7M438.8 573.8h0.7M426.3 559.2h0.7M430.6 564.6h0.7M457.3 559.4h0.7M445.3 568.0h0.7M453.3 563.4h0.7M413.6 563.9h0.7M413.6 571.4h0.7M421.7 562.3h0.7M439.8 556.8h0.7M445.3 585.2h0.7M437.1 575.5h0.7M425.4 566.4h0.7M449.5 557.8h0.7M445.6 562.3h0.7M419.0 556.3h0.7M430.0 552.9h0.7M435.4 562.8h0.7M440.6 572.9h0.7M429.6 558.2h0.7M431.3 562.6h0.7M436.4 556.6h0.7M450.7 568.6h0.7M412.8 565.5h0.7M440.8 549.3h0.7M436.0 566.3h0.7M431.2 561.3h0.7M431.5 557.8h0.7M444.0 553.3h0.7M431.6 576.1h0.7M433.1 558.6h0.7M425.9 553.9h0.7M417.3 571.5h0.7M445.5 556.1h0.7M423.7 578.1h0.7M434.8 571.0h0.7M415.9 566.2h0.7M426.4 565.9h0.7M423.1 574.8h0.7M429.6 565.2h0.7M433.4 574.3h0.7M440.1 569.0h0.7M432.2 558.0h0.7M432.0 573.3h0.7M430.4 558.6h0.7M429.3 561.9h0.7M422.3 564.1h0.7M429.4 569.4h0.7M425.2 564.9h0.7M413.5 575.5h0.7M420.4 584.0h0.7M421.9 562.7h0.7M414.8 563.7h0.7M438.8 566.1h0.7M432.2 580.9h0.7M425.7 569.8h0.7M423.6 560.7h0.7M446.0 572.5h0.7M413.2 570.0h0.7M426.9 569.7h0.7M428.4 567.2h0.7M412.0 566.4h0.7M415.4 551.8h0.7M428.7 561.5h0.7M415.4 564.6h0.7M400.5 573.0h0.7M424.6 561.8h0.7M444.8 558.1h0.7M454.7 548.9h0.7M428.5 572.0h0.7M425.2 563.5h0.7M441.3 577.9h0.7M431.8 560.7h0.7M426.5 564.9h0.7M415.5 574.2h0.7M421.8 564.0h0.7M425.3 560.8h0.7" stroke="#1a1a1a" stroke-opacity="0.68" stroke-width="0.7" fill="none"/>
<path d="M385.5 549.3h0.7M384.4 551.6h0.7M385.8 569.5h0.7M380.7 549.0h0.7M382.3 561.1h0.7M391.5 535.0h0.7M381.7 550.7h0.7M386.4 550.9h0.7M384.6 537.8h0.7M381.5 543.5h0.7M380.6 546.3h0.7M381.3 536.2h0.7M382.2 562.9h0.7M381.1 541.2h0.7M386.7 530.9h0.7M381.9 545.3h0.7M387.6 539.7h0.7M389.0 533.8h0.7M382.2 559.9h0.7M384.9 539.5h0.7M381.2 551.5h0.7M385.7 540.0h0.7M384.2 546.0h0.7M382.4 551.8h0.7M383.2 556.1h0.7M386.1 556.0h0.7M385.7 555.7h0.7M382.0 548.9h0.7M381.1 547.6h0.7M381.0 542.3h0.7M380.6 541.0h0.7M382.3 535.3h0.7M385.6 540.5h0.7M388.7 532.5h0.7M386.2 552.1h0.7M380.3 558.9h0.7M388.9 555.7h0.7M386.6 541.8h0.7M388.1 556.8h0.7M386.1 542.9h0.7M382.9 547.9h0.7M387.9 527.9h0.7M381.8 556.3h0.7M389.0 555.7h0.7M383.9 546.5h0.7M387.3 552.1h0.7M379.7 549.5h0.7M387.1 563.3h0.7M380.4 538.9h0.7M390.6 547.4h0.7M392.2 536.7h0.7M388.0 556.8h0.7M385.9 552.3h0.7M381.7 551.2h0.7M383.1 547.4h0.7M386.3 541.3h0.7M380.4 541.5h0.7M387.9 563.7h0.7M382.6 541.1h0.7M390.3 559.0h0.7M385.8 544.6h0.7M380.7 539.4h0.7M392.2 554.0h0.7M380.9 552.3h0.7M380.9 551.3h0.7M384.4 539.7h0.7M381.8 551.6h0.7M381.8 562.7h0.7M383.5 556.4h0.7M382.7 552.0h0.7M389.0 537.8h0.7M385.3 539.8h0.7M382.5 547.5h0.7M384.9 545.8h0.7M383.6 553.3h0.7M385.6 559.8h0.7M386.7 565.4h0.7M380.7 544.3h0.7M388.0 548.0h0.7M383.8 568.4h0.7M386.6 561.6h0.7M379.6 549.1h0.7M383.6 557.7h0.7M385.6 561.4h0.7M379.3 547.7h0.7M381.7 546.0h0.7M389.4 555.8h0.7M388.9 555.0h0.7M394.4 572.7h0.7M384.7 537.3h0.7M383.5 555.3h0.7M383.9 560.0h0.7M385.1 543.9h0.7M387.0 537.0h0.7M383.9 542.5h0.7M383.1 551.3h0.7M389.7 536.8h0.7M381.2 542.1h0.7M379.4 549.5h0.7M388.2 537.9h0.7M386.4 559.0h0.7M387.4 554.6h0.7M383.3 542.2h0.7M381.9 544.4h0.7M379.6 545.1h0.7M381.3 554.8h0.7M383.4 541.0h0.7M390.6 544.4h0.7M382.6 548.9h0.7M385.6 549.5h0.7M383.3 539.0h0.7M385.4 549.1h0.7M382.1 557.1h0.7M383.0 537.0h0.7M380.8 548.0h0.7M381.4 560.4h0.7M381.3 536.1h0.7M382.9 546.8h0.7M380.2 547.6h0.7M388.6 550.1h0.7M386.2 540.3h0.7M381.2 555.1h0.7M392.3 548.1h0.7M380.8 558.2h0.7M379.9 561.7h0.7M385.8 542.3h0.7M379.6 540.7h0.7M385.5 543.6h0.7M386.6 550.3h0.7M382.8 542.8h0.7M386.7 543.4h0.7M385.7 548.8h0.7M383.0 544.7h0.7M384.6 548.7h0.7M383.6 571.8h0.7M383.7 552.3h0.7M385.4 550.1h0.7M384.7 536.2h0.7M382.5 559.5h0.7M380.1 539.4h0.7M384.2 554.9h0.7M381.3 544.2h0.7M384.9 550.8h0.7M383.5 537.3h0.7M389.8 553.4h0.7M387.5 545.4h0.7M379.6 566.0h0.7M392.1 553.2h0.7M387.6 534.7h0.7M380.8 557.5h0.7M380.7 550.8h0.7M390.4 544.7h0.7M382.5 546.1h0.7M392.6 569.9h0.7M383.5 557.8h0.7M384.7 550.8h0.7M386.9 543.2h0.7M386.5 544.2h0.7M380.0 548.2h0.7M380.6 560.4h0.7M381.9 556.5h0.7M384.9 551.9h0.7M383.3 544.1h0.7M383.1 555.5h0.7M395.7 556.1h0.7M383.2 536.5h0.7M385.2 554.2h0.7M386.2 544.6h0.7M384.0 540.7h0.7M389.1 532.9h0.7M381.0 550.7h0.7M380.9 551.3h0.7M381.3 549.7h0.7M383.5 543.6h0.7M389.0 544.6h0.7M388.2 529.8h0.7M381.1 544.2h0.7M383.5 544.3h0.7M380.9 555.6h0.7M383.9 555.1h0.7M386.1 555.6h0.7M382.6 535.6h0.7M396.0 544.8h0.7M383.3 549.1h0.7M385.7 548.4h0.7M380.2 554.5h0.7M390.3 545.1h0.7M380.5 551.9h0.7M390.2 550.5h0.7M383.8 533.8h0.7M380.6 544.4h0.7M383.2 557.3h0.7M387.6 567.8h0.7M383.5 547.5h0.7M380.0 558.9h0.7M383.0 553.2h0.7M392.2 568.4h0.7M393.5 554.6h0.7M385.8 543.4h0.7M380.6 554.1h0.7M381.9 549.5h0.7M392.0 556.6h0.7M381.6 543.0h0.7M388.1 546.9h0.7M390.6 548.6h0.7M385.9 551.2h0.7M388.3 545.7h0.7M383.9 553.3h0.7M386.8 545.4h0.7M381.2 536.3h0.7M381.6 533.0h0.7M381.4 570.3h0.7M379.4 561.4h0.7M380.9 552.1h0.7M383.8 536.4h0.7M379.5 558.6h0.7M383.4 548.4h0.7M388.5 556.7h0.7M382.3 544.0h0.7M391.1 537.3h0.7M383.5 551.8h0.7M381.0 538.9h0.7M390.1 538.7h0.7M382.9 536.3h0.7M380.9 544.8h0.7M393.4 537.9h0.7M388.0 558.1h0.7M380.7 546.5h0.7M392.1 563.0h0.7M386.1 539.9h0.7M390.0 552.2h0.7M390.2 547.8h0.7M387.2 543.9h0.7M380.0 540.9h0.7M380.3 555.8h0.7M388.9 559.7h0.7M386.4 557.1h0.7M382.1 565.7h0.7M385.4 559.7h0.7M383.4 553.1h0.7M380.3 545.5h0.7M384.8 562.2h0.7M381.9 543.0h0.7M383.0 551.5h0.7M382.0 548.7h0.7M392.5 545.8h0.7M384.3 545.7h0.7M385.0 551.4h0.7M389.4 562.5h0.7M389.0 557.6h0.7M380.5 568.8h0.7M388.5 534.9h0.7M382.3 545.4h0.7M383.2 566.8h0.7M381.1 539.9h0.7M385.5 525.7h0.7M381.0 559.2h0.7M386.6 532.4h0.7M381.1 549.6h0.7M382.0 547.6h0.7M381.8 558.9h0.7M384.5 546.9h0.7M382.3 555.1h0.7M380.2 549.7h0.7M385.7 554.8h0.7M382.9 550.1h0.7M380.9 547.3h0.7M382.5 543.9h0.7M385.7 549.5h0.7M386.1 552.3h0.7M383.2 558.2h0.7M386.9 546.8h0.7M384.7 559.3h0.7M379.9 549.5h0.7M384.8 552.4h0.7M383.5 562.0h0.7M390.6 551.8h0.7M383.3 548.2h0.7M388.9 568.0h0.7M386.9 560.3h0.7M384.4 565.1h0.7M387.6 550.8h0.7M389.1 554.9h0.7M386.3 551.8h0.7M385.3 554.3h0.7M385.4 562.0h0.7M379.9 538.7h0.7M379.7 564.1h0.7M386.7 536.7h0.7M389.0 550.4h0.7M381.2 549.6h0.7M384.6 556.0h0.7M389.6 547.3h0.7M383.7 539.3h0.7M382.9 558.1h0.7M387.4 547.4h0.7M383.0 540.4h0.7M387.2 548.8h0.7M384.8 552.2h0.7M381.6 545.1h0.7M383.1 552.1h0.7M385.8 551.9h0.7M383.9 546.4h0.7M380.4 551.4h0.7M383.8 546.6h0.7M389.1 552.9h0.7M381.3 547.0h0.7M383.7 544.0h0.7M392.5 547.0h0.7M386.9 532.2h0.7M393.1 550.6h0.7M382.9 546.6h0.7M381.9 550.8h0.7M384.4 550.1h0.7M381.5 553.6h0.7M381.6 554.7h0.7M387.9 556.4h0.7M382.7 560.2h0.7M382.5 545.6h0.7M389.2 542.3h0.7M381.3 555.7h0.7M387.8 543.1h0.7" stroke="#1a1a1a" stroke-opacity="0.68" stroke-width="0.7" fill="none"/>
<path d="M433.2 578.9h0.7M442.8 578.3h0.7M425.0 575.7h0.7M427.4 569.5h0.7M433.6 576.6h0.7M435.8 584.0h0.7M430.5 577.6h0.7M441.6 581.8h0.7M438.2 573.6h0.7M415.9 577.8h0.7M427.1 582.7h0.7M443.4 577.0h0.7M435.1 581.2h0.7M422.9 571.4h0.7M426.0 577.9h0.7M429.1 571.3h0.7M424.5 574.2h0.7M422.8 577.7h0.7M460.9 568.3h0.7M406.4 584.2h0.7M441.2 578.5h0.7M435.2 574.7h0.7M457.4 571.7h0.7M442.1 574.8h0.7M450.9 580.8h0.7M456.7 584.0h0.7M437.3 582.6h0.7M445.2 579.3h0.7M457.7 576.4h0.7M436.3 586.3h0.7M426.6 583.7h0.7M455.1 574.7h0.7M431.7 574.2h0.7M443.2 577.5h0.7M447.3 568.0h0.7M447.5 585.8h0.7M444.1 581.8h0.7M449.6 573.0h0.7M435.5 574.4h0.7M433.8 578.9h0.7M440.6 580.0h0.7M426.2 582.3h0.7M438.6 576.6h0.7M446.3 578.6h0.7M440.3 585.0h0.7M429.3 585.3h0.7M441.9 579.1h0.7M456.3 577.6h0.7M428.5 576.5h0.7M413.6 578.6h0.7M448.6 582.4h0.7M452.0 575.3h0.7M421.8 585.6h0.7M440.3 572.0h0.7M452.0 573.0h0.7M454.6 574.3h0.7M458.5 570.1h0.7M422.9 582.1h0.7M435.4 571.0h0.7M451.0 571.3h0.7M430.0 571.3h0.7M454.8 582.1h0.7M451.8 573.4h0.7M443.1 568.0h0.7M449.3 575.2h0.7M429.0 573.4h0.7M412.1 582.1h0.7M421.4 581.0h0.7M428.9 575.8h0.7M445.3 578.2h0.7M448.7 583.0h0.7M439.4 576.3h0.7M429.0 584.4h0.7M451.2 578.9h0.7M407.7 575.3h0.7M445.1 578.2h0.7M435.8 575.2h0.7M436.8 581.3h0.7M443.4 576.2h0.7M427.2 584.0h0.7M434.1 573.1h0.7M427.4 575.6h0.7M447.1 586.5h0.7M436.6 580.5h0.7M424.9 573.3h0.7M438.4 580.8h0.7M449.4 580.5h0.7M448.2 576.8h0.7M448.4 586.7h0.7M419.3 584.0h0.7M423.9 567.0h0.7M444.4 583.7h0.7M443.8 579.9h0.7M438.8 570.8h0.7M438.2 577.3h0.7M457.4 575.1h0.7M426.7 577.7h0.7M454.9 578.8h0.7M436.5 569.5h0.7M414.1 577.0h0.7M421.0 584.9h0.7M433.0 575.0h0.7M462.5 581.9h0.7M436.1 582.8h0.7M446.0 567.8h0.7M432.5 574.1h0.7M431.8 581.5h0.7M420.5 585.3h0.7M441.7 576.1h0.7M433.1 579.2h0.7M456.5 578.5h0.7M414.7 580.8h0.7M416.0 579.7h0.7M423.9 582.7h0.7M449.6 576.8h0.7M450.2 576.4h0.7M430.9 567.1h0.7M442.7 578.1h0.7M431.0 573.1h0.7M427.7 571.3h0.7M446.1 576.1h0.7M430.0 573.0h0.7M456.1 573.4h0.7M410.9 574.9h0.7M424.8 586.1h0.7M447.5 588.1h0.7M444.3 577.7h0.7M447.3 581.3h0.7M447.0 579.4h0.7M453.6 570.8h0.7M430.0 578.2h0.7M444.1 577.0h0.7M417.9 583.6h0.7M440.5 585.1h0.7M447.1 577.4h0.7M447.8 581.7h0.7M445.8 576.0h0.7M440.7 575.7h0.7M430.7 583.5h0.7M427.1 575.8h0.7M441.2 571.5h0.7M440.0 578.5h0.7M449.1 580.4h0.7M447.3 580.4h0.7M418.5 580.2h0.7M438.2 568.2h0.7M433.0 572.8h0.7M457.8 567.9h0.7M447.3 578.8h0.7M441.1 570.5h0.7M440.4 575.2h0.7M440.6 580.8h0.7M435.1 574.1h0.7M430.5 576.6h0.7M427.9 575.3h0.7M448.0 576.4h0.7M451.8 581.7h0.7M429.6 584.6h0.7M427.4 582.6h0.7M448.6 577.2h0.7M417.8 577.5h0.7M459.3 570.9h0.7M424.9 580.4h0.7M430.0 577.6h0.7M444.6 572.2h0.7M447.2 576.8h0.7M433.8 583.4h0.7M404.2 583.3h0.7M446.4 579.1h0.7M429.9 582.1h0.7M446.7 573.7h0.7M427.1 581.0h0.7M450.3 586.5h0.7M450.4 572.4h0.7M427.5 582.8h0.7M445.8 576.0h0.7M439.2 574.9h0.7M423.7 579.0h0.7M445.1 587.1h0.7M431.6 577.2h0.7M438.8 580.2h0.7M452.7 569.5h0.7M451.9 581.2h0.7M439.8 569.2h0.7M409.3 581.7h0.7M411.4 580.3h0.7M443.3 580.8h0.7M444.3 581.4h0.7M449.2 581.7h0.7M431.0 582.7h0.7M439.7 573.9h0.7M456.0 582.1h0.7M426.7 582.3h0.7M452.7 581.3h0.7M435.2 582.4h0.7M452.1 582.4h0.7" stroke="#1a1a1a" stroke-opacity="0.48" stroke-width="0.7" fill="none"/>
<path d="M413.2 568.8h0.7M396.9 557.1h0.7M388.0 579.7h0.7M388.7 577.9h0.7M409.4 561.4h0.7M385.0 557.3h0.7M383.3 577.6h0.7M406.1 575.2h0.7M385.8 577.7h0.7M398.8 556.1h0.7M413.8 568.0h0.7M402.3 581.5h0.7M383.6 579.8h0.7M394.8 581.8h0.7M412.1 564.2h0.7M382.2 557.5h0.7M409.4 572.2h0.7M408.3 576.7h0.7M399.9 558.1h0.7M387.6 554.4h0.7M406.3 577.2h0.7M383.5 577.8h0.7M386.5 578.6h0.7M412.2 567.7h0.7M399.8 555.4h0.7M411.1 570.1h0.7M395.2 557.4h0.7M410.1 575.0h0.7M414.0 568.9h0.7M412.2 568.5h0.7M413.0 564.4h0.7M390.3 557.2h0.7M380.1 558.8h0.7M410.3 574.3h0.7M406.0 575.3h0.7M410.3 558.7h0.7M390.9 578.1h0.7M379.7 579.9h0.7M411.1 562.3h0.7M411.3 572.0h0.7M383.3 555.8h0.7M396.3 579.3h0.7M411.2 571.2h0.7M410.5 563.3h0.7M385.9 558.0h0.7M380.3 574.9h0.7M416.1 571.2h0.7M380.5 577.6h0.7M412.5 577.4h0.7M396.2 558.1h0.7M382.5 578.0h0.7M414.2 575.3h0.7M383.1 557.2h0.7M387.7 577.7h0.7M388.2 557.1h0.7M408.5 576.5h0.7M409.3 572.6h0.7M397.9 555.6h0.7M383.0 576.0h0.7M400.1 556.0h0.7M413.5 566.3h0.7M404.0 558.7h0.7M409.3 563.3h0.7M379.9 560.6h0.7M408.2 555.8h0.7M379.7 575.0h0.7M381.3 560.1h0.7M412.7 567.0h0.7M414.6 567.4h0.7M395.2 557.8h0.7M406.7 558.7h0.7M404.1 558.3h0.7M380.7 577.1h0.7M383.4 559.3h0.7M406.9 560.6h0.7M404.0 559.1h0.7M407.9 559.5h0.7M399.7 554.7h0.7M392.8 554.8h0.7M409.7 573.0h0.7M387.0 558.8h0.7M409.3 561.3h0.7M389.9 578.4h0.7M407.1 561.1h0.7M386.4 555.3h0.7M407.4 574.2h0.7M402.6 577.9h0.7M389.7 579.5h0.7M396.4 553.3h0.7M399.2 579.6h0.7M386.3 558.6h0.7M380.9 561.2h0.7M405.0 577.5h0.7M380.7 575.6h0.7M409.2 578.9h0.7M397.6 580.8h0.7M412.4 576.9h0.7M385.0 577.7h0.7M407.0 560.1h0.7M381.9 575.1h0.7M410.8 562.2h0.7M387.1 577.3h0.7M406.0 576.9h0.7M381.0 561.1h0.7M412.2 569.3h0.7M394.4 578.6h0.7M412.2 562.5h0.7M413.5 572.5h0.7M404.5 558.9h0.7M379.7 561.7h0.7M382.0 556.1h0.7M416.4 575.9h0.7M401.4 558.5h0.7M383.5 557.8h0.7M393.6 579.0h0.7M394.0 557.7h0.7M380.8 576.2h0.7M392.0 580.8h0.7M414.2 573.6h0.7M413.6 561.3h0.7M385.4 557.4h0.7M412.4 565.0h0.7M381.3 577.0h0.7M408.3 559.1h0.7M379.4 559.4h0.7M407.8 559.3h0.7M414.7 557.7h0.7M411.9 563.8h0.7M411.4 564.9h0.7M396.5 579.4h0.7M409.7 560.2h0.7M413.1 571.4h0.7M398.0 577.8h0.7M385.6 556.0h0.7M388.3 556.0h0.7M382.9 555.6h0.7M400.9 556.2h0.7M402.8 556.9h0.7M390.8 556.3h0.7M410.6 565.0h0.7M395.0 579.0h0.7M396.8 580.3h0.7M412.3 569.0h0.7M411.9 565.5h0.7M414.8 573.6h0.7M406.3 558.3h0.7M380.5 561.3h0.7M389.3 577.8h0.7M387.8 578.0h0.7M380.8 575.2h0.7M408.7 559.6h0.7M381.3 576.4h0.7M411.9 563.6h0.7M379.5 574.5h0.7M386.9 556.7h0.7M416.4 556.9h0.7M407.4 558.5h0.7M387.5 577.3h0.7M403.0 578.0h0.7M404.2 558.6h0.7M411.0 567.3h0.7M380.1 560.7h0.7M415.3 563.9h0.7M403.0 556.1h0.7M381.3 559.7h0.7M410.4 570.7h0.7M407.9 557.5h0.7M390.6 554.8h0.7M404.6 558.5h0.7M403.4 557.7h0.7M412.3 570.1h0.7M405.2 556.5h0.7M405.2 575.7h0.7M409.1 574.9h0.7M414.1 575.2h0.7M413.0 566.8h0.7M407.0 560.9h0.7M384.9 558.1h0.7M397.9 557.5h0.7M392.9 557.5h0.7M409.4 558.5h0.7M402.9 577.9h0.7M407.6 576.6h0.7M414.2 567.2h0.7M384.3 559.3h0.7M417.0 563.5h0.7M415.0 569.1h0.7M383.7 579.6h0.7M393.4 579.0h0.7M410.3 572.7h0.7M410.8 564.9h0.7M386.9 557.9h0.7M391.7 578.3h0.7M383.8 577.5h0.7M400.0 578.3h0.7M414.5 565.9h0.7M384.7 557.6h0.7M395.4 557.5h0.7M396.6 556.2h0.7M413.2 567.5h0.7M402.4 579.9h0.7M399.4 557.2h0.7M387.7 578.5h0.7M404.7 559.9h0.7M410.0 573.3h0.7M412.7 573.4h0.7M386.8 577.1h0.7M388.7 557.3h0.7M381.2 556.4h0.7M402.5 578.6h0.7M412.8 568.0h0.7M389.5 558.0h0.7M408.5 579.9h0.7M380.7 561.7h0.7M410.7 578.6h0.7M413.1 560.8h0.7M402.1 577.2h0.7M402.3 556.9h0.7M406.0 558.3h0.7M408.7 574.0h0.7M401.6 578.5h0.7M410.7 563.0h0.7M409.4 562.3h0.7M411.8 567.1h0.7M391.3 557.8h0.7M413.3 572.0h0.7M382.7 558.3h0.7M380.5 559.6h0.7M414.4 566.5h0.7M390.4 557.8h0.7M401.6 578.5h0.7M413.4 560.1h0.7M397.7 578.8h0.7M414.6 563.9h0.7M411.0 564.4h0.7M411.8 564.9h0.7M381.7 576.2h0.7M412.0 570.5h0.7M408.9 575.4h0.7M400.7 577.8h0.7M395.1 554.9h0.7M397.8 556.6h0.7M394.9 578.0h0.7M413.8 566.7h0.7M407.6 576.6h0.7M412.7 562.0h0.7M406.8 575.9h0.7M413.3 570.2h0.7M381.7 557.9h0.7M389.4 578.7h0.7M413.2 572.0h0.7M410.2 562.2h0.7M379.9 575.0h0.7M408.4 557.3h0.7M381.3 575.8h0.7M413.5 572.1h0.7M383.4 558.0h0.7M411.2 572.3h0.7M417.0 567.0h0.7M414.9 566.8h0.7M387.0 578.2h0.7M412.5 567.9h0.7M389.2 555.8h0.7M382.2 559.5h0.7M379.6 575.3h0.7M411.4 569.9h0.7M404.3 557.8h0.7M406.5 581.3h0.7M406.2 555.3h0.7M402.9 558.8h0.7M383.5 559.7h0.7M385.0 558.4h0.7M390.1 556.0h0.7M382.5 559.0h0.7M380.5 575.6h0.7M412.5 570.0h0.7M381.2 558.5h0.7M403.1 559.2h0.7M414.6 569.0h0.7M387.5 558.5h0.7M401.0 580.5h0.7M411.7 572.4h0.7M404.1 559.6h0.7M408.7 574.4h0.7M390.1 554.1h0.7M396.5 557.5h0.7M400.5 555.0h0.7M383.5 557.9h0.7M404.5 577.9h0.7M413.5 566.1h0.7M401.3 556.3h0.7M396.9 557.8h0.7M393.9 579.1h0.7M408.4 558.3h0.7M402.6 557.3h0.7M396.3 557.1h0.7M384.7 559.4h0.7M383.6 576.2h0.7M396.9 578.0h0.7M390.2 579.1h0.7M381.6 577.4h0.7M409.4 562.9h0.7M402.7 559.2h0.7M402.4 557.3h0.7M395.2 582.0h0.7M407.6 561.2h0.7M392.1 580.5h0.7M389.5 556.7h0.7M414.0 572.6h0.7M410.6 563.5h0.7M405.5 559.6h0.7M385.5 577.4h0.7M409.5 562.1h0.7M412.0 570.4h0.7M411.9 572.8h0.7M410.3 562.0h0.7M411.4 570.1h0.7M380.9 574.8h0.7M411.8 567.6h0.7M400.9 558.2h0.7M381.0 575.3h0.7" stroke="#1a1a1a" stroke-opacity="0.7" stroke-width="0.7" fill="none"/>
<path d="M438.5 545.6h0.7M445.9 545.7h0.7M409.7 530.3h0.7M432.1 550.4h0.7M389.4 545.9h0.7M408.6 527.5h0.7M387.8 539.5h0.7M432.8 552.5h0.7M434.1 549.3h0.7M418.6 553.8h0.7M397.3 532.9h0.7M445.7 549.5h0.7M394.7 548.6h0.7M420.7 524.5h0.7M423.0 553.2h0.7M413.8 557.6h0.7M394.0 547.6h0.7M415.2 553.3h0.7M438.1 533.2h0.7M440.5 533.0h0.7M437.9 549.7h0.7M391.7 538.0h0.7M417.1 552.8h0.7M434.5 529.5h0.7M444.5 532.1h0.7M411.1 553.3h0.7M401.9 529.2h0.7M439.8 532.6h0.7M448.8 539.0h0.7M447.3 542.8h0.7M395.4 533.7h0.7M409.8 552.8h0.7M441.1 548.3h0.7M443.5 534.7h0.7M442.2 534.8h0.7M402.6 532.4h0.7M427.7 529.1h0.7M399.2 551.4h0.7M450.2 536.9h0.7M385.4 542.8h0.7M442.6 544.2h0.7M442.6 536.6h0.7M447.2 542.0h0.7M396.8 548.6h0.7M411.3 556.7h0.7M442.8 537.4h0.7M443.9 540.3h0.7M391.6 540.5h0.7M394.3 536.5h0.7M433.1 550.5h0.7M391.0 541.5h0.7M398.9 552.7h0.7M442.6 543.1h0.7M426.0 553.8h0.7M396.1 535.7h0.7M426.7 553.0h0.7M433.3 526.9h0.7M432.4 552.4h0.7M415.7 552.4h0.7M438.5 531.0h0.7M395.8 550.0h0.7M397.7 552.9h0.7M448.9 528.7h0.7M449.9 538.0h0.7M442.3 544.2h0.7M393.8 540.0h0.7M405.0 551.9h0.7M414.7 553.4h0.7M418.0 529.4h0.7M395.7 554.9h0.7M383.4 540.7h0.7M394.2 544.5h0.7M415.9 555.8h0.7M390.5 545.8h0.7M443.2 535.3h0.7M417.1 528.3h0.7M427.7 552.0h0.7M403.3 551.4h0.7M394.5 548.5h0.7M453.5 545.6h0.7M443.7 543.9h0.7M435.2 548.9h0.7M425.9 530.0h0.7M403.0 528.9h0.7M419.0 552.2h0.7M398.9 532.2h0.7M405.5 551.8h0.7M396.2 549.4h0.7M431.0 551.2h0.7M439.6 547.7h0.7M401.3 531.9h0.7M404.6 553.7h0.7M445.3 540.6h0.7M439.3 544.9h0.7M407.5 552.2h0.7M448.5 536.9h0.7M449.2 542.3h0.7M405.4 530.7h0.7M397.1 534.8h0.7M418.8 552.4h0.7M402.9 533.3h0.7M391.0 544.6h0.7M424.9 526.5h0.7M441.0 545.6h0.7M389.3 547.6h0.7M405.1 528.6h0.7M399.3 534.7h0.7M392.5 544.0h0.7M434.4 551.6h0.7M422.0 551.7h0.7M435.3 530.4h0.7M430.2 550.5h0.7M421.4 529.1h0.7M392.7 538.2h0.7M410.0 531.1h0.7M444.5 542.4h0.7M451.4 542.5h0.7M408.1 531.2h0.7M441.6 535.9h0.7M437.9 530.8h0.7M441.7 535.6h0.7M395.3 537.3h0.7M409.0 553.5h0.7M412.6 552.9h0.7M405.1 553.1h0.7M401.9 533.2h0.7M438.1 533.5h0.7M447.3 535.9h0.7M431.6 551.6h0.7M442.8 542.8h0.7M419.7 529.6h0.7M391.4 543.6h0.7M401.2 533.4h0.7M402.9 530.3h0.7M436.9 531.0h0.7M436.4 549.6h0.7M422.8 555.3h0.7M428.7 552.1h0.7M444.8 546.9h0.7M453.7 541.0h0.7M445.6 546.3h0.7M438.1 548.9h0.7M442.0 542.0h0.7M441.3 535.6h0.7M391.6 544.6h0.7M408.2 528.7h0.7M447.5 537.8h0.7M434.6 531.4h0.7M427.6 554.2h0.7M418.4 527.6h0.7M404.7 530.2h0.7M401.8 531.5h0.7M450.0 540.9h0.7M388.6 538.5h0.7M443.5 541.9h0.7M405.3 528.9h0.7M449.0 547.2h0.7M441.0 534.9h0.7M393.7 551.2h0.7M443.1 543.0h0.7M381.9 550.0h0.7M405.3 554.0h0.7M433.3 531.2h0.7M451.0 541.1h0.7M444.6 533.9h0.7M425.0 553.7h0.7M440.1 548.6h0.7M393.1 550.7h0.7M392.3 540.9h0.7M414.2 528.3h0.7M448.7 540.1h0.7M390.1 549.3h0.7M394.1 547.3h0.7M422.9 552.0h0.7M442.8 546.8h0.7M443.8 534.2h0.7M409.6 530.8h0.7M409.5 552.6h0.7M418.2 552.5h0.7M400.1 531.8h0.7M450.7 537.2h0.7M441.8 529.2h0.7M426.3 552.5h0.7M441.5 541.9h0.7M437.7 531.8h0.7M401.6 550.5h0.7M439.9 532.9h0.7M436.7 531.1h0.7M396.6 550.5h0.7M436.4 550.5h0.7M384.8 551.3h0.7M392.3 547.7h0.7M409.3 530.0h0.7M405.4 528.1h0.7M438.2 546.9h0.7M432.2 553.0h0.7M444.1 535.8h0.7M402.1 550.9h0.7M404.9 555.3h0.7M402.0 551.9h0.7M398.0 549.7h0.7M440.0 547.8h0.7M394.3 547.5h0.7M449.3 531.9h0.7M441.0 536.0h0.7M385.0 548.4h0.7M443.9 531.2h0.7M393.1 547.4h0.7M439.4 531.3h0.7M405.1 526.5h0.7M399.3 533.7h0.7M434.9 548.2h0.7M385.4 548.0h0.7M419.5 526.1h0.7M390.2 551.5h0.7M400.6 553.9h0.7M440.1 544.0h0.7M391.8 550.5h0.7M397.5 534.9h0.7M393.7 535.4h0.7M395.5 530.4h0.7M413.3 530.2h0.7M446.7 542.1h0.7M435.1 531.6h0.7M446.0 542.9h0.7M448.9 532.3h0.7M414.4 553.4h0.7M386.6 545.3h0.7M403.8 531.0h0.7M392.9 530.6h0.7M389.5 545.6h0.7M393.7 537.5h0.7M391.4 549.1h0.7M433.0 549.6h0.7M432.6 529.3h0.7M410.2 528.1h0.7M435.3 548.2h0.7M407.0 526.4h0.7M426.1 528.2h0.7M400.8 551.0h0.7M425.8 553.7h0.7M450.3 537.3h0.7M392.1 534.2h0.7M427.3 551.7h0.7M438.4 546.7h0.7M382.5 542.3h0.7M424.7 527.5h0.7M445.5 541.8h0.7M428.0 551.7h0.7M444.1 534.0h0.7M444.4 542.7h0.7M441.9 540.6h0.7M391.9 544.2h0.7M445.5 543.0h0.7M419.5 553.0h0.7M409.7 530.5h0.7M410.1 530.2h0.7M387.2 548.3h0.7M445.6 541.4h0.7M409.4 530.1h0.7M450.1 534.7h0.7M445.2 543.8h0.7M421.2 528.9h0.7M420.7 529.1h0.7M439.3 550.6h0.7M403.0 531.6h0.7M407.9 554.3h0.7M430.5 528.5h0.7M391.1 531.1h0.7M414.5 528.6h0.7M425.7 528.8h0.7M430.6 530.3h0.7M445.2 538.7h0.7M416.6 552.5h0.7M394.1 552.1h0.7M392.3 531.5h0.7M441.9 538.9h0.7M410.1 530.1h0.7M423.5 529.1h0.7M434.9 531.5h0.7M384.7 542.4h0.7M391.4 544.5h0.7M396.6 551.7h0.7M395.3 537.7h0.7M423.7 552.0h0.7M386.4 538.4h0.7M433.8 549.1h0.7M442.1 543.6h0.7M416.5 526.9h0.7M440.6 549.2h0.7M428.7 530.2h0.7M391.7 535.2h0.7M400.4 555.0h0.7M441.0 533.5h0.7M439.2 527.0h0.7M438.3 529.8h0.7M392.6 541.9h0.7M410.6 555.8h0.7M440.2 548.1h0.7M392.1 537.0h0.7M388.9 541.3h0.7M443.8 544.7h0.7M445.5 534.4h0.7M403.6 551.4h0.7M433.4 550.9h0.7M425.1 526.0h0.7M433.3 531.1h0.7" stroke="#1a1a1a" stroke-opacity="0.7" stroke-width="0.7" fill="none"/>
<path d="M426.6 550.5h0.7M452.8 551.3h0.7M441.8 526.9h0.7M432.4 534.9h0.7M433.8 527.7h0.7M444.6 521.6h0.7M448.3 555.9h0.7M424.9 559.1h0.7M439.2 562.9h0.7M453.7 531.8h0.7M438.5 561.6h0.7M439.3 526.8h0.7M444.9 517.4h0.7M438.1 570.9h0.7M423.1 549.1h0.7M450.3 526.3h0.7M434.4 562.6h0.7M448.7 519.7h0.7M429.1 563.7h0.7M431.2 536.4h0.7M453.7 525.9h0.7M427.7 550.5h0.7M429.0 537.6h0.7M446.7 557.0h0.7M430.2 562.1h0.7M444.8 520.6h0.7M453.4 544.2h0.7M453.6 538.4h0.7M447.9 525.5h0.7M426.0 554.8h0.7M440.6 526.1h0.7M449.3 553.2h0.7M437.6 563.3h0.7M452.7 529.5h0.7M452.8 544.2h0.7M439.1 563.6h0.7M427.6 555.6h0.7M453.3 540.6h0.7M449.1 556.6h0.7M428.3 563.4h0.7M446.9 523.2h0.7M448.4 553.4h0.7M425.5 563.0h0.7M429.2 561.5h0.7M428.0 563.8h0.7M436.1 569.7h0.7M453.1 531.9h0.7M436.6 566.0h0.7M453.4 540.2h0.7M451.4 552.8h0.7M454.2 538.1h0.7M438.5 526.5h0.7M436.0 562.8h0.7M458.2 533.7h0.7M442.5 525.8h0.7M456.3 532.5h0.7M443.2 563.4h0.7M455.6 528.3h0.7M443.1 523.2h0.7M437.8 563.7h0.7M437.0 567.1h0.7M442.0 525.5h0.7M435.0 532.2h0.7M449.1 553.8h0.7M452.6 526.0h0.7M430.6 539.0h0.7M428.7 558.4h0.7M452.9 542.3h0.7M426.5 564.1h0.7M458.0 540.5h0.7M427.5 553.3h0.7M454.6 534.8h0.7M453.0 534.8h0.7M427.2 557.0h0.7M425.4 564.7h0.7M428.7 538.6h0.7M446.9 554.9h0.7M445.0 557.8h0.7M439.6 522.0h0.7M428.7 561.0h0.7M431.5 562.7h0.7M437.2 563.1h0.7M454.0 537.1h0.7M445.4 518.8h0.7M439.7 562.5h0.7M431.2 537.6h0.7M428.8 566.7h0.7M444.7 524.0h0.7M428.0 561.9h0.7M442.1 521.8h0.7M458.5 520.8h0.7M433.0 533.6h0.7M425.2 550.9h0.7M431.6 564.4h0.7M454.9 538.3h0.7M427.1 560.4h0.7M452.9 524.7h0.7M429.3 541.7h0.7M441.8 562.7h0.7M455.6 535.6h0.7M441.5 526.4h0.7M448.9 551.0h0.7M436.4 529.6h0.7M443.8 560.6h0.7M447.4 524.6h0.7M423.6 556.6h0.7M451.2 547.9h0.7M426.8 557.3h0.7M448.1 553.9h0.7M449.0 556.9h0.7M425.5 557.8h0.7M433.5 564.0h0.7M427.3 548.3h0.7M448.9 524.6h0.7M446.0 556.1h0.7M425.9 553.2h0.7M438.9 528.7h0.7M455.9 528.4h0.7M443.1 559.3h0.7M455.0 537.8h0.7M431.6 536.7h0.7M453.1 519.3h0.7M445.5 524.0h0.7M437.5 563.6h0.7M426.0 560.5h0.7M453.5 534.7h0.7M455.0 538.1h0.7M425.5 556.7h0.7M437.7 563.6h0.7M448.7 518.6h0.7M454.3 534.5h0.7M431.0 538.9h0.7M452.7 543.6h0.7M445.2 522.5h0.7M424.7 562.9h0.7M427.8 544.8h0.7M452.5 512.9h0.7M424.5 561.3h0.7M438.4 565.1h0.7M438.8 562.6h0.7M449.7 525.9h0.7M435.1 525.0h0.7M437.9 565.0h0.7M435.4 566.5h0.7M431.1 562.2h0.7M458.1 535.3h0.7M428.5 558.2h0.7M423.8 552.8h0.7M437.1 562.3h0.7M430.0 539.3h0.7M426.4 549.8h0.7M452.3 524.0h0.7M427.1 562.1h0.7M431.2 565.8h0.7M450.2 549.1h0.7M426.2 557.6h0.7M454.3 531.7h0.7M439.8 521.5h0.7M452.8 543.0h0.7M429.6 565.9h0.7M447.3 523.4h0.7M454.2 528.1h0.7M455.1 540.8h0.7M432.1 537.1h0.7M450.4 518.6h0.7M443.4 558.4h0.7M436.4 566.1h0.7M453.5 551.3h0.7M449.1 526.2h0.7M447.5 525.8h0.7M450.4 523.1h0.7M425.4 555.3h0.7M453.3 530.0h0.7M452.7 543.2h0.7M452.7 526.1h0.7M431.9 531.9h0.7M430.9 565.9h0.7M429.4 541.4h0.7M453.9 542.3h0.7M439.4 564.4h0.7M434.5 565.0h0.7M441.5 560.8h0.7M453.2 539.4h0.7M442.5 563.8h0.7M453.6 528.9h0.7M449.5 551.0h0.7M437.7 562.8h0.7M454.1 534.8h0.7M429.1 540.8h0.7M426.4 559.3h0.7M432.7 535.0h0.7M453.5 530.3h0.7M431.3 562.9h0.7M433.0 533.9h0.7M434.4 532.6h0.7M441.4 561.9h0.7M446.8 555.1h0.7M430.7 535.4h0.7M439.4 562.7h0.7M428.2 561.5h0.7M437.2 527.1h0.7M427.5 554.6h0.7M431.2 566.4h0.7M429.5 541.8h0.7M454.6 523.4h0.7M429.7 565.2h0.7M453.3 539.7h0.7M451.1 528.6h0.7M441.5 524.2h0.7M453.6 527.8h0.7M429.9 561.4h0.7M454.6 552.9h0.7M438.0 525.7h0.7M451.9 529.3h0.7M448.6 552.4h0.7M443.8 558.0h0.7M451.0 549.3h0.7M426.3 545.8h0.7M446.0 521.4h0.7M435.1 527.8h0.7M430.6 534.8h0.7M454.3 539.5h0.7M435.5 528.1h0.7M442.8 561.1h0.7" stroke="#1a1a1a" stroke-opacity="0.7" stroke-width="0.7" fill="none"/>
<ellipse cx="394.0" cy="568.0" rx="17.60" ry="10.60" transform="rotate(0 394.0 568.0)" fill="#fff" stroke="#fff" stroke-width="1.4"/>
<ellipse cx="394.0" cy="568.0" rx="17.00" ry="10.00" transform="rotate(0 394.0 568.0)" fill="#fafafa" stroke="#8a8a8a" stroke-width="0.65"/>
<ellipse cx="394.0" cy="568.0" rx="14.11" ry="8.30" transform="rotate(0 394.0 568.0)" fill="#e8e8e8" stroke="#8a8a8a" stroke-width="0.42"/>
<ellipse cx="394.0" cy="568.0" rx="11.22" ry="6.60" transform="rotate(0 394.0 568.0)" fill="#d6d6d6" stroke="#8a8a8a" stroke-width="0.42"/>
<ellipse cx="394.0" cy="568.0" rx="8.33" ry="4.90" transform="rotate(0 394.0 568.0)" fill="#c4c4c4" stroke="#8a8a8a" stroke-width="0.42"/>
<ellipse cx="394.0" cy="568.0" rx="5.44" ry="3.20" transform="rotate(0 394.0 568.0)" fill="#b2b2b2" stroke="#8a8a8a" stroke-width="0.42"/>
<ellipse cx="418.0" cy="541.0" rx="24.60" ry="11.60" transform="rotate(-5 418.0 541.0)" fill="#fff" stroke="#fff" stroke-width="1.4"/>
<ellipse cx="418.0" cy="541.0" rx="24.00" ry="11.00" transform="rotate(-5 418.0 541.0)" fill="#fafafa" stroke="#8a8a8a" stroke-width="0.65"/>
<ellipse cx="418.0" cy="541.0" rx="19.92" ry="9.13" transform="rotate(-5 418.0 541.0)" fill="#ebebeb" stroke="#8a8a8a" stroke-width="0.42"/>
<ellipse cx="418.0" cy="541.0" rx="15.84" ry="7.26" transform="rotate(-5 418.0 541.0)" fill="#dbdbdb" stroke="#8a8a8a" stroke-width="0.42"/>
<ellipse cx="418.0" cy="541.0" rx="11.76" ry="5.39" transform="rotate(-5 418.0 541.0)" fill="#cccccc" stroke="#8a8a8a" stroke-width="0.42"/>
<ellipse cx="418.0" cy="541.0" rx="7.68" ry="3.52" transform="rotate(-5 418.0 541.0)" fill="#bcbcbc" stroke="#8a8a8a" stroke-width="0.42"/>
<ellipse cx="440.4" cy="544.2" rx="11.10" ry="20.10" transform="rotate(25 440.4 544.2)" fill="#fff" stroke="#fff" stroke-width="1.4"/>
<ellipse cx="440.4" cy="544.2" rx="10.50" ry="19.50" transform="rotate(25 440.4 544.2)" fill="#fafafa" stroke="#999" stroke-width="0.65"/>
<ellipse cx="440.4" cy="544.2" rx="7.53" ry="13.97" transform="rotate(25 440.4 544.2)" fill="#e0e0e0" stroke="#999" stroke-width="0.42"/>
<ellipse cx="440.4" cy="544.2" rx="4.55" ry="8.45" transform="rotate(25 440.4 544.2)" fill="#c6c6c6" stroke="#999" stroke-width="0.42"/>
<path d="M379.4 555.3h0.8M380.3 553.6h0.8M379.6 565.3h0.8M377.9 585.2h0.8M380.3 559.6h0.8M380.0 580.5h0.8M377.6 564.6h0.8M381.9 554.3h0.8M379.9 553.5h0.8M379.0 559.2h0.8M380.4 560.8h0.8M379.6 560.6h0.8M379.2 554.6h0.8M379.6 549.2h0.8M379.4 581.8h0.8M379.4 542.4h0.8M378.5 561.4h0.8M379.7 559.0h0.8M379.2 573.4h0.8M379.9 564.6h0.8M378.6 559.8h0.8M380.4 565.3h0.8M378.8 585.1h0.8M379.3 556.8h0.8M378.9 568.7h0.8M380.0 559.6h0.8M379.2 551.4h0.8M379.6 557.5h0.8M379.3 565.7h0.8M378.8 561.3h0.8M380.1 568.5h0.8M378.5 567.8h0.8M380.4 558.3h0.8M379.5 566.7h0.8M379.9 551.2h0.8M380.6 569.8h0.8M378.1 557.0h0.8M379.7 558.9h0.8M379.8 558.4h0.8M379.6 563.3h0.8M380.6 560.9h0.8M380.3 556.8h0.8M379.9 548.7h0.8M380.2 558.7h0.8M379.7 564.6h0.8M379.5 556.8h0.8M379.0 571.5h0.8M380.1 572.2h0.8M379.6 574.8h0.8M378.6 555.3h0.8M378.4 564.2h0.8M378.7 572.5h0.8M378.9 575.7h0.8M380.2 567.6h0.8M379.9 578.0h0.8M379.8 556.2h0.8M379.9 582.3h0.8M379.6 564.5h0.8M379.5 563.1h0.8M379.5 555.9h0.8M378.0 545.9h0.8M379.4 560.1h0.8M380.2 566.2h0.8M378.9 550.7h0.8M380.6 559.3h0.8M379.0 557.7h0.8M379.1 563.7h0.8M379.9 552.3h0.8M379.0 576.3h0.8M378.8 559.1h0.8M379.7 562.6h0.8M378.5 562.7h0.8M379.0 557.3h0.8M379.9 562.9h0.8M379.3 556.4h0.8M379.0 563.1h0.8M379.6 563.2h0.8M380.1 562.7h0.8M380.1 561.1h0.8M378.9 558.2h0.8" stroke="#111" stroke-opacity="0.9" stroke-width="0.8" fill="none"/>
<path d="M391.3,527.8 L436.5,527.8 L422.0,553.8 L391.3,553.8Z" fill="none" stroke="#444" stroke-width="0.85"/>
<ellipse cx="440.4" cy="544.2" rx="12" ry="22" transform="rotate(25 440.4 544.2)" fill="none" stroke="#3a3a3a" stroke-width="0.9"/>
<ellipse cx="440.4" cy="544.2" rx="10.4" ry="20.2" transform="rotate(25 440.4 544.2)" fill="none" stroke="#666" stroke-width="0.55"/>
</g>
<text x="407.0" y="523.5" font-size="10.3" font-weight="bold" text-anchor="middle" >29</text>
<text x="445.5" y="523.5" font-size="10.3" font-weight="bold" text-anchor="middle" >47</text>
<text x="461.7" y="587.0" font-size="7.2" font-weight="bold" text-anchor="end" >F240</text>
<text x="0.0" y="667.5" font-size="22" font-weight="bold" text-anchor="start" stroke="#000" stroke-width="0.4">D</text>
<line x1="53.00" y1="757.50" x2="515.50" y2="757.50" stroke="#000" stroke-width="1.5" />
<line x1="53.00" y1="724.00" x2="515.50" y2="724.00" stroke="#000" stroke-width="1.5" />
<line x1="53.00" y1="690.50" x2="515.50" y2="690.50" stroke="#000" stroke-width="1.5" />
<line x1="53.00" y1="657.00" x2="515.50" y2="657.00" stroke="#000" stroke-width="1.5" />
<line x1="49.50" y1="791.00" x2="53.00" y2="791.00" stroke="#000" stroke-width="1.3" />
<text x="46.4" y="794.6" font-size="10" font-weight="bold" text-anchor="end" >0</text>
<line x1="49.50" y1="757.50" x2="53.00" y2="757.50" stroke="#000" stroke-width="1.3" />
<text x="46.4" y="761.1" font-size="10" font-weight="bold" text-anchor="end" >20</text>
<line x1="49.50" y1="724.00" x2="53.00" y2="724.00" stroke="#000" stroke-width="1.3" />
<text x="46.4" y="727.6" font-size="10" font-weight="bold" text-anchor="end" >40</text>
<line x1="49.50" y1="690.50" x2="53.00" y2="690.50" stroke="#000" stroke-width="1.3" />
<text x="46.4" y="694.1" font-size="10" font-weight="bold" text-anchor="end" >60</text>
<line x1="49.50" y1="657.00" x2="53.00" y2="657.00" stroke="#000" stroke-width="1.3" />
<text x="46.4" y="660.6" font-size="10" font-weight="bold" text-anchor="end" >80</text>
<line x1="53.00" y1="656.30" x2="53.00" y2="791.70" stroke="#000" stroke-width="1.5" />
<line x1="515.50" y1="656.30" x2="515.50" y2="791.70" stroke="#000" stroke-width="1.5" />
<text transform="translate(30.5,724.5) rotate(-90)" font-size="13.2" text-anchor="middle" stroke="#000" stroke-width="0.45">% CD19<tspan dy="-5" font-size="8">+</tspan><tspan dy="5">CD5</tspan><tspan dy="-5" font-size="8">+</tspan><tspan dy="5"> cells</tspan></text>
<line x1="53.00" y1="791.00" x2="53.00" y2="795.00" stroke="#000" stroke-width="1.2" />
<line x1="81.90" y1="791.00" x2="81.90" y2="795.00" stroke="#000" stroke-width="1.2" />
<line x1="110.80" y1="791.00" x2="110.80" y2="795.00" stroke="#000" stroke-width="1.2" />
<line x1="139.70" y1="791.00" x2="139.70" y2="795.00" stroke="#000" stroke-width="1.2" />
<line x1="168.60" y1="791.00" x2="168.60" y2="795.00" stroke="#000" stroke-width="1.2" />
<line x1="197.50" y1="791.00" x2="197.50" y2="795.00" stroke="#000" stroke-width="1.2" />
<line x1="226.40" y1="791.00" x2="226.40" y2="795.00" stroke="#000" stroke-width="1.2" />
<line x1="255.30" y1="791.00" x2="255.30" y2="795.00" stroke="#000" stroke-width="1.2" />
<line x1="284.20" y1="791.00" x2="284.20" y2="795.00" stroke="#000" stroke-width="1.2" />
<line x1="313.10" y1="791.00" x2="313.10" y2="795.00" stroke="#000" stroke-width="1.2" />
<line x1="342.00" y1="791.00" x2="342.00" y2="795.00" stroke="#000" stroke-width="1.2" />
<line x1="370.90" y1="791.00" x2="370.90" y2="795.00" stroke="#000" stroke-width="1.2" />
<line x1="399.80" y1="791.00" x2="399.80" y2="795.00" stroke="#000" stroke-width="1.2" />
<line x1="428.70" y1="791.00" x2="428.70" y2="795.00" stroke="#000" stroke-width="1.2" />
<line x1="457.60" y1="791.00" x2="457.60" y2="795.00" stroke="#000" stroke-width="1.2" />
<line x1="486.50" y1="791.00" x2="486.50" y2="795.00" stroke="#000" stroke-width="1.2" />
<line x1="515.40" y1="791.00" x2="515.40" y2="795.00" stroke="#000" stroke-width="1.2" />
<rect x="55.30" y="788.82" width="5.95" height="2.18" fill="#fff" stroke="#000" stroke-width="0.8"/>
<rect x="61.25" y="788.49" width="5.95" height="2.51" fill="#7c7c7c" stroke="#000" stroke-width="0.8"/>
<rect x="67.20" y="788.49" width="5.95" height="2.51" fill="#dadada" stroke="#000" stroke-width="0.8"/>
<rect x="73.15" y="785.98" width="5.95" height="5.03" fill="#000" stroke="#000" stroke-width="0.8"/>
<line x1="58.27" y1="789.33" x2="58.27" y2="788.32" stroke="#000" stroke-width="0.9" />
<line x1="56.67" y1="788.32" x2="59.88" y2="788.32" stroke="#000" stroke-width="1.1" />
<line x1="56.67" y1="789.33" x2="59.88" y2="789.33" stroke="#000" stroke-width="1.1" />
<line x1="64.22" y1="788.99" x2="64.22" y2="787.99" stroke="#000" stroke-width="0.9" />
<line x1="62.62" y1="787.99" x2="65.82" y2="787.99" stroke="#000" stroke-width="1.1" />
<line x1="62.62" y1="788.99" x2="65.82" y2="788.99" stroke="#000" stroke-width="1.1" />
<line x1="70.17" y1="788.99" x2="70.17" y2="787.99" stroke="#000" stroke-width="0.9" />
<line x1="68.58" y1="787.99" x2="71.77" y2="787.99" stroke="#000" stroke-width="1.1" />
<line x1="68.58" y1="788.99" x2="71.77" y2="788.99" stroke="#000" stroke-width="1.1" />
<line x1="76.12" y1="788.99" x2="76.12" y2="782.96" stroke="#000" stroke-width="0.9" />
<line x1="74.53" y1="782.96" x2="77.72" y2="782.96" stroke="#000" stroke-width="1.1" />
<line x1="74.53" y1="788.99" x2="77.72" y2="788.99" stroke="#000" stroke-width="1.1" />
<rect x="84.20" y="789.33" width="5.95" height="1.68" fill="#fff" stroke="#000" stroke-width="0.8"/>
<rect x="90.15" y="788.82" width="5.95" height="2.18" fill="#7c7c7c" stroke="#000" stroke-width="0.8"/>
<rect x="96.10" y="788.49" width="5.95" height="2.51" fill="#dadada" stroke="#000" stroke-width="0.8"/>
<rect x="102.05" y="786.81" width="5.95" height="4.19" fill="#000" stroke="#000" stroke-width="0.8"/>
<line x1="87.17" y1="789.83" x2="87.17" y2="788.82" stroke="#000" stroke-width="0.9" />
<line x1="85.58" y1="788.82" x2="88.77" y2="788.82" stroke="#000" stroke-width="1.1" />
<line x1="85.58" y1="789.83" x2="88.77" y2="789.83" stroke="#000" stroke-width="1.1" />
<line x1="93.12" y1="789.33" x2="93.12" y2="788.32" stroke="#000" stroke-width="0.9" />
<line x1="91.53" y1="788.32" x2="94.72" y2="788.32" stroke="#000" stroke-width="1.1" />
<line x1="91.53" y1="789.33" x2="94.72" y2="789.33" stroke="#000" stroke-width="1.1" />
<line x1="99.08" y1="788.99" x2="99.08" y2="787.99" stroke="#000" stroke-width="0.9" />
<line x1="97.48" y1="787.99" x2="100.67" y2="787.99" stroke="#000" stroke-width="1.1" />
<line x1="97.48" y1="788.99" x2="100.67" y2="788.99" stroke="#000" stroke-width="1.1" />
<line x1="105.03" y1="787.82" x2="105.03" y2="785.81" stroke="#000" stroke-width="0.9" />
<line x1="103.43" y1="785.81" x2="106.62" y2="785.81" stroke="#000" stroke-width="1.1" />
<line x1="103.43" y1="787.82" x2="106.62" y2="787.82" stroke="#000" stroke-width="1.1" />
<rect x="113.10" y="790.00" width="5.95" height="1.00" fill="#fff" stroke="#000" stroke-width="0.8"/>
<rect x="119.05" y="790.00" width="5.95" height="1.00" fill="#7c7c7c" stroke="#000" stroke-width="0.8"/>
<rect x="125.00" y="789.33" width="5.95" height="1.68" fill="#dadada" stroke="#000" stroke-width="0.8"/>
<rect x="130.95" y="785.64" width="5.95" height="5.36" fill="#000" stroke="#000" stroke-width="0.8"/>
<line x1="116.07" y1="790.33" x2="116.07" y2="789.66" stroke="#000" stroke-width="0.9" />
<line x1="114.47" y1="789.66" x2="117.67" y2="789.66" stroke="#000" stroke-width="1.1" />
<line x1="114.47" y1="790.33" x2="117.67" y2="790.33" stroke="#000" stroke-width="1.1" />
<line x1="122.02" y1="790.33" x2="122.02" y2="789.66" stroke="#000" stroke-width="0.9" />
<line x1="120.42" y1="789.66" x2="123.62" y2="789.66" stroke="#000" stroke-width="1.1" />
<line x1="120.42" y1="790.33" x2="123.62" y2="790.33" stroke="#000" stroke-width="1.1" />
<line x1="127.97" y1="789.83" x2="127.97" y2="788.82" stroke="#000" stroke-width="0.9" />
<line x1="126.38" y1="788.82" x2="129.57" y2="788.82" stroke="#000" stroke-width="1.1" />
<line x1="126.38" y1="789.83" x2="129.57" y2="789.83" stroke="#000" stroke-width="1.1" />
<line x1="133.92" y1="787.32" x2="133.92" y2="783.97" stroke="#000" stroke-width="0.9" />
<line x1="132.32" y1="783.97" x2="135.52" y2="783.97" stroke="#000" stroke-width="1.1" />
<line x1="132.32" y1="787.32" x2="135.52" y2="787.32" stroke="#000" stroke-width="1.1" />
<rect x="142.00" y="784.30" width="5.95" height="6.70" fill="#fff" stroke="#000" stroke-width="0.8"/>
<rect x="147.95" y="771.57" width="5.95" height="19.43" fill="#7c7c7c" stroke="#000" stroke-width="0.8"/>
<rect x="153.90" y="771.57" width="5.95" height="19.43" fill="#dadada" stroke="#000" stroke-width="0.8"/>
<rect x="159.85" y="763.53" width="5.95" height="27.47" fill="#000" stroke="#000" stroke-width="0.8"/>
<line x1="144.97" y1="787.65" x2="144.97" y2="780.95" stroke="#000" stroke-width="0.9" />
<line x1="143.38" y1="780.95" x2="146.57" y2="780.95" stroke="#000" stroke-width="1.1" />
<line x1="143.38" y1="787.65" x2="146.57" y2="787.65" stroke="#000" stroke-width="1.1" />
<line x1="150.92" y1="777.43" x2="150.92" y2="765.71" stroke="#000" stroke-width="0.9" />
<line x1="149.32" y1="765.71" x2="152.52" y2="765.71" stroke="#000" stroke-width="1.1" />
<line x1="149.32" y1="777.43" x2="152.52" y2="777.43" stroke="#000" stroke-width="1.1" />
<line x1="156.88" y1="773.25" x2="156.88" y2="769.89" stroke="#000" stroke-width="0.9" />
<line x1="155.28" y1="769.89" x2="158.47" y2="769.89" stroke="#000" stroke-width="1.1" />
<line x1="155.28" y1="773.25" x2="158.47" y2="773.25" stroke="#000" stroke-width="1.1" />
<line x1="162.82" y1="768.89" x2="162.82" y2="758.17" stroke="#000" stroke-width="0.9" />
<line x1="161.22" y1="758.17" x2="164.42" y2="758.17" stroke="#000" stroke-width="1.1" />
<line x1="161.22" y1="768.89" x2="164.42" y2="768.89" stroke="#000" stroke-width="1.1" />
<rect x="170.90" y="789.66" width="5.95" height="1.34" fill="#fff" stroke="#000" stroke-width="0.8"/>
<rect x="176.85" y="789.33" width="5.95" height="1.68" fill="#7c7c7c" stroke="#000" stroke-width="0.8"/>
<rect x="182.80" y="789.33" width="5.95" height="1.68" fill="#dadada" stroke="#000" stroke-width="0.8"/>
<rect x="188.75" y="788.82" width="5.95" height="2.18" fill="#000" stroke="#000" stroke-width="0.8"/>
<line x1="173.88" y1="790.00" x2="173.88" y2="789.33" stroke="#000" stroke-width="0.9" />
<line x1="172.28" y1="789.33" x2="175.47" y2="789.33" stroke="#000" stroke-width="1.1" />
<line x1="172.28" y1="790.00" x2="175.47" y2="790.00" stroke="#000" stroke-width="1.1" />
<line x1="179.82" y1="789.66" x2="179.82" y2="788.99" stroke="#000" stroke-width="0.9" />
<line x1="178.22" y1="788.99" x2="181.42" y2="788.99" stroke="#000" stroke-width="1.1" />
<line x1="178.22" y1="789.66" x2="181.42" y2="789.66" stroke="#000" stroke-width="1.1" />
<line x1="185.78" y1="789.66" x2="185.78" y2="788.99" stroke="#000" stroke-width="0.9" />
<line x1="184.18" y1="788.99" x2="187.38" y2="788.99" stroke="#000" stroke-width="1.1" />
<line x1="184.18" y1="789.66" x2="187.38" y2="789.66" stroke="#000" stroke-width="1.1" />
<line x1="191.72" y1="789.33" x2="191.72" y2="788.32" stroke="#000" stroke-width="0.9" />
<line x1="190.12" y1="788.32" x2="193.32" y2="788.32" stroke="#000" stroke-width="1.1" />
<line x1="190.12" y1="789.33" x2="193.32" y2="789.33" stroke="#000" stroke-width="1.1" />
<rect x="199.80" y="786.81" width="5.95" height="4.19" fill="#fff" stroke="#000" stroke-width="0.8"/>
<rect x="205.75" y="782.62" width="5.95" height="8.38" fill="#7c7c7c" stroke="#000" stroke-width="0.8"/>
<rect x="211.70" y="786.98" width="5.95" height="4.02" fill="#dadada" stroke="#000" stroke-width="0.8"/>
<rect x="217.65" y="770.06" width="5.95" height="20.94" fill="#000" stroke="#000" stroke-width="0.8"/>
<line x1="202.78" y1="787.32" x2="202.78" y2="786.31" stroke="#000" stroke-width="0.9" />
<line x1="201.18" y1="786.31" x2="204.38" y2="786.31" stroke="#000" stroke-width="1.1" />
<line x1="201.18" y1="787.32" x2="204.38" y2="787.32" stroke="#000" stroke-width="1.1" />
<line x1="208.72" y1="784.30" x2="208.72" y2="780.95" stroke="#000" stroke-width="0.9" />
<line x1="207.12" y1="780.95" x2="210.32" y2="780.95" stroke="#000" stroke-width="1.1" />
<line x1="207.12" y1="784.30" x2="210.32" y2="784.30" stroke="#000" stroke-width="1.1" />
<line x1="214.68" y1="787.48" x2="214.68" y2="786.48" stroke="#000" stroke-width="0.9" />
<line x1="213.08" y1="786.48" x2="216.28" y2="786.48" stroke="#000" stroke-width="1.1" />
<line x1="213.08" y1="787.48" x2="216.28" y2="787.48" stroke="#000" stroke-width="1.1" />
<line x1="220.62" y1="772.58" x2="220.62" y2="767.55" stroke="#000" stroke-width="0.9" />
<line x1="219.03" y1="767.55" x2="222.22" y2="767.55" stroke="#000" stroke-width="1.1" />
<line x1="219.03" y1="772.58" x2="222.22" y2="772.58" stroke="#000" stroke-width="1.1" />
<rect x="228.70" y="781.28" width="5.95" height="9.71" fill="#fff" stroke="#000" stroke-width="0.8"/>
<rect x="234.65" y="757.50" width="5.95" height="33.50" fill="#7c7c7c" stroke="#000" stroke-width="0.8"/>
<rect x="240.60" y="762.52" width="5.95" height="28.48" fill="#dadada" stroke="#000" stroke-width="0.8"/>
<rect x="246.55" y="741.75" width="5.95" height="49.24" fill="#000" stroke="#000" stroke-width="0.8"/>
<line x1="231.67" y1="783.29" x2="231.67" y2="779.27" stroke="#000" stroke-width="0.9" />
<line x1="230.07" y1="779.27" x2="233.27" y2="779.27" stroke="#000" stroke-width="1.1" />
<line x1="230.07" y1="783.29" x2="233.27" y2="783.29" stroke="#000" stroke-width="1.1" />
<line x1="237.62" y1="767.55" x2="237.62" y2="747.45" stroke="#000" stroke-width="0.9" />
<line x1="236.02" y1="747.45" x2="239.22" y2="747.45" stroke="#000" stroke-width="1.1" />
<line x1="236.02" y1="767.55" x2="239.22" y2="767.55" stroke="#000" stroke-width="1.1" />
<line x1="243.57" y1="772.58" x2="243.57" y2="752.48" stroke="#000" stroke-width="0.9" />
<line x1="241.97" y1="752.48" x2="245.17" y2="752.48" stroke="#000" stroke-width="1.1" />
<line x1="241.97" y1="772.58" x2="245.17" y2="772.58" stroke="#000" stroke-width="1.1" />
<line x1="249.52" y1="752.31" x2="249.52" y2="731.20" stroke="#000" stroke-width="0.9" />
<line x1="247.92" y1="731.20" x2="251.12" y2="731.20" stroke="#000" stroke-width="1.1" />
<line x1="247.92" y1="752.31" x2="251.12" y2="752.31" stroke="#000" stroke-width="1.1" />
<rect x="257.60" y="785.98" width="5.95" height="5.03" fill="#fff" stroke="#000" stroke-width="0.8"/>
<rect x="263.55" y="759.17" width="5.95" height="31.82" fill="#7c7c7c" stroke="#000" stroke-width="0.8"/>
<rect x="269.50" y="781.28" width="5.95" height="9.71" fill="#dadada" stroke="#000" stroke-width="0.8"/>
<rect x="275.45" y="705.07" width="5.95" height="85.93" fill="#000" stroke="#000" stroke-width="0.8"/>
<line x1="260.57" y1="786.81" x2="260.57" y2="785.14" stroke="#000" stroke-width="0.9" />
<line x1="258.97" y1="785.14" x2="262.18" y2="785.14" stroke="#000" stroke-width="1.1" />
<line x1="258.97" y1="786.81" x2="262.18" y2="786.81" stroke="#000" stroke-width="1.1" />
<line x1="266.52" y1="763.36" x2="266.52" y2="754.99" stroke="#000" stroke-width="0.9" />
<line x1="264.92" y1="754.99" x2="268.12" y2="754.99" stroke="#000" stroke-width="1.1" />
<line x1="264.92" y1="763.36" x2="268.12" y2="763.36" stroke="#000" stroke-width="1.1" />
<line x1="272.47" y1="782.96" x2="272.47" y2="779.61" stroke="#000" stroke-width="0.9" />
<line x1="270.87" y1="779.61" x2="274.07" y2="779.61" stroke="#000" stroke-width="1.1" />
<line x1="270.87" y1="782.96" x2="274.07" y2="782.96" stroke="#000" stroke-width="1.1" />
<line x1="278.43" y1="710.60" x2="278.43" y2="699.54" stroke="#000" stroke-width="0.9" />
<line x1="276.82" y1="699.54" x2="280.03" y2="699.54" stroke="#000" stroke-width="1.1" />
<line x1="276.82" y1="710.60" x2="280.03" y2="710.60" stroke="#000" stroke-width="1.1" />
<rect x="286.50" y="789.33" width="5.95" height="1.68" fill="#fff" stroke="#000" stroke-width="0.8"/>
<rect x="292.45" y="789.33" width="5.95" height="1.68" fill="#7c7c7c" stroke="#000" stroke-width="0.8"/>
<rect x="298.40" y="788.99" width="5.95" height="2.01" fill="#dadada" stroke="#000" stroke-width="0.8"/>
<rect x="304.35" y="787.65" width="5.95" height="3.35" fill="#000" stroke="#000" stroke-width="0.8"/>
<line x1="289.48" y1="789.66" x2="289.48" y2="788.99" stroke="#000" stroke-width="0.9" />
<line x1="287.88" y1="788.99" x2="291.08" y2="788.99" stroke="#000" stroke-width="1.1" />
<line x1="287.88" y1="789.66" x2="291.08" y2="789.66" stroke="#000" stroke-width="1.1" />
<line x1="295.43" y1="789.66" x2="295.43" y2="788.99" stroke="#000" stroke-width="0.9" />
<line x1="293.82" y1="788.99" x2="297.03" y2="788.99" stroke="#000" stroke-width="1.1" />
<line x1="293.82" y1="789.66" x2="297.03" y2="789.66" stroke="#000" stroke-width="1.1" />
<line x1="301.38" y1="789.33" x2="301.38" y2="788.65" stroke="#000" stroke-width="0.9" />
<line x1="299.77" y1="788.65" x2="302.98" y2="788.65" stroke="#000" stroke-width="1.1" />
<line x1="299.77" y1="789.33" x2="302.98" y2="789.33" stroke="#000" stroke-width="1.1" />
<line x1="307.33" y1="788.49" x2="307.33" y2="786.81" stroke="#000" stroke-width="0.9" />
<line x1="305.73" y1="786.81" x2="308.93" y2="786.81" stroke="#000" stroke-width="1.1" />
<line x1="305.73" y1="788.49" x2="308.93" y2="788.49" stroke="#000" stroke-width="1.1" />
<rect x="315.40" y="783.80" width="5.95" height="7.20" fill="#fff" stroke="#000" stroke-width="0.8"/>
<rect x="321.35" y="776.26" width="5.95" height="14.74" fill="#7c7c7c" stroke="#000" stroke-width="0.8"/>
<rect x="327.30" y="786.31" width="5.95" height="4.69" fill="#dadada" stroke="#000" stroke-width="0.8"/>
<rect x="333.25" y="757.50" width="5.95" height="33.50" fill="#000" stroke="#000" stroke-width="0.8"/>
<line x1="318.38" y1="786.31" x2="318.38" y2="781.28" stroke="#000" stroke-width="0.9" />
<line x1="316.77" y1="781.28" x2="319.98" y2="781.28" stroke="#000" stroke-width="1.1" />
<line x1="316.77" y1="786.31" x2="319.98" y2="786.31" stroke="#000" stroke-width="1.1" />
<line x1="324.32" y1="778.77" x2="324.32" y2="773.75" stroke="#000" stroke-width="0.9" />
<line x1="322.72" y1="773.75" x2="325.93" y2="773.75" stroke="#000" stroke-width="1.1" />
<line x1="322.72" y1="778.77" x2="325.93" y2="778.77" stroke="#000" stroke-width="1.1" />
<line x1="330.27" y1="786.81" x2="330.27" y2="785.81" stroke="#000" stroke-width="0.9" />
<line x1="328.67" y1="785.81" x2="331.88" y2="785.81" stroke="#000" stroke-width="1.1" />
<line x1="328.67" y1="786.81" x2="331.88" y2="786.81" stroke="#000" stroke-width="1.1" />
<line x1="336.23" y1="763.70" x2="336.23" y2="751.30" stroke="#000" stroke-width="0.9" />
<line x1="334.62" y1="751.30" x2="337.83" y2="751.30" stroke="#000" stroke-width="1.1" />
<line x1="334.62" y1="763.70" x2="337.83" y2="763.70" stroke="#000" stroke-width="1.1" />
<rect x="344.30" y="789.33" width="5.95" height="1.68" fill="#fff" stroke="#000" stroke-width="0.8"/>
<rect x="350.25" y="770.06" width="5.95" height="20.94" fill="#7c7c7c" stroke="#000" stroke-width="0.8"/>
<rect x="356.20" y="754.99" width="5.95" height="36.01" fill="#dadada" stroke="#000" stroke-width="0.8"/>
<rect x="362.15" y="716.29" width="5.95" height="74.70" fill="#000" stroke="#000" stroke-width="0.8"/>
<line x1="347.28" y1="789.66" x2="347.28" y2="788.99" stroke="#000" stroke-width="0.9" />
<line x1="345.68" y1="788.99" x2="348.88" y2="788.99" stroke="#000" stroke-width="1.1" />
<line x1="345.68" y1="789.66" x2="348.88" y2="789.66" stroke="#000" stroke-width="1.1" />
<line x1="353.23" y1="776.43" x2="353.23" y2="763.70" stroke="#000" stroke-width="0.9" />
<line x1="351.62" y1="763.70" x2="354.83" y2="763.70" stroke="#000" stroke-width="1.1" />
<line x1="351.62" y1="776.43" x2="354.83" y2="776.43" stroke="#000" stroke-width="1.1" />
<line x1="359.18" y1="766.21" x2="359.18" y2="743.76" stroke="#000" stroke-width="0.9" />
<line x1="357.57" y1="743.76" x2="360.78" y2="743.76" stroke="#000" stroke-width="1.1" />
<line x1="357.57" y1="766.21" x2="360.78" y2="766.21" stroke="#000" stroke-width="1.1" />
<line x1="365.13" y1="736.39" x2="365.13" y2="696.19" stroke="#000" stroke-width="0.9" />
<line x1="363.53" y1="696.19" x2="366.73" y2="696.19" stroke="#000" stroke-width="1.1" />
<line x1="363.53" y1="736.39" x2="366.73" y2="736.39" stroke="#000" stroke-width="1.1" />
<rect x="373.20" y="782.62" width="5.95" height="8.38" fill="#fff" stroke="#000" stroke-width="0.8"/>
<rect x="379.15" y="754.15" width="5.95" height="36.85" fill="#7c7c7c" stroke="#000" stroke-width="0.8"/>
<rect x="385.10" y="754.15" width="5.95" height="36.85" fill="#dadada" stroke="#000" stroke-width="0.8"/>
<rect x="391.05" y="682.12" width="5.95" height="108.88" fill="#000" stroke="#000" stroke-width="0.8"/>
<line x1="376.18" y1="784.30" x2="376.18" y2="780.95" stroke="#000" stroke-width="0.9" />
<line x1="374.57" y1="780.95" x2="377.78" y2="780.95" stroke="#000" stroke-width="1.1" />
<line x1="374.57" y1="784.30" x2="377.78" y2="784.30" stroke="#000" stroke-width="1.1" />
<line x1="382.12" y1="760.35" x2="382.12" y2="747.95" stroke="#000" stroke-width="0.9" />
<line x1="380.52" y1="747.95" x2="383.73" y2="747.95" stroke="#000" stroke-width="1.1" />
<line x1="380.52" y1="760.35" x2="383.73" y2="760.35" stroke="#000" stroke-width="1.1" />
<line x1="388.07" y1="755.83" x2="388.07" y2="752.48" stroke="#000" stroke-width="0.9" />
<line x1="386.47" y1="752.48" x2="389.68" y2="752.48" stroke="#000" stroke-width="1.1" />
<line x1="386.47" y1="755.83" x2="389.68" y2="755.83" stroke="#000" stroke-width="1.1" />
<line x1="394.03" y1="695.52" x2="394.03" y2="668.73" stroke="#000" stroke-width="0.9" />
<line x1="392.43" y1="668.73" x2="395.63" y2="668.73" stroke="#000" stroke-width="1.1" />
<line x1="392.43" y1="695.52" x2="395.63" y2="695.52" stroke="#000" stroke-width="1.1" />
<rect x="402.10" y="789.33" width="5.95" height="1.68" fill="#fff" stroke="#000" stroke-width="0.8"/>
<rect x="408.05" y="789.33" width="5.95" height="1.68" fill="#7c7c7c" stroke="#000" stroke-width="0.8"/>
<rect x="414.00" y="785.64" width="5.95" height="5.36" fill="#dadada" stroke="#000" stroke-width="0.8"/>
<rect x="419.95" y="782.62" width="5.95" height="8.38" fill="#000" stroke="#000" stroke-width="0.8"/>
<line x1="405.07" y1="789.66" x2="405.07" y2="788.99" stroke="#000" stroke-width="0.9" />
<line x1="403.47" y1="788.99" x2="406.68" y2="788.99" stroke="#000" stroke-width="1.1" />
<line x1="403.47" y1="789.66" x2="406.68" y2="789.66" stroke="#000" stroke-width="1.1" />
<line x1="411.02" y1="789.66" x2="411.02" y2="788.99" stroke="#000" stroke-width="0.9" />
<line x1="409.42" y1="788.99" x2="412.62" y2="788.99" stroke="#000" stroke-width="1.1" />
<line x1="409.42" y1="789.66" x2="412.62" y2="789.66" stroke="#000" stroke-width="1.1" />
<line x1="416.97" y1="786.48" x2="416.97" y2="784.80" stroke="#000" stroke-width="0.9" />
<line x1="415.37" y1="784.80" x2="418.57" y2="784.80" stroke="#000" stroke-width="1.1" />
<line x1="415.37" y1="786.48" x2="418.57" y2="786.48" stroke="#000" stroke-width="1.1" />
<line x1="422.93" y1="784.80" x2="422.93" y2="780.45" stroke="#000" stroke-width="0.9" />
<line x1="421.32" y1="780.45" x2="424.53" y2="780.45" stroke="#000" stroke-width="1.1" />
<line x1="421.32" y1="784.80" x2="424.53" y2="784.80" stroke="#000" stroke-width="1.1" />
<rect x="431.00" y="789.33" width="5.95" height="1.68" fill="#fff" stroke="#000" stroke-width="0.8"/>
<rect x="436.95" y="775.09" width="5.95" height="15.91" fill="#7c7c7c" stroke="#000" stroke-width="0.8"/>
<rect x="442.90" y="776.26" width="5.95" height="14.74" fill="#dadada" stroke="#000" stroke-width="0.8"/>
<rect x="448.85" y="742.09" width="5.95" height="48.91" fill="#000" stroke="#000" stroke-width="0.8"/>
<line x1="433.98" y1="789.83" x2="433.98" y2="788.82" stroke="#000" stroke-width="0.9" />
<line x1="432.38" y1="788.82" x2="435.58" y2="788.82" stroke="#000" stroke-width="1.1" />
<line x1="432.38" y1="789.83" x2="435.58" y2="789.83" stroke="#000" stroke-width="1.1" />
<line x1="439.93" y1="775.92" x2="439.93" y2="774.25" stroke="#000" stroke-width="0.9" />
<line x1="438.32" y1="774.25" x2="441.53" y2="774.25" stroke="#000" stroke-width="1.1" />
<line x1="438.32" y1="775.92" x2="441.53" y2="775.92" stroke="#000" stroke-width="1.1" />
<line x1="445.88" y1="778.77" x2="445.88" y2="773.75" stroke="#000" stroke-width="0.9" />
<line x1="444.27" y1="773.75" x2="447.48" y2="773.75" stroke="#000" stroke-width="1.1" />
<line x1="444.27" y1="778.77" x2="447.48" y2="778.77" stroke="#000" stroke-width="1.1" />
<line x1="451.83" y1="751.80" x2="451.83" y2="732.38" stroke="#000" stroke-width="0.9" />
<line x1="450.23" y1="732.38" x2="453.43" y2="732.38" stroke="#000" stroke-width="1.1" />
<line x1="450.23" y1="751.80" x2="453.43" y2="751.80" stroke="#000" stroke-width="1.1" />
<rect x="459.90" y="785.14" width="5.95" height="5.86" fill="#fff" stroke="#000" stroke-width="0.8"/>
<rect x="465.85" y="765.04" width="5.95" height="25.96" fill="#7c7c7c" stroke="#000" stroke-width="0.8"/>
<rect x="471.80" y="739.58" width="5.95" height="51.42" fill="#dadada" stroke="#000" stroke-width="0.8"/>
<rect x="477.75" y="712.94" width="5.95" height="78.06" fill="#000" stroke="#000" stroke-width="0.8"/>
<line x1="462.88" y1="786.48" x2="462.88" y2="783.80" stroke="#000" stroke-width="0.9" />
<line x1="461.27" y1="783.80" x2="464.48" y2="783.80" stroke="#000" stroke-width="1.1" />
<line x1="461.27" y1="786.48" x2="464.48" y2="786.48" stroke="#000" stroke-width="1.1" />
<line x1="468.82" y1="768.05" x2="468.82" y2="762.02" stroke="#000" stroke-width="0.9" />
<line x1="467.22" y1="762.02" x2="470.43" y2="762.02" stroke="#000" stroke-width="1.1" />
<line x1="467.22" y1="768.05" x2="470.43" y2="768.05" stroke="#000" stroke-width="1.1" />
<line x1="474.77" y1="754.15" x2="474.77" y2="725.00" stroke="#000" stroke-width="0.9" />
<line x1="473.17" y1="725.00" x2="476.38" y2="725.00" stroke="#000" stroke-width="1.1" />
<line x1="473.17" y1="754.15" x2="476.38" y2="754.15" stroke="#000" stroke-width="1.1" />
<line x1="480.73" y1="734.72" x2="480.73" y2="691.17" stroke="#000" stroke-width="0.9" />
<line x1="479.12" y1="691.17" x2="482.33" y2="691.17" stroke="#000" stroke-width="1.1" />
<line x1="479.12" y1="734.72" x2="482.33" y2="734.72" stroke="#000" stroke-width="1.1" />
<rect x="488.80" y="785.64" width="5.95" height="5.36" fill="#fff" stroke="#000" stroke-width="0.8"/>
<rect x="494.75" y="735.73" width="5.95" height="55.27" fill="#7c7c7c" stroke="#000" stroke-width="0.8"/>
<rect x="500.70" y="744.43" width="5.95" height="46.57" fill="#dadada" stroke="#000" stroke-width="0.8"/>
<rect x="506.65" y="678.77" width="5.95" height="112.23" fill="#000" stroke="#000" stroke-width="0.8"/>
<line x1="491.78" y1="786.48" x2="491.78" y2="784.80" stroke="#000" stroke-width="0.9" />
<line x1="490.18" y1="784.80" x2="493.38" y2="784.80" stroke="#000" stroke-width="1.1" />
<line x1="490.18" y1="786.48" x2="493.38" y2="786.48" stroke="#000" stroke-width="1.1" />
<line x1="497.73" y1="745.27" x2="497.73" y2="726.18" stroke="#000" stroke-width="0.9" />
<line x1="496.12" y1="726.18" x2="499.33" y2="726.18" stroke="#000" stroke-width="1.1" />
<line x1="496.12" y1="745.27" x2="499.33" y2="745.27" stroke="#000" stroke-width="1.1" />
<line x1="503.68" y1="756.16" x2="503.68" y2="732.71" stroke="#000" stroke-width="0.9" />
<line x1="502.07" y1="732.71" x2="505.28" y2="732.71" stroke="#000" stroke-width="1.1" />
<line x1="502.07" y1="756.16" x2="505.28" y2="756.16" stroke="#000" stroke-width="1.1" />
<line x1="509.63" y1="692.17" x2="509.63" y2="665.38" stroke="#000" stroke-width="0.9" />
<line x1="508.03" y1="665.38" x2="511.23" y2="665.38" stroke="#000" stroke-width="1.1" />
<line x1="508.03" y1="692.17" x2="511.23" y2="692.17" stroke="#000" stroke-width="1.1" />
<line x1="52.30" y1="791.00" x2="516.20" y2="791.00" stroke="#000" stroke-width="1.6" />
<rect x="53.0" y="657.00" width="93" height="53.80" fill="#fff" stroke="#000" stroke-width="1.4"/>
<rect x="63.6" y="660.20" width="20" height="8.8" fill="#fff" stroke="#000" stroke-width="1.3"/>
<text x="92.3" y="668.7" font-size="10.4" font-weight="bold" text-anchor="start" >WT</text>
<rect x="63.6" y="672.75" width="20" height="8.8" fill="#707070" stroke="#000" stroke-width="1.3"/>
<text x="92.3" y="681.2" font-size="10.4" font-weight="bold" text-anchor="start" >dnRAG1</text>
<rect x="63.6" y="685.30" width="20" height="8.8" fill="#cacaca" stroke="#000" stroke-width="1.3"/>
<text x="92.3" y="693.8" font-size="10.4" font-weight="bold" text-anchor="start" >E&#956;-TCL1</text>
<rect x="63.6" y="697.85" width="20" height="8.8" fill="#000" stroke="#000" stroke-width="1.3"/>
<text x="92.3" y="706.4" font-size="10.4" font-weight="bold" text-anchor="start" >DTG</text>
<text x="105.4" y="775.6" font-size="10.5" font-weight="bold" text-anchor="middle" font-style="italic">a,c</text>
<text x="134.2" y="775.1" font-size="10.5" font-weight="bold" text-anchor="middle" font-style="italic">a-c</text>
<text x="162.6" y="748.1" font-size="10.5" font-weight="bold" text-anchor="middle" font-style="italic">a</text>
<text x="221.3" y="753.1" font-size="10.5" font-weight="bold" text-anchor="middle" font-style="italic">a-c</text>
<text x="248.7" y="718.6" font-size="10.5" font-weight="bold" text-anchor="middle" font-style="italic">a</text>
<text x="278.5" y="684.1" font-size="10.5" font-weight="bold" text-anchor="middle" font-style="italic">a-c</text>
<text x="307.5" y="773.1" font-size="10.5" font-weight="bold" text-anchor="middle" font-style="italic">b</text>
<text x="337.5" y="743.9" font-size="10.5" font-weight="bold" text-anchor="middle" font-style="italic">a-c</text>
<text x="365.0" y="685.6" font-size="10.5" font-weight="bold" text-anchor="middle" font-style="italic">a-c</text>
<text x="394.5" y="653.9" font-size="10.5" font-weight="bold" text-anchor="middle" font-style="italic">a-c</text>
<text x="422.5" y="770.6" font-size="10.5" font-weight="bold" text-anchor="middle" font-style="italic">a-c</text>
<text x="451.3" y="718.1" font-size="10.5" font-weight="bold" text-anchor="middle" font-style="italic">a-c</text>
<text x="480.0" y="683.1" font-size="10.5" font-weight="bold" text-anchor="middle" font-style="italic">a,b</text>
<text x="510.0" y="653.9" font-size="10.5" font-weight="bold" text-anchor="middle" font-style="italic">a-c</text>
<text transform="translate(66.2,810) rotate(-45)" font-size="11.8" font-weight="bold" text-anchor="middle" dominant-baseline="central">LN</text>
<text transform="translate(95.1,810) rotate(-45)" font-size="11.8" font-weight="bold" text-anchor="middle" dominant-baseline="central">BM</text>
<text transform="translate(124.0,810) rotate(-45)" font-size="11.8" font-weight="bold" text-anchor="middle" dominant-baseline="central">PB</text>
<text transform="translate(152.9,810) rotate(-45)" font-size="11.8" font-weight="bold" text-anchor="middle" dominant-baseline="central">SPL</text>
<text transform="translate(181.8,810) rotate(-45)" font-size="11.8" font-weight="bold" text-anchor="middle" dominant-baseline="central">LN</text>
<text transform="translate(210.8,810) rotate(-45)" font-size="11.8" font-weight="bold" text-anchor="middle" dominant-baseline="central">BM</text>
<text transform="translate(239.7,810) rotate(-45)" font-size="11.8" font-weight="bold" text-anchor="middle" dominant-baseline="central">PB</text>
<text transform="translate(268.6,810) rotate(-45)" font-size="11.8" font-weight="bold" text-anchor="middle" dominant-baseline="central">SPL</text>
<text transform="translate(297.4,810) rotate(-45)" font-size="11.8" font-weight="bold" text-anchor="middle" dominant-baseline="central">LN</text>
<text transform="translate(326.4,810) rotate(-45)" font-size="11.8" font-weight="bold" text-anchor="middle" dominant-baseline="central">BM</text>
<text transform="translate(355.2,810) rotate(-45)" font-size="11.8" font-weight="bold" text-anchor="middle" dominant-baseline="central">PB</text>
<text transform="translate(384.1,810) rotate(-45)" font-size="11.8" font-weight="bold" text-anchor="middle" dominant-baseline="central">SPL</text>
<text transform="translate(413.1,810) rotate(-45)" font-size="11.8" font-weight="bold" text-anchor="middle" dominant-baseline="central">LN</text>
<text transform="translate(441.9,810) rotate(-45)" font-size="11.8" font-weight="bold" text-anchor="middle" dominant-baseline="central">BM</text>
<text transform="translate(470.8,810) rotate(-45)" font-size="11.8" font-weight="bold" text-anchor="middle" dominant-baseline="central">PB</text>
<text transform="translate(499.8,810) rotate(-45)" font-size="11.8" font-weight="bold" text-anchor="middle" dominant-baseline="central">SPL</text>
<line x1="56.25" y1="826.30" x2="163.75" y2="826.30" stroke="#000" stroke-width="2.7" />
<text x="107.2" y="847.4" font-size="16.3" font-weight="normal" text-anchor="middle" textLength="43.75" lengthAdjust="spacingAndGlyphs" stroke="#000" stroke-width="0.5">6 wks</text>
<line x1="172.50" y1="826.30" x2="280.00" y2="826.30" stroke="#000" stroke-width="2.7" />
<text x="223.5" y="847.4" font-size="16.3" font-weight="normal" text-anchor="middle" textLength="52.5" lengthAdjust="spacingAndGlyphs" stroke="#000" stroke-width="0.5">12 wks</text>
<line x1="288.75" y1="826.30" x2="396.25" y2="826.30" stroke="#000" stroke-width="2.7" />
<text x="339.8" y="847.4" font-size="16.3" font-weight="normal" text-anchor="middle" textLength="52.5" lengthAdjust="spacingAndGlyphs" stroke="#000" stroke-width="0.5">24 wks</text>
<line x1="405.00" y1="826.30" x2="512.50" y2="826.30" stroke="#000" stroke-width="2.7" />
<text x="456.0" y="847.4" font-size="16.3" font-weight="normal" text-anchor="middle" textLength="52.5" lengthAdjust="spacingAndGlyphs" stroke="#000" stroke-width="0.5">36 wks</text>
<text x="0.0" y="890.5" font-size="22" font-weight="bold" text-anchor="start" stroke="#000" stroke-width="0.4">E</text>
<defs><linearGradient id="ph" x1="0" y1="0" x2="0" y2="1"><stop offset="0" stop-color="#ececec"/><stop offset="0.5" stop-color="#e6e6e6"/><stop offset="1" stop-color="#dfdfdf"/></linearGradient></defs>
<rect x="34.8" y="875.3" width="113" height="164.2" fill="url(#ph)"/>
<path d="M84,886.5 C85,883.8 100,884 112,884.2 C117,884.4 117.6,886.5 117.4,889.5 C117.2,893.5 114,895 100,895.2 C90,895.3 84.2,895 83.7,891.5 C83.4,889 83.6,887.5 84,886.5Z" fill="#141414"/>
<path d="M86.5,922 C87.5,919 98,919.8 107,918.6 C115,917.5 119,917.5 118.8,921 C118.5,926 115,928.2 104,929.5 C94,930.5 86.8,930.3 86.2,927 C85.9,925 86,923.5 86.5,922Z" fill="#141414"/>
<path d="M82.5,953 C84,950.5 95,952 104,952.3 C113,952.5 119,950 124.5,950.8 C128.5,951.8 128.3,957 126,959.5 C121,962.5 110,962.4 100,962.4 C90,962.4 83.5,962.3 82.4,959.5 C81.7,957 81.9,955 82.5,953Z" fill="#121212"/>
<path d="M79.3,999 C79.5,994 81,991.5 85,990.3 C92,989 102,989.6 112,988.8 C123,988 131,985.5 136,981.5 C138.5,979.5 141,978 141.8,980.5 C142.6,984 140.5,991 136,997 C131,1003 122,1008 110,1010 C100,1011.3 90,1010.8 84.5,1008.5 C80.5,1006.5 79.2,1003 79.3,999Z" fill="#0e0e0e"/>
<path d="M97,891.8 h6 M90,958.8 h4 M108,959 h4 M96,990 h6 M110,989.5 h5" stroke="#aaa" stroke-width="0.9"/>
<text x="50.4" y="892.8" font-size="10.8" font-weight="bold" text-anchor="start" textLength="15.6" lengthAdjust="spacingAndGlyphs" >WT</text>
<text x="39.6" y="930.0" font-size="10.8" font-weight="bold" text-anchor="start" textLength="38.4" lengthAdjust="spacingAndGlyphs" >dnRAG1</text>
<text x="37.2" y="960.2" font-size="10.8" font-weight="bold" text-anchor="start" textLength="42.1" lengthAdjust="spacingAndGlyphs" >E&#956;-TCL1</text>
<text x="48.0" y="1004.1" font-size="10.8" font-weight="bold" text-anchor="start" textLength="21.7" lengthAdjust="spacingAndGlyphs" >DTG</text>
<rect x="61.3" y="1019.8" width="86.5" height="18.8" fill="#f0f0f0"/>
<path d="M64.40 1021.3v8M66.87 1021.3v4M69.34 1021.3v4M71.81 1021.3v4M74.28 1021.3v4M76.75 1021.3v6M79.22 1021.3v4M81.69 1021.3v4M84.16 1021.3v4M86.63 1021.3v4M89.10 1021.3v8M91.57 1021.3v4M94.04 1021.3v4M96.51 1021.3v4M98.98 1021.3v4M101.45 1021.3v6M103.92 1021.3v4M106.39 1021.3v4M108.86 1021.3v4M111.33 1021.3v4M113.80 1021.3v8M116.27 1021.3v4M118.74 1021.3v4M121.21 1021.3v4M123.68 1021.3v4M126.15 1021.3v6M128.62 1021.3v4M131.09 1021.3v4M133.56 1021.3v4M136.03 1021.3v4M138.50 1021.3v8M140.97 1021.3v4M143.44 1021.3v4M145.91 1021.3v4" stroke="#222" stroke-width="0.7"/>
<path d="M62,1021 H147.8" stroke="#666" stroke-width="0.6"/>
<text x="64.5" y="1036" font-size="5" fill="#222" font-weight="bold">MM</text>
<text x="81.8" y="1036" font-size="5" fill="#222" font-weight="bold">1 CM</text>
<text x="107" y="1036" font-size="5" fill="#222" font-weight="bold">2</text>
<text x="131.2" y="1036" font-size="5" fill="#222" font-weight="bold">3</text>
<line x1="194.20" y1="876.90" x2="511.50" y2="876.90" stroke="#000" stroke-width="1.4" />
<line x1="194.20" y1="888.30" x2="511.50" y2="888.30" stroke="#000" stroke-width="1.4" />
<line x1="194.20" y1="899.40" x2="511.50" y2="899.40" stroke="#000" stroke-width="1.4" />
<line x1="194.20" y1="911.00" x2="511.50" y2="911.00" stroke="#000" stroke-width="1.4" />
<line x1="194.20" y1="922.10" x2="511.50" y2="922.10" stroke="#000" stroke-width="1.4" />
<line x1="194.20" y1="933.50" x2="511.50" y2="933.50" stroke="#000" stroke-width="1.4" />
<line x1="194.20" y1="944.60" x2="511.50" y2="944.60" stroke="#000" stroke-width="1.4" />
<line x1="194.20" y1="955.80" x2="511.50" y2="955.80" stroke="#000" stroke-width="1.4" />
<line x1="194.20" y1="971.50" x2="511.50" y2="971.50" stroke="#000" stroke-width="1.4" />
<line x1="194.20" y1="1003.70" x2="511.50" y2="1003.70" stroke="#000" stroke-width="1.4" />
<line x1="189.50" y1="876.90" x2="194.20" y2="876.90" stroke="#000" stroke-width="1.3" />
<text x="189.6" y="881.1" font-size="10" font-weight="bold" text-anchor="end" >200</text>
<line x1="189.50" y1="899.40" x2="194.20" y2="899.40" stroke="#000" stroke-width="1.3" />
<text x="189.6" y="903.6" font-size="10" font-weight="bold" text-anchor="end" >150</text>
<line x1="189.50" y1="922.10" x2="194.20" y2="922.10" stroke="#000" stroke-width="1.3" />
<text x="189.6" y="926.3" font-size="10" font-weight="bold" text-anchor="end" >100</text>
<line x1="189.50" y1="944.60" x2="194.20" y2="944.60" stroke="#000" stroke-width="1.3" />
<text x="189.6" y="948.8" font-size="10" font-weight="bold" text-anchor="end" >50</text>
<line x1="189.50" y1="955.80" x2="194.20" y2="955.80" stroke="#000" stroke-width="1.3" />
<text x="189.6" y="960.0" font-size="10" font-weight="bold" text-anchor="end" >25</text>
<line x1="189.50" y1="971.50" x2="194.20" y2="971.50" stroke="#000" stroke-width="1.3" />
<text x="189.6" y="975.7" font-size="10" font-weight="bold" text-anchor="end" >20</text>
<line x1="189.50" y1="1003.70" x2="194.20" y2="1003.70" stroke="#000" stroke-width="1.3" />
<text x="189.6" y="1007.9" font-size="10" font-weight="bold" text-anchor="end" >10</text>
<line x1="189.50" y1="1035.50" x2="194.20" y2="1035.50" stroke="#000" stroke-width="1.3" />
<text x="189.6" y="1039.7" font-size="10" font-weight="bold" text-anchor="end" >0</text>
<text transform="translate(167.2,954.5) rotate(-90)" font-size="13.4" text-anchor="middle" stroke="#000" stroke-width="0.4">CD19<tspan dy="-5" font-size="8">+</tspan><tspan dy="5">CD5</tspan><tspan dy="-5" font-size="8">+</tspan><tspan dy="5"> cells (x 10</tspan><tspan dy="-5" font-size="8">6</tspan><tspan dy="5">)</tspan></text>
<rect x="208.00" y="1035.02" width="18.60" height="0.48" fill="#fff" stroke="#000" stroke-width="1"/>
<rect x="226.60" y="1031.34" width="20.50" height="4.16" fill="#d8d8d8" stroke="#000" stroke-width="1"/>
<rect x="247.10" y="1034.86" width="18.60" height="0.64" fill="#fff" stroke="#000" stroke-width="1"/>
<rect x="265.70" y="1013.10" width="19.70" height="22.40" fill="#000" stroke="#000" stroke-width="1"/>
<rect x="313.80" y="1035.02" width="19.30" height="0.48" fill="#fff" stroke="#000" stroke-width="1"/>
<rect x="333.10" y="1029.42" width="19.40" height="6.08" fill="#b0b0b0" stroke="#000" stroke-width="1"/>
<rect x="352.50" y="1034.22" width="19.00" height="1.28" fill="#fff" stroke="#000" stroke-width="1"/>
<rect x="371.50" y="938.60" width="19.90" height="96.90" fill="#000" stroke="#000" stroke-width="1"/>
<rect x="419.60" y="1035.02" width="19.20" height="0.48" fill="#fff" stroke="#000" stroke-width="1"/>
<rect x="438.80" y="1000.90" width="19.40" height="34.60" fill="#a8a8a8" stroke="#000" stroke-width="1"/>
<rect x="458.20" y="1017.70" width="19.10" height="17.80" fill="#dcdcdc" stroke="#000" stroke-width="1"/>
<rect x="477.30" y="905.00" width="19.70" height="130.50" fill="#000" stroke="#000" stroke-width="1"/>
<line x1="236.85" y1="1032.30" x2="236.85" y2="1030.38" stroke="#000" stroke-width="1.2" />
<line x1="234.35" y1="1030.38" x2="239.35" y2="1030.38" stroke="#000" stroke-width="1.4" />
<line x1="234.35" y1="1032.30" x2="239.35" y2="1032.30" stroke="#000" stroke-width="1.4" />
<line x1="275.55" y1="1015.66" x2="275.55" y2="1010.22" stroke="#000" stroke-width="1.2" />
<line x1="273.05" y1="1010.22" x2="278.05" y2="1010.22" stroke="#000" stroke-width="1.4" />
<line x1="273.05" y1="1015.66" x2="278.05" y2="1015.66" stroke="#000" stroke-width="1.4" />
<line x1="342.80" y1="1031.66" x2="342.80" y2="1026.86" stroke="#000" stroke-width="1.2" />
<line x1="340.30" y1="1026.86" x2="345.30" y2="1026.86" stroke="#000" stroke-width="1.4" />
<line x1="340.30" y1="1031.66" x2="345.30" y2="1031.66" stroke="#000" stroke-width="1.4" />
<line x1="381.45" y1="938.60" x2="381.45" y2="929.50" stroke="#000" stroke-width="1.2" />
<line x1="378.95" y1="929.50" x2="383.95" y2="929.50" stroke="#000" stroke-width="1.4" />
<line x1="378.95" y1="938.60" x2="383.95" y2="938.60" stroke="#000" stroke-width="1.4" />
<line x1="448.50" y1="1029.20" x2="448.50" y2="972.70" stroke="#000" stroke-width="1.2" />
<line x1="446.00" y1="972.70" x2="451.00" y2="972.70" stroke="#000" stroke-width="1.4" />
<line x1="446.00" y1="1029.20" x2="451.00" y2="1029.20" stroke="#000" stroke-width="1.4" />
<line x1="467.75" y1="1027.60" x2="467.75" y2="1005.00" stroke="#000" stroke-width="1.2" />
<line x1="465.25" y1="1005.00" x2="470.25" y2="1005.00" stroke="#000" stroke-width="1.4" />
<line x1="465.25" y1="1027.60" x2="470.25" y2="1027.60" stroke="#000" stroke-width="1.4" />
<line x1="487.15" y1="905.00" x2="487.15" y2="885.20" stroke="#000" stroke-width="1.2" />
<line x1="484.65" y1="885.20" x2="489.65" y2="885.20" stroke="#000" stroke-width="1.4" />
<line x1="484.65" y1="905.00" x2="489.65" y2="905.00" stroke="#000" stroke-width="1.4" />
<path d="M370.7,958.0 L392.2,947.4 L392.2,960.3 L370.7,971.0Z" fill="#fff"/>
<path d="M392.2,955.8 h7" stroke="#fff" stroke-width="3"/>
<path d="M476.5,958.0 L497.8,947.4 L497.8,960.3 L476.5,971.0Z" fill="#fff"/>
<path d="M497.8,955.8 h7" stroke="#fff" stroke-width="3"/>
<line x1="194.20" y1="876.20" x2="194.20" y2="1036.20" stroke="#000" stroke-width="1.5" />
<line x1="511.50" y1="876.20" x2="511.50" y2="1036.20" stroke="#000" stroke-width="1.5" />
<line x1="194.20" y1="1035.50" x2="511.50" y2="1035.50" stroke="#000" stroke-width="1.6" />
<rect x="194.2" y="876.9" width="91" height="52.7" fill="#fff" stroke="#000" stroke-width="1.4"/>
<rect x="204.8" y="879.70" width="19.8" height="9.2" fill="#fff" stroke="#000" stroke-width="1.3"/>
<text x="233.4" y="888.7" font-size="10" font-weight="bold" text-anchor="start" textLength="14.6" lengthAdjust="spacingAndGlyphs" >WT</text>
<rect x="204.8" y="892.50" width="19.8" height="9.2" fill="#6a6a6a" stroke="#000" stroke-width="1.3"/>
<text x="233.4" y="901.5" font-size="10" font-weight="bold" text-anchor="start" textLength="38.4" lengthAdjust="spacingAndGlyphs" >dnRAG1</text>
<rect x="204.8" y="905.30" width="19.8" height="9.2" fill="#c4c4c4" stroke="#000" stroke-width="1.3"/>
<text x="233.4" y="914.3" font-size="10" font-weight="bold" text-anchor="start" textLength="41.1" lengthAdjust="spacingAndGlyphs" >E&#956;-TCL1</text>
<rect x="204.8" y="918.10" width="19.8" height="9.2" fill="#000" stroke="#000" stroke-width="1.3"/>
<text x="233.4" y="927.1" font-size="10" font-weight="bold" text-anchor="start" textLength="21" lengthAdjust="spacingAndGlyphs" >DTG</text>
<text x="274.6" y="1007.1" font-size="21.5" font-weight="bold" text-anchor="middle" textLength="24.6" lengthAdjust="spacingAndGlyphs" >***</text>
<text x="380.6" y="927.9" font-size="21.5" font-weight="bold" text-anchor="middle" textLength="24.6" lengthAdjust="spacingAndGlyphs" >***</text>
<text x="487.7" y="880.5" font-size="21.5" font-weight="bold" text-anchor="middle" textLength="24.6" lengthAdjust="spacingAndGlyphs" >***</text>
<text x="247.4" y="1054.6" font-size="10.3" font-weight="bold" text-anchor="middle" >12</text>
<text x="353.0" y="1054.6" font-size="10.3" font-weight="bold" text-anchor="middle" >24</text>
<text x="459.3" y="1054.6" font-size="10.3" font-weight="bold" text-anchor="middle" >36</text>
<text x="351.5" y="1071.5" font-size="13" font-weight="normal" text-anchor="middle" textLength="58.6" lengthAdjust="spacingAndGlyphs" stroke="#000" stroke-width="0.5">Age (wks)</text>
</svg></body></html>
